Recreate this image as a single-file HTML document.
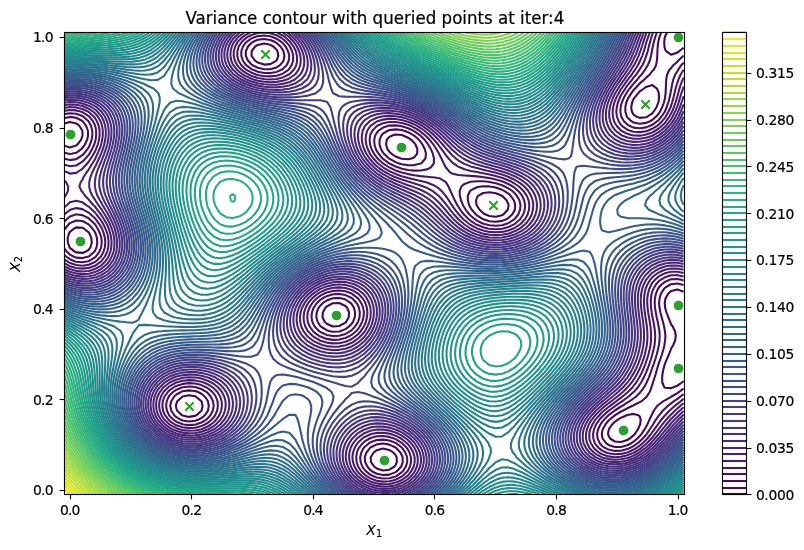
<!DOCTYPE html>
<html><head><meta charset="utf-8"><title>Variance contour</title>
<style>html,body{margin:0;padding:0;background:#fff}body{width:804px;height:550px;overflow:hidden}svg{display:block}</style></head>
<body>
<svg width="804" height="550" viewBox="0 0 804 550">
<rect width="804" height="550" fill="#fff"/>
<defs><clipPath id="ax"><rect x="64.5" y="32.5" width="620.0" height="462.0"/></clipPath></defs>
<g clip-path="url(#ax)" fill="none" stroke-width="2.083" stroke-linejoin="round">
<path stroke="#450559" d="M376.8 468.5l-2.7-2l-3.2-4.7l-0.2-4.6l3-4.7l3.1-2.3l6.2-1.6l6.3 1.3l4 2.6l2.3 2.6l1 2.1l0.3 4.6l-1.3 3.2l-1.1 1.5l-5.2 3.2l-6.3 0.8zM614.8 441.5l-4.7-3l-1.6-3l-0.5-1.7l0.5-2.9l0.4-1.7l3.2-4.7l2.7-2.7l2.7-2l3.5-2.1l5.8-2.5l0.5-0.2l6.2-1.1l5 1.3l1.3 1.3l0.9 3.3l-0.6 4.7l-0.3 0.7l-1.8 4l-3 4.6l-1.5 1.6l-3.7 3.1l-2.5 1.5l-6.3 2zM182.6 415.6l-0.7-0.4l-4.9-4.7l-0.6-2l-0.5-2.7l0.5-2.2l0.9-2.4l5.3-4.7l6.3-1.2l6.3 0.9l0.5 0.3l5.7 4.7l0 0.1l1.2 4.5l-1 4.7l-0.2 0.3l-4.9 4.4l-1.3 0.7l-6.3 1zM683.6 381.2l-1.7 1.3l-4.5 3.2l-4 1.5l-2.3 0.9l-6.2-0.4l-0.6-0.5l-2-4.7l-0.2-4.7l0.5-4.6l1-4.7l1.3-4.7l2-4.6l2-4.7l1.8-4.7l0.4-1.3l2.1-3.3l1.9-4.7l0.7-4.7l-0.8-4.6l-2.3-4.7l-1.6-2.1l-0.9-2.6l-1.9-4.6l-1.8-4.7l-1.4-4.7l-0.2-2.6l-0.2-2l0.2-1.3l0.6-3.4l2.6-4.7l3-2.8l6.3-1.6l6.2 2.4M326.7 323.7l-2-1.9l-2.2-4.6l0.3-4.7l2.6-4.7l1.3-1.3l6.2-3.3l1.5 0l4.8-0.2l0.6 0.2l5.7 2.8l1.7 1.8l1.9 4.7l-0.4 4.7l-2.5 4.6l-0.7 0.8l-6.3 3.4l-6.3 0.5zM76.2 252.4l-1.1-0.6l-5.2-4l-0.4-0.6l-1.7-4.7l-0.1-4.7l1.4-4.6l0.8-1.4l4.3-3.3l2-1.1l6.2 0.3l1.3 0.8l5 3.8l0.6 0.9l2 4.6l0.5 4.7l-1.3 4.7l-1.8 2.6l-3.3 2l-3 1.1zM489.5 216l-3.9-1.5l-2.4-1.4l-3.6-3.3l-2.6-4l-0.4-0.6l-0.6-4.7l1-2.8l1.1-1.9l5.1-2.8l6.3-0.8l6.3 1l6.2 2.5l0.2 0.1l4.5 4.7l1.6 3.7l0.3 1l-0.3 2l-0.6 2.6l-4.4 4.7l-1.3 0.7l-6.2 1.5zM401.8 158.8l-1.1-0.3l-5.1-2l-4-2.7l-2.3-2.1l-1.8-2.5l-1.5-4.7l0.8-4.7l2.5-2.9l3.7-1.7l2.6-0.7l6.2 0.5l0.7 0.2l5.6 2.5l3.1 2.1l3.2 3.2l1.1 1.5l1.9 4.7l-0.3 4.6l-2.7 3.4l-2.9 1.3l-3.4 0.8zM63.6 123.7l6.3-1.8l6.3 1.5l3.1 2.4l3 4.7l0.1 1.7l0.2 3l-0.2 0.8l-1.4 3.8l-3.6 4.7l-1.2 1.1l-6.3 1.8l-6.3-2M639.8 117.9l-3.6-1.4l-2.7-1.9l-1.6-2.8l-0.7-4.6l0.9-4.7l1.4-3.3l0.9-1.4l3.8-4.6l1.6-1.8l4.2-2.9l2.1-1.6l6.2-1.8l4.6 3.4l1.7 3.6l0.2 1.1l0.2 4.6l-0.4 3.2l-0.3 1.5l-1.8 4.7l-2.9 4.6l-1.3 1.5l-4.8 3.2l-1.4 0.8zM257.8 62.6l-2.9-2.1l-3.3-4.7l0-4.6l3.6-4.7l2.6-1.6l6.3-1.4l6.2 1.3l3 1.7l3.3 3.3l0.9 1.4l0.8 4.6l-1.7 4.7l0 0.1l-6.3 3.5l-6.2 0.5zM683.6 47.7l-4.5 3.5l-1.7 1.4l-6.3 2.1l-5-3.5l-1.2-2.4l-0.5-2.3l-0.2-4.7l0.6-4.6l0.1-0.2l2-4.5"/>
<path stroke="#460b5e" d="M376.8 473.7l-5-2.5l-1.3-1l-3.2-3.7l-2.2-4.7l-0.3-4.6l1.6-4.7l3.7-4.7l0.4-0.3l6.3-3.1l6.2-0.9l6.3 1.1l6.3 2.9l0.4 0.3l4.4 4.7l1.4 2.8l0.8 1.9l0.2 4.6l-1 3.2l-0.6 1.5l-4.3 4.7l-1.3 0.9l-6.3 2.5l-6.3 0.5zM182.6 420.5l-1.7-0.7l-4.5-2.6l-2.2-2l-3-4.7l-1-4.7l1-4.6l3-4.7l2.2-2l4.9-2.7l1.3-0.5l6.3-0.9l6.3 0.6l2.2 0.8l4 2l3.3 2.7l3 4.2l0.3 0.5l0.8 4.6l-0.8 4.7l-0.3 0.6l-2.8 4.1l-3.5 2.9l-3.4 1.7l-2.8 1l-6.3 0.7zM683.6 388.6l-4.5 3.2l-1.7 1.3l-5.8 3.4l-0.5 0.3l-6.2 3.5l-1.7 0.9l-4.6 3.6l-1.3 1l-3.4 4.7l-1.6 3.2l-0.7 1.5l-2.2 4.6l-2.1 4.7l-1.2 2.3l-1.4 2.4l-3.1 4.6l-1.8 2.2l-2.4 2.5l-3.9 3.2l-2.2 1.5l-4 2l-6.3 1.8l-6.2 0l-6.3-2.1l-2.4-1.7l-3.5-4.7l-0.4-1.7l-0.4-3l0.4-2.2l0.6-2.4l2.6-4.7l3.1-3.8l0.9-0.9l5.4-4.4l0.3-0.2l5.9-3.7l2.1-1l4.2-2.2l5.3-2.5l0.9-0.5l6.3-3.2l1.8-0.9l4.5-4l0.7-0.7l3-4.7l1.7-4.6l0.8-2.6l0.7-2.1l1.5-4.7l1.4-4.6l1.3-4.7l1.4-4.6l0-0.1l1.7-4.6l1.6-4.7l1.4-4.7l1.1-4.6l0.5-3.5l0.2-1.2l0.3-4.7l-0.5-4.6l0-0.1l-0.8-4.6l-1.2-4.7l-1.2-4.6l-1.3-4.7l-0.9-4.7l-0.4-4.6l0.4-4.7l1.4-4.7l2.8-4.6l1.2-1.3l5.4-3.4l0.8-0.3l6.3-0.7l4.1 1l2.1 0.6M332.9 331.8l-2.8-0.6l-3.4-1l-5.9-3.7l-0.4-0.3l-2.8-4.4l-1.3-4.6l0.4-4.7l1.9-4.7l1.8-2.4l2.3-2.2l4-2.7l5.3-2l0.9-0.3l6.3-0.3l2.8 0.6l3.5 1l5.4 3.7l0.8 0.9l2.3 3.7l1.1 4.7l-0.3 4.7l-1.8 4.6l-1.3 1.9l-2.6 2.8l-3.6 2.6l-5.3 2.1l-1 0.3zM63.6 231.3l1.6-2.8l4-4.7l0.7-0.7l6.3-2.6l6.2 0.5l5.3 2.8l1 0.6l3.7 4.1l2.6 3.6l0.5 1.1l1.4 4.6l0.4 4.7l-0.7 4.7l-1.6 3.7l-0.7 0.9l-5.5 4.7l-0.1 0.1l-6.3 1.5l-6.2-0.5l-2.7-1.1l-3.6-1.9l-3-2.8l-3.3-4.5M483.2 219.3l-0.3-0.1l-5.9-3.9l-1-0.8l-4.2-4.7l-1.1-1.8l-1.5-2.8l-1.3-4.7l-0.1-4.7l2.1-4.6l0.8-0.8l6.3-3.2l4-0.7l2.2-0.3l6.3 0.2l0.4 0.1l5.9 1.1l6.2 2.2l2.6 1.4l3.7 2.4l2.4 2.2l3.3 4.7l0.6 1.9l0.6 2.8l-0.4 4.6l-0.2 0.6l-2.4 4.1l-3.9 3.6l-1.8 1.1l-4.5 1.7l-6.2 0.9l-6.3-0.5zM401.8 164.2l-3.4-1l-2.8-1.1l-6.3-3.4l-0.3-0.2l-5-4.7l-1-1.2l-2-3.4l-1.5-4.7l0.1-4.7l2-4.6l1.4-1.6l5.2-3.1l1.1-0.4l6.3-0.7l6.2 0.6l1.5 0.5l4.8 1.7l5.3 3l1 0.6l4.5 4l1.7 2.1l1.9 2.6l2.3 4.7l1.2 4.6l-0.6 4.7l-4.1 4.7l-0.7 0.3l-6.2 1.6l-6.3 0.1zM63.6 118.2l6.3-1.3l6.3 0.9l6.2 3.2l0.2 0.2l3.5 4.6l1.8 4.7l0.2 4.7l-1 4.6l-2.2 4.7l-2.5 3.6l-1.1 1.1l-5.1 3.6l-4.7 1l-1.6 0.3l-1.2-0.3l-5.1-1.3M257.8 67.8l-5.3-2.6l-1-0.7l-3.6-4l-2.1-4.7l0-4.6l2.2-4.7l3.5-3.7l1.6-1l4.7-2l6.3-0.8l6.2 1l4.5 1.8l1.8 1.1l3.9 3.6l2.3 3.4l0.7 1.3l0.9 4.6l-0.8 4.7l-0.8 1.3l-2.8 3.4l-3.4 2.2l-6.3 1.9l-6.2 0zM683.6 55.6l-0.2 0.2l-5 4.7l-1 1.2l-4.1 3.5l-2.2 3l-1.7 1.6l-2.3 4.7l-0.8 4.7l-0.3 4.6l-0.2 4.7l-0.2 4.7l-0.6 4.6l-0.1 0.8l-1 3.9l-1.7 4.7l-2.3 4.6l-1.3 2.1l-2.4 2.6l-3.9 3.5l-2.2 1.2l-4 1.7l-6.3 0.9l-6.3-1.3l-2.2-1.3l-4-3.9l-0.5-0.8l-1.4-4.7l-0.1-4.6l1-4.7l1-2.5l1-2.2l3.1-4.6l2.1-3l1.6-1.7l4.4-4.7l0.3-0.4l4.9-4.2l1.4-1.6l3.7-3.1l2.5-3.5l1.4-1.2l2.4-4.6l0.8-4.7l0.4-4.7l0.1-4.6l0.3-4.7l0.6-4.7l0.3-1.4l0.8-3.2l1.8-4.7"/>
<path stroke="#471164" d="M376.8 477.5l-4.3-1.7l-2-1l-4.7-3.6l-1.5-1.8l-2-2.9l-1.7-4.7l-0.4-4.6l1.1-4.7l2.5-4.7l0.5-0.6l4.8-4l1.4-0.9l6.3-2.2l6.2-0.5l6.3 0.9l6.3 2.4l0.5 0.3l5.7 4.3l0.3 0.3l3.2 4.7l1.8 4.7l0.2 4.6l-1.4 4.7l-3 4.7l-1.1 1l-5.1 3.6l-1.1 0.6l-6.3 1.8l-6.3 0.3zM188.9 425.1l-5-0.6l-1.3-0.2l-6.2-2.6l-2.8-1.9l-3.5-3.2l-1.1-1.4l-2.1-4.7l-0.8-4.7l0.6-4.6l2.1-4.7l1.3-1.7l3.2-3l3.1-2.1l6.2-2.5l0.6 0l5.7-0.7l6.3 0.5l0.8 0.2l5.4 1.8l4.9 2.8l1.4 1.2l3 3.5l2.3 4.7l0.7 4.6l-0.8 4.7l-2.4 4.7l-2.8 3.2l-1.7 1.4l-4.6 2.7l-5.7 2l-0.5 0.1zM683.6 394.2l-3.1 2.3l-3.1 2.4l-3.4 2.3l-2.9 2.2l-3.2 2.4l-3 2.9l-1.9 1.8l-3.8 4.7l-0.6 0.7l-2.8 3.9l-2.8 4.7l-0.7 1l-2.4 3.7l-3.1 4.6l-0.7 0.9l-3.3 3.8l-3 2.9l-2.1 1.8l-4.2 2.9l-3.2 1.7l-3 1.3l-6.3 1.6l-6.2 0.2l-6.3-1.3l-3.7-1.8l-2.6-1.8l-2.5-2.8l-2.1-4.7l-0.5-4.7l1-4.6l2.3-4.7l1.8-2.7l1.7-2l4.6-4.6l0.1 0l6.2-4.7l6.2-4l1.3-0.7l5-3.1l2.5-1.5l3.7-2.7l2.7-2l3.6-3.7l0.9-1l3.4-4.6l2-3.8l0.5-0.9l2.1-4.7l1.8-4.6l1.6-4.7l0.2-0.8l1.5-3.9l1.5-4.6l1.4-4.7l1.2-4.7l0.7-3.5l0.3-1.1l0.6-4.7l0.2-4.7l-0.3-4.6l-0.8-4.7l-0.9-4.7l-1-4.6l-0.9-4.7l-0.8-4.7l-0.3-4.6l0.2-4.7l1-4.7l1.9-4.6l0.8-1.4l3-3.3l3.3-2.6l4.7-2.1l1.5-0.5l6.3-0.3l4.1 0.8l2.1 0.6M332.9 336.1l-1.6-0.3l-4.6-0.9l-6.3-2.9l-1.2-0.8l-4.6-4.7l-0.4-0.7l-1.9-4l-0.8-4.6l0.4-4.7l1.6-4.7l0.7-1l2.6-3.6l3.6-3.4l1.9-1.3l4.4-2.3l6.2-1.9l6.3-0.4l6.3 1.2l6.2 2.9l0.7 0.5l4.3 4.7l1.3 2.2l1 2.4l0.8 4.7l-0.3 4.7l-1.4 4.6l-0.1 0.3l-2.9 4.4l-3.4 3.6l-1.4 1.1l-4.8 2.7l-6.3 1.9zM489.5 225.3l-5.9-1.5l-0.4-0.1l-6.2-3.1l-2.1-1.4l-4.2-3.5l-1.2-1.2l-3.8-4.7l-1.2-2.1l-1.5-2.5l-1.9-4.7l-1.2-4.7l-0.3-4.6l1.7-4.7l3.2-2.6l6-2.1l0.2 0l6.3-0.6l6.2 0.1l5 0.5l1.3 0.2l6.3 1.3l6.2 2l2.9 1.2l3.4 1.8l4.2 2.9l2.1 1.9l2.3 2.7l2.6 4.7l1 4.7l-0.4 4.6l-1.9 4.7l-3.6 4.7l-6.3 4l-1.7 0.6l-4.6 1.4l-6.2 0.6zM63.6 222.2l3.1-3l3.2-2.7l5.8-2l0.5-0.1l1.2 0.1l5 0.6l6.3 3.2l0.9 0.9l4.9 4.6l0.5 0.5l2.6 4.2l2.3 4.7l1.3 4.1l0.2 0.5l0.3 4.7l-0.5 4.7l-1.9 4.6l-3.4 4.7l-0.9 0.9l-6.3 3.7l-0.4 0.1l-5.9 1l-6.2-0.5l-1.5-0.5l-4.8-2l-3.8-2.7l-2.5-2.3M401.8 168.7l-2.5-0.9l-3.7-1.3l-6.3-3l-0.5-0.3l-5.8-4.3l-0.4-0.4l-4-4.7l-1.8-2.9l-0.9-1.7l-1.4-4.7l-0.3-4.7l1.1-4.6l1.5-2.5l1.9-2.2l4.3-2.9l5.5-1.8l0.8-0.2l6.3-0.2l3.7 0.4l2.5 0.4l6.3 2l4.9 2.3l1.4 0.8l5.5 3.9l0.7 0.6l4 4l2.3 2.9l1.3 1.8l2.7 4.7l2 4.6l0.2 1.2l0.9 3.5l-0.2 4.7l-0.7 1.3l-2.7 3.3l-3.5 1.6l-6.3 1.1l-6.2 0.1l-6.3-0.6zM63.6 114.2l6.3-1l6.3 0.6l6.2 2.3l0.8 0.4l5.3 4.7l0.2 0.3l2.3 4.3l1.2 4.7l0.2 4.7l-0.8 4.6l-1.6 4.7l-1.3 2.8l-1.2 1.9l-3.8 4.6l-1.3 1.4l-5.2 3.3l-1 0.6l-6.3 1l-6.1-1.6l-0.2 0M257.8 71.7l-4.8-1.9l-1.5-0.7l-5.3-3.9l-0.9-1.1l-2.5-3.6l-1.5-4.7l0-4.6l1.7-4.7l2.3-3.3l1.3-1.4l4.9-3.4l3-1.2l3.3-1.1l6.3-0.6l6.2 0.8l2.7 0.9l3.6 1.5l4.7 3.1l1.5 1.4l2.8 3.3l2.5 4.7l1 4.1l0.1 0.5l-0.1 1.6l-0.3 3.1l-2.2 4.7l-3.8 3.8l-1.3 0.8l-4.9 2.1l-6.3 1.2l-6.2-0.1zM683.6 62.6l-2.3 2.6l-3.2 4.6l-0.7 1.4l-2.1 3.3l-1.9 4.7l-1.2 4.6l-0.8 4.7l-0.3 1.5l-0.6 3.2l-1 4.6l-1.2 4.7l-1.6 4.7l-1.8 4.3l-0.2 0.3l-3.2 4.7l-2.9 3.5l-1.3 1.2l-5 3.6l-2.2 1l-4 1.6l-6.3 0.9l-6.3-0.7l-4.1-1.8l-2.1-1.2l-3.4-3.4l-2.7-4.7l-0.2-0.9l-0.6-3.8l0.2-4.6l0.4-1.9l0.8-2.8l2-4.7l2.6-4.6l0.9-1.5l2.4-3.2l3.7-4.7l0.1-0.2l4.1-4.4l2.2-2.8l1.8-1.9l3.4-4.7l1.1-1.9l1.7-2.7l2-4.7l1.2-4.7l0.9-4.6l0.4-2.2l0.5-2.5l1.1-4.7l1.3-4.6l1.6-4.7"/>
<path stroke="#481668" d="M376.8 480.7l-0.7-0.2l-5.6-2.1l-4.2-2.6l-2-1.5l-3.1-3.1l-3.1-4.7l-0.1-0.2l-1.4-4.5l-0.4-4.6l0.7-4.7l1.1-2.9l0.9-1.8l3.8-4.6l1.6-1.5l5.3-3.2l0.9-0.5l6.3-1.7l6.2-0.3l6.3 0.9l4.8 1.6l1.5 0.6l6.2 3.8l0.4 0.3l4.5 4.6l1.4 2l1.4 2.7l1.4 4.7l0.2 4.6l-1.1 4.7l-1.9 3.8l-0.6 0.9l-4.7 4.6l-1 0.7l-6.2 3.2l-2.8 0.8l-3.5 0.8l-6.3 0.3zM176.4 425.3l-1.5-0.8l-4.8-3.2l-1.5-1.5l-3.6-4.6l-1.1-2.4l-0.9-2.3l-0.6-4.7l0.4-4.6l1.1-3.1l0.6-1.6l3.5-4.7l2.1-2l3.9-2.6l2.4-1.3l6.2-2l6.3-0.8l6.3 0.4l6.2 1.6l4.6 2.1l1.7 0.9l4.5 3.7l1.8 2.1l1.7 2.6l1.8 4.7l0.4 4.6l-0.7 4.7l-2 4.7l-1.2 1.8l-2.5 2.8l-3.8 3.1l-2.8 1.6l-3.5 1.6l-6.2 1.6l-6.3 0.4l-6.3-0.8zM683.6 398.9l-2.8 2.3l-3.4 2.7l-2.5 1.9l-3.8 3.4l-1.5 1.3l-4.4 4.7l-0.3 0.3l-3.7 4.3l-2.6 3.7l-0.7 1l-3.4 4.7l-2.2 3l-1.2 1.6l-3.8 4.7l-1.2 1.3l-3.4 3.4l-2.9 2.4l-3.2 2.2l-3.1 1.9l-6.2 2.8l-6.3 1.4l-6.2 0.3l-6.3-0.9l-2.3-0.8l-4-1.9l-3.7-2.8l-2.5-2.9l-1.1-1.7l-1.6-4.7l-0.2-4.7l0.9-4.6l2-4.6l0-0.1l3.3-4.7l2.9-3.3l1.4-1.3l4.9-4.3l0.5-0.4l5.8-4.2l0.6-0.5l5.6-3.8l1.3-0.8l5-3.7l1.4-1l4.8-4.4l0.4-0.3l4.1-4.6l1.8-2.7l1.3-2l2.6-4.7l2-4.6l0.4-0.8l1.6-3.9l1.7-4.7l1.5-4.6l1.4-4.7l0-0.3l1.2-4.4l1-4.6l0.5-4.7l0.2-4.7l-0.3-4.6l-0.6-4.7l-0.8-4.7l-1-4.6l-0.2-0.9l-0.6-3.8l-0.6-4.7l-0.3-4.6l0.1-4.7l0.7-4.7l0.7-2.4l0.9-2.2l2.7-4.7l2.7-3.1l2-1.6l4.3-2.5l6.2-2l3.7-0.1l2.6-0.1l0.4 0.1l5.8 1.3M320.4 336.6l-1.4-0.8l-4.8-3.5l-1.2-1.1l-3.3-4.7l-1.8-4.4l-0.1-0.3l-0.5-4.6l0.4-4.7l0.2-0.5l1.5-4.2l2.8-4.6l2-2.4l2.4-2.3l3.8-2.9l3.4-1.8l2.9-1.3l6.2-1.6l6.3-0.4l6.3 0.8l6.2 2.3l0.4 0.2l5.9 4.5l0.2 0.2l3.1 4.7l1.9 4.6l0.7 4.7l-0.4 4.7l-1.3 4.6l-2.4 4.7l-1.8 2.6l-1.9 2.1l-4.4 3.6l-1.7 1l-4.5 2.2l-6.3 1.6l-6.3 0.3l-6.2-1zM489.5 228.8l-1.6-0.3l-4.7-1.2l-6.2-2.5l-1.7-1l-4.6-3l-2-1.6l-4.2-4.1l-0.6-0.6l-3.6-4.7l-2.1-3.3l-0.9-1.3l-2.4-4.7l-2.3-4.7l-0.7-1.8l-1.3-2.8l-2.1-4.7l-2.8-4.6l-0.1-0.1l-6.2-3.6l-6.3-0.9l-1.4-0.1l-4.8-0.5l-6.3-0.6l-6.2-0.9l-6.3-1.1l-6.3-1.5l-0.2-0.1l-6-2.1l-5.6-2.6l-0.7-0.3l-6.3-4.1l-0.3-0.2l-5-4.7l-0.9-1l-2.7-3.7l-2.5-4.6l-1.1-3.2l-0.4-1.5l-0.5-4.7l0.6-4.6l0.3-0.9l2-3.8l4.3-4.4l0.4-0.3l5.8-2.6l6.3-1.2l6.3 0l6.2 1l6.3 1.8l2.5 1l3.8 1.8l4.7 2.9l1.5 1.1l4.4 3.6l1.9 1.8l2.7 2.8l3.5 4.4l0.3 0.3l3 4.7l2.7 4.6l0.3 0.7l2 4l2.3 4.7l2 4.1l0.4 0.5l4.1 4.7l1.7 1.1l6.3 1.4l6.3 0.5l6.2 0.4l6.3 0.5l6.2 0.7l0.6 0.1l5.7 0.9l6.3 1.4l6.2 1.8l1.3 0.5l5 2.2l4.5 2.5l1.8 1.2l3.9 3.5l2.3 2.7l1.4 1.9l2 4.7l0.9 4.7l-0.4 4.6l-1.5 4.7l-2.4 3.8l-0.6 0.9l-5.3 4.6l-0.3 0.3l-6.3 3l-5.1 1.4l-1.2 0.3l-6.2 0.5zM63.6 215.1l0.7-0.6l5.6-4.5l0.4-0.2l5.9-1.7l6.2 1l1.2 0.7l5.1 2.8l2.1 1.9l4.2 3.8l0.7 0.9l3.4 4.6l2.1 3.4l0.7 1.3l1.8 4.7l1.2 4.6l0.4 4.7l-0.4 4.7l-1.4 4.6l-2.3 4.3l-0.2 0.4l-4.9 4.7l-1.1 0.8l-6.3 2.7l-6.3 1l-6.2-0.7l-6.3-2.1l-3-1.7l-3.3-2.4M63.6 110.9l6.3-0.9l6.3 0.4l5.2 1.4l1 0.4l6.3 3.9l0.5 0.4l3.7 4.7l2.1 4l0.2 0.6l0.9 4.7l0.1 4.7l-0.6 4.6l-0.6 2.3l-0.8 2.4l-2.2 4.7l-2.6 4.6l-0.7 1.1l-3.2 3.6l-3.1 3.2l-2.4 1.5l-3.8 2.3l-6.3 0.8l-6.3-1.9M683.6 69.7l0 0.1l-2.9 4.7l-2.1 4.7l-1.2 3.7l-0.4 0.9l-1.4 4.7l-1.1 4.7l-1.1 4.6l-1.3 4.7l-1 3.1l-0.5 1.6l-2.2 4.6l-2.6 4.7l-0.9 1.4l-2.8 3.3l-3.5 3.5l-1.5 1.1l-4.8 3l-4.2 1.7l-2 0.7l-6.3 0.9l-6.3-0.4l-4.1-1.2l-2.1-0.8l-5.4-3.9l-0.9-0.9l-2.4-3.7l-1.7-4.7l-0.6-4.7l0.5-4.6l1.1-4.7l1.9-4.7l1.2-2.5l1.3-2.1l3-4.7l2-2.8l1.5-1.9l3.7-4.6l1-1.5l2.7-3.2l3.2-4.7l0.4-0.6l2.6-4l2.2-4.7l1.5-4.4l0.1-0.3l1.5-4.6l1.2-4.7l1.2-4.7l1.3-4.6l0.9-2.9l0.8-1.8M264.1 32.5l6.2 0.8l6.3 2l3.5 1.9l2.7 1.8l3.3 2.8l3 3.6l0.8 1.1l2.2 4.7l1.1 4.6l-0.1 4.7l-1.4 4.7l-2.6 3.9l-0.7 0.7l-5.6 3.8l-2.3 0.9l-3.9 1.2l-6.3 0.7l-6.2-0.2l-6.3-1.2l-1.7-0.5l-4.6-1.8l-5.1-2.9l-1.1-0.8l-3.9-3.8l-2.4-3.7l-0.5-1l-1.2-4.7l0.1-4.6l1.3-4.7l0.3-0.5l2.9-4.2l3.4-3.2l2-1.4l4.2-2.2l6.3-2l6.2-0.5"/>
<path stroke="#481b6d" d="M370.5 481.4l-1.9-0.9l-4.3-2.5l-2.8-2.2l-3.5-3.6l-0.8-1l-2.7-4.7l-1.6-4.7l-0.5-4.6l0.6-4.7l1.7-4.7l2.8-4.6l0.5-0.6l4.5-4.1l1.8-1.3l6.2-2.9l1.8-0.5l4.5-0.9l6.2-0.2l6.3 0.9l0.8 0.2l5.5 1.9l5.4 2.8l0.8 0.5l5.1 4.2l1.2 1.2l2.6 3.4l2.5 4.7l1.2 3.9l0.2 0.8l0.1 4.6l-0.3 1.7l-0.7 3l-2.4 4.7l-3.2 4.1l-0.6 0.5l-5.7 4.2l-1 0.5l-5.2 2.1l-6.3 1.4l-6.3 0.2l-6.2-0.8zM182.6 430.1l-3.4-0.9l-2.8-1l-6.3-3.3l-0.6-0.4l-5-4.7l-0.6-0.8l-2.4-3.8l-1.7-4.7l-0.7-4.7l0.4-4.6l1.5-4.7l2.6-4.7l0.3-0.3l4.4-4.3l1.8-1.4l6.2-3.3l0.1 0l6.2-1.7l6.3-0.7l6.3 0.3l6.2 1.3l2.4 0.8l3.9 1.7l4.8 3l1.5 1.2l3.3 3.4l2.9 4.7l0 0.2l1.4 4.5l0.3 4.6l-0.7 4.7l-1 2.7l-0.8 2l-3.3 4.6l-2.1 2.2l-3.1 2.5l-3.2 2l-6.2 2.7l-0.1 0l-6.2 1.3l-6.3 0.3zM683.6 403.3l-3.1 2.5l-3.1 2.7l-2.3 2l-4 3.9l-0.8 0.8l-4.2 4.6l-1.2 1.5l-2.7 3.2l-3.4 4.7l-0.2 0.2l-3.5 4.4l-2.8 3.5l-1 1.2l-4.4 4.7l-0.8 0.8l-4.6 3.8l-1.7 1.3l-5.6 3.4l-0.7 0.4l-6.2 2.4l-6.3 1.5l-6.1 0.4l-0.1 0l-0.1 0l-6.2-0.8l-6.3-2.1l-3.2-1.8l-3-2.3l-2.3-2.4l-2.9-4.6l-1.1-3.5l-0.3-1.2l-0.1-4.7l0.4-2l0.6-2.6l2.1-4.7l2.9-4.7l0.7-0.9l3.3-3.7l2.9-2.9l2.1-1.8l4.2-3.5l1.6-1.2l4.7-3.5l1.6-1.1l4.6-3.5l1.6-1.2l4.7-4l0.8-0.7l4.5-4.6l0.9-1.2l2.7-3.5l2.9-4.7l0.7-1.3l1.7-3.3l2.1-4.7l1.8-4.7l0.7-2.1l0.9-2.5l1.4-4.7l1.2-4.7l0.9-4.6l0.5-4.7l0.1-4.7l-0.2-4.6l-0.4-4.7l-0.7-4.7l-0.8-4.6l-0.8-4.7l-0.6-4.7l-0.4-4.6l0.1-4.7l0.6-4.7l1.3-4.6l2.1-4.7l1-1.6l2.6-3.1l3.7-3.2l2.4-1.4l3.9-1.9l6.2-1.5l6.3-0.1l6.2 1.3M320.4 340.7l-0.3-0.2l-5.9-3.3l-1.8-1.4l-4.5-4.6l-2.6-4.7l-1.4-4.7l-0.3-4.6l0.5-4.7l1.5-4.7l2.3-4.3l0.2-0.3l3.9-4.7l2.2-2.1l3.4-2.6l2.8-1.7l6.3-2.8l0.5-0.1l5.7-1.4l6.3-0.4l6.3 0.6l4.1 1.2l2.1 0.7l6.3 3.6l0.4 0.3l4.4 4.7l1.5 2.3l1.2 2.4l1.4 4.6l0.5 4.7l-0.4 4.7l-1.1 4.6l-1.6 4l-0.4 0.7l-3.2 4.7l-2.7 3l-1.9 1.6l-4.4 3.2l-3.2 1.5l-3 1.3l-6.3 1.4l-6.3 0.2l-6.2-0.8zM483.2 230.6l-6-2.1l-0.2-0.1l-6.3-3.4l-1.7-1.2l-4.5-3.6l-1.2-1l-4.4-4.7l-0.7-0.8l-3-3.9l-3.3-4.6l-3-4.7l-3.2-4.6l0-0.1l-3.9-4.6l-2.4-2.3l-3.4-2.4l-2.9-1.6l-6.2-2.3l-2.8-0.8l-3.5-0.8l-6.2-1.5l-6.3-1.5l-2.7-0.8l-3.6-1l-6.2-2.3l-3.2-1.4l-3.1-1.4l-5.5-3.3l-0.8-0.5l-5.2-4.1l-1-1l-3.4-3.7l-2.9-3.9l-0.5-0.8l-2.2-4.6l-1.5-4.7l-0.7-4.7l0.3-4.6l1.5-4.7l3.1-4.7l6.3-4.3l0.8-0.3l5.4-1.6l6.3-0.8l6.3 0.2l6.2 1l4.3 1.2l2 0.6l6.3 2.6l2.6 1.4l3.6 2.2l3.6 2.5l2.7 2.2l2.8 2.5l3.4 3.5l1.1 1.1l3.9 4.7l1.3 1.8l2.2 2.9l3.4 4.6l0.7 1l2.9 3.7l3.3 3.6l1.3 1.1l5 3.4l2.7 1.2l3.6 1.4l6.2 1.7l6.3 1.2l2.1 0.4l4.1 0.8l6.3 1.2l6.3 1.5l4.1 1.2l2.1 0.6l6.3 2.4l3.3 1.6l3 1.7l4.3 3l1.9 1.7l2.9 3l3.1 4.6l0.3 0.6l1.5 4.1l0.7 4.7l-0.3 4.6l-1.4 4.7l-0.5 1.1l-2.1 3.6l-4.2 4.6l-6.2 4.2l-1.2 0.5l-5.1 2l-6.3 1.4l-6.2 0.4l-6.3-0.4zM63.6 207.8l3.2-2.6l3.1-2.9l6.3-1.6l6.2 1.6l3.9 2.9l2.4 1.4l3.3 3.2l3 2.7l1.5 2l3.7 4.7l1 1.4l1.9 3.2l2.3 4.7l1.8 4.7l0.3 1.1l0.7 3.5l0.4 4.7l-0.3 4.7l-0.8 3.6l-0.3 1l-2.3 4.7l-3.5 4.7l-0.2 0.1l-6.2 4.5l-0.1 0l-6.2 2.1l-6.3 0.7l-6.2-0.6l-6.3-1.8l-0.7-0.4l-5.6-3.2M63.6 107.9l5.4-0.7l0.9-0.1l2.5 0.1l3.8 0.2l6.2 1.6l6 2.8l0.3 0.2l5 4.5l1.3 1.5l1.9 3.2l1.8 4.6l0.9 4.7l0 4.7l-0.6 4.6l-1.2 4.7l-1.8 4.7l-1 2.4l-1.3 2.2l-2.9 4.7l-2.1 3.3l-1.3 1.4l-4.2 4.6l-0.8 1l-5.7 3.7l-0.5 0.4l-6.3 0.7l-2.1-1.1l-4.2-1.6M683.6 77.6l-0.7 1.6l-1.9 4.6l-1.5 4.7l-1.3 4.7l-0.8 3.1l-0.5 1.5l-1.4 4.7l-1.6 4.7l-1.9 4.6l-0.9 1.7l-1.7 3l-3.2 4.7l-1.3 1.7l-3 2.9l-3.3 2.9l-2.9 1.8l-3.4 1.9l-6.2 2.2l-3.2 0.6l-3.1 0.4l-6.3-0.2l-1.2-0.2l-5-1.4l-6.3-3.3l-4.4-4.7l-1.8-3l-0.8-1.6l-1.1-4.7l-0.3-4.7l0.6-4.6l1.1-4.7l0.5-1.1l1.4-3.6l2.5-4.6l2.3-4.1l0.5-0.6l3.3-4.7l2.5-3.5l0.9-1.1l3.6-4.7l1.7-2.7l1.5-2l2.9-4.6l1.9-3.9l0.4-0.8l2.1-4.7l1.5-4.6l1.4-4.7l0.9-3.2l0.4-1.5l1.6-4.6l1.7-4.7M277 32.5l5.8 3.1l2.3 1.6l4 3.5l1.1 1.1l3.3 4.7l1.9 3.7l0.4 1l1.1 4.6l0.2 4.7l-0.8 4.7l-0.9 1.9l-1.6 2.7l-4.7 4.6l-0.2 0.1l-6.1 2.9l-6.2 1.6l-2.4 0.2l-3.9 0.3l-5.7-0.3l-0.5-0.1l-6.3-1.2l-6.3-2l-3-1.4l-3.2-1.8l-3.8-2.9l-2.5-2.4l-1.8-2.2l-2.4-4.7l-1.1-4.7l0.1-4.6l1.4-4.7l2.6-4.7l1.2-1.4l3.4-3.2l2.9-2.1l4.9-2.6"/>
<path stroke="#482071" d="M376.8 485.9l-2.9-0.7l-3.4-1.1l-6.2-2.9l-1.1-0.7l-5.2-4.1l-0.6-0.6l-3.8-4.6l-1.9-3.3l-0.7-1.4l-1.4-4.7l-0.5-4.6l0.3-4.7l1.3-4.7l1-2.1l1.5-2.5l3.8-4.7l1-0.9l5.3-3.8l1-0.5l6.2-2.5l6.3-1.2l6.2 0l6.3 1l6.3 1.9l2.8 1.3l3.4 1.8l4.2 2.9l2.1 1.7l2.9 3l3.4 4.4l0.1 0.2l2.1 4.7l1.1 4.7l0.1 4.6l-0.9 4.7l-2 4.7l-0.5 0.9l-3 3.7l-3.3 3.1l-2.2 1.6l-4.1 2.3l-5.9 2.4l-0.3 0.1l-6.3 1.1l-6.3 0.2zM176.4 430.9l-4-1.7l-2.3-1.2l-4.7-3.5l-1.5-1.4l-2.8-3.3l-2.8-4.6l-0.7-1.8l-0.9-2.9l-0.6-4.7l0.2-4.6l1.2-4.7l0.1-0.1l2.4-4.6l3.6-4.6l0.3-0.2l5.8-4.5l0.4-0.2l6.3-2.8l6.2-1.6l0.3-0.1l6-0.5l6.3 0.2l2.1 0.3l4.1 0.8l6.3 2.1l3.7 1.8l2.6 1.5l3.9 3.2l2.3 2.5l1.6 2.1l2.4 4.7l1.3 4.7l0.2 4.6l-0.7 4.7l-1.7 4.7l-2.9 4.6l-0.2 0.3l-4.4 4.4l-1.8 1.4l-5.4 3.3l-0.9 0.4l-6.3 2.2l-6.2 1.2l-6.3 0.3l-6.3-0.7zM683.6 407.2l-3.7 3.3l-2.5 2.3l-2.5 2.4l-3.8 3.9l-0.7 0.7l-4.1 4.7l-1.4 1.8l-2.4 2.9l-3.6 4.6l-0.3 0.4l-3.7 4.3l-2.6 2.9l-1.6 1.8l-4.6 4.3l-0.4 0.3l-5.9 4.4l-0.5 0.3l-5.8 3.1l-3.9 1.6l-2.3 0.8l-6.3 1.3l-6.2 0.4l-6.3-0.6l-6.3-1.7l-0.6-0.2l-5.6-3.1l-2.2-1.6l-4.1-4.3l-0.3-0.4l-2.3-4.6l-1.1-4.7l0-4.7l1-4.6l1.8-4.7l0.9-1.6l2-3.1l3.6-4.6l0.7-0.7l4-4l2.2-2.1l3.2-2.6l3.1-2.5l2.9-2.1l3.4-2.7l2.6-2l3.6-3l2-1.7l4.3-4.2l0.4-0.4l4-4.7l1.8-2.7l1.4-2l2.6-4.6l2.2-4.7l0.1-0.2l1.9-4.5l1.7-4.6l1.4-4.7l1.1-4.7l0.2-1.1l0.7-3.5l0.5-4.7l0.2-4.7l-0.2-4.6l-0.4-4.7l-0.7-4.7l-0.1-0.8l-0.6-3.8l-0.7-4.7l-0.5-4.7l-0.3-4.6l0-4.7l0.5-4.7l1-4.6l0.6-1.7l1.3-3l2.9-4.7l2-2.4l2.5-2.2l3.8-2.7l4.4-2l1.9-0.7l6.2-1.2l6.3 0l6.2 1.2M326.7 346.1l-3.4-0.9l-2.9-0.9l-6.2-2.9l-1.5-0.9l-4.8-3.8l-0.9-0.9l-3.5-4.6l-1.9-3.9l-0.3-0.8l-1.1-4.7l-0.2-4.6l0.6-4.7l1-3.3l0.5-1.4l2.4-4.6l3.4-4.7l4.9-4.7l1.4-1l5.7-3.6l0.5-0.3l6.3-2.5l6.2-1.5l5.4-0.4l0.9-0.1l1 0.1l5.3 0.4l6.2 1.6l5.7 2.7l0.6 0.3l5.3 4.3l1 1.1l2.6 3.6l2.2 4.7l1.3 4.6l0.1 1.2l0.3 3.5l-0.3 4l0 0.7l-1.2 4.6l-1.8 4.7l-2.7 4.7l-0.5 0.8l-3.4 3.8l-2.9 2.8l-2.6 1.9l-3.7 2.3l-5.9 2.4l-0.3 0.1l-6.3 1.3l-6.3 0.2zM483.2 233.6l-1.5-0.4l-4.7-1.6l-6.3-2.9l-0.3-0.2l-5.9-4l-0.9-0.7l-5.3-4.6l-0.1-0.2l-4.2-4.5l-2.1-2.6l-1.7-2.1l-3.6-4.6l-0.9-1.3l-2.8-3.4l-3.5-3.9l-0.8-0.8l-5.5-4.4l-0.3-0.2l-5.9-3.3l-3.5-1.4l-2.8-1l-6.2-2l-5.5-1.7l-0.8-0.2l-6.3-2l-6.2-2.3l-0.3-0.1l-6-2.8l-3.5-1.9l-2.8-1.6l-4.2-3.1l-2-1.6l-3.2-3l-3.1-3.4l-1-1.3l-3.1-4.7l-2.1-4.3l-0.2-0.3l-1.5-4.7l-0.8-4.7l0-4.6l1-4.7l1.5-3.3l0.8-1.4l4.6-4.6l0.8-0.6l6.3-2.9l5-1.2l1.2-0.2l6.3-0.4l6.3 0.3l1.8 0.3l4.4 0.8l6.3 1.8l5.4 2.1l0.9 0.3l6.2 3.4l1.6 0.9l4.7 3.3l1.8 1.4l4.4 3.9l0.9 0.8l4.5 4.6l0.9 1.1l3.3 3.6l3 3.6l1 1.1l4.2 4.6l1 1.2l4 3.5l2.3 1.8l4.8 2.9l1.5 0.7l6.2 2.5l5.1 1.4l1.2 0.3l6.2 1.6l6.3 1.5l5.4 1.3l0.9 0.2l6.2 1.9l6.3 2.2l0.9 0.4l5.4 2.5l3.6 2.1l2.6 1.8l3.5 2.9l2.8 3l1.3 1.7l2.7 4.6l1.6 4.7l0.6 4.7l-0.4 4.6l-1.2 4.7l-2.4 4.7l-2.2 3l-1.5 1.6l-4.8 4.1l-0.9 0.6l-5.3 2.8l-5 1.9l-1.3 0.4l-6.3 1.1l-6.2 0.4l-6.3-0.4zM63.6 198.1l1.9-2.3l2.4-4.6l0.3-4.7l-2.4-4.7l-2.2-1.7M63.6 105.3l6.3-0.8l6.3 0.3l6.2 1.3l3 1.1l3.3 1.5l4.6 3.1l1.7 1.5l2.8 3.2l2.7 4.7l0.7 1.8l0.9 2.8l0.7 4.7l0 4.7l-0.6 4.6l-1 4.6l0 0.1l-1.7 4.7l-2 4.6l-2.2 4.7l-0.3 0.7l-2.5 4l-2.8 4.6l-1 1.8l-2.2 2.9l-3 4.7l-1.1 2.7l-1.6 1.9l-1.4 4.7l2.2 4.7l0.8 0.6l2.6 4l3.7 3.6l0.7 1.1l4.1 4.7l1.5 1.4l2.4 3.2l3.6 4.7l0.2 0.2l2.8 4.5l2.6 4.6l0.9 1.8l1.2 2.9l1.5 4.7l1 4.6l0.4 4.7l-0.3 4.7l-0.9 4.6l-1.9 4.7l-1 1.8l-2.1 2.9l-4.2 4.2l-0.6 0.4l-5.6 3.2l-4.6 1.5l-1.7 0.5l-6.3 0.5l-6.2-0.6l-1.4-0.4l-4.9-1.5l-6.3-3.1M683.6 86.6l-0.6 1.9l-1.6 4.7l-1.4 4.6l-1.4 4.7l-1.2 3.7l-0.4 1l-2 4.6l-2.3 4.7l-1.6 2.7l-1.3 2l-3.8 4.6l-1.1 1.3l-4 3.4l-2.3 1.7l-5.2 3l-1.1 0.5l-6.2 2.1l-6.3 1l-6.3 0l-6.2-1.3l-5.8-2.3l-0.5-0.3l-5.6-4.4l-0.6-0.7l-2.8-4l-1.9-4.6l-0.9-4.7l0-4.7l0.7-4.6l1.3-4.7l1.8-4.7l1.8-3.7l0.5-0.9l2.8-4.7l2.9-4.5l0.1-0.2l3.5-4.6l2.7-4l0.5-0.7l3.3-4.7l2.4-4l0.5-0.6l2.5-4.7l2.1-4.7l1.2-3.4l0.5-1.2l1.6-4.7l1.5-4.7l1.5-4.6l1.2-3.2l0.6-1.5M282.7 32.5l0.1 0.1l6.3 4.3l0.3 0.3l4.4 4.6l1.6 2.3l1.5 2.4l2.2 4.7l1.3 4.6l0.4 4.7l-0.5 4.7l-1.8 4.6l-3.1 4.4l-0.4 0.3l-5.9 4l-1.5 0.7l-4.8 1.6l-6.2 1.1l-6.3 0.3l-6.2-0.4l-6.3-1.1l-5.2-1.5l-1.1-0.4l-6.2-2.9l-2.4-1.4l-3.9-2.9l-1.9-1.8l-3.7-4.6l-0.7-1.3l-1.4-3.4l-0.9-4.7l0.2-4.6l1.2-4.7l0.9-1.9l1.6-2.8l3.8-4.6l0.9-0.8l5.4-3.9"/>
<path stroke="#482475" d="M370.5 486.6l-3.5-1.4l-2.7-1.3l-5.4-3.4l-0.9-0.7l-4.2-4l-2.1-2.6l-1.5-2l-2.3-4.7l-1.5-4.7l-0.7-4.6l0.3-4.7l1.1-4.7l2.1-4.6l2.5-3.9l0.7-0.8l4.8-4.7l0.8-0.6l6.3-3.7l1-0.3l5.2-1.8l6.3-0.9l6.2 0.1l6.3 1l5.2 1.6l1.1 0.3l6.2 2.9l2.3 1.4l4 2.8l2.2 1.9l4.1 4.2l0.3 0.5l3 4.6l2.1 4.7l0.8 3.5l0.3 1.2l0.1 4.6l-0.4 2l-0.5 2.7l-2 4.7l-3 4.6l-0.7 0.8l-4.2 3.9l-2.1 1.6l-5.5 3.1l-0.8 0.3l-6.2 2.1l-6.3 1.1l-6.3 0.2l-6.2-0.7zM182.6 434.9l-4.6-1.1l-1.6-0.4l-6.3-2.7l-2.5-1.5l-3.7-2.8l-2.1-1.9l-4-4.7l-0.2-0.4l-2.2-4.2l-1.5-4.7l-0.6-4.7l0.2-4.6l1.1-4.7l2-4.7l1-1.6l2.3-3l4-4l0.9-0.7l5.3-3.3l3.1-1.4l3.2-1.2l6.2-1.4l6.3-0.6l6.3 0.2l6.2 0.9l6.3 1.7l1 0.4l5.3 2.5l3.5 2.2l2.7 2.2l2.5 2.5l3.4 4.6l0.4 0.8l1.7 3.9l1 4.7l0.1 4.6l-0.7 4.7l-1.6 4.7l-0.5 0.9l-2.2 3.7l-4 4.7l-0.1 0l-6 4.7l-0.2 0.1l-6.3 3l-4.4 1.5l-1.9 0.6l-6.2 1l-6.3 0.2zM683.6 411l-4.5 4.2l-1.7 1.7l-3 2.9l-3.3 3.6l-0.9 1.1l-4 4.7l-1.3 1.5l-2.6 3.1l-3.7 4.5l-0.2 0.2l-4.2 4.7l-1.9 1.8l-3 2.8l-3.2 2.8l-2.6 1.9l-3.7 2.4l-4.2 2.3l-2.1 1l-6.2 2.2l-6.3 1.3l-1.3 0.1l-4.9 0.3l-4.4-0.3l-1.9-0.1l-6.3-1.6l-6.2-2.7l-0.5-0.2l-5.8-4.4l-0.3-0.3l-3.6-4.7l-2.2-4.6l-0.2-0.9l-0.7-3.8l0.1-4.7l0.6-3.4l0.3-1.2l1.9-4.7l2.7-4.7l1.4-2l2.1-2.6l4.2-4.6l0-0.1l5.2-4.7l1-0.9l4.6-3.7l1.7-1.4l4.2-3.3l2.1-1.7l3.5-3l2.7-2.5l2.2-2.1l4.1-4.6l0.1-0.1l3.5-4.7l2.6-4.4l0.2-0.2l2.4-4.7l2.1-4.7l1.6-4.5l0.1-0.1l1.5-4.7l1.1-4.7l0.9-4.6l0.5-4.7l0.2-4.7l-0.1-4.6l-0.4-4.7l-0.5-4.7l-0.7-4.6l-0.7-4.7l-0.5-4.7l-0.4-4.6l0-4.7l0.4-4.7l0.9-4.6l1.6-4.7l2.4-4.7l3.8-4.6l2.4-2.4l3.4-2.3l2.9-1.7l6.3-2.3l4-0.7l2.2-0.3l6.3 0.1l1.2 0.2l5 1M332.9 350.1l-2.3-0.3l-3.9-0.4l-6.3-1.6l-6.2-2.5l-0.3-0.1l-6-3.8l-1.1-0.9l-4.5-4.7l-0.7-0.9l-2.2-3.7l-1.8-4.7l-0.9-4.7l0-4.6l0.7-4.7l1.5-4.7l2.2-4.6l0.5-0.9l2.7-3.8l3.6-4l0.7-0.7l5.6-4.3l0.5-0.3l5.7-3.1l4-1.6l2.3-0.8l6.2-1.4l6.3-0.6l6.3 0.4l6.2 1.3l3 1.1l3.3 1.5l4.9 3.2l1.4 1.1l3.3 3.5l2.9 4.4l0.2 0.3l1.8 4.7l1.1 4.6l0.3 4.7l-0.4 4.7l-1 4.6l-1.6 4.7l-0.4 0.8l-2.1 3.9l-3.2 4.6l-0.9 1.1l-3.7 3.6l-2.6 2.2l-4.1 2.5l-2.2 1.2l-6.2 2.3l-6.1 1.1l-0.2 0.1zM477 234.6l-3.5-1.4l-2.8-1.3l-6-3.4l-0.2-0.2l-5.9-4.5l-0.4-0.3l-4.6-4.3l-1.7-1.8l-2.6-2.9l-3.6-4.3l-0.4-0.4l-4-4.6l-1.9-2.2l-2.6-2.5l-3.7-3.3l-1.8-1.4l-4.4-2.9l-3.4-1.7l-2.9-1.4l-6.2-2.4l-2.4-0.9l-3.9-1.3l-6.3-2.3l-2.8-1.1l-3.4-1.3l-6.3-2.8l-0.9-0.5l-5.4-3l-2.5-1.7l-3.7-2.7l-2.4-2l-3.9-3.7l-0.9-0.9l-3.7-4.7l-1.6-2.5l-1.3-2.2l-2.2-4.6l-1.6-4.7l-1-4.7l-0.2-4.6l0-0.1l0.6-4.6l1.6-4.7l3.3-4.6l0.8-0.8l5.8-3.9l0.4-0.2l6.3-2l6.2-1l6.3-0.2l6.3 0.6l6.2 1.1l6.3 1.7l0.1 0l6.2 2.4l4.6 2.3l1.6 0.8l6.2 3.8l0.1 0.1l6 4.6l0.2 0.2l5 4.5l1.3 1.3l3.3 3.3l3 3.2l1.5 1.5l4.5 4.7l0.2 0.2l4.9 4.4l1.4 1.2l5.1 3.5l1.2 0.7l6.2 3l2.6 1l3.7 1.3l6.2 1.8l5.9 1.5l0.4 0.1l6.3 1.8l6.2 1.8l3.1 1l3.2 1.1l6.3 2.6l1.8 1l4.4 2.5l3.2 2.1l3.1 2.6l2.2 2.1l3.6 4.7l0.4 0.8l1.9 3.8l1.3 4.7l0.5 4.7l-0.3 4.6l-1.2 4.7l-2.1 4.7l-0.1 0.1l-3.2 4.5l-3 3.1l-1.9 1.6l-4.4 2.9l-3.3 1.8l-2.9 1.2l-6.3 1.9l-6.3 1.2l-6.2 0.3l-6.3-0.3l-6.3-1.1zM63.6 102.8l2.6-0.3l3.7-0.4l6.3 0.1l1.7 0.3l4.5 0.9l6.3 2.3l2.8 1.5l3.5 2.3l2.6 2.3l3.6 4.3l0.3 0.4l2.3 4.7l1.4 4.6l0.6 4.7l0 4.7l-0.6 4.6l-1 4.7l-1.4 4.7l-1.6 4.3l-0.1 0.3l-2.1 4.7l-2.2 4.7l-1.8 3.9l-0.5 0.7l-2.3 4.7l-1.8 4.7l-1.1 4.6l-0.1 4.7l1 4.7l2.2 4.6l2.6 3.8l0.4 0.9l3.1 4.7l2.7 3.7l0.6 0.9l2.9 4.7l2.8 4.6l0 0.1l2.3 4.6l1.9 4.7l1.5 4.7l0.6 2.7l0.3 1.9l0.4 4.7l-0.2 4.7l-0.5 3.2l-0.3 1.4l-1.7 4.7l-2.6 4.7l-1.7 2.2l-2.4 2.4l-3.9 3.1l-2.8 1.6l-3.4 1.6l-6.3 1.6l-6.3 0.4l-6.2-0.7l-6.3-1.7l-2.8-1.2l-3.5-1.7M683.6 96.1l-0.5 1.7l-1.6 4.7l-1.6 4.7l-1.9 4.6l-0.6 1.4l-1.7 3.3l-2.7 4.7l-1.9 2.7l-1.6 1.9l-4.3 4.7l-0.3 0.3l-5.8 4.4l-0.5 0.3l-6.3 3.3l-3.2 1l-3 1l-6.3 1l-6.3 0.1l-6.2-0.9l-3.7-1.2l-2.6-0.9l-6.1-3.7l-0.1-0.2l-4.2-4.5l-2.1-3.4l-0.6-1.3l-1.5-4.6l-0.6-4.7l0.2-4.7l0.7-4.6l1.3-4.7l0.5-1.2l1.4-3.5l2.3-4.6l2.6-4.6l0-0.1l3.1-4.7l3.1-4.6l0.1 0l3.3-4.7l2.9-4.4l0.2-0.3l3-4.6l2.5-4.7l0.5-1.2l1.8-3.5l1.9-4.6l1.6-4.7l1-3l0.6-1.7l1.7-4.6l1.8-4.7M287.1 32.5l2 1.4l3.8 3.3l2.5 2.6l1.7 2l3 4.7l1.5 3.2l0.7 1.5l1.4 4.6l0.6 4.7l-0.2 4.7l-1.2 4.6l-1.3 2.6l-1.3 2.1l-4.9 4.6l-0.1 0.1l-6.2 3l-5.9 1.6l-0.4 0.1l-6.2 0.8l-6.3 0.1l-6.2-0.5l-3-0.5l-3.3-0.6l-6.3-1.8l-5.7-2.2l-0.5-0.3l-6.3-3.7l-0.9-0.7l-5-4.7l-0.4-0.4l-2.8-4.2l-1.9-4.7l-0.8-4.7l0.3-4.6l1.2-4.7l2.3-4.7l1.7-2.4l1.9-2.2l4.4-4.1l0.8-0.6"/>
<path stroke="#482979" d="M376.8 490.4l-2.6-0.6l-3.7-0.9l-6.2-2.5l-2.4-1.2l-3.9-2.5l-2.9-2.2l-3.4-3.2l-1.3-1.5l-3.3-4.6l-1.6-3.2l-0.8-1.5l-1.4-4.7l-0.6-4.6l0.1-4.7l0.9-4.7l1.7-4.6l0.1-0.2l2.7-4.5l3.5-4.3l0.4-0.4l5.8-4.6l0.1-0.1l6.3-3.1l4.8-1.5l1.4-0.4l6.3-0.7l6.2 0.2l5.3 0.9l1 0.2l6.3 1.9l5.7 2.6l0.5 0.2l6.3 3.9l0.7 0.5l5.4 4.7l0.2 0.2l3.7 4.5l2.5 4l0.4 0.6l1.8 4.7l1 4.7l0 4.6l-0.8 4.7l-1.7 4.7l-0.7 1.1l-2.3 3.5l-3.9 4.5l-0.3 0.2l-6 4.4l-0.5 0.3l-5.8 2.7l-6 1.9l-0.2 0.1l-6.3 1l-6.3 0.1zM176.4 435.6l-4.8-1.8l-1.5-0.6l-6.2-3.8l-0.4-0.2l-5-4.7l-0.9-1l-2.6-3.7l-2.4-4.6l-1.3-4.1l-0.1-0.6l-0.6-4.7l0.1-4.6l0.6-3.1l0.4-1.6l1.9-4.7l2.8-4.6l1.2-1.6l3.1-3.1l3.2-2.6l3.2-2.1l3-1.6l6.3-2.3l3.3-0.7l2.9-0.6l6.3-0.6l6.3 0.1l6.2 0.8l1.3 0.3l5 1.2l6.3 2.4l2 1l4.2 2.6l2.7 2.1l3.6 3.6l0.8 1.1l2.9 4.6l1.8 4.7l0.7 4l0.2 0.7l0 4.6l-0.2 1.1l-0.5 3.6l-1.6 4.7l-2.6 4.6l-1.5 2.1l-2.2 2.6l-4.1 3.6l-1.3 1.1l-4.9 2.9l-3.6 1.7l-2.7 1.1l-6.3 1.8l-6.2 0.9l-6.3 0.2l-6.3-0.7zM683.6 414.6l-0.6 0.6l-4.8 4.6l-0.8 0.9l-3.6 3.8l-2.7 3l-1.5 1.7l-3.9 4.6l-0.8 1l-3.3 3.7l-3 3.4l-1.1 1.3l-4.7 4.6l-0.5 0.5l-5 4.2l-1.2 1l-5.7 3.7l-0.6 0.3l-6.3 3l-3.6 1.3l-2.6 0.9l-6.3 1.2l-6.2 0.4l-6.3-0.4l-6.3-1.2l-2.4-0.9l-3.8-1.6l-5.3-3l-1-0.8l-4.1-3.9l-2.2-3l-1-1.7l-1.9-4.6l-0.8-4.7l0.1-4.7l0.9-4.6l1.8-4.7l0.9-1.8l1.7-2.9l3.3-4.6l1.3-1.6l2.9-3.1l3.4-3.4l1.3-1.3l4.9-4.3l0.5-0.3l5.6-4.7l0.2-0.2l5.4-4.5l0.9-0.8l4.2-3.8l2-2.2l2.3-2.5l3.7-4.7l0.3-0.4l2.8-4.2l2.5-4.7l0.9-2.1l1.3-2.6l1.8-4.6l1.5-4.7l1.1-4.7l0.6-3.1l0.3-1.5l0.6-4.7l0.2-4.7l-0.1-4.6l-0.3-4.7l-0.6-4.7l-0.1-0.7l-0.5-3.9l-0.6-4.7l-0.5-4.7l-0.3-4.6l-0.1-4.7l0.3-4.7l0.8-4.6l0.9-3.4l0.4-1.3l2.2-4.7l3-4.6l0.7-0.8l4.1-3.9l2.1-1.7l5.4-3l0.9-0.4l6.3-1.9l6.2-0.8l6.3 0.1l6.2 1.2M320.4 351.3l-4.1-1.5l-2.1-0.8l-6.3-3.4l-0.7-0.4l-5.6-4.7l-3.7-4.7l-2.5-4.6l0-0.2l-1.4-4.5l-0.6-4.7l0.1-4.6l0.7-4.7l1.2-3.7l0.3-1l2.2-4.6l3-4.7l0.7-0.9l3.4-3.8l2.9-2.7l2.5-1.9l3.8-2.6l3.8-2.1l2.4-1.2l6.3-2.2l5.4-1.3l0.8-0.1l6.3-0.6l6.3 0.2l3.1 0.5l3.1 0.6l6.3 2.3l3.4 1.8l2.9 1.8l3.3 2.9l2.9 3.2l1.1 1.4l2.5 4.7l1.7 4.7l0.9 4.6l0.1 1.1l0.1 3.6l-0.1 2.1l-0.2 2.6l-1 4.6l-1.6 4.7l-2.2 4.7l-1.3 2.2l-1.6 2.4l-3.9 4.7l-0.7 0.8l-4.6 3.9l-1.7 1.3l-6.1 3.3l-0.2 0.1l-6.2 2.2l-6.3 1.1l-6.3 0.1l-6.2-0.6zM483.2 239l-4.7-1.2l-1.5-0.4l-6.3-2.4l-3.7-1.8l-2.5-1.5l-5-3.2l-1.3-1l-4.4-3.7l-1.9-1.7l-2.9-2.9l-3.3-3.6l-1.1-1.1l-4.3-4.7l-0.9-1l-3.6-3.6l-2.7-2.6l-2.5-2.1l-3.7-2.7l-3.1-2l-3.2-1.7l-6.2-2.9l-0.1 0l-6.2-2.5l-5.6-2.2l-0.7-0.3l-6.2-2.5l-4.1-1.9l-2.2-1l-6.3-3.4l-0.4-0.2l-5.8-3.9l-1-0.8l-5.3-4.5l-0.2-0.2l-4.2-4.6l-1.8-2.3l-1.8-2.4l-2.8-4.7l-1.7-3.6l-0.5-1l-1.6-4.7l-1-4.7l-0.5-4.6l0.2-4.7l1.1-4.7l2.3-4.6l4.6-4.7l1.7-1.1l6.2-2.8l2.8-0.8l3.5-0.7l6.2-0.6l6.3 0.1l6.3 0.6l3.6 0.6l2.6 0.5l6.3 1.8l6.3 2.3l0.2 0.1l6 2.9l3.2 1.8l3.1 1.9l4 2.7l2.2 1.7l3.7 3l2.6 2.3l2.6 2.4l3.7 3.5l1.2 1.1l4.7 4.7l0.3 0.3l4.9 4.4l1.4 1.2l4.7 3.4l1.6 1.1l6.2 3.4l0.5 0.2l5.8 2.4l6.2 2.1l0.5 0.2l5.8 1.7l6.3 1.8l4 1.1l2.2 0.7l6.3 2.1l5.1 1.9l1.2 0.5l6.2 3l2 1.2l4.3 2.8l2.3 1.8l3.9 4l0.7 0.7l3.1 4.7l2.1 4.6l0.4 1.7l0.7 3l0.4 4.7l-0.3 4.6l-0.8 3.3l-0.3 1.4l-2 4.7l-3 4.6l-1 1.2l-3.4 3.5l-2.8 2.3l-3.6 2.4l-2.7 1.4l-6.2 2.7l-1.9 0.5l-4.4 1.2l-6.3 1l-6.2 0.3l-6.3-0.3zM683.6 104.4l-1 2.8l-1.9 4.6l-2.1 4.7l-1.2 2.2l-1.5 2.5l-3.2 4.6l-1.6 2.1l-2.4 2.6l-3.8 3.7l-1.3 1l-5 3.4l-2.4 1.2l-3.9 1.9l-6.2 2l-4.7 0.8l-1.6 0.3l-6.3 0.2l-4.1-0.5l-2.1-0.3l-6.3-1.7l-5.5-2.7l-0.7-0.4l-5.1-4.2l-1.2-1.3l-2.3-3.4l-2.1-4.7l-1.2-4.6l-0.3-4.7l0.3-4.7l0.9-4.6l1.3-4.7l1.9-4.7l1.5-3.2l0.7-1.4l2.7-4.7l2.9-4.7l3.2-4.6l3-4.6l0.1-0.1l3.2-4.7l2.9-4.6l0.1-0.3l2.6-4.4l2.2-4.7l1.4-3.4l0.6-1.2l1.9-4.7l1.6-4.7l1.7-4.6l0.5-1.4l1.4-3.3M63.6 100.6l6.3-0.8l6.3 0.2l6.2 0.9l5.3 1.6l1 0.4l6.3 3.2l1.5 1.1l4.7 4.2l0.4 0.4l3.2 4.7l2.2 4.7l0.5 1.7l0.7 2.9l0.5 4.7l0 4.7l-0.5 4.6l-0.7 3.4l-0.3 1.3l-1.4 4.7l-1.6 4.6l-1.8 4.7l-1.2 3.2l-0.7 1.5l-2 4.6l-1.7 4.7l-1.3 4.7l-0.5 4l-0.2 0.6l0.1 4.7l0.1 0.1l0.8 4.6l1.7 4.6l2.5 4.7l1.2 1.9l1.5 2.8l2.7 4.6l2.1 3.4l0.7 1.3l2.4 4.7l2.2 4.6l1 2.5l0.8 2.2l1.3 4.7l0.8 4.6l0.4 4.7l-0.1 4.7l-0.7 4.6l-1.5 4.7l-1 2.4l-1.3 2.3l-3.4 4.6l-1.6 1.7l-3.7 3l-2.6 1.7l-6.2 2.7l-1 0.3l-5.3 1.1l-6.3 0.3l-6.2-0.7l-3-0.7l-3.3-0.9l-6.3-2.8M291 32.5l4.4 3.7l0.9 1l3.9 4.6l1.4 2.2l1.5 2.5l2.2 4.7l1.5 4.6l0.9 4.7l0.1 4.7l-0.7 4.6l-1.9 4.7l-3.6 4.6l0 0.1l-6.2 4.1l-1.3 0.5l-5 1.7l-6.3 1.3l-6.2 0.5l-6.3 0l-6.2-0.6l-6.3-1.1l-6.3-1.6l-0.4-0.2l-5.8-2.3l-4.7-2.3l-1.6-1l-5.1-3.7l-1.2-1.1l-3.2-3.6l-2.9-4.6l-0.1-0.3l-1.6-4.4l-0.6-4.7l0.2-4.6l1.2-4.7l0.8-1.7l1.4-3l3.3-4.6l1.5-1.7l3.3-3"/>
<path stroke="#472e7c" d="M370.5 491l-3.5-1.2l-2.7-1.1l-6.3-3.3l-0.4-0.2l-5.9-4.5l-0.1-0.2l-4.3-4.7l-1.8-2.5l-1.4-2.1l-2.3-4.7l-1.5-4.7l-0.7-4.6l0-4.7l0.7-4.7l1.5-4.6l2.3-4.7l1.4-2l2-2.7l4.2-4.2l0.5-0.4l5.8-4l1.4-0.7l4.9-2.1l6.2-1.6l6.3-0.5l6.2 0.3l6.3 1.2l6.3 2l1.7 0.7l4.5 2l4.6 2.7l1.7 1l4.7 3.6l1.6 1.4l3.3 3.3l2.9 3.7l0.7 1l2.7 4.6l1.7 4.7l0.9 4.7l0.1 4.6l-0.8 4.7l-1.7 4.7l-2.7 4.6l-0.9 1.1l-3.1 3.6l-3.1 2.7l-2.7 2l-3.6 2.2l-5.4 2.4l-0.9 0.4l-6.2 1.7l-6.3 1l-6.3 0.1l-6.2-0.6zM182.6 439.2l-3.4-0.7l-2.8-0.7l-6.3-2.3l-3.2-1.7l-3-1.8l-3.8-2.8l-2.5-2.4l-2.1-2.3l-3.2-4.7l-1-1.8l-1.2-2.8l-1.4-4.7l-0.6-4.7l0.1-4.6l0.9-4.7l1.5-4.7l0.7-1.4l1.9-3.2l3.6-4.7l0.8-0.8l4.7-3.9l1.6-1.1l6.2-3.3l0.7-0.2l5.6-1.9l6.2-1.3l6.3-0.5l6.3 0l6.2 0.7l6.3 1.3l5.1 1.7l1.2 0.4l6.2 3l2 1.2l4.3 3.3l1.5 1.4l3.8 4.7l0.9 1.7l1.6 2.9l1.5 4.7l0.7 4.7l0 4.6l-0.8 4.7l-1.6 4.7l-1.4 2.7l-1 1.9l-3.5 4.7l-1.7 1.7l-3.3 3l-3 2.1l-4.2 2.5l-2 1l-6.3 2.5l-4.6 1.2l-1.7 0.4l-6.2 0.8l-6.3 0.1zM683.6 418l-1.8 1.8l-4.4 4.6l-0.1 0.1l-4.4 4.7l-1.8 2l-2.3 2.6l-3.9 4.7l-0.1 0l-4.2 4.7l-2 2l-2.6 2.6l-3.7 3.4l-1.5 1.3l-4.7 3.6l-1.7 1.1l-4.6 2.7l-4 1.9l-2.3 1l-6.2 2l-6.3 1.3l-5.7 0.4l-0.5 0l-0.8 0l-5.5-0.3l-6.3-1.2l-6.2-2.1l-2.2-1.1l-4.1-2.3l-3.1-2.3l-3.2-3.1l-1.3-1.6l-2.9-4.7l-1.8-4.6l-0.2-1.3l-0.5-3.4l0.1-4.7l0.4-1.8l0.6-2.8l1.7-4.7l2.5-4.7l1.4-2.1l1.8-2.5l3.9-4.7l0.6-0.6l4.1-4.1l2.2-2.1l2.9-2.5l3.3-2.9l2.2-1.8l4.1-3.6l1.3-1.1l5-4.5l0.1-0.1l4.5-4.7l1.6-1.9l2.3-2.8l3.2-4.6l0.8-1.4l1.9-3.3l2.3-4.7l1.8-4.6l0.2-0.7l1.4-4l1.2-4.7l0.9-4.6l0.6-4.7l0.2-4.7l0-4.6l-0.3-4.7l-0.5-4.7l-0.6-4.6l-0.6-4.7l-0.5-4.7l-0.3-4.6l-0.1-4.7l0.2-4.7l0.7-4.6l1.2-4.7l1.8-4.7l1-1.9l1.7-2.7l3.9-4.7l0.7-0.7l5.2-4l1-0.6l6.3-3l3.8-1l2.5-0.7l6.2-0.6l6.3 0.2l5.5 1.1l0.7 0.1M320.4 354.7l-0.5-0.2l-5.7-1.9l-5.9-2.8l-0.4-0.2l-6.3-4.2l-0.2-0.2l-4.6-4.7l-1.4-2l-1.7-2.7l-2-4.6l-1.2-4.7l-0.4-4.7l0.2-4.6l0.9-4.7l1.5-4.7l2.1-4.6l0.6-1l2.3-3.7l3.7-4.7l0.2-0.2l4.8-4.4l1.5-1.2l5.1-3.5l1.2-0.7l6.2-3.1l2.5-0.9l3.8-1.2l6.2-1.4l6.3-0.7l6.3 0.2l6.2 0.9l6.3 1.9l0.8 0.3l5.5 2.9l2.6 1.8l3.6 3.2l1.4 1.5l3.3 4.6l1.6 3.1l0.7 1.6l1.4 4.7l0.7 4.6l0.2 4.7l-0.4 4.7l-0.9 4.6l-1.5 4.7l-0.2 0.6l-1.8 4.1l-2.7 4.6l-1.8 2.7l-1.6 2l-4.3 4.7l-0.3 0.3l-5.7 4.3l-0.6 0.5l-6.3 3.2l-3.1 1l-3.1 1l-6.3 1l-6.3 0.1l-6.2-0.6zM495.8 242.7l-5.3-0.2l-1 0l-6.3-0.9l-6.2-1.5l-6.3-2.2l-0.2-0.1l-6-2.8l-3.2-1.8l-3.1-2.1l-3.6-2.6l-2.7-2.2l-2.8-2.5l-3.4-3.3l-1.4-1.3l-4.5-4.7l-0.4-0.5l-4.2-4.2l-2.1-2l-2.9-2.6l-3.3-2.7l-2.9-2l-3.4-2.2l-4.6-2.5l-1.6-0.8l-6.3-2.8l-2.3-1l-4-1.7l-6.2-2.7l-0.7-0.3l-5.6-2.6l-3.9-2.1l-2.4-1.3l-5.2-3.3l-1-0.7l-5.1-4l-1.2-1l-3.8-3.7l-2.4-2.7l-1.6-1.9l-3.4-4.7l-1.3-2.2l-1.4-2.5l-2.1-4.6l-1.7-4.7l-1.1-4.1l-0.1-0.6l-0.7-4.6l-0.1-4.7l0.6-4.7l0.3-1.1l1.3-3.5l3.1-4.7l1.9-1.7l4.5-3l1.8-0.7l6.2-1.9l6.3-1l6.2-0.3l6.3 0.2l6.3 0.7l6.2 1.3l6.3 1.7l0.2 0l6.1 2.3l5.4 2.4l0.8 0.4l6.3 3.5l1.2 0.8l5 3.4l1.8 1.2l4.5 3.7l1.3 1l5 4.5l0.2 0.2l5.1 4.6l0.9 1l4.3 3.7l2 1.8l3.8 2.9l2.5 1.7l4.8 2.9l1.4 0.8l6.3 2.9l2.5 1l3.7 1.4l6.3 2l4.3 1.3l2 0.6l6.2 1.8l6.3 2l0.6 0.2l5.7 2.1l6 2.6l0.2 0.1l6.3 3.5l1.7 1.1l4.5 3.6l1.2 1l4 4.7l1.1 1.7l1.7 3l1.8 4.6l1 4.7l0.3 4.7l-0.4 4.6l-1.1 4.7l-1.9 4.7l-1.4 2.5l-1.3 2.1l-3.9 4.7l-1.1 1l-4.5 3.7l-1.7 1.1l-6.3 3.3l-0.4 0.2l-5.8 2.1l-6.3 1.6l-6.3 0.9l-1.2 0.1zM683.6 111.2l-0.2 0.6l-2.2 4.7l-2.5 4.7l-1.3 2.2l-1.7 2.4l-3.6 4.7l-1 1.1l-3.7 3.6l-2.5 2.2l-3.6 2.4l-2.7 1.8l-6.2 2.9l-0.1 0l-6.2 2l-6.3 1.1l-6.3 0.3l-6.2-0.6l-6.3-1.4l-3.8-1.4l-2.4-1.1l-5.5-3.6l-0.8-0.7l-3.6-3.9l-2.7-4.3l-0.2-0.4l-1.6-4.7l-0.8-4.6l-0.1-4.7l0.4-4.7l1-4.6l1.3-4.6l0.1-0.1l1.9-4.7l2.2-4.6l2.1-3.8l0.5-0.9l2.9-4.7l2.9-4.4l0.1-0.2l3.3-4.7l2.8-4.4l0.2-0.3l3-4.6l2.6-4.7l0.5-1l1.9-3.7l2.1-4.6l1.8-4.7l0.4-1.1l1.4-3.6l1.8-4.6l1.9-4.7M63.6 98.4l4.6-0.6l1.7-0.2l6.3 0.1l1.1 0.1l5.1 0.8l6.3 1.7l5 2.2l1.3 0.7l5.8 4l0.4 0.4l3.9 4.2l2.4 3.6l0.6 1.1l1.9 4.7l1.1 4.6l0.4 4.7l-0.1 4.7l-0.5 4.6l-0.9 4.7l-1.2 4.7l-1.3 4.1l-0.2 0.5l-1.7 4.7l-1.7 4.7l-1.6 4.6l-1.1 3.6l-0.3 1.1l-1.2 4.7l-0.5 4.6l0.1 4.7l1 4.7l0.9 2.5l0.7 2.1l2 4.7l2.5 4.7l1.1 1.9l1.4 2.7l2.4 4.7l2.3 4.7l0.2 0.2l1.8 4.4l1.6 4.7l1.3 4.7l0.9 4.6l0.4 4.7l-0.1 4.7l-0.7 4.6l-1.3 4.7l-2 4.7l-1.9 3.2l-1.1 1.4l-4.4 4.7l-0.8 0.7l-6.1 4l-0.2 0l-6.2 2.4l-6.3 1.2l-6.3 0.2l-6.2-0.7l-6.3-1.6l-3.7-1.5l-2.6-1.2M294.5 32.5l0.9 0.7l4 4l2.2 2.7l1.5 1.9l2.9 4.7l1.9 3.9l0.4 0.8l1.5 4.6l1.1 4.7l0.4 4.7l-0.3 4.6l-1.2 4.7l-1.9 3.7l-0.6 1l-5.1 4.6l-0.6 0.4l-6.2 2.8l-5.4 1.5l-0.9 0.2l-6.3 0.9l-6.2 0.3l-6.3-0.2l-6.2-0.6l-3.4-0.6l-2.9-0.5l-6.3-1.7l-6.2-2.2l-0.7-0.3l-5.6-2.8l-3.1-1.8l-3.2-2.4l-2.6-2.3l-3.6-4.1l-0.5-0.6l-2.6-4.6l-1.5-4.7l-0.5-4.7l0.3-4.6l1.2-4.7l2.1-4.7l1.5-2.3l1.6-2.3l4.3-4.7"/>
<path stroke="#46337f" d="M377.3 494.5l-0.5-0.1l-6.3-1.3l-6.2-2.1l-2.5-1.2l-3.8-2l-4.1-2.6l-2.2-1.7l-3.3-3l-2.9-3.2l-1.3-1.5l-3.1-4.6l-1.9-4l-0.3-0.7l-1.5-4.7l-0.8-4.6l-0.1-4.7l0.5-4.7l1.3-4.6l0.9-2.3l1.1-2.4l2.9-4.7l2.3-2.8l1.7-1.8l4.5-4.1l1-0.6l5.3-3.3l3.5-1.4l2.8-1l6.2-1.4l6.3-0.3l6.2 0.5l6.3 1.3l2.8 0.9l3.5 1.1l6.2 2.8l1.5 0.8l4.8 2.8l2.7 1.9l3.6 2.7l2.2 1.9l4 4.2l0.4 0.5l3.4 4.7l2.5 4.5l0 0.1l1.6 4.7l0.9 4.7l0 4.6l-0.8 4.7l-1.6 4.7l-0.1 0.3l-2.5 4.3l-3.6 4.7l-0.2 0.2l-5.1 4.5l-1.1 0.8l-6.3 3.8l-0.1 0l-6.2 2.5l-6.2 1.7l-3.6 0.5M176.4 439.9l-4.1-1.4l-2.2-0.8l-6.2-3.2l-1.1-0.7l-5.2-4l-0.7-0.6l-4.2-4.7l-1.4-2l-1.6-2.7l-2.1-4.6l-1.3-4.7l-0.6-4.7l0-4.6l0.8-4.7l1.5-4.7l2.2-4.6l1.1-1.8l2.2-2.9l4.1-4.3l0.4-0.4l5.9-4.1l1-0.5l5.2-2.5l6.3-2l1.2-0.2l5-1l6.3-0.5l6.3 0l6.2 0.6l5 0.9l1.3 0.2l6.3 1.8l6.2 2.5l0.3 0.2l6 3.5l1.5 1.1l4.7 4.5l0.2 0.2l3.3 4.7l2.1 4.6l0.7 2.4l0.6 2.3l0.6 4.7l-0.2 4.6l-0.8 4.7l-0.2 0.6l-1.3 4.1l-2.4 4.6l-2.6 3.7l-0.7 1l-4.6 4.7l-0.9 0.7l-5.6 3.9l-0.7 0.5l-6.2 3l-3.1 1.2l-3.2 1l-6.3 1.5l-6.2 0.7l-6.3 0.1l-6.3-0.6zM683.7 421.4l-3.2 3.1l-3.1 3.3l-1.3 1.4l-4.2 4.6l-0.8 0.9l-3.3 3.8l-2.9 3.3l-1.3 1.4l-4.5 4.6l-0.5 0.5l-4.6 4.2l-1.7 1.4l-4.3 3.3l-1.9 1.3l-5.6 3.3l-0.7 0.4l-6.3 2.7l-4.8 1.6l-1.4 0.4l-6.3 1.2l-6.2 0.4l-6.3-0.3l-6.3-1l-2.5-0.7l-3.7-1.2l-6.3-3l-0.8-0.5l-5.5-4l-0.6-0.6l-4.1-4.7l-1.5-2.5l-1.2-2.2l-1.5-4.6l-0.7-4.7l0.2-4.7l1-4.6l1.6-4.7l0.6-1.1l1.9-3.6l3.1-4.6l1.2-1.7l2.6-3l3.7-4.1l0.6-0.6l5-4.6l0.7-0.7l4.6-4l1.6-1.5l3.8-3.2l2.5-2.3l2.6-2.3l3.7-3.8l0.9-0.9l4-4.7l1.3-1.8l2.1-2.8l2.8-4.7l1.4-2.8l0.9-1.9l2-4.6l1.6-4.7l1.3-4.7l0.4-2.4l0.5-2.2l0.6-4.7l0.3-4.7l0-4.6l-0.3-4.7l-0.5-4.7l-0.5-4.6l-0.1-0.1l-0.5-4.6l-0.5-4.7l-0.3-4.6l-0.2-4.7l0.2-4.7l0.5-4.6l0.8-3.9l0.2-0.8l1.7-4.7l2.4-4.6l2-3l1.3-1.7l4.8-4.7l0.2-0.1l6.2-4l1.3-0.5l5-2l6.3-1.5l6.2-0.5l6.3 0.3l6.2 1.2M326.7 359.4l-1-0.2l-5.3-1.1l-6.2-1.9l-4.1-1.7l-2.2-1l-6.3-3.6l0-0.1l-5.6-4.6l-0.6-0.7l-3.2-4l-2.6-4.7l-0.5-1.3l-1.1-3.3l-0.9-4.7l-0.2-4.7l0.4-4.6l0.9-4.7l0.9-2.8l0.6-1.9l2.2-4.6l2.7-4.7l0.8-1l2.8-3.7l3.4-3.5l1.2-1.1l5.1-4.2l0.8-0.5l5.5-3.3l2.7-1.4l3.5-1.6l6.3-2.1l4.1-0.9l2.1-0.5l6.3-0.7l6.3 0l6.2 0.8l1.5 0.4l4.8 1.3l6.3 2.7l1 0.6l5.2 3.7l1.2 1l4.1 4.7l1 1.3l1.9 3.3l2 4.7l1.2 4.7l0.7 4.6l0 4.7l-0.4 4.7l-0.9 4.6l-1.4 4.7l-1.9 4.7l-1.2 2.5l-1.2 2.1l-3.1 4.7l-2 2.7l-1.8 2l-4.4 4.4l-0.4 0.2l-5.9 4.3l-0.9 0.4l-5.4 2.7l-6.2 1.8l-1.2 0.2l-5.1 0.7l-6.3 0.1zM477 242.7l-0.6-0.2l-5.7-1.8l-6.2-2.7l-0.5-0.2l-5.8-3.2l-2.2-1.4l-4.1-3l-2.2-1.7l-4-3.6l-1.3-1.1l-4.8-4.6l-0.2-0.3l-4.5-4.4l-1.8-1.8l-3.2-2.9l-3-2.6l-2.6-2l-3.7-2.6l-3.4-2.1l-2.8-1.6l-6-3.1l-0.3-0.1l-6.3-2.8l-3.6-1.7l-2.6-1.2l-6.3-3l-0.9-0.5l-5.4-2.9l-2.8-1.8l-3.4-2.1l-3.4-2.5l-2.9-2.3l-2.6-2.4l-3.6-3.5l-1.1-1.2l-3.8-4.6l-1.4-2l-1.8-2.7l-2.6-4.7l-1.9-3.9l-0.3-0.7l-1.7-4.7l-1.3-4.7l-0.9-4.6l-0.4-4.7l0.1-4.7l0.9-4.6l2-4.7l1.6-2.1l2.6-2.6l3.7-2.3l6.2-2.3l0.1-0.1l6.2-1.2l6.3-0.5l6.2-0.1l6.3 0.4l6.3 0.9l3 0.6l3.2 0.6l6.3 1.8l6.3 2.2l0.1 0l6.1 2.8l3.8 1.9l2.5 1.4l5.3 3.3l0.9 0.6l5.6 4l0.7 0.6l5 4.1l1.3 1.1l4.1 3.6l2.1 1.9l3.2 2.7l3.1 2.7l2.6 2l3.7 2.7l3 2l3.2 1.9l5.4 2.7l0.9 0.5l6.2 2.5l4.9 1.7l1.4 0.5l6.3 1.9l6.2 1.9l1.2 0.4l5.1 1.6l6.3 2.1l2.4 0.9l3.8 1.6l6.3 3l0.2 0.1l6 3.9l1.1 0.8l5.1 4.6l0.1 0.2l3.4 4.5l2.4 4.7l0.5 1.3l1.1 3.3l0.8 4.7l0.2 4.7l-0.4 4.6l-1.1 4.7l-0.6 1.7l-1.2 3l-2.5 4.6l-2.6 3.4l-1 1.3l-5 4.7l-0.3 0.1l-6.2 4.2l-0.7 0.3l-5.6 2.6l-6.1 2.1l-0.1 0l-6.3 1.4l-6.3 0.9l-6.2 0.2l-6.3-0.2l-6.3-0.8zM683.6 116.9l-2.2 4.3l-2.8 4.6l-1.2 1.8l-2.3 2.9l-4 4.6l-0.1 0.1l-5.4 4.6l-0.7 0.7l-6.3 3.9l-0.1 0.1l-6.2 2.8l-5.9 1.9l-0.3 0.1l-6.3 1.1l-6.3 0.4l-6.2-0.4l-6.3-1.1l-0.3-0.1l-5.9-2l-5.1-2.7l-1.2-0.7l-4.6-4l-1.7-1.9l-1.9-2.7l-2.2-4.7l-1.2-4.7l-0.6-4.6l0.1-4.7l0.6-4.7l1.1-4.6l1.5-4.7l1.8-4.7l0.8-1.7l1.5-2.9l2.6-4.7l2.2-3.7l0.6-1l3.1-4.6l2.6-4l0.4-0.7l3.1-4.7l2.7-4.3l0.2-0.3l2.8-4.7l2.4-4.7l0.9-2l1.2-2.6l2-4.7l1.8-4.7l1.2-3.1l0.7-1.5l1.9-4.7M63.6 96.3l6.3-0.7l6.3 0l6.2 0.8l6.1 1.4l0.2 0.1l6.3 2.6l3.6 2l2.6 1.8l3.4 2.9l2.9 3.2l1.1 1.4l2.6 4.7l1.8 4.7l0.8 3.7l0.1 0.9l0.4 4.7l-0.1 4.7l-0.4 3.6l-0.2 1l-0.9 4.7l-1.2 4.7l-1.4 4.6l-1.5 4.7l-1.1 3.7l-0.4 1l-1.5 4.6l-1.3 4.7l-0.9 4.7l-0.3 4.6l0.2 4.7l0.8 4.7l1.5 4.6l1.9 4.4l0.1 0.3l2.1 4.7l2.3 4.6l1.8 3.5l0.5 1.2l2 4.7l1.9 4.6l1.6 4.7l0.2 0.6l1 4.1l0.9 4.6l0.4 4.7l-0.1 4.7l-0.6 4.6l-1.1 4.7l-0.5 1.3l-1.4 3.4l-2.6 4.6l-2.2 3l-1.7 1.7l-4.6 4l-1 0.7l-5.3 2.8l-5.1 1.8l-1.1 0.4l-6.3 1l-6.3 0.1l-6.2-0.7l-3-0.8l-3.3-0.8l-6.3-2.6M297.7 32.5l3.9 3.9l0.8 0.8l3.6 4.6l1.9 3.1l0.9 1.6l2.3 4.7l1.7 4.6l1.2 4.7l0.2 0.8l0.5 3.9l0.2 4.6l-0.6 4.7l-0.1 0.5l-1.5 4.2l-3.4 4.6l-1.4 1.2l-6 3.5l-0.3 0.1l-6.2 1.9l-6.3 1.2l-6.3 0.5l-6.2 0.1l-6.3-0.3l-6.2-0.7l-6.3-1.1l-6.3-1.5l-0.5-0.2l-5.7-2l-6.1-2.7l-0.2 0l-6.3-3.8l-1.1-0.8l-5.1-4.6l-0.1-0.1l-3.6-4.7l-2.5-4.6l-0.1-0.4l-1.2-4.3l-0.4-4.7l0.4-4.6l1.1-4.7l0.1-0.2l2-4.5l3-4.6l1.3-1.6l2.8-3.1"/>
<path stroke="#453781" d="M368.6 494.5l-4.3-1.5l-6.3-2.8l-0.6-0.4l-5.7-3.6l-1.3-1l-4.9-4.4l-0.3-0.3l-3.9-4.7l-2.1-3.1l-0.9-1.5l-2.3-4.7l-1.5-4.7l-0.9-4.6l-0.2-4.7l0.3-4.7l1.1-4.6l1.7-4.7l2.5-4.7l0.2-0.2l3.2-4.4l3.1-3.4l1.4-1.3l4.8-3.8l1.5-0.9l4.8-2.6l5.9-2l0.4-0.2l6.2-1l6.3-0.1l6.2 0.7l2.5 0.6l3.8 0.8l6.3 2.1l3.8 1.7l2.4 1.1l6.3 3.5l0.2 0.1l6.1 4.2l0.5 0.5l5.2 4.6l0.5 0.6l3.6 4.1l2.7 3.8l0.5 0.9l2.3 4.6l1.6 4.7l0.8 4.7l0 4.6l-0.8 4.7l-1.6 4.7l-2.4 4.6l-0.4 0.6l-3.1 4.1l-3.2 3.2l-1.6 1.5l-4.6 3.3l-2.3 1.3l-4 2.1l-6.3 2.5l-0.5 0.1M188.9 443.7l-6.1-0.5l-0.2 0l-6.2-1.4l-6.3-2l-2.8-1.3l-3.4-1.8l-4.5-2.9l-1.8-1.3l-3.6-3.3l-2.7-3.1l-1.2-1.6l-2.9-4.7l-2-4.6l-0.1-0.4l-1.2-4.3l-0.6-4.7l0.1-4.6l0.6-4.7l1.1-4l0.2-0.7l2.1-4.6l2.9-4.7l1-1.4l3.1-3.3l3.2-2.8l2.5-1.8l3.8-2.3l5.2-2.4l1-0.4l6.3-1.9l6.2-1.1l6.3-0.5l6.3 0l6.2 0.5l6.3 0.9l6.3 1.5l2.9 1l3.3 1.2l6.3 3l0.8 0.5l5.4 3.9l0.9 0.7l4.2 4.7l1.2 1.8l1.7 2.9l1.8 4.6l1 4.7l0.4 4.7l-0.2 4.6l-0.9 4.7l-1.5 4.7l-2.3 4.5l-0.1 0.1l-3.2 4.7l-3 3.3l-1.3 1.4l-4.9 3.9l-1.1 0.7l-5.2 3.1l-3.3 1.6l-2.9 1.2l-6.3 2l-6.3 1.3l-1.2 0.2l-5 0.5zM683.6 424.6l-4.4 4.6l-1.8 1.9l-2.5 2.7l-3.8 4.3l-0.4 0.4l-4.2 4.7l-1.6 1.7l-2.9 2.9l-3.4 3.3l-1.5 1.4l-4.8 4l-0.9 0.7l-5.3 3.7l-1.7 0.9l-4.6 2.5l-5 2.2l-1.3 0.5l-6.2 1.9l-6.3 1.1l-6.2 0.5l-6.3-0.2l-6.3-1l-6.2-1.7l-2.7-1.1l-3.6-1.7l-5-3l-1.3-0.9l-4.1-3.7l-2.1-2.5l-1.7-2.2l-2.4-4.7l-1.5-4.6l-0.6-4.7l0.2-4.7l1-4.6l1.7-4.7l2.3-4.7l1-1.6l2-3l3.6-4.7l0.6-0.7l3.7-4l2.6-2.6l2.2-2l4.1-3.8l1-0.9l5.2-4.7l5.2-4.6l1.1-1.2l3.6-3.5l2.7-3.1l1.4-1.6l3.5-4.6l1.3-2.1l1.6-2.6l2.5-4.7l2-4.6l0.2-0.5l1.5-4.2l1.3-4.7l1-4.6l0.6-4.7l0.3-4.7l0-4.6l-0.2-4.7l-0.4-4.7l-0.6-4.6l-0.5-4.7l-0.5-4.7l-0.4-4.6l-0.2-4.7l0.1-4.7l0.5-4.6l0.8-4.7l1.4-4.7l1.5-3.4l0.6-1.2l3-4.7l2.7-3.2l1.5-1.5l4.8-3.8l1.3-0.8l4.9-2.7l5.4-2l0.9-0.3l6.3-1.2l6.2-0.5l6.3 0.5l6.2 1.2M314.2 359.8l-1.8-0.6l-4.5-1.8l-5.7-2.9l-0.6-0.3l-6.2-4.4l-4.6-4.6l-1.7-2.4l-1.4-2.3l-2.1-4.7l-1.3-4.6l-0.6-4.7l0-4.7l0.5-4.6l1.1-4.7l1.5-4.7l2.1-4.6l0.2-0.4l2.6-4.3l3.4-4.7l0.3-0.3l4-4.3l2.2-2.1l3.3-2.6l3-2.2l4.1-2.5l2.2-1.2l6.2-2.8l1.8-0.6l4.5-1.5l6.2-1.4l6.3-0.8l6.3 0l6.2 0.6l6.3 1.4l4.5 1.7l1.8 0.7l6.2 3.7l0.4 0.2l5.1 4.7l0.8 0.8l2.8 3.9l2.5 4.6l0.9 2.4l0.8 2.3l1.1 4.7l0.5 4.6l0 4.7l-0.5 4.7l-0.9 4.6l-1 3.6l-0.3 1.1l-1.8 4.7l-2.2 4.6l-1.9 3.4l-0.8 1.3l-3.4 4.7l-2.1 2.5l-2.1 2.1l-4.1 3.9l-1.1 0.8l-5.2 3.5l-2.4 1.2l-3.9 1.8l-6.2 1.7l-6.3 0.8l-6.3 0l-6.2-0.6l-6.3-1.2zM495.8 247.3l-4.9-0.1l-1.4-0.1l-6.3-0.7l-6.2-1.3l-6.3-1.7l-2.4-0.9l-3.8-1.5l-6.3-3.1l-0.1-0.1l-6.2-3.9l-1.1-0.7l-5.1-4.1l-0.8-0.6l-5.2-4.7l-0.3-0.2l-4.6-4.4l-1.7-1.6l-3.3-3.1l-2.9-2.6l-2.5-2.1l-3.8-2.9l-2.5-1.7l-3.7-2.4l-4.1-2.3l-2.2-1.2l-6.3-3.1l-0.8-0.4l-5.4-2.6l-4.2-2l-2.1-1.1l-6.3-3.4l-0.3-0.2l-5.9-3.7l-1.4-1l-4.9-3.6l-1.2-1l-5-4.6l-0.1-0.1l-4.2-4.7l-2-2.4l-1.7-2.2l-3.1-4.7l-1.5-2.7l-1.1-2l-2.1-4.6l-1.8-4.7l-1.2-3.9l-0.3-0.8l-1.1-4.6l-0.7-4.7l-0.3-4.7l0.3-4.6l1-4.7l1.1-2.5l1.2-2.2l5-4.3l0.6-0.3l5.7-2.3l6.3-1.3l6.2-0.7l6.3-0.3l6.2 0.2l6.3 0.6l6.3 1l6.2 1.3l5.4 1.5l0.9 0.2l6.3 2.2l5.2 2.2l1 0.5l6.3 3.2l1.7 1l4.5 2.8l2.9 1.9l3.4 2.5l2.9 2.1l3.4 2.7l2.4 2l3.8 3.3l1.8 1.4l4.5 3.7l1.2 0.9l5.1 3.9l1.2 0.8l5 3.3l2.6 1.4l3.7 1.9l6.2 2.7l0.1 0l6.2 2.3l6.3 2l1.2 0.4l5 1.5l6.3 2l3.8 1.2l2.5 0.8l6.2 2.3l3.9 1.5l2.4 1.2l6.2 3.3l0.4 0.2l5.9 4.3l0.4 0.4l4.4 4.6l1.5 2.1l1.6 2.6l2.1 4.7l1.3 4.6l0.6 4.7l0.1 4.7l-0.5 4.6l-1 4.7l-1.7 4.7l-2.4 4.6l-0.1 0.2l-3.3 4.5l-3 3.2l-1.5 1.5l-4.8 3.6l-1.6 1l-4.6 2.6l-4.8 2.1l-1.5 0.6l-6.2 1.9l-6.3 1.3l-6.3 0.8l-2.2 0.1zM683.6 121.8l-2.4 4l-3.2 4.7l-0.6 0.9l-3.3 3.8l-3 3.1l-1.8 1.5l-4.4 3.6l-1.8 1.1l-4.5 2.7l-4.3 2l-2 0.8l-6.2 2l-6.3 1.1l-6.3 0.5l-6.2-0.2l-6.3-0.9l-6.2-1.7l-4-1.6l-2.3-1.2l-5.2-3.5l-1.1-0.9l-3.4-3.8l-2.8-4.6l0-0.1l-1.7-4.6l-0.9-4.7l-0.3-4.6l0.3-4.7l0.7-4.7l1.2-4.6l0.7-2.1l0.8-2.6l2-4.7l2.2-4.6l1.2-2.3l1.4-2.4l2.8-4.7l2.1-3.3l0.9-1.3l3.1-4.7l2.3-3.6l0.7-1.1l3-4.6l2.5-4.5l0.1-0.2l2.6-4.7l2.2-4.6l1.4-3.3l0.6-1.4l2-4.7l1.8-4.6l1.8-4.5l0.1-0.2M63.6 94.3l6.3-0.7l6.3 0l6.2 0.6l6.3 1.5l6.2 2.1l0.1 0l6.2 3.4l1.9 1.3l4.4 3.8l0.8 0.9l3.6 4.6l1.9 3.6l0.5 1.1l1.5 4.7l0.9 4.6l0.2 4.7l-0.1 4.7l-0.6 4.6l-0.8 4.7l-1.1 4.7l-0.5 1.8l-0.9 2.8l-1.4 4.7l-1.4 4.7l-1.3 4.6l-1.1 4.7l-0.2 1.6l-0.5 3.1l-0.4 4.6l0.3 4.7l0.6 3l0.3 1.7l1.3 4.6l1.7 4.7l2 4.7l1 1.8l1.2 2.8l2 4.7l2.1 4.7l0.9 2.4l0.8 2.2l1.5 4.7l1.2 4.7l0.8 4.6l0.4 4.7l0 4.7l-0.5 4.6l-1.1 4.7l-1.6 4.7l-1.5 3l-0.9 1.6l-3.4 4.7l-1.9 2.1l-2.9 2.6l-3.4 2.4l-4.2 2.2l-2.1 1l-6.2 1.9l-6.3 0.8l-6.3 0.1l-6.2-0.8l-6.3-1.6l-3.6-1.4l-2.7-1M300.8 32.5l0.8 0.8l3.6 3.9l2.7 3.5l0.8 1.1l2.9 4.7l2.3 4.7l0.3 0.6l1.5 4l1.4 4.7l1 4.7l0.6 4.6l0 4.7l-0.7 4.7l-1.9 4.6l-1.9 2.5l-2.5 2.2l-3.8 2.1l-6.3 2.1l-2.1 0.5l-4.1 0.7l-6.3 0.7l-6.3 0.2l-6.2-0.1l-6.3-0.4l-6.2-0.7l-2.3-0.4l-4-0.8l-6.3-1.5l-6.2-2l-1-0.4l-5.3-2.3l-4.6-2.4l-1.7-1l-5-3.6l-1.2-1.1l-3.6-3.6l-2.7-3.6l-0.7-1.1l-2.1-4.6l-1.2-4.7l-0.4-4.7l0.5-4.6l1.2-4.7l2-4.7l0.7-1.2l2.2-3.4l3.8-4.7"/>
<path stroke="#443b84" d="M362.9 494.5l-4.9-2.2l-4.4-2.5l-1.9-1.2l-4.6-3.4l-1.6-1.5l-3.3-3.2l-3-3.7l-0.8-1l-2.9-4.6l-2.3-4.7l-0.3-0.8l-1.3-3.9l-1-4.6l-0.3-4.7l0.2-4.7l0.8-4.6l1.5-4.7l0.1-0.3l2.1-4.4l2.9-4.6l1.3-1.8l2.5-2.9l3.8-3.8l1.1-0.9l5.1-3.8l1.7-0.8l4.6-2.4l6.3-1.8l4.4-0.5l1.8-0.2l6.3 0.2l0.2 0l6 0.9l6.3 1.6l6 2.2l0.3 0.1l6.2 2.8l3.2 1.7l3.1 1.8l4.4 2.9l1.9 1.3l4.1 3.4l2.1 1.9l2.8 2.7l3.5 4.2l0.4 0.5l3 4.7l2.3 4.6l0.5 1.9l0.9 2.8l0.8 4.7l-0.1 4.6l-0.7 4.7l-0.9 2.6l-0.6 2.1l-2.4 4.6l-3.2 4.5l-0.1 0.2l-4.6 4.7l-1.6 1.3l-4.6 3.3l-1.6 1.1l-6.3 3.1l-1.2 0.5M176.4 443.8l-2-0.6l-4.3-1.4l-6.2-2.9l-0.8-0.4l-5.5-3.6l-1.4-1.1l-4.9-4.5l-0.1-0.1l-3.6-4.7l-2.5-4.2l-0.3-0.5l-1.9-4.6l-1.2-4.7l-0.6-4.7l0-4.6l0.5-4.7l1.2-4.7l1.8-4.6l0.5-0.9l2.2-3.8l3.6-4.7l0.4-0.5l4.6-4.1l1.7-1.4l5.5-3.3l0.8-0.4l6.2-2.6l6-1.7l0.3 0l6.2-1.1l6.3-0.5l6.3-0.1l6.2 0.4l6.3 0.8l2.5 0.5l3.8 0.8l6.2 1.8l5.4 2.1l0.9 0.4l6.2 3.4l1.3 0.9l5 4.3l0.3 0.3l3.6 4.7l2.3 4.7l0.1 0l1.5 4.6l0.8 4.7l0.2 4.7l-0.4 4.6l-0.9 4.7l-1.2 3.5l-0.4 1.2l-2.3 4.6l-3.1 4.7l-0.5 0.6l-3.7 4.1l-2.6 2.2l-2.9 2.4l-3.3 2.2l-4.4 2.5l-1.9 0.9l-6.2 2.5l-4.1 1.3l-2.2 0.6l-6.3 1.1l-6.2 0.6l-6.3 0.1l-6.3-0.6zM683.6 427.7l-1.4 1.5l-4.3 4.6l-0.5 0.5l-3.8 4.2l-2.5 2.7l-1.8 2l-4.4 4.6l-4.9 4.7l-1.4 1.3l-4.1 3.4l-2.2 1.7l-4.3 2.9l-1.9 1.3l-6.3 3.3l-0.1 0.1l-6.2 2.5l-6.2 1.8l-2 0.4l-4.3 0.7l-6.2 0.5l-6.3-0.2l-6.3-0.8l-0.8-0.2l-5.4-1.5l-6.3-2.4l-1.5-0.8l-4.8-2.8l-2.5-1.9l-3.7-3.3l-1.3-1.3l-3.5-4.7l-1.5-3l-0.8-1.7l-1.3-4.6l-0.5-4.7l0.2-4.7l1-4.6l1.4-4.3l0.2-0.4l2.3-4.7l2.9-4.6l0.9-1.2l2.7-3.5l3.5-4.1l0.5-0.6l4.7-4.6l1.1-1.1l3.9-3.6l2.4-2.2l2.7-2.5l3.5-3.2l1.6-1.4l4.7-4.7l4.2-4.7l2.1-2.6l1.6-2l3-4.7l1.6-2.9l1-1.8l2.1-4.6l1.7-4.7l1.4-4.7l0.1-0.5l0.9-4.1l0.6-4.7l0.4-4.7l0-4.6l-0.2-4.7l-0.4-4.7l-0.5-4.6l-0.5-4.7l-0.3-2.6l-0.2-2.1l-0.4-4.6l-0.2-4.7l0-4.7l0.3-4.6l0.5-3l0.3-1.7l1.2-4.7l1.8-4.6l2.6-4.7l0.3-0.5l3.4-4.2l2.9-2.9l2.2-1.7l4.1-2.8l3.6-1.9l2.6-1.2l6.3-2l6.3-1.1l6.2-0.3l6.3 0.5l6.2 1.3M320.4 365.3l-5.3-1.5l-0.9-0.2l-6.3-2.2l-5-2.2l-1.3-0.7l-6.2-3.7l-0.5-0.3l-5.5-4.7l-0.3-0.3l-3.4-4.3l-2.6-4.7l-0.3-0.8l-1.3-3.9l-0.9-4.6l-0.3-4.7l0.2-4.7l0.7-4.6l1.1-4.7l0.5-1.5l1.1-3.2l2.2-4.6l2.6-4.7l0.4-0.5l3-4.2l3.3-3.8l0.8-0.8l5-4.7l0.4-0.3l6-4.4l0.3-0.1l6.3-3.6l2.1-0.9l4.1-1.8l6.3-2.1l3.6-0.8l2.6-0.6l6.3-0.8l6.3-0.2l6.2 0.5l6 1.1l0.3 0.1l6.3 2.1l5 2.5l1.2 0.7l5.3 3.9l1 0.9l3.4 3.8l2.8 4.3l0.3 0.4l2.1 4.6l1.5 4.7l0.9 4.7l0.4 4.6l-0.1 4.7l-0.5 4.7l-0.9 4.6l-1.3 4.7l-1.6 4.7l-0.8 1.7l-1.3 2.9l-2.6 4.7l-2.3 3.8l-0.6 0.9l-3.7 4.6l-2 2.4l-2.4 2.3l-3.8 3.6l-1.7 1.1l-4.6 3.1l-3.5 1.5l-2.8 1.3l-6.2 1.7l-6.3 0.6l-6.3-0.1l-6.2-0.7zM477 247.6l-1.8-0.4l-4.5-1.2l-6.2-2.2l-3.1-1.3l-3.2-1.5l-5.7-3.2l-0.6-0.3l-6.2-4.3l0-0.1l-5.7-4.6l-0.6-0.5l-4.6-4.2l-1.7-1.5l-3.4-3.1l-2.8-2.6l-2.4-2.1l-3.9-3.1l-2-1.6l-4.2-2.9l-2.8-1.7l-3.5-2.1l-4.8-2.6l-1.5-0.8l-6.2-3.1l-1.4-0.8l-4.9-2.5l-3.9-2.1l-2.4-1.3l-5.3-3.4l-0.9-0.5l-5.7-4.2l-0.6-0.4l-5-4.2l-1.2-1.2l-3.5-3.5l-2.8-3.2l-1.2-1.5l-3.5-4.6l-1.6-2.4l-1.4-2.3l-2.5-4.7l-2.3-4.6l0-0.2l-1.8-4.5l-1.6-4.7l-1.3-4.6l-1-4.7l-0.6-3.8l-0.1-0.9l-0.5-4.6l0-4.7l0.6-3.9l0.1-0.8l2.3-4.6l3.9-3.1l3.6-1.6l2.6-0.7l6.3-1.1l6.3-0.6l6.2-0.2l6.3 0.2l6.2 0.4l6.3 0.7l6.3 1l1.3 0.3l4.9 1.1l6.3 1.8l5.3 1.8l1 0.3l6.2 2.6l3.6 1.7l2.7 1.4l5.7 3.3l0.5 0.3l6.3 4.2l0.3 0.2l6 4.4l0.3 0.2l5.8 4.7l0.1 0.1l5.7 4.6l0.6 0.4l5.5 4.2l0.8 0.6l6.2 4.1l6.3 3.5l2.5 1.2l3.7 1.7l6.3 2.4l1.6 0.5l4.7 1.6l6.2 1.9l4 1.2l2.3 0.7l6.3 1.9l6.1 2.1l0.1 0l6.3 2.4l5.1 2.2l1.1 0.6l6.3 3.7l0.6 0.4l5.5 4.7l0.2 0.2l3.6 4.4l2.6 4.7l0 0.2l1.7 4.5l1.1 4.6l0.4 4.7l0 4.7l-0.5 4.6l-1 4.7l-1.7 4.6l0 0.1l-2.3 4.6l-3.1 4.7l-0.8 0.9l-3.4 3.8l-2.9 2.4l-2.9 2.2l-3.4 2.2l-4.7 2.5l-1.5 0.7l-6.3 2.4l-5.5 1.6l-0.7 0.2l-6.3 1.2l-6.3 0.7l-6.2 0.2l-6.3-0.2l-6.3-0.6zM683.6 126.1l-2.9 4.4l-3.3 4.4l-0.3 0.3l-4.4 4.6l-1.6 1.6l-3.9 3.1l-2.3 1.8l-4.9 2.9l-1.4 0.8l-6.3 2.8l-3.5 1l-2.7 0.9l-6.3 1.2l-6.3 0.6l-6.2-0.1l-6.3-0.7l-6.2-1.3l-1.7-0.6l-4.6-1.7l-5.6-2.9l-0.7-0.5l-4.9-4.2l-1.3-1.6l-2.1-3.1l-2.1-4.6l-1.3-4.7l-0.5-4.7l0-4.6l0.4-4.7l0.9-4.7l1.3-4.6l1.6-4.7l1.8-4.3l0.1-0.4l2.3-4.6l2.6-4.7l1.2-2.1l1.6-2.6l2.9-4.6l1.8-2.8l1.3-1.9l3-4.7l2-3.1l1-1.5l2.7-4.7l2.5-4.7l2.4-4.6l2-4.7l1.9-4.4l0.1-0.3l1.9-4.6l2-4.7M63.6 92.4l6.3-0.7l6.3-0.1l6.2 0.6l5.1 1l1.2 0.2l6.3 2.1l5.1 2.3l1.1 0.6l6 4.1l0.3 0.3l4.3 4.4l2 2.6l1.3 2l2.2 4.7l1.3 4.7l0.8 4.6l0.2 4.7l-0.2 4.7l-0.6 4.6l-0.9 4.7l-1 4.7l-1.3 4.6l-1.3 4.7l-0.5 2.1l-0.8 2.6l-1.2 4.6l-1 4.7l-0.7 4.7l-0.2 4.6l0.3 4.7l0.8 4.7l1.3 4.6l1.5 4.1l0.1 0.6l1.9 4.7l2 4.6l2 4.7l0.2 0.5l1.6 4.2l1.7 4.6l1.4 4.7l1.2 4.7l0.4 2.2l0.4 2.4l0.4 4.7l0 4.7l-0.4 4.6l-0.4 2.1l-0.6 2.6l-1.5 4.7l-2.2 4.6l-2 3.3l-1 1.4l-4.1 4.7l-1.1 1l-5 3.6l-1.3 0.8l-6.3 2.8l-3.8 1.1l-2.4 0.6l-6.3 0.7l-6.3 0l-6.2-0.9l-1.8-0.4l-4.5-1.1l-6.3-2.4M303.7 32.5l4.2 4.6l0 0.1l3.5 4.6l2.8 4.5l0.1 0.2l2.3 4.7l2 4.6l1.6 4.7l0.2 0.8l1.1 3.9l0.9 4.6l0.7 4.7l0.2 4.7l-0.5 4.6l-1.7 4.7l-0.7 0.9l-4.7 3.8l-1.5 0.6l-6.3 1.8l-6.3 0.9l-6.2 0.6l-6.3 0.3l-6.3 0l-6.2-0.3l-6.3-0.5l-6.2-0.9l-6.3-1.1l-5.9-1.4l-0.4-0.1l-6.2-2l-6.3-2.4l-0.4-0.2l-5.9-3l-2.7-1.7l-3.5-2.5l-2.7-2.1l-3.6-3.8l-0.8-0.9l-3-4.7l-2-4.6l-0.4-1.9l-0.7-2.8l-0.2-4.7l0.5-4.6l0.4-1.3l0.9-3.4l2-4.7l2.7-4.6l0.6-0.9l3.1-3.8"/>
<path stroke="#424086" d="M358.1 494.5l-0.1-0.1l-6.3-3.4l-1.7-1.2l-4.5-3.4l-1.5-1.2l-4.7-4.7l-0.1-0.1l-3.6-4.6l-2.7-4.2l-0.2-0.4l-2.3-4.7l-1.6-4.7l-1.1-4.6l-0.5-4.7l0-4.7l0.6-4.6l1.3-4.7l1.8-4.7l2-3.8l0.5-0.8l3.2-4.7l2.6-3.2l1.4-1.5l4.9-4.5l0.1-0.1l6.1-4.3l1-0.4l5.3-2.5l6.3-1.4l6.2-0.4l6.3 0.6l6.2 1.2l6.3 1.9l1.4 0.6l4.9 1.8l6 2.9l0.2 0.1l6.3 3.4l1.7 1.1l4.6 3.1l2.1 1.6l4.1 3.4l1.4 1.3l4.6 4.6l0.3 0.4l3.4 4.3l2.8 4.6l0.1 0.1l2.1 4.6l1.4 4.7l0.7 4.7l0 4.6l-0.8 4.7l-1.5 4.7l-2 4l-0.3 0.6l-3.2 4.7l-2.7 3l-1.6 1.7l-4.7 3.9l-1 0.7l-5.2 3.3l-2.9 1.4M170.1 443.7l-1.3-0.5l-4.9-2.2l-4.4-2.5l-1.9-1.2l-4.4-3.5l-1.9-1.7l-2.7-2.9l-3.5-4.7l0-0.1l-2.5-4.6l-1.9-4.6l-1.2-4.7l-0.7-4.7l0-3l0-1.6l0-0.2l0.5-4.5l1.1-4.7l1.7-4.6l2.3-4.7l0.7-1l2.6-3.7l3.6-4l0.7-0.6l5.6-4.4l0.5-0.3l5.8-3.2l3.8-1.5l2.4-0.9l6.3-1.6l6.2-1l6.3-0.5l6.3-0.1l6.2 0.3l6.3 0.7l6.3 1.1l6.2 1.5l2 0.5l4.3 1.5l6.2 2.6l1.2 0.6l5.1 3.2l2 1.5l4.3 4.5l0.1 0.1l2.9 4.7l1.9 4.7l1 4.6l0.3 2.5l0.3 2.2l0 4.7l-0.3 2.3l-0.2 2.3l-1 4.7l-1.6 4.7l-2.3 4.6l-1.1 1.8l-1.9 2.9l-4.1 4.7l-0.3 0.2l-5 4.4l-1.3 0.9l-5.8 3.8l-0.4 0.2l-6.3 3.1l-3.6 1.4l-2.6 0.9l-6.3 1.6l-6.3 1.2l-6.2 0.5l-6.3 0l-6.3-0.6l-6.2-1.2zM683.6 430.7l-2.9 3.1l-3.3 3.6l-1 1.1l-4.4 4.7l-0.9 0.9l-3.5 3.7l-2.7 2.7l-2.1 2l-4.2 3.8l-1 0.9l-5.3 4l-0.9 0.6l-5.3 3.4l-2.4 1.3l-3.9 1.9l-6.3 2.5l-0.9 0.3l-5.3 1.4l-6.3 1.1l-6.2 0.5l-6.3-0.1l-6.3-0.8l-6.2-1.5l-1.9-0.6l-4.4-1.7l-6-3l-0.3-0.2l-6.2-4.5l-4.5-4.6l-1.8-2.5l-1.5-2.2l-2.1-4.7l-1.3-4.6l-0.5-4.7l0.3-4.7l1-4.6l1.6-4.7l2.2-4.7l0.3-0.5l2.6-4.1l3.4-4.7l0.3-0.3l3.7-4.4l2.5-2.6l2-2l4.3-4.2l0.5-0.5l5.1-4.7l0.7-0.6l4.3-4l1.9-1.9l2.9-2.8l3.4-3.7l0.8-1l3.8-4.6l1.7-2.5l1.5-2.2l2.6-4.7l2.1-4.4l0.1-0.2l1.8-4.7l1.4-4.7l1.1-4.6l0.6-4.7l0.4-4.7l0.1-4.6l-0.2-4.7l-0.4-4.7l-0.5-4.6l-0.5-4.7l-0.5-4.7l-0.4-4.6l-0.3-4.7l0-4.7l0.2-4.6l0.6-4.7l1.1-4.7l1.5-4.6l0.2-0.4l2.1-4.3l3.2-4.7l0.9-1.1l3.5-3.5l2.8-2.4l3.5-2.3l2.8-1.6l6.2-2.7l1.2-0.4l5.1-1.4l6.3-0.9l6.2-0.2l6.3 0.6l6.2 1.3M320.4 369.3l-2.7-0.8l-3.5-0.9l-6.3-2.1l-4.2-1.7l-2.1-0.8l-6.2-3.2l-1.2-0.6l-5.1-3.5l-1.4-1.2l-4.4-4.7l-0.5-0.6l-2.4-4l-1.9-4.7l-1.1-4.7l-0.5-4.6l0-4.7l0.4-4.7l0.9-4.6l1.2-4.7l1.7-4.7l1.7-3.8l0.4-0.8l2.7-4.7l3.2-4.7l4-4.6l2.3-2.4l2.5-2.3l3.7-3.1l2.2-1.6l4.1-2.7l3.5-1.9l2.8-1.5l6.2-2.7l1.6-0.5l4.7-1.5l6.2-1.5l6.3-0.9l6.3-0.3l6.2 0.3l6.3 1l6.3 1.8l2.5 1.1l3.7 1.7l4.7 3l1.6 1.2l3.7 3.4l2.5 3.1l1.2 1.6l2.6 4.7l1.9 4.6l0.6 2.2l0.6 2.5l0.8 4.7l0.2 4.6l-0.1 4.7l-0.5 4.7l-0.9 4.6l-0.1 0.3l-1.2 4.4l-1.6 4.7l-1.9 4.6l-1.6 3.2l-0.7 1.5l-2.8 4.7l-2.7 4.1l-0.4 0.5l-3.8 4.7l-2.1 2.5l-2.3 2.2l-3.9 3.6l-1.6 1l-4.7 3.3l-3.4 1.4l-2.9 1.3l-6.2 1.5l-6.3 0.5l-6.3-0.3l-6.2-0.9zM683.6 130.1l-0.2 0.4l-3.5 4.7l-2.5 3l-1.5 1.6l-4.8 4.6l-0.1 0.1l-6.1 4.6l-0.1 0.1l-6.2 3.6l-2.5 1l-3.8 1.7l-6.2 1.9l-5.4 1.1l-0.9 0.2l-6.3 0.6l-6.2 0.1l-6.3-0.5l-2.7-0.4l-3.5-0.6l-6.3-1.7l-5.7-2.4l-0.6-0.3l-6.2-4.1l-0.3-0.2l-4.1-4.7l-1.9-3.3l-0.7-1.4l-1.5-4.6l-0.7-4.7l-0.2-4.7l0.2-4.6l0.7-4.7l1-4.7l1.2-4.1l0.2-0.5l1.7-4.7l2-4.7l2.3-4.6l0.1-0.2l2.5-4.5l2.7-4.7l1-1.6l2-3l3-4.7l1.3-2.1l1.7-2.6l3-4.6l1.6-2.8l1.1-1.9l2.6-4.7l2.3-4.6l0.2-0.5l2-4.2l2-4.7l2-4.6l0.3-0.7l1.7-4M63.6 90.5l6.3-0.7l6.3-0.1l6.2 0.5l6.3 1.2l6.3 1.7l0.1 0.1l6.1 2.6l3.6 2l2.7 1.8l3.5 2.9l2.8 2.8l1.5 1.9l2.9 4.6l1.8 4.2l0.2 0.5l1.2 4.7l0.7 4.6l0.1 4.7l-0.3 4.7l-0.5 4.6l-0.9 4.7l-0.5 2.3l-0.5 2.4l-1.2 4.6l-1.3 4.7l-1.2 4.7l-1.1 4.6l-0.9 4.7l0 0.5l-0.6 4.2l-0.2 4.6l0.4 4.7l0.4 2.3l0.3 2.4l1.2 4.6l1.5 4.7l1.8 4.7l1.4 3.4l0.5 1.2l1.8 4.7l1.8 4.7l1.7 4.6l0.5 1.7l0.8 3l1.1 4.7l0.8 4.6l0.4 4.7l0.1 4.7l-0.4 4.6l-0.9 4.7l-1.3 4.7l-0.6 1.5l-1.4 3.1l-2.7 4.7l-2.2 2.9l-1.5 1.8l-4.7 4.4l-0.4 0.2l-5.9 3.7l-2.3 1l-4 1.5l-6.2 1.5l-6.3 0.6l-6.3-0.2l-6.2-0.8l-6.3-1.6l-2.7-1l-3.6-1.3M306.4 32.5l1.5 1.6l2.6 3.1l3.5 4.6l0.2 0.3l2.7 4.4l2.4 4.7l1.1 2.4l1 2.2l1.9 4.7l1.5 4.7l1.4 4.6l0.5 1.9l0.8 2.8l1.1 4.7l1.2 4.6l1.3 4.7l1.8 4.4l0.3 0.3l6 3l6.3 0.4l6.2 0.1l6.3 0l6.3 0.1l6.2 0.3l6.3 0.4l3.2 0.3l3 0.3l6.3 0.9l6.3 1.1l6.2 1.4l3.4 1l2.9 0.8l6.3 2.2l4.2 1.7l2 0.8l6.3 3l1.5 0.8l4.7 2.7l3.3 2l3 2l3.9 2.7l2.4 1.7l3.9 2.9l2.3 1.9l3.7 2.8l2.6 2.1l3.5 2.6l2.8 2l3.8 2.6l2.4 1.6l5.4 3.1l0.9 0.5l6.2 3l3 1.2l3.3 1.3l6.3 2.2l3.8 1.1l2.4 0.8l6.3 1.8l6.3 1.9l0.7 0.2l5.5 1.7l6.3 2.1l2.4 0.9l3.8 1.5l6.3 3l0.3 0.1l6 3.9l1 0.8l4.7 4.7l0.5 0.7l2.7 3.9l2 4.7l1.4 4.7l0.2 1.4l0.5 3.2l0.3 4.7l-0.1 4.7l-0.6 4.6l-0.1 0.4l-0.9 4.3l-1.6 4.7l-2.2 4.6l-1.6 2.5l-1.4 2.2l-3.9 4.7l-0.9 0.8l-4.4 3.8l-1.9 1.4l-5.3 3.3l-1 0.5l-6.2 2.9l-3.6 1.3l-2.7 0.9l-6.2 1.6l-6.3 1.1l-6.3 0.7l-6.2 0.2l-6.3-0.1l-6.3-0.6l-6.2-1l-6.3-1.5l-4.4-1.3l-1.8-0.6l-6.3-2.6l-3.2-1.5l-3.1-1.6l-5-3.1l-1.2-0.8l-5.2-3.8l-1.1-0.9l-4.6-3.8l-1.7-1.5l-3.5-3.2l-2.7-2.5l-2.5-2.1l-3.8-3.2l-1.8-1.5l-4.4-3.3l-2-1.4l-4.3-2.7l-3.1-1.9l-3.2-1.8l-5.3-2.9l-0.9-0.5l-6.3-3.4l-1.4-0.8l-4.9-2.7l-3-1.9l-3.2-2l-3.7-2.7l-2.6-1.8l-3.4-2.9l-2.8-2.4l-2.3-2.2l-4-4.2l-0.5-0.5l-3.8-4.7l-2-2.7l-1.3-1.9l-2.9-4.7l-2-3.6l-0.6-1.1l-2.2-4.6l-2-4.7l-1.5-4.1l-0.2-0.6l-1.5-4.6l-1.3-4.7l-1.2-4.7l-1.1-4.6l-1-4.3l-0.1-0.4l-1.1-4.7l-1.3-4.6l-2.9-4.7l-0.8-0.7l-6.3-1.5l-6.2-0.1l-6.3 0l-6.3 0.1l-6.2 0l-6.3-0.2l-6.3-0.2l-6.2-0.5l-6.3-0.6l-6.2-0.9l-0.3-0.1l-6-1.1l-6.3-1.5l-6.2-1.9l-0.5-0.1l-5.8-2.2l-5.4-2.5l-0.9-0.4l-6.2-3.8l-0.7-0.5l-5.6-4.5l-0.1-0.1l-4-4.7l-2.1-3.4l-0.8-1.3l-1.7-4.6l-0.9-4.7l-0.2-4.7l0.6-4.6l1.3-4.7l1.7-4l0.2-0.7l2.8-4.6l3.2-4.3l0.3-0.4"/>
<path stroke="#414487" d="M354.2 494.5l-2.5-1.4l-5-3.3l-1.2-0.9l-4.5-3.7l-1.8-1.8l-2.7-2.9l-3.6-4.5l-0.1-0.2l-2.9-4.6l-2.3-4.7l-0.9-2.6l-0.8-2.1l-1.2-4.6l-0.7-4.7l-0.1-4.7l0.4-4.6l1-4.7l1.4-4.3l0.1-0.4l2.1-4.6l2.7-4.7l1.3-2l2.1-2.7l3.9-4.6l0.3-0.4l4.5-4.3l1.8-1.6l4.5-3.1l1.7-1.2l6.3-2.5l6.3-0.8l6.2 0.2l6.3 1.1l6.2 1.8l3.8 1.4l2.5 0.8l6.3 2.7l2.3 1.2l3.9 1.8l5 2.9l1.3 0.7l6 3.9l0.3 0.2l5.8 4.5l0.4 0.3l4.8 4.4l1.5 1.5l2.8 3.1l3.4 4.6l0.1 0.1l2.8 4.7l2.1 4.6l1.3 4.7l0 0.1l0.6 4.6l0 4.6l-0.6 3.6l-0.2 1.1l-1.5 4.7l-2.2 4.6l-2.4 3.6l-0.7 1.1l-4.1 4.7l-1.4 1.3l-4 3.3l-2.3 1.7l-4.9 3M182.6 448.6l-4-0.8l-2.2-0.4l-6.3-1.8l-5.9-2.4l-0.3-0.2l-6.3-3.5l-1.4-1l-4.9-3.8l-0.9-0.9l-4.3-4.6l-1-1.4l-2.3-3.3l-2.5-4.7l-1.5-3.9l-0.3-0.7l-1.1-4.7l-0.7-4.7l-0.1-4.6l0.5-4.7l0.9-4.7l0.8-2.5l0.7-2.1l2.2-4.7l2.9-4.7l0.5-0.6l3.4-4l2.8-2.8l2.5-1.9l3.8-2.7l3.8-2l2.5-1.2l6.2-2.2l4.9-1.2l1.4-0.4l6.2-0.9l6.3-0.5l6.3-0.2l6.2 0.3l6.3 0.6l6.3 0.8l1.3 0.3l4.9 0.9l6.3 1.6l6.2 2l0.5 0.1l5.8 2.6l4 2.1l2.3 1.7l3.4 3l2.8 3.8l0.6 0.8l2.2 4.7l1.2 4.7l0.7 4.6l0.2 4.7l-0.2 4.7l-0.7 4.6l-1.1 4.7l-1.7 4.7l-1.2 2.3l-1.1 2.3l-3 4.7l-2.1 2.5l-1.9 2.2l-4.4 4l-0.7 0.6l-5.6 3.9l-1.1 0.8l-5.1 2.8l-4.1 1.9l-2.2 0.8l-6.2 2.1l-6.3 1.6l-0.7 0.1l-5.6 0.9l-6.2 0.5l-6.3-0.1zM683.6 433.7l-0.1 0.1l-4.4 4.7l-1.7 1.8l-2.7 2.9l-3.6 3.8l-0.8 0.8l-4.7 4.7l-0.7 0.7l-4.5 4l-1.8 1.5l-4.1 3.1l-2.2 1.6l-4.9 3.1l-1.3 0.8l-6.3 3.1l-2 0.8l-4.3 1.5l-6.2 1.7l-6.3 1.1l-3.7 0.3l-2.5 0.2l-6.3-0.1l-0.7-0.1l-5.6-0.6l-6.2-1.4l-6.3-2.1l-1.2-0.5l-5.1-2.5l-3.6-2.2l-2.6-1.9l-3.4-2.8l-2.9-3l-1.4-1.6l-3-4.7l-1.8-4.1l-0.3-0.6l-1.2-4.6l-0.4-4.7l0.3-4.7l1-4.6l0.6-1.7l1-3l2.2-4.7l2.8-4.6l0.2-0.4l3.2-4.3l3.1-3.8l0.7-0.9l4.4-4.6l1.1-1.2l3.7-3.5l2.6-2.5l2.3-2.2l4-3.7l1-0.9l4.7-4.7l0.5-0.6l3.8-4.1l2.5-3l1.4-1.6l3.2-4.7l1.7-2.7l1.1-2l2.3-4.6l1.8-4.7l1-3.2l0.5-1.5l1-4.6l0.8-4.7l0.4-4.7l0-4.6l-0.1-4.7l-0.3-4.7l-0.5-4.6l-0.5-4.7l-0.6-4.7l-0.4-4.6l-0.3-4.1l0-0.6l-0.1-4.7l0.1-4.6l0-0.2l0.5-4.5l0.8-4.7l1.4-4.6l2-4.7l1.6-2.8l1.1-1.9l3.9-4.6l1.2-1.3l4.1-3.4l2.2-1.6l5.5-3.1l0.8-0.3l6.2-2.4l6.3-1.5l3.2-0.4l3.1-0.4l6.2 0l4 0.4l2.3 0.2l6.2 1.3M320.4 373.6l-1.3-0.4l-4.9-1.3l-6.3-2l-3.9-1.4l-2.4-0.9l-6.2-2.6l-2.6-1.2l-3.7-2l-4.1-2.6l-2.2-1.8l-2.9-2.9l-3.1-4.7l-0.2-0.5l-1.8-4.1l-1.1-4.7l-0.5-4.7l-0.1-4.6l0.3-4.7l0.7-4.7l1-4.6l1.4-4.7l0.1-0.2l1.6-4.5l2.2-4.6l2.4-4.3l0.2-0.4l3.2-4.7l2.9-3.5l0.9-1.1l4.6-4.7l0.8-0.7l4.8-4l1.4-1.1l5.5-3.5l0.8-0.6l6.3-3.3l1.9-0.8l4.3-1.8l6.3-2.1l3.4-0.8l2.8-0.7l6.3-0.9l6.3-0.5l6.2 0.2l6.3 0.8l4.9 1.1l1.4 0.4l6.2 2.4l3.6 1.9l2.7 1.7l3.7 3l2.5 2.4l2 2.2l3.1 4.7l1.2 2.4l1 2.3l1.6 4.6l1 4.7l0.6 4.7l0.2 4.6l-0.3 4.7l-0.5 4.7l-0.9 4.6l-1.2 4.7l-1.5 4.6l0 0.1l-1.9 4.6l-2.2 4.7l-2.2 4.2l-0.2 0.5l-2.9 4.6l-3.1 4.7l-3.8 4.7l-2.5 3.1l-1.6 1.5l-4.6 4.5l-0.3 0.2l-6 4.3l-0.8 0.4l-5.5 2.6l-6.2 1.1l-6.3 0l-6.3-0.6l-6.2-1.2zM683.6 133.8l-1 1.4l-3.8 4.6l-1.4 1.6l-3.1 3.1l-3.2 2.9l-2.4 1.8l-3.8 2.8l-3.3 1.8l-3 1.7l-6.3 2.7l-0.9 0.3l-5.3 1.7l-6.3 1.3l-6.3 0.8l-6.2 0.2l-6.3-0.3l-6.2-0.7l-6.3-1.3l-5.6-1.7l-0.7-0.2l-6.2-2.9l-2.4-1.6l-3.9-3.4l-1.1-1.2l-2.9-4.7l-1.6-4.7l-0.7-3.7l-0.1-0.9l-0.3-4.7l0.1-4.7l0.3-2.5l0.3-2.1l0.8-4.7l1.2-4.7l1.5-4.6l1.8-4.7l0.7-1.7l1.3-3l2.4-4.6l2.5-4.7l0.1-0.1l2.7-4.6l2.9-4.6l0.6-1l2.5-3.7l3-4.7l0.8-1.3l2.1-3.3l2.8-4.7l1.4-2.4l1.2-2.3l2.4-4.6l2.2-4.7l0.4-0.9l1.7-3.8l2-4.6l2-4.7M63.6 88.7l1.6-0.2l4.7-0.5l6.3-0.2l6.2 0.5l1.6 0.2l4.7 0.8l6.3 1.7l5.9 2.2l0.3 0.1l6.3 3.4l1.8 1.1l4.5 3.7l1 1l3.9 4.7l1.3 2.2l1.4 2.4l1.7 4.7l1.1 4.7l0.5 4.6l0.1 4.7l-0.3 4.7l-0.6 4.6l-0.9 4.7l-1 4.7l-1.1 4.6l-0.9 3.4l-0.3 1.3l-1.2 4.7l-1.1 4.6l-0.8 4.7l-0.5 4.7l-0.1 4.6l0.3 4.7l0.7 4.7l1.2 4.6l1.5 4.7l0.3 0.9l1.3 3.8l1.8 4.6l1.8 4.7l1.4 3.7l0.3 1l1.5 4.6l1.4 4.7l1 4.7l0.8 4.6l0.4 4.7l0.1 4.7l-0.3 4.6l-0.8 4.7l-1.2 4.7l-1.8 4.6l-1.4 2.9l-1.1 1.8l-3.3 4.7l-1.9 2.2l-2.6 2.4l-3.6 3l-2.9 1.7l-3.4 1.8l-6.3 2.3l-2.7 0.6l-3.5 0.7l-6.3 0.4l-6.3-0.2l-6.2-0.9l-6.3-1.6l-6.3-2.3M309.1 32.5l4.1 4.7l1 1.3l2.3 3.3l3 4.7l0.9 1.7l1.6 3l2.3 4.6l2 4.7l0.4 1l1.5 3.7l1.8 4.6l1.9 4.7l1 2.5l1.2 2.2l2.9 4.6l2.2 2.5l3.1 2.2l3.2 1.6l6.2 1.8l6.3 1l1.9 0.3l4.4 0.5l6.2 0.6l6.3 0.7l6.2 0.8l6.3 1l5.1 1l1.2 0.2l6.2 1.5l6.3 1.8l3.5 1.2l2.8 1l6.2 2.5l2.7 1.2l3.6 1.7l5.5 2.9l0.7 0.4l6.3 3.9l0.7 0.4l5.6 3.8l1.2 0.9l5 3.7l1.3 0.9l5 3.8l1.2 0.9l5.1 3.7l1.4 1l4.8 3.2l2.4 1.4l3.9 2.3l4.9 2.4l1.3 0.6l6.3 2.6l4 1.5l2.3 0.8l6.2 1.9l6.3 1.8l0.4 0.1l5.9 1.7l6.2 1.7l4.4 1.3l1.9 0.6l6.2 2l5.6 2.1l0.7 0.3l6.3 3l2.5 1.3l3.7 2.8l2.2 1.9l3.7 4.7l0.4 0.7l2 3.9l1.5 4.7l0.9 4.7l0.4 4.6l0.1 4.7l-0.3 4.7l-0.6 4.6l-1.1 4.7l-1.5 4.7l-1.4 3l-0.7 1.6l-2.8 4.7l-2.8 3.5l-0.9 1.2l-4.9 4.6l-0.4 0.3l-6.2 4.4l-0.1 0l-6.3 3.4l-2.9 1.3l-3.3 1.3l-6.3 2l-5.7 1.3l-0.5 0.2l-6.3 1l-6.3 0.6l-6.2 0.3l-6.3-0.1l-6.3-0.6l-6.2-0.8l-2.6-0.6l-3.7-0.8l-6.2-1.7l-5.9-2.1l-0.4-0.2l-6.3-2.8l-3.2-1.7l-3-1.8l-4.5-2.9l-1.8-1.3l-4.4-3.3l-1.9-1.6l-3.7-3.1l-2.5-2.3l-2.8-2.4l-3.5-3l-1.9-1.6l-4.3-3.5l-1.7-1.2l-4.6-3.2l-2.2-1.5l-4.1-2.5l-3.6-2.1l-2.6-1.5l-5.5-3.2l-0.8-0.4l-6.3-3.7l-0.9-0.6l-5.3-3.4l-1.8-1.2l-4.5-3.2l-1.8-1.5l-4.4-3.7l-1-1l-4.8-4.6l-0.5-0.6l-3.6-4.1l-2.7-3.3l-1-1.4l-3.2-4.6l-2-3.3l-0.9-1.4l-2.5-4.7l-2.3-4.6l-0.6-1.4l-1.4-3.3l-1.9-4.7l-1.7-4.6l-1.3-3.6l-0.4-1.1l-1.7-4.7l-1.8-4.6l-2.2-4.7l-0.1-0.3l-3.1-4.4l-3.2-2.9l-3.3-1.7l-2.9-1.2l-6.3-1.3l-6.3-0.8l-6.2-0.6l-6.3-0.4l-4.3-0.4l-2-0.1l-6.2-0.7l-6.3-0.7l-6.2-1l-6.3-1.2l-4.1-1l-2.2-0.5l-6.2-1.8l-6.3-2.2l-0.3-0.1l-6-2.7l-3.8-2l-2.4-1.4l-4.8-3.3l-1.5-1.2l-3.7-3.4l-2.5-3.1l-1.3-1.6l-2.6-4.7l-1.6-4.6l-0.7-4.7l0-4.7l0.6-4.6l1.3-4.7l2-4.7l2.3-3.9l0.4-0.7l3.4-4.7"/>
<path stroke="#3f4889" d="M350.4 494.5l-4.9-3.2l-2-1.5l-4.3-3.6l-1.1-1l-4.4-4.7l-0.8-0.9l-2.8-3.8l-3-4.6l-0.4-1l-1.9-3.7l-1.9-4.7l-1.3-4.6l-0.8-4.7l-0.3-4.7l0.1-4.6l0.7-4.7l1.2-4.7l1.8-4.6l2.3-4.7l0.1-0.1l2.6-4.6l3.2-4.6l0.4-0.7l3.1-4l3.2-4l0.6-0.7l4.2-4.6l1.5-2.1l3.2-2.6l3-3.5l6.3-1l6.3 1.3l6.2 2.1l2.2 1.1l4.1 1.3l6.2 2.5l1.7 0.9l4.6 1.9l5.6 2.7l0.7 0.3l6.2 3.3l1.9 1.1l4.4 2.5l3.2 2.2l3.1 1.9l3.6 2.7l2.6 2l3.1 2.7l3.2 2.9l1.7 1.8l4.2 4.6l0.3 0.5l3.1 4.2l2.6 4.7l0.6 1.3l1.4 3.3l1.3 4.7l0.6 4.7l-0.1 4.6l-0.8 4.7l-1.4 4.7l-1 2l-1.3 2.6l-3 4.7l-2 2.4l-1.9 2.3l-4.3 4l-0.8 0.6l-5.5 3.9l-1.2 0.8M176.4 449.1l-4.8-1.3l-1.5-0.4l-6.2-2.5l-3.5-1.7l-2.8-1.6l-4.5-3.1l-1.8-1.4l-3.5-3.3l-2.7-3l-1.4-1.6l-3.1-4.7l-1.8-3.3l-0.6-1.4l-1.8-4.6l-1.1-4.7l-0.7-4.7l-0.1-4.6l0.4-4.7l0.8-4.7l1.4-4.6l1.7-4.2l0.2-0.5l2.7-4.7l3.4-4.6l4.7-4.7l1.5-1.4l4.8-3.3l1.5-0.9l6.3-3l2.1-0.7l4.1-1.4l6.3-1.5l6.2-0.9l6.3-0.5l6.3-0.1l6.2 0.2l6.3 0.4l6.3 0.7l6.2 0.9l6.3 1.2l4.8 1l1.4 0.3l6.3 1.7l6.3 2.1l1.4 0.5l4.8 2.5l3.3 2.2l3 3.8l0.6 0.9l1.9 4.6l0.9 4.7l0.4 4.7l0.1 4.6l-0.2 4.7l-0.5 4.7l-0.9 4.6l-1.3 4.7l-1 2.4l-0.8 2.3l-2.3 4.6l-3.2 4.7l-3.8 4.7l-2.4 2.2l-2.7 2.4l-3.6 2.7l-2.8 2l-3.5 2l-5 2.7l-1.2 0.5l-6.3 2.5l-5 1.6l-1.2 0.4l-6.3 1.4l-6.3 0.9l-6.2 0.4l-6.3 0l-6.3-0.6zM683.6 436.5l-1.8 2l-4.4 4.7l-4.5 4.6l-1.8 1.8l-2.9 2.9l-3.3 3.2l-1.7 1.5l-4.6 3.8l-1.1 0.8l-5.2 3.7l-1.5 1l-4.7 2.7l-4 2l-2.3 1l-6.3 2.3l-4.7 1.3l-1.5 0.4l-6.3 1.1l-6.2 0.4l-6.3-0.1l-6.3-0.6l-5.7-1.2l-0.5-0.1l-6.3-2l-6-2.5l-0.3-0.2l-6.2-3.7l-1.2-0.8l-5.1-4.3l-0.4-0.4l-4-4.6l-1.8-2.8l-1.2-1.9l-1.9-4.7l-1.1-4.6l-0.4-4.7l0.3-4.7l1-4.6l1.6-4.7l1.7-3.5l0.5-1.2l2.7-4.6l3-4.3l0.3-0.4l3.8-4.7l2.2-2.4l2.1-2.2l4.1-4.3l0.5-0.4l4.9-4.7l0.9-0.9l4-3.7l2.3-2.3l2.4-2.4l3.8-4.1l0.6-0.6l3.9-4.6l1.8-2.6l1.5-2.1l2.9-4.7l1.9-3.7l0.4-0.9l2-4.7l1.4-4.7l1.2-4.6l0.7-4.7l0.4-4.7l0.1-3.8l0-0.8l0-0.8l-0.1-3.9l-0.3-4.7l-0.5-4.6l-0.5-4.7l-0.5-4.7l-0.5-4.6l-0.4-4.7l-0.2-4.7l0.1-4.6l0.3-4.7l0.7-4.7l1.1-4.6l0.8-2.3l0.9-2.4l2.4-4.7l3-4.2l0.3-0.4l4.6-4.7l1.3-1.2l5.1-3.5l1.2-0.7l6.3-3l2.5-0.9l3.7-1.2l6.3-1.3l6.3-0.6l6.2 0l6.3 0.8l6.2 1.4M339.2 384.3l-5.3-1.8l-1-0.2l-6.2-1.8l-6.3-1.9l-2.2-0.8l-4-1.1l-6.3-2l-4.7-1.5l-1.6-0.5l-6.2-2.1l-5.6-2.1l-0.7-0.3l-6.3-2.6l-3.4-1.8l-2.8-2l-3-2.6l-2.7-4.7l-0.6-1.8l-0.8-2.9l-0.6-4.6l-0.2-4.7l0.1-4.7l0.4-4.6l0.7-4.7l0.4-1.9l0.5-2.8l1.2-4.6l1.5-4.7l1.9-4.7l1.2-2.5l1-2.1l2.6-4.7l2.6-3.9l0.6-0.8l3.7-4.6l2-2.2l2.4-2.5l3.9-3.5l1.3-1.2l4.9-3.6l1.5-1l4.8-3l3.3-1.7l3-1.5l6.2-2.6l1.6-0.6l4.7-1.5l6.2-1.6l6.3-1l5.9-0.5l0.4-0.1l6.2 0l0.7 0.1l5.6 0.5l6.3 1.2l6.2 2l2.1 0.9l4.2 2.1l3.8 2.6l2.4 2l2.7 2.7l3.6 4.5l0.1 0.1l2.6 4.7l1.9 4.7l1.2 4.6l0.5 2.4l0.3 2.3l0.5 4.7l0 4.6l-0.3 4.7l-0.5 4.1l-0.1 0.6l-0.9 4.6l-1.2 4.7l-1.5 4.7l-1.7 4.6l-0.9 2.2l-1.1 2.5l-2.3 4.7l-2.6 4.6l-0.3 0.6l-2.5 4.1l-3 4.7l-0.7 1.1l-2.7 3.5l-3.5 4.7l-0.1 0.2l-3.8 4.5l-2.4 3.3l-1.6 1.3l-4.4 4.7l-0.3 0.7l-6.3 3.5l-6.2-0.7zM683.6 137.3l-2 2.5l-4.1 4.7l-0.1 0.1l-5 4.6l-1.3 1.1l-4.9 3.5l-1.3 1l-6.3 3.5l-0.4 0.2l-5.9 2.5l-6.2 2l-0.7 0.2l-5.6 1.2l-6.3 0.9l-6.2 0.3l-6.3 0l-6.2-0.5l-6.3-0.8l-5.6-1.1l-0.7-0.2l-6.2-1.8l-6.3-2.7l-5.8-4.7l-0.5-0.6l-2.4-4l-1.4-4.7l-0.6-4.7l-0.1-4.6l0.2-4.7l0.5-4.7l0.9-4.6l1-4.7l1.4-4.7l0.5-1.5l1.1-3.1l1.9-4.7l2.1-4.7l1.2-2.4l1.2-2.2l2.5-4.7l2.6-4.3l0.2-0.4l3-4.6l2.9-4.7l0.1-0.2l3-4.5l2.9-4.6l0.4-0.7l2.4-4l2.7-4.7l1.2-2.2l1.2-2.4l2.3-4.7l2.1-4.7l0.6-1.3l1.5-3.3l2.1-4.7M63.6 86.9l6.3-0.7l6.3-0.2l6.2 0.4l6.3 0.9l5.2 1.2l1.1 0.3l6.2 2.2l4.9 2.2l1.4 0.7l6 3.9l0.3 0.3l4.7 4.4l1.5 1.9l2.1 2.8l2.4 4.6l1.6 4.7l0.2 0.9l0.7 3.8l0.4 4.6l0 4.7l-0.4 4.7l-0.6 4.6l-0.1 0.7l-0.8 4l-1 4.7l-1.1 4.6l-1.2 4.7l-1.1 4.7l-0.9 4.6l-0.2 1.1l-0.6 3.6l-0.5 4.7l-0.1 4.6l0.4 4.7l0.7 4.7l0.1 0.4l1 4.2l1.3 4.7l1.6 4.7l1.8 4.6l0.6 1.7l1.1 3l1.6 4.7l1.5 4.6l1.3 4.7l0.7 3.4l0.3 1.3l0.8 4.6l0.4 4.7l0.1 4.7l-0.2 4.6l-0.7 4.7l-0.7 2.7l-0.4 2l-1.7 4.6l-2.2 4.7l-1.9 3.2l-1.1 1.5l-3.9 4.6l-1.3 1.3l-4.2 3.4l-2 1.4l-6.3 3.2l-0.2 0.1l-6.1 1.9l-6.2 1.1l-6.3 0.3l-6.3-0.3l-6.2-1l-6.3-1.6l-1.3-0.4l-5-1.9M311.7 32.5l2.5 2.8l1.5 1.9l3.4 4.6l1.3 2.1l1.7 2.6l2.6 4.7l2 3.8l0.4 0.8l2.3 4.7l2.2 4.7l1.3 2.9l1 1.7l2.6 4.7l2.7 4l0.6 0.7l5 4.6l0.7 0.5l6.2 3.1l3.4 1.1l2.9 0.8l6.3 1.3l6.2 1l6.3 1l3.6 0.6l2.6 0.4l6.3 1.1l6.3 1.3l6.2 1.6l1 0.2l5.3 1.6l6.3 2.1l2.6 1l3.6 1.5l6.3 2.8l0.7 0.4l5.5 2.9l3.1 1.7l3.2 2l4.3 2.7l2 1.4l4.8 3.3l1.4 1.1l5 3.5l1.3 1l5.2 3.7l1.1 0.8l5.8 3.9l0.4 0.3l6.3 3.7l1.3 0.6l4.9 2.5l5.1 2.2l1.2 0.5l6.3 2.3l6 1.9l0.2 0l6.3 1.8l6.3 1.7l4.5 1.1l1.7 0.5l6.3 1.6l6.2 1.7l3.5 0.9l2.8 0.9l6.3 2.1l4.5 1.7l1.7 0.8l6.3 3.8l0.1 0l4.4 4.7l1.8 3.6l0.4 1.1l1.4 4.6l0.8 4.7l0.4 4.7l0 4.6l-0.1 4.7l-0.5 4.7l-0.7 4.6l-1.1 4.7l-0.6 1.9l-0.9 2.8l-2 4.6l-2.7 4.7l-0.7 1l-2.7 3.7l-3.6 3.6l-1 1l-5.2 4.1l-0.9 0.6l-5.4 3.2l-2.9 1.5l-3.4 1.4l-6.2 2.4l-2.8 0.8l-3.5 1l-6.2 1.4l-6.3 1l-6.3 0.6l-6.2 0.2l-6.3-0.1l-6.3-0.4l-6.2-0.8l-6.3-1.2l-6.2-1.5l-0.4-0.2l-5.9-1.9l-6.3-2.4l-0.6-0.3l-5.6-2.8l-3.4-1.9l-2.9-1.8l-4.2-2.9l-2.1-1.5l-4-3.1l-2.2-2l-3.3-2.7l-3-2.6l-2.4-2.1l-3.8-3.1l-1.9-1.5l-4.4-3.3l-1.9-1.4l-4.4-2.9l-2.6-1.8l-3.6-2.2l-4-2.4l-2.3-1.4l-5.3-3.3l-1-0.5l-6.2-4.2l-6.3-4.5l-0.2-0.1l-5.6-4.7l-0.4-0.3l-4.6-4.4l-1.7-1.6l-2.8-3l-3.5-4.1l-0.4-0.6l-3.5-4.7l-2.3-3.4l-0.9-1.2l-2.8-4.7l-2.5-4.7l-0.1-0.1l-2.2-4.5l-2.2-4.7l-1.9-4.3l-0.1-0.4l-2-4.6l-2-4.7l-2.1-4.5l-0.1-0.2l-2.6-4.6l-3.5-4.7l-0.1-0.1l-5.8-4.6l-0.4-0.2l-6.3-2.6l-6.3-1.6l-1.4-0.2l-4.8-0.8l-6.3-0.8l-6.3-0.8l-6.2-0.8l-6.3-0.9l-3.8-0.6l-2.4-0.4l-6.3-1.2l-6.3-1.5l-5.5-1.6l-0.7-0.2l-6.3-2.1l-5.7-2.3l-0.6-0.3l-6.2-3.2l-2.2-1.2l-4.1-2.8l-2.5-1.9l-3.7-3.5l-1.1-1.1l-3.5-4.7l-1.7-3.3l-0.7-1.4l-1.4-4.6l-0.6-4.7l0.1-4.7l0.7-4.6l1.4-4.7l0.5-1.1l1.5-3.6l2.6-4.6l2.2-3l1.2-1.7"/>
<path stroke="#3d4d8a" d="M347 494.5l-1.5-1l-5.1-3.7l-1.2-1l-4-3.6l-2.3-2.5l-2-2.2l-3.6-4.7l-0.6-1l-2.4-3.6l-2.4-4.7l-1.5-3.7l-0.4-1l-1.5-4.6l-1.1-4.7l-0.5-4.7l-0.1-4.6l0.4-4.7l0.8-4.7l1.5-4.6l0.9-2.5l0.9-2.2l2.2-4.7l2.5-4.6l0.7-1.4l1.8-3.3l2.5-4.7l1.9-4.6l0-0.8l0.6-3.9l-0.6-1.3l-1.4-3.4l-4.8-3.7l-1.4-0.9l-4.9-2.2l-5.8-2.5l-0.4-0.2l-6.3-2l-6.3-1.9l-2-0.6l-4.2-1.1l-6.3-1.3l-6.3-0.9l-6.2 0.5l-3.9 2.8l-2.4 4l-0.2 0.7l-1.1 4.7l-0.8 4.6l-0.9 4.7l-0.9 4.7l-1.2 4.6l-1.1 3.2l-0.5 1.5l-1.8 4.7l-2.5 4.6l-1.5 2.2l-1.6 2.5l-4 4.7l-0.7 0.5l-4.3 4.1l-1.9 1.5l-4.4 3.2l-1.9 1.2l-6.2 3.5l-0.1 0l-6.2 2.8l-4.8 1.8l-1.5 0.5l-6.2 1.8l-6.3 1.3l-6.3 0.9l-3.4 0.2l-2.8 0.2l-6.3-0.1l-0.8-0.1l-5.5-0.5l-6.2-1.2l-6.3-1.6l-3.6-1.4l-2.6-1l-6.3-3.2l-0.7-0.4l-5.6-3.8l-1-0.9l-5.1-4.7l-0.1-0.1l-3.7-4.5l-2.6-3.9l-0.5-0.8l-2.2-4.7l-1.7-4.6l-1.2-4.7l-0.7-4.5l0-0.2l-0.1-4.6l0.1-3l0.2-1.7l0.7-4.7l1.3-4.6l1.8-4.7l2.3-4.6l0.1-0.1l3.1-4.6l3.1-3.7l0.9-1l5.3-4.6l0.1-0.1l6.2-3.8l1.7-0.8l4.6-2l6.2-2l3.2-0.7l3.1-0.7l6.2-0.8l6.3-0.5l6.3-0.2l6.2 0.1l6.3 0.3l6.3 0.5l6.2 0.7l5.2 0.6l1.1 0.1l6.2 0.8l6.3 0.8l6.3 0.6l6.2-0.1l6-2.2l0.3-0.2l2.8-4.5l1.5-4.6l1.2-4.7l0.8-3.6l0.1-1.1l1-4.6l1-4.7l1.2-4.7l1.5-4.6l1.4-4l0.2-0.7l2-4.7l2.2-4.6l1.9-3.2l0.8-1.5l3.1-4.7l2.3-3l1.4-1.6l4.2-4.7l0.7-0.7l4.3-4l2-1.6l4-3l2.2-1.6l5.1-3.1l1.2-0.7l6.3-3.2l1.9-0.8l4.3-1.8l6.3-2.1l2.9-0.7l3.3-0.9l6.3-1.2l6.3-0.7l6.2-0.2l6.3 0.3l6.3 0.9l6.2 1.7l0.2 0.1l6.1 2.4l3.9 2.2l2.3 1.6l3.7 3.1l2.6 2.7l1.5 2l3 4.6l1.8 4l0.3 0.7l1.5 4.7l1 4.6l0.6 4.7l0.2 4.7l-0.1 4.6l-0.3 4.7l-0.7 4.7l-0.9 4.6l-1.2 4.7l-0.4 1.4l-1 3.3l-1.7 4.6l-1.9 4.7l-1.7 3.9l-0.4 0.8l-2.3 4.6l-2.5 4.7l-1.1 2.1l-1.5 2.6l-2.7 4.6l-2 3.8l-0.6 0.9l-2.6 4.7l-1.8 4.6l-0.6 4.7l1.3 4.7l4.3 4.1l0.5 0.5l5.7 3.7l1.4 1l4.9 2.6l3.4 2.1l2.9 1.4l5.4 3.2l0.8 0.5l6.3 3.8l0.6 0.4l5.7 3.7l1.2 1l5 3.7l1.2 0.9l5.1 4.4l0.3 0.3l4.6 4.7l1.3 1.4l2.7 3.2l3.3 4.7l0.3 0.6l2.3 4.1l1.9 4.6l1.2 4.7l0.5 4.7l-0.1 4.6l-0.8 4.7l-1.4 4.7l-2.2 4.6l-1.4 2.2l-1.6 2.5l-3.8 4.7l-0.9 0.8l-4 3.8l-2.2 1.8l-4.1 2.9M683.6 439.3l-3.6 3.9l-2.6 2.7l-1.9 1.9l-4.4 4.5l-0.2 0.2l-5 4.7l-1 0.9l-4.5 3.7l-1.8 1.4l-4.6 3.3l-1.7 1.1l-6.2 3.6l-6.3 2.9l-4.8 1.7l-1.5 0.5l-6.2 1.6l-6.3 1.1l-6.2 0.5l-6.3-0.1l-6.3-0.7l-6.2-1.2l-6-1.7l-0.3-0.1l-6.3-2.5l-3.9-2l-2.3-1.4l-4.8-3.3l-1.5-1.3l-3.6-3.4l-2.6-3l-1.3-1.6l-2.8-4.7l-1.9-4.7l-0.3-1.5l-0.7-3.1l-0.3-4.7l0.3-4.7l0.7-3.1l0.3-1.5l1.6-4.7l2.2-4.7l2.2-3.7l0.5-0.9l3.2-4.7l2.5-3.1l1.3-1.6l4.1-4.6l0.9-1l3.7-3.7l2.5-2.6l2.2-2.1l4.1-4l0.7-0.6l4.7-4.7l0.9-0.9l3.5-3.8l2.7-3.1l1.3-1.5l3.4-4.7l1.6-2.5l1.4-2.2l2.4-4.6l2-4.7l0.5-1.4l1-3.3l1.2-4.6l0.8-4.7l0.4-4.7l0.2-4.6l-0.1-4.7l-0.3-4.7l-0.5-4.6l-0.5-4.7l-0.6-4.7l-0.5-4.6l-0.4-4.7l-0.3-4.7l-0.1-4.6l0.2-4.7l0.5-4.7l0.9-4.6l1.4-4.7l2-4.7l0.9-1.5l2-3.1l3.9-4.7l0.4-0.4l5-4.3l1.2-0.9l6.3-3.6l0.3-0.1l6-2.6l6.2-1.8l1.8-0.3l4.5-0.8l6.3-0.4l6.2 0.2l6.3 0.8l0.7 0.2l5.5 1.3M683.6 140.7l-3.2 3.8l-3 3.2l-1.6 1.5l-4.7 4l-0.8 0.6l-5.4 3.9l-1.5 0.8l-4.8 2.7l-4.6 2l-1.7 0.7l-6.2 2.1l-6.3 1.4l-2.8 0.4l-3.5 0.6l-6.2 0.5l-6.3 0.2l-6.2-0.2l-6.3-0.4l-6.3-0.6l-0.9-0.1l-5.3-0.6l-6.3-0.7l-6.3-0.7l-6.2 0.7l-1.2 1.3l-1.6 4.7l-0.5 4.7l-0.4 4.6l-0.2 4.7l-0.3 4.7l-0.4 4.6l-0.5 4.7l-0.7 4.7l-0.5 2.7l-0.3 1.9l-1.1 4.7l-1.4 4.7l-1.9 4.6l-1.5 2.8l-1.1 1.9l-3.2 4.7l-2 2.1l-2.3 2.5l-4 3.3l-1.7 1.4l-4.5 2.9l-3.2 1.8l-3.1 1.5l-6.3 2.6l-1.3 0.5l-4.9 1.7l-6.3 1.6l-6.2 1.3l-0.6 0.1l-5.7 0.8l-6.3 0.6l-6.2 0.2l-6.3 0l-6.3-0.4l-6.2-0.7l-3.2-0.5l-3.1-0.5l-6.2-1.4l-6.3-1.8l-3.1-1l-3.2-1.1l-6.2-2.7l-1.9-0.8l-4.4-2.4l-4-2.3l-2.3-1.5l-4.5-3.2l-1.7-1.3l-4.2-3.3l-2.1-1.8l-3.4-2.9l-2.8-2.4l-2.7-2.3l-3.6-2.8l-2.3-1.8l-4-2.9l-2.4-1.8l-3.8-2.5l-3.2-2.2l-3.1-1.9l-4.1-2.7l-2.2-1.4l-4.7-3.3l-1.5-1l-4.9-3.7l-1.4-0.9l-4.5-3.7l-1.7-1.5l-3.4-3.2l-2.9-2.7l-1.8-2l-4.2-4.6l-0.3-0.3l-3.4-4.4l-2.8-3.8l-0.6-0.9l-3.1-4.6l-2.6-4.4l-0.1-0.3l-2.6-4.7l-2.4-4.6l-1.2-2.5l-1.1-2.2l-2.2-4.7l-2.2-4.6l-0.7-1.6l-1.7-3.1l-2.8-4.7l-1.8-2.6l-1.7-2l-4.5-4.4l-0.5-0.3l-5.8-3.3l-3.5-1.4l-2.8-0.9l-6.2-1.5l-6.3-1.1l-6.3-1l-0.6-0.1l-5.6-0.9l-6.3-1l-6.2-1.1l-6.3-1.3l-1.9-0.4l-4.4-1l-6.2-1.8l-5.8-1.9l-0.5-0.1l-6.3-2.5l-4.5-2l-1.7-0.9l-6.3-3.6l-0.3-0.2l-5.9-4.5l-0.2-0.2l-4.6-4.6l-1.5-2.2l-1.7-2.5l-2.1-4.7l-1.3-4.6l-0.4-4.7l0.2-4.7l0.9-4.6l1.4-4.7l2-4.7l1-1.8l1.6-2.8l3.3-4.7M63.6 85.2l6.3-0.8l6.3-0.2l6.2 0.4l6.3 0.8l6.3 1.3l5.8 1.8l0.4 0.1l6.3 2.7l3.4 1.9l2.9 1.8l3.8 2.8l2.4 2.4l2.2 2.3l3.2 4.7l0.9 1.7l1.3 2.9l1.5 4.7l0.7 4.7l0.3 4.6l-0.1 4.7l-0.4 4.7l-0.7 4.6l-0.9 4.7l-1 4.7l-0.7 3.1l-0.4 1.5l-1.1 4.7l-1.1 4.7l-0.9 4.6l-0.7 4.7l-0.4 4.7l-0.1 4.6l0.3 4.7l0.7 4.7l1 4.6l1.4 4.7l1.3 3.8l0.2 0.9l1.6 4.6l1.7 4.7l1.5 4.7l1.2 3.8l0.3 0.8l1.2 4.7l1.1 4.7l0.7 4.6l0.5 4.7l0.1 4.7l-0.2 4.6l-0.6 4.7l-1 4.7l-1.5 4.6l-0.6 1.4l-1.4 3.3l-2.7 4.7l-2.1 2.9l-1.4 1.7l-4.7 4.7l-0.2 0.2l-6.2 4.3l-0.4 0.2l-5.9 2.6l-6.3 1.8l-1.4 0.2l-4.8 0.7l-6.3 0.2l-6.3-0.4l-2.8-0.5l-3.4-0.5l-6.3-1.7l-6.3-2.2M314.3 32.5l3.9 4.7l2.2 3l1.2 1.6l3 4.7l2.1 3.5l0.7 1.2l2.6 4.6l2.5 4.7l0.4 0.9l2.1 3.8l2.8 4.6l1.4 2.2l2 2.5l4.3 4.4l0.3 0.3l5.9 3.9l1.5 0.7l4.8 1.9l6.3 1.8l4.2 1l2 0.4l6.3 1.3l6.2 1.2l6.3 1.2l2.5 0.6l3.8 0.8l6.2 1.6l6.3 1.8l1.2 0.4l5.1 1.8l6.2 2.4l1.2 0.5l5.1 2.3l4.8 2.4l1.4 0.8l6.3 3.5l0.6 0.3l5.7 3.7l1.6 1l4.6 3.2l2.2 1.5l4.1 2.9l2.5 1.7l3.8 2.7l3 2l3.2 2.2l4.3 2.5l2 1.2l6.2 3.2l0.7 0.2l5.6 2.5l6 2.2l0.3 0.1l6.2 2l6.3 1.7l3.4 0.9l2.9 0.7l6.2 1.4l6.3 1.4l5.3 1.1l0.9 0.2l6.3 1.3l6.3 1.3l6.2 1.2l4.9 0.7l1.4 0.3l6.3 0.6l3.8-0.9l2.4-2l0.7-2.7l0.8-4.6l0.6-4.7l0.6-4.7l0.7-4.6l0.8-4.7l1-4.7l1.1-4.4l0-0.2l1.3-4.7l1.6-4.7l1.7-4.6l1.6-3.9l0.4-0.8l2.2-4.7l2.4-4.6l1.3-2.4l1.3-2.3l2.8-4.7l2.2-3.5l0.7-1.1l3-4.7l2.5-3.9l0.5-0.8l3-4.6l2.8-4.7l2.7-4.7l2.5-4.6l1.1-2.2l1.2-2.5l2.2-4.7l2.1-4.6l0.7-1.7l1.4-3"/>
<path stroke="#3b518b" d="M343.7 494.5l-4.5-3.3l-1.7-1.4l-4.6-4.1l-0.5-0.5l-4.3-4.7l-1.4-1.9l-2.1-2.8l-3.1-4.6l-1.1-2.2l-1.4-2.5l-2.1-4.7l-1.7-4.6l-1-4.2l-0.2-0.5l-0.9-4.7l-0.4-4.6l0-4.7l0.5-4.7l1-4.3l0-0.3l1.3-4.7l1.6-4.7l1.8-4.6l1.5-3.9l0.3-0.8l1.3-4.7l0.4-4.6l-1.4-4.7l-0.6-0.8l-3.8-3.9l-2.4-1.5l-6.3-3.1l-0.2 0l-6.1-1.8l-6.2-1.3l-6.3-0.2l-6.3 1.6l-2.1 1.7l-4 4.6l-0.1 0.3l-1.9 4.4l-1.6 4.7l-1.8 4.6l-1 2.2l-0.8 2.5l-2.1 4.7l-2.8 4.6l-0.5 0.7l-2.7 4l-3.6 3.9l-0.6 0.8l-5.1 4.6l-0.6 0.4l-5.7 4.3l-0.5 0.3l-6.3 3.8l-1 0.6l-5.3 2.5l-5 2.1l-1.2 0.5l-6.3 2.1l-6.2 1.6l-2.3 0.5l-4 0.7l-6.3 0.8l-6.2 0.3l-6.3-0.1l-6.3-0.6l-6.2-1l-0.3-0.1l-6-1.6l-6.2-2.3l-1.7-0.8l-4.6-2.3l-3.9-2.3l-2.4-1.7l-3.7-3l-2.5-2.3l-2.3-2.4l-3.7-4.6l-0.3-0.5l-2.6-4.2l-2.2-4.7l-1.5-3.9l-0.2-0.7l-1.1-4.7l-0.7-4.7l-0.2-4.6l0.2-4.7l0.7-4.7l1.1-4.6l0.2-0.6l1.5-4.1l2.2-4.7l2.6-4.4l0.1-0.2l3.7-4.7l2.5-2.7l2.2-2l4-3.2l2.4-1.4l3.9-2.2l6-2.5l0.3-0.1l6.2-1.9l6.3-1.2l6.2-0.8l6.3-0.5l6.2-0.2l0.1 0l0.5 0l5.7 0.1l6.3 0.2l6.3 0.3l6.2 0.4l6.3 0.3l6.2 0.2l6.3-0.1l6.3-0.8l1.5-0.6l4.7-2.2l2.5-2.4l3.2-4.7l0.6-1.1l1.4-3.6l1.6-4.6l1.6-4.7l1.6-4.7l0.1-0.1l1.5-4.5l1.8-4.7l2.1-4.7l0.8-1.5l1.6-3.1l2.7-4.7l2-3l1.1-1.7l3.6-4.6l1.5-1.9l2.6-2.8l3.7-3.6l1.1-1.1l5.2-4.2l0.5-0.4l5.7-4l1.1-0.7l5.2-3.1l3.2-1.6l3.1-1.5l6.2-2.6l1.5-0.5l4.8-1.7l6.2-1.7l6.3-1.3l0.2 0l6.1-0.9l6.2-0.4l6.3 0.1l6.3 0.6l3.3 0.6l2.9 0.6l6.3 1.9l4.5 2.2l1.7 0.9l5.3 3.7l1 0.9l3.5 3.8l2.8 4l0.4 0.7l2.2 4.6l1.6 4.7l1.1 4.7l0.7 4.6l0.2 2.5l0.2 2.2l0.1 4.7l-0.2 4.6l-0.1 0.3l-0.4 4.4l-0.7 4.7l-0.9 4.6l-1.2 4.7l-1.4 4.7l-1.6 4.6l0 0.2l-1.8 4.5l-1.9 4.7l-2.1 4.6l-0.5 1.1l-1.8 3.6l-2.2 4.7l-2.2 4.6l-0.1 0.3l-1.9 4.4l-1.7 4.7l-0.8 4.6l0.4 4.7l2.3 4.7l1.7 1.8l2.6 2.8l3.7 2.7l2.5 2l3.8 2.4l3.3 2.3l2.9 1.7l4.3 2.9l2 1.2l5 3.5l1.3 0.8l5.2 3.9l1 0.8l4.8 3.8l1.5 1.3l3.6 3.4l2.6 2.7l1.9 2l3.8 4.6l0.6 0.9l2.6 3.8l2.5 4.7l1.2 3l0.6 1.6l1.2 4.7l0.6 4.7l-0.2 4.6l-0.8 4.7l-1.4 4.4l-0.1 0.3l-2.2 4.6l-2.9 4.7l-1.1 1.4l-2.6 3.3l-3.7 3.6l-1 1l-5.2 4.2l-0.7 0.5M683.6 442l-1 1.2l-4.5 4.6l-0.7 0.7l-4 4l-2.3 2.2l-2.6 2.5l-3.6 3.2l-1.8 1.4l-4.5 3.5l-1.6 1.2l-4.7 3.1l-2.7 1.6l-3.5 1.8l-6.2 2.8l-0.1 0.1l-6.3 2.1l-6.2 1.6l-5.3 0.9l-1 0.2l-6.2 0.4l-6.3 0l-6.3-0.6l-0.1 0l-6.1-1.1l-6.3-1.8l-4.9-1.8l-1.4-0.5l-6.2-3.2l-1.7-0.9l-4.6-3.2l-1.9-1.5l-4.3-4l-0.7-0.7l-3.6-4.6l-2-3.4l-0.7-1.3l-1.8-4.7l-1-4.6l-0.3-4.7l0.4-4.7l1-4.6l1.6-4.7l0.8-1.7l1.4-3l2.7-4.6l2.2-3.3l1-1.4l3.6-4.7l1.6-1.8l2.5-2.8l3.8-4.1l0.6-0.6l4.7-4.7l0.9-0.9l3.9-3.7l2.4-2.5l2.2-2.2l4.1-4.3l0.3-0.4l4.1-4.6l1.8-2.5l1.7-2.2l3-4.7l1.6-3l0.9-1.6l2-4.7l1.6-4.7l1.2-4.6l0.6-3.1l0.2-1.6l0.5-4.7l0.2-4.6l-0.1-4.7l-0.3-4.7l-0.4-4.6l-0.1-1l-0.5-3.7l-0.6-4.7l-0.5-4.6l-0.5-4.7l-0.4-4.7l-0.2-4.6l0-4.7l0.3-4.7l0.7-4.6l1.1-4.7l0.6-1.7l1-3l2.4-4.6l2.8-4l0.5-0.7l4.6-4.7l1.2-0.9l5.3-3.7l0.9-0.6l6.3-3.2l2.4-0.9l3.9-1.4l6.2-1.5l6.3-0.9l6.3-0.3l6.2 0.4l6.3 0.9l6.2 1.6M683.6 144l-0.4 0.5l-4.2 4.7l-1.6 1.6l-3.5 3l-2.8 2.4l-3.2 2.3l-3 2.1l-4.6 2.6l-1.7 0.9l-6.3 2.8l-2.8 0.9l-3.4 1.2l-6.3 1.6l-6.3 1.1l-6.2 0.6l-2.8 0.2l-3.5 0.2l-6.2 0.2l-6.3 0.1l-6.3 0.2l-6.2 0.4l-6.3 1.5l-3.7 2.1l-2.6 2.3l-1.3 2.3l-1.9 4.7l-1.3 4.7l-1 4.6l-0.7 3.6l-0.2 1.1l-0.8 4.7l-1 4.6l-1.1 4.7l-1.4 4.7l-1.8 4.2l-0.1 0.4l-2.3 4.7l-3.1 4.7l-0.7 0.8l-3.4 3.8l-2.9 2.6l-2.4 2.1l-3.9 2.6l-3.3 2.1l-2.9 1.5l-6.3 2.9l-0.5 0.2l-5.8 2.2l-6.2 1.9l-2.4 0.6l-3.9 0.9l-6.2 1.2l-6.3 0.9l-6.3 0.5l-6.2 0.3l-6.3-0.1l-6.3-0.3l-6.2-0.6l-6.3-0.9l-6.2-1.2l-3.2-0.7l-3.1-0.8l-6.3-1.8l-5.8-2.1l-0.4-0.1l-6.3-2.7l-3.8-1.8l-2.5-1.4l-5.4-3.3l-0.8-0.6l-5.7-4.1l-0.6-0.4l-5.2-4.2l-1-0.9l-4.5-3.8l-1.8-1.6l-3.7-3.1l-2.6-2l-3.3-2.6l-2.9-2.2l-3.4-2.5l-2.9-2l-3.6-2.7l-2.7-1.7l-3.8-2.9l-2.4-1.7l-3.8-3l-2.5-1.8l-3.3-2.9l-2.9-2.4l-2.4-2.2l-3.9-3.8l-0.9-0.9l-4.3-4.7l-1.1-1.2l-2.8-3.4l-3.4-4.5l-0.2-0.2l-3.2-4.7l-2.9-4.4l-0.1-0.2l-2.8-4.7l-2.6-4.7l-0.8-1.4l-1.7-3.2l-2.4-4.7l-2.1-4.3l-0.2-0.4l-2.6-4.6l-2.8-4.7l-0.7-1.1l-2.7-3.6l-3.5-3.8l-1-0.8l-5.3-3.8l-1.7-0.9l-4.6-2l-6.2-2l-2.4-0.7l-3.9-0.8l-6.3-1.3l-6.2-1.1l-6.3-1.1l-1.6-0.3l-4.6-0.9l-6.3-1.3l-6.3-1.5l-3.7-1l-2.5-0.7l-6.3-2l-5.5-2l-0.8-0.3l-6.2-2.7l-3.3-1.6l-3-1.7l-4.7-3l-1.5-1.2l-4.2-3.5l-2.1-2.2l-2.2-2.4l-2.9-4.7l-1.2-2.8l-0.7-1.9l-1.1-4.6l-0.3-4.7l0.4-4.7l1-4.6l0.7-2.4l0.8-2.3l2-4.7l2.6-4.6l0.9-1.3l2.4-3.4M63.6 83.4l6.3-0.7l6.3-0.2l6.2 0.3l6.3 0.7l2 0.3l4.3 0.9l6.2 1.8l5.5 2l0.8 0.3l6.3 3.2l1.9 1.2l4.3 3.2l1.7 1.4l4.2 4.7l0.4 0.5l2.6 4.2l1.9 4.6l1.2 4.7l0.5 3.7l0.2 1l0.1 4.6l-0.2 4.7l-0.1 1l-0.3 3.7l-0.8 4.6l-0.9 4.7l-1 4.7l-1.1 4.6l-1.1 4.7l-1 4.7l0 0.1l-0.9 4.5l-0.7 4.7l-0.4 4.7l0 4.6l0.3 4.7l0.7 4.7l1 4.4l0 0.2l1.3 4.7l1.4 4.7l1.6 4.6l1.6 4.7l0.3 1.1l1.2 3.6l1.4 4.6l1.2 4.7l1 4.7l0.8 4.6l0.4 4.7l0.2 4.7l-0.2 4.6l-0.5 4.7l-0.9 4.7l-1.4 4.6l-1.8 4.7l-1.4 2.8l-1 1.9l-3.2 4.6l-2 2.6l-2.1 2.1l-4.2 3.7l-1.5 1l-4.7 2.8l-4.3 1.8l-2 0.8l-6.3 1.5l-6.2 0.8l-6.3 0.1l-6.3-0.6l-6.2-1.1l-5.7-1.5l-0.6-0.1l-6.3-2.3M316.8 32.5l3.6 4.3l0.3 0.4l3.4 4.6l2.6 3.9l0.5 0.8l2.9 4.7l2.7 4.6l0.1 0.3l2.7 4.4l2.9 4.7l0.7 1.1l2.7 3.5l3.6 4.1l0.6 0.6l5.6 4.5l0.4 0.2l5.9 3.1l4.1 1.5l2.2 0.7l6.2 1.8l6.3 1.5l3.2 0.7l3 0.6l6.3 1.4l6.3 1.5l4.3 1.2l1.9 0.5l6.3 1.8l6.3 2.1l0.5 0.2l5.7 2.3l5.6 2.4l0.7 0.3l6.2 3.1l2.4 1.3l3.9 2.2l4.2 2.4l2.1 1.4l5.2 3.3l1 0.7l5.8 4l0.5 0.3l6.3 4.3l6.2 4.1l1.1 0.6l5.2 3.1l3 1.6l3.2 1.6l6.3 2.8l0.7 0.2l5.6 2.1l6.2 2l2.2 0.6l4.1 1.1l6.3 1.5l6.2 1.3l4.2 0.8l2.1 0.4l6.2 1l6.3 0.7l6.3 0.5l6.2-0.1l6.3-1.3l2.1-1.2l4.2-3.6l0.6-1.1l2.4-4.7l1.7-4.6l1.5-4.4l0.1-0.3l1.4-4.7l1.5-4.6l1.6-4.7l1.7-4.6l0-0.1l1.9-4.6l2-4.7l2.3-4.7l2.5-4.6l2.6-4.7l1.2-2l1.6-2.7l3-4.6l1.7-2.7l1.3-2l3-4.7l1.9-3l1.1-1.6l2.8-4.7l2.4-4.1l0.3-0.6l2.6-4.6l2.3-4.7l1.1-2.2l1.1-2.5l2.2-4.6l2.1-4.7"/>
<path stroke="#3a548c" d="M340.5 494.5l-1.3-1l-4.6-3.7l-1.7-1.4l-3.3-3.2l-2.9-3.3l-1.3-1.4l-3.6-4.7l-1.4-2.1l-1.7-2.5l-2.7-4.7l-1.8-3.9l-0.4-0.8l-2-4.6l-1.5-4.7l-1.2-4.7l-0.8-4.6l-0.4-4.7l0-1.1l-0.1-3.6l0.1-0.8l0.2-3.8l0.6-4.7l0.9-4.7l0.9-4.6l0.7-4.7l0-4.7l-1.6-4.6l-1.7-2.1l-3.7-2.6l-2.6-1.2l-6.2-1l-6.3 1.2l-1.4 1l-4.9 4.3l-0.2 0.4l-2.7 4.6l-2.9 4.7l-0.4 0.6l-2.1 4.1l-3.3 4.6l-0.9 1l-2.7 3.7l-3.5 3.5l-1.1 1.2l-5.2 4.4l-0.2 0.2l-6.1 4.4l-0.4 0.3l-5.8 3.5l-2 1.2l-4.3 2.1l-5.5 2.5l-0.8 0.3l-6.2 2.3l-6.3 2l-0.4 0.1l-5.8 1.4l-6.3 1.1l-6.3 0.7l-6.2 0.3l-6.3-0.1l-6.3-0.6l-6.2-1.1l-6.3-1.6l-0.3-0.1l-5.9-2.1l-5.6-2.6l-0.7-0.3l-6.3-3.9l-0.6-0.4l-5.6-4.6l-0.2-0.1l-4.4-4.7l-1.7-2l-1.9-2.6l-2.8-4.7l-1.6-3.3l-0.6-1.4l-1.6-4.6l-1.1-4.7l-0.7-4.7l-0.2-4.6l0.2-4.7l0.6-4.7l1-4.6l1.4-4.7l1-2.5l1-2.2l2.5-4.6l2.8-4.2l0.4-0.5l4.1-4.7l1.8-1.7l3.7-2.9l2.5-1.9l5.2-2.8l1.1-0.6l6.3-2.4l6.2-1.7l6.3-1.1l6.2-0.8l6.3-0.4l6.3-0.2l6.2-0.1l6.3 0.1l6.3 0.2l6.2 0.1l6.3 0l6.2-0.4l6.3-0.9l3.4-1.1l2.9-1.2l4.6-3.5l1.6-1.6l2.1-3.1l2.6-4.6l1.6-3.2l0.6-1.5l1.9-4.7l2-4.6l1.8-4l0.2-0.7l2.2-4.7l2.5-4.6l1.3-2.3l1.4-2.4l3.1-4.7l1.8-2.3l1.8-2.3l4-4.7l0.4-0.4l4.3-4.3l2-1.8l3.4-2.8l2.9-2.2l3.5-2.5l2.7-1.8l4.9-2.9l1.4-0.8l6.3-3.1l1.8-0.7l4.4-1.9l6.3-2.2l2-0.6l4.2-1.3l6.3-1.4l6.3-1.1l6.2-0.6l6.1-0.3l0.2 0l0.3 0l6 0.2l6.2 0.7l6.3 1.3l6.2 2.2l0.7 0.3l5.6 3l2.1 1.7l4.2 4l0.4 0.6l3.2 4.7l2.1 4.7l0.5 1.5l1 3.1l1.1 4.7l0.7 4.7l0.4 4.6l0.1 4.7l-0.1 4.7l-0.3 4.6l-0.6 4.7l-0.8 4.7l-1 4.6l-0.5 2.1l-0.6 2.6l-1.4 4.7l-1.5 4.6l-1.7 4.7l-1 2.7l-0.8 2l-2 4.6l-1.9 4.7l-1.6 3.9l-0.3 0.8l-1.9 4.6l-1.5 4.7l-1 4.7l-0.2 4.6l1 4.7l2.6 4.7l1.3 1.4l2.9 3.2l3.4 2.8l2.2 1.9l4 2.8l2.4 1.9l3.9 2.6l2.7 2l3.6 2.5l2.9 2.2l3.3 2.5l2.7 2.2l3.6 2.9l1.9 1.7l4.3 4.1l0.7 0.6l4.3 4.7l1.3 1.5l2.4 3.1l3.1 4.7l0.8 1.4l1.7 3.3l1.8 4.6l1.1 4.7l0.5 4.7l-0.2 4.6l-0.8 4.7l-1.5 4.7l-2.2 4.6l-0.4 0.7l-2.5 4l-3.6 4.7l-0.2 0.1l-4.4 4.5l-1.9 1.6l-3.8 3.1M683.6 444.7l-3 3.1l-3.2 3.3l-1.4 1.4l-4.9 4.7l-5.3 4.6l-0.9 0.8l-5 3.9l-1.3 0.9l-5.7 3.8l-0.6 0.3l-6.2 3.4l-2.1 0.9l-4.2 1.8l-6.3 2.1l-2.9 0.8l-3.3 0.8l-6.3 1l-6.2 0.5l-6.3-0.1l-6.3-0.5l-6.2-1l-2.7-0.7l-3.6-1l-6.3-2.2l-3.3-1.5l-2.9-1.4l-5.5-3.2l-0.8-0.6l-5.3-4.1l-0.9-0.8l-3.8-3.9l-2.5-3.2l-1.1-1.4l-2.6-4.7l-1.7-4.7l-0.9-4.3l0-0.3l-0.3-4.7l0.3-3.3l0.2-1.4l1-4.6l1.6-4.7l2.2-4.7l1.3-2.3l1.3-2.3l3.2-4.7l1.8-2.3l1.8-2.4l4-4.6l0.4-0.5l3.9-4.2l2.4-2.4l2.2-2.3l4-4l0.7-0.6l4.7-4.7l0.9-1l3.5-3.7l2.8-3.2l1.2-1.4l3.6-4.7l1.4-2.1l1.7-2.6l2.6-4.6l2-4.6l0.1-0.1l1.6-4.7l1.3-4.6l0.8-4.7l0.5-4.7l0.2-4.6l-0.1-4.7l-0.2-4.7l-0.5-4.6l-0.6-4.7l-0.6-4.7l-0.6-4.6l-0.5-4.7l-0.5-4.7l-0.3-4.6l-0.2-4.7l0.1-4.7l0.3-4.6l0.8-4.7l1.2-4.7l1.9-4.6l1.6-2.8l1.1-1.9l3.8-4.7l1.3-1.2l4.1-3.4l2.2-1.5l5.5-3.2l0.7-0.4l6.3-2.7l5.1-1.6l1.2-0.3l6.2-1.3l6.3-0.7l6.3-0.1l6.2 0.5l6.3 1.1l2.8 0.8l3.4 0.9M683.6 147.3l-1.6 1.9l-4.6 4.6l0 0.1l-5.4 4.6l-0.9 0.8l-5.6 3.9l-0.6 0.4l-6.3 3.6l-1.4 0.6l-4.9 2.3l-6.2 2.1l-1 0.3l-5.3 1.5l-6.3 1.2l-6.2 0.9l-6.3 0.6l-5.5 0.5l-0.7 0l-6.3 0.7l-6.3 1l-6.2 1.9l-2 1l-4.3 3.3l-1.1 1.4l-2.8 4.7l-1.9 4.6l-0.5 1.4l-0.8 3.3l-1.2 4.7l-1.1 4.6l-1.2 4.7l-1.4 4.7l-0.5 1.2l-1.2 3.4l-2.2 4.7l-2.9 4.6l0 0.1l-3.7 4.6l-2.5 2.3l-2.6 2.4l-3.7 2.6l-3.1 2.1l-3.2 1.7l-5.9 2.9l-0.3 0.2l-6.3 2.5l-6 2l-0.3 0.1l-6.2 1.7l-6.3 1.4l-6.2 1.1l-3 0.4l-3.3 0.4l-6.3 0.5l-6.2 0.3l-6.3 0l-6.3-0.3l-6.2-0.5l-3.8-0.4l-2.5-0.3l-6.2-1l-6.3-1.3l-6.3-1.5l-2.2-0.6l-4-1.2l-6.3-2.1l-3.7-1.4l-2.6-1.1l-6.2-2.9l-1.2-0.6l-5.1-3l-2.6-1.7l-3.6-2.8l-2.4-1.9l-3.9-3.3l-1.4-1.3l-4.9-4.5l-0.2-0.2l-5.3-4.7l-0.7-0.6l-4.8-4l-1.5-1.1l-4.3-3.6l-2-1.5l-3.8-3.2l-2.4-1.7l-3.4-2.9l-2.9-2.3l-2.6-2.4l-3.6-3.2l-1.5-1.5l-4.8-4.6l-4.4-4.7l-1.9-2l-2.2-2.7l-3.7-4.6l-0.3-0.5l-3.1-4.2l-3.2-4.7l-2.9-4.6l-2.8-4.7l-0.6-1l-2-3.7l-2.5-4.6l-1.7-3.2l-0.9-1.5l-2.6-4.7l-2.8-4.6l-3.3-4.7l-2.9-3.5l-1.2-1.2l-5.1-4.3l-0.5-0.3l-5.8-3.2l-3.4-1.5l-2.8-1l-6.3-1.8l-6.3-1.5l-1.6-0.4l-4.6-0.9l-6.3-1.2l-6.2-1.3l-5.7-1.2l-0.6-0.2l-6.3-1.4l-6.2-1.7l-4.6-1.4l-1.7-0.5l-6.3-2.2l-4.8-2l-1.4-0.6l-6.3-3l-1.9-1l-4.3-2.8l-2.9-1.9l-3.4-2.8l-2-1.9l-3.9-4.6l-0.4-0.6l-2.3-4.1l-1.7-4.7l-0.8-4.6l-0.1-4.7l0.5-4.7l1-4.6l1.6-4.7l1.8-4l0.3-0.7l2.6-4.6l3.3-4.7M63.6 81.8l6.3-0.8l6.3-0.2l6.2 0.2l6.3 0.6l6.3 1.1l4.5 1.1l1.7 0.5l6.3 2.1l4.8 2.1l1.5 0.7l6.2 3.8l0.3 0.2l5.5 4.6l0.5 0.5l3.4 4.2l2.6 4.7l0.2 0.5l1.6 4.1l1 4.7l0.5 4.7l0 4.6l-0.3 4.7l-0.5 4.7l-0.8 4.6l-1 4.7l-0.5 2.2l-0.5 2.5l-1.1 4.6l-1.1 4.7l-1 4.7l-0.8 4.6l-0.6 4.7l-0.4 4.7l0 4.6l0.3 4.7l0.6 4.7l1 4.6l1.2 4.7l1.4 4.7l1 3.1l0.5 1.5l1.5 4.7l1.5 4.7l1.3 4.6l1.2 4.7l0.3 1.2l0.7 3.5l0.8 4.6l0.5 4.7l0.2 4.7l-0.1 4.6l-0.5 4.7l-0.8 4.7l-0.8 3l-0.4 1.6l-1.7 4.7l-2.2 4.7l-2 3.4l-0.8 1.2l-3.6 4.7l-1.8 2l-3.1 2.7l-3.2 2.4l-3.8 2.2l-2.4 1.3l-6.3 2.3l-5.4 1.1l-0.9 0.2l-6.2 0.6l-6.3-0.1l-6.3-0.7l-0.2 0l-6-1.1l-6.3-1.7l-5.1-1.9l-1.2-0.4M319.3 32.5l1.1 1.3l2.7 3.4l3.5 4.6l0.1 0.2l3.1 4.5l3 4.7l0.1 0.3l2.8 4.3l3 4.7l0.5 0.7l2.9 4l3.4 4.1l0.5 0.5l5.1 4.7l0.6 0.5l6.3 3.8l0.6 0.4l5.7 2.4l6.2 2.1l0.6 0.1l5.7 1.6l6.2 1.5l6.3 1.6l0.2 0l6.1 1.5l6.2 1.8l4.7 1.4l1.6 0.4l6.3 2.2l5.4 2l0.8 0.3l6.3 2.7l3.5 1.7l2.7 1.4l6.2 3.3l0.1 0l6.3 3.7l1.5 0.9l4.7 3.1l2.6 1.6l3.7 2.5l3.3 2.2l3 2l4.2 2.6l2 1.4l5.7 3.3l0.6 0.4l6.2 3.2l2.4 1.1l3.9 1.7l6.3 2.4l1.8 0.5l4.4 1.4l6.3 1.7l6.3 1.4l1 0.2l5.2 1l6.3 0.9l6.2 0.7l6.3 0.2l6.3-0.2l6.2-1.3l2.8-1.3l3.5-2.1l2.4-2.6l3.4-4.6l0.5-0.8l1.8-3.9l2-4.7l2-4.6l0.4-1.1l1.4-3.6l1.9-4.7l2.1-4.6l0.9-1.8l1.3-2.9l2.4-4.7l2.5-4.6l0-0.1l2.7-4.6l2.8-4.7l0.8-1.2l2.2-3.4l3-4.7l1.1-1.7l1.9-3l3-4.6l1.3-2.2l1.6-2.5l2.7-4.7l2-3.6l0.6-1l2.4-4.7l2.2-4.7l1.1-2.1l1.1-2.5l2.2-4.7"/>
<path stroke="#38598c" d="M337.5 494.5l-4.6-3.6l-1.2-1.1l-4.9-4.6l-0.1-0.2l-4.1-4.5l-2.2-2.8l-1.5-1.9l-3.2-4.6l-1.5-2.8l-1.3-1.9l-2.5-4.7l-2.1-4.6l-0.4-1.2l-1.6-3.5l-1.6-4.7l-1.4-4.6l-1.2-4.7l-0.5-2.7l-0.5-2l-1-4.6l-1-4.7l-1.3-4.7l-2.2-4.6l-0.2-0.3l-6.3-0.2l-0.5 0.5l-5.8 3.6l-0.8 1l-5.4 4.4l-0.3 0.3l-5.7 4.7l-0.3 0.1l-6 4.5l-0.2 0.2l-6.3 4.1l-0.6 0.4l-5.7 3.3l-2.4 1.4l-3.8 1.8l-6 2.8l-0.3 0.2l-6.3 2.4l-5.9 2.1l-0.3 0.1l-6.3 1.7l-6.2 1.4l-6.3 1.1l-3.8 0.4l-2.5 0.2l-6.2 0.3l-6.3-0.2l-3.6-0.3l-2.7-0.3l-6.2-1.1l-6.3-1.5l-5.2-1.8l-1-0.4l-6.3-2.8l-2.6-1.5l-3.7-2.2l-3.4-2.4l-2.8-2.3l-2.6-2.4l-3.7-3.9l-0.6-0.8l-3.4-4.6l-2.3-3.8l-0.5-0.9l-2.1-4.7l-1.6-4.6l-1.1-4.7l-0.7-4.7l-0.2-3.6l-0.1-1l0.1-2.1l0.1-2.6l0.5-4.7l0.9-4.6l1.4-4.7l1.7-4.7l1.6-3.4l0.7-1.2l2.8-4.7l2.8-3.8l0.8-0.9l4.6-4.6l0.9-0.8l5.4-3.9l0.8-0.6l6.3-3.1l2.6-1l3.7-1.2l6.2-1.6l6.3-1l6.2-0.7l2.1-0.1l4.2-0.3l6.3-0.2l6.2-0.1l6.3-0.1l6.3 0l6.2-0.1l6.3-0.5l6.2-0.8l6.3-1.8l1.6-0.8l4.7-2.8l2-1.9l3.9-4.6l0.3-0.4l2.5-4.3l2.5-4.7l1.3-2.4l1-2.2l2.3-4.7l2.4-4.7l0.6-1l1.9-3.6l2.8-4.7l1.5-2.2l1.6-2.5l3.6-4.6l1.1-1.3l2.9-3.4l3.3-3.5l1.2-1.2l5.1-4.5l0.1-0.1l6-4.7l0.2-0.1l6.2-4.1l0.7-0.5l5.6-3.1l3-1.5l3.3-1.7l6.2-2.6l1-0.4l5.3-2l6.2-1.9l3.1-0.8l3.2-0.8l6.3-1.4l6.2-1l6.3-0.6l6.3-0.3l6.2 0l6.3 0.3l6.2 0.8l6.3 1.5l4 1.5l2.3 1.2l4.1 3.5l2.1 3l0.9 1.7l2 4.6l1.3 4.7l0.9 4.7l0.7 4.6l0.4 4.7l0.1 1l0.2 3.7l0.1 4.6l-0.2 4.7l-0.1 2l-0.2 2.7l-0.4 4.6l-0.7 4.7l-0.8 4.7l-1 4.6l-1.2 4.7l-1.4 4.7l-0.6 1.9l-0.8 2.7l-1.6 4.7l-1.7 4.7l-1.8 4.6l-0.3 1l-1.5 3.7l-1.7 4.7l-1.5 4.6l-1.1 4.7l-0.5 4.4l0 0.3l0 0.6l0.2 4l1.4 4.7l2.7 4.7l2 2.1l2.1 2.5l4.1 3.6l1.2 1.1l5.1 3.9l0.9 0.8l5.4 4l0.8 0.6l5.4 4.2l0.7 0.5l5.6 4.6l0.1 0.1l5.3 4.6l0.8 0.8l3.9 3.9l2.4 2.6l1.9 2.1l3.6 4.6l0.8 1.2l2.2 3.5l2.4 4.7l1.6 4.4l0.1 0.2l1.1 4.7l0.5 4.7l-0.2 4.6l-0.9 4.7l-0.6 1.6l-1 3.1l-2.1 4.6l-2.9 4.7l-0.2 0.3l-3.4 4.4l-2.9 3.1l-1.5 1.5l-4.8 4.1l-0.7 0.6M683.6 447.2l-0.5 0.6l-4.6 4.7l-1.1 1.1l-3.8 3.6l-2.5 2.3l-2.7 2.3l-3.5 3l-2.2 1.7l-4.1 2.9l-2.6 1.8l-3.7 2.2l-4.5 2.4l-1.7 0.9l-6.3 2.6l-3.4 1.2l-2.9 0.9l-6.2 1.5l-6.3 1l-6.2 0.5l-6.3 0l-6.3-0.5l-6.2-1l-6.3-1.5l-2.7-0.9l-3.6-1.2l-6.2-2.8l-1.4-0.7l-4.9-2.8l-2.8-1.8l-3.4-2.7l-2.5-2l-3.8-3.9l-0.7-0.8l-3.5-4.6l-2.1-3.9l-0.4-0.8l-1.7-4.7l-0.9-4.6l-0.2-4.7l0.5-4.7l1.1-4.6l1.6-4.6l0.1-0.1l2.1-4.7l2.7-4.6l1.4-2.2l1.7-2.5l3.5-4.7l1.1-1.2l2.9-3.4l3.3-3.7l1-1l4.5-4.7l0.8-0.8l3.8-3.8l2.4-2.5l2.2-2.2l4.1-4.3l0.3-0.4l4.1-4.6l1.9-2.4l1.7-2.3l3.2-4.7l1.3-2.3l1.3-2.3l2.2-4.7l1.7-4.7l1.1-3.9l0.2-0.7l0.9-4.7l0.5-4.7l0.2-4.6l0-4.7l-0.3-4.7l-0.5-4.6l-0.5-4.7l-0.5-3.5l-0.2-1.2l-0.7-4.6l-0.6-4.7l-0.6-4.7l-0.5-4.6l-0.4-4.7l-0.2-4.7l0.1-4.6l0.3-4.7l0.7-4.7l1.4-4.6l0.7-1.8l1.2-2.9l3-4.7l2.1-2.2l2.4-2.4l3.8-3l2.5-1.7l3.8-2.2l5.2-2.5l1-0.4l6.3-2.2l6.3-1.6l2.7-0.4l3.5-0.6l6.3-0.4l6.3 0.1l6.2 0.8l0.5 0.1l5.8 1.1l6.2 1.8M683.6 150.6l-3 3.2l-3.2 3.3l-1.7 1.4l-4.6 3.9l-1.1 0.8l-5.1 3.6l-1.8 1l-4.5 2.7l-4.4 2l-1.9 0.9l-6.2 2.4l-5 1.4l-1.3 0.4l-6.3 1.5l-6.2 1.1l-6.3 0.9l-4.8 0.7l-1.4 0.3l-6.3 1.4l-6.3 2.1l-1.8 0.9l-4.4 3.1l-1.6 1.6l-3.2 4.6l-1.5 2.9l-0.7 1.8l-1.6 4.7l-1.3 4.6l-1.3 4.7l-1.4 4.4l0 0.3l-1.5 4.6l-1.8 4.7l-2.8 4.7l-0.1 0.2l-3.2 4.4l-3.1 3l-1.8 1.7l-4.4 3.2l-2.2 1.5l-4.1 2.3l-4.6 2.3l-1.7 0.7l-6.2 2.6l-3.9 1.4l-2.4 0.8l-6.3 1.8l-6.2 1.6l-2.3 0.5l-4 0.8l-6.2 1l-6.3 0.7l-6.3 0.5l-6.2 0.3l-6.3 0l-6.3-0.2l-6.2-0.4l-6.3-0.6l-6.2-0.8l-6.3-1l-1.8-0.3l-4.5-0.9l-6.2-1.3l-6.3-1.5l-3.9-1l-2.4-0.7l-6.2-1.8l-6.3-2l-0.6-0.2l-5.6-2.1l-5.1-2.5l-1.2-0.8l-4.7-3.9l-1.6-1.6l-2.4-3.1l-3.7-4.6l-0.1-0.2l-3.9-4.5l-2.4-2.5l-1.9-2.2l-4.4-4.4l-0.2-0.2l-4.9-4.7l-1.1-1l-3.9-3.7l-2.4-2.1l-2.5-2.5l-3.7-3.5l-1.2-1.2l-4.6-4.7l-0.5-0.5l-3.8-4.1l-2.5-2.7l-1.6-2l-3.8-4.7l-0.8-1l-2.7-3.6l-3.3-4.7l-0.3-0.4l-2.8-4.3l-2.9-4.6l-0.6-1l-2.2-3.7l-2.6-4.7l-1.4-2.5l-1.3-2.1l-2.7-4.7l-2.3-3.9l-0.5-0.8l-3.2-4.6l-2.5-3.4l-1.2-1.3l-4.9-4.7l-0.2-0.1l-6.3-4.2l-0.5-0.3l-5.7-2.7l-5.9-2l-0.4-0.1l-6.3-1.7l-6.2-1.5l-6.3-1.4l-6.2-1.3l-6.3-1.4l-6.3-1.5l-1.7-0.4l-4.5-1.2l-6.3-1.9l-4.8-1.6l-1.5-0.5l-6.2-2.4l-4.1-1.8l-2.2-1l-6.2-3.3l-0.6-0.3l-5.7-3.9l-1.2-0.8l-5-4.7l-0.1 0l-3.6-4.6l-2.3-4.7l-0.3-1l-1.2-3.7l-0.6-4.6l0.1-4.7l0.7-4.7l1-3.7l0.2-0.9l1.7-4.7l2.1-4.7l2.2-3.8l0.5-0.8l3.2-4.7M63.6 80.1l6.3-0.8l3.9-0.1l2.4-0.1l4.7 0.1l1.5 0l6.3 0.6l6.3 1l6.2 1.4l5.5 1.6l0.8 0.3l6.3 2.5l3.9 1.9l2.3 1.4l5 3.3l1.3 1l3.8 3.6l2.4 3.2l1.1 1.5l2.4 4.7l1.5 4.6l0.7 4.7l0.3 4.7l-0.1 4.6l-0.4 4.7l-0.6 4.7l-0.9 4.6l-0.9 4.7l-1.1 4.7l-1.1 4.6l-0.9 3.8l-0.2 0.9l-0.9 4.7l-0.9 4.6l-0.6 4.7l-0.3 4.7l-0.1 4.6l0.3 4.7l0.7 4.7l0.9 4.6l1.1 4.4l0.1 0.3l1.4 4.7l1.4 4.6l1.5 4.7l1.4 4.7l0.5 1.7l0.8 2.9l1.2 4.7l1 4.7l0.7 4.6l0.5 4.7l0.3 4.7l-0.1 4.6l-0.4 4.7l-0.7 4.7l-1.1 4.6l-1.5 4.7l-0.7 1.7l-1.3 3l-2.5 4.6l-2.5 3.8l-0.7 0.9l-4.1 4.7l-1.4 1.3l-4.3 3.3l-2 1.4l-6.2 3l-0.8 0.3l-5.5 1.7l-6.3 1.1l-6.2 0.3l-6.3-0.2l-6.3-0.7l-6.2-1.3l-3.3-0.9l-3-0.8l-6.3-2.3M321.8 32.5l3.8 4.7l1.1 1.4l2.4 3.2l3.2 4.7l0.6 1l2.6 3.7l3.1 4.6l0.6 0.9l2.8 3.8l3.5 4.4l0.2 0.3l4.6 4.6l1.4 1.3l4.7 3.4l1.6 1l6.3 3.2l1.2 0.5l5 1.9l6.3 1.9l2.8 0.8l3.4 1l6.3 1.6l6.3 1.7l1.4 0.4l4.8 1.3l6.3 2l4.1 1.4l2.2 0.7l6.2 2.4l3.8 1.5l2.5 1.1l6.2 3l1.3 0.6l5 2.6l3.6 2.1l2.7 1.5l5.1 3.1l1.1 0.7l6.2 4l0.1 0l6.3 4.1l0.9 0.6l5.3 3.4l2.3 1.2l4 2.4l4.4 2.3l1.8 0.9l6.3 2.8l2.4 1l3.9 1.4l6.2 2l4.9 1.2l1.4 0.4l6.3 1.3l6.2 1l6.3 0.7l6.2 0.4l6.3-0.2l6.3-1l6.2-2.4l0.3-0.2l5.8-4.6l0.2-0.2l3.3-4.5l2.8-4.7l0.2-0.2l2.1-4.4l2.2-4.7l1.9-3.8l0.4-0.9l2.2-4.6l2.3-4.7l1.4-2.5l1.1-2.2l2.6-4.6l2.5-4.4l0.2-0.3l2.9-4.7l3-4.6l0.2-0.4l2.8-4.3l3-4.7l0.5-0.7l2.5-3.9l2.9-4.7l0.8-1.4l2-3.3l2.6-4.6l1.7-3.3l0.7-1.4l2.4-4.7l2.2-4.6l1-2.1l1.2-2.6"/>
<path stroke="#365d8d" d="M334.5 494.5l-1.6-1.2l-4.1-3.5l-2.1-2l-2.7-2.6l-3.6-4l-0.6-0.7l-3.7-4.7l-1.9-2.7l-1.5-1.9l-3-4.7l-1.8-3.3l-0.9-1.4l-2.6-4.6l-2.3-4.7l-0.5-1.1l-2-3.6l-2.4-4.6l-1.8-3.7l-0.9-1l-4.3-4.7l-1.1-1l-6.3-1.3l-6.2 1.6l-1.3 0.7l-5 2l-5.1 2.7l-1.1 0.5l-6.3 3.1l-2 1.1l-4.3 1.9l-6 2.7l-0.2 0.1l-6.3 2.5l-5.6 2.1l-0.7 0.2l-6.2 1.9l-6.3 1.7l-4.3 0.9l-1.9 0.4l-6.3 0.9l-6.3 0.6l-6.2 0.2l-6.3-0.2l-6.3-0.6l-6.2-1l-1.3-0.3l-5-1.3l-6.2-2.1l-3.2-1.3l-3.1-1.4l-5.9-3.3l-0.4-0.2l-6.2-4.4l0-0.1l-5.1-4.6l-1.2-1.3l-2.9-3.4l-3.3-4.6l-0.1-0.1l-2.5-4.6l-2.1-4.7l-1.6-4.6l0-0.3l-1.1-4.4l-0.7-4.7l-0.3-4.6l0.1-4.7l0.5-4.7l0.8-4.6l0.7-2.8l0.5-1.9l1.6-4.7l2-4.6l2.1-4.1l0.4-0.6l3.2-4.7l2.7-3.4l1.2-1.2l5.1-4.7l6.2-4.1l1.2-0.6l5.1-2.3l6.3-2l1.5-0.3l4.7-1.1l6.3-0.9l6.2-0.6l6.3-0.4l6.3-0.2l6.2-0.2l6.3-0.1l6.3-0.2l6.2-0.4l4.7-0.6l1.6-0.2l6.2-1.5l6.3-2.6l0.6-0.4l5.7-4.3l0.3-0.3l3.8-4.7l2.1-3l1-1.7l2.6-4.6l2.7-4.7l0-0.1l2.5-4.6l2.7-4.6l1.1-1.7l1.8-3l3.1-4.7l1.3-1.7l2.2-2.9l4-4.7l0.1-0.1l4.3-4.6l1.9-1.8l3.2-2.8l3.1-2.6l2.7-2.1l3.6-2.6l3.1-2.1l3.1-2l4.7-2.6l1.6-1l6.3-3.1l1.4-0.6l4.8-2.2l6.3-2.3l0.4-0.2l5.8-2l6.3-1.8l3.4-0.8l2.9-0.9l6.2-1.4l6.3-1.2l6.3-1.1l0.4-0.1l5.8-1.3l6.3-2l2.7-1.4l2.3-4.6l-1.1-4.7l-2.5-4.7l-1.4-1.8l-1.8-2.8l-3.9-4.7l-0.6-0.6l-3.4-4.1l-2.8-2.9l-1.5-1.7l-4.2-4.7l-0.6-0.6l-3.5-4.1l-2.8-3.1l-1.2-1.5l-3.8-4.7l-1.2-1.6l-2.3-3.1l-3.4-4.6l-0.6-0.9l-2.6-3.8l-3-4.7l-0.7-1l-2.2-3.6l-2.7-4.7l-1.3-2.2l-1.5-2.5l-2.7-4.6l-2.1-3.5l-0.8-1.2l-3.1-4.7l-2.3-3.2l-1.2-1.4l-4.4-4.7l-0.7-0.7l-5-4l-1.3-0.8l-6.2-3.4l-1.1-0.4l-5.2-2.1l-6.3-1.9l-2.4-0.7l-3.8-1l-6.3-1.4l-6.2-1.5l-3.4-0.8l-2.9-0.6l-6.3-1.5l-6.2-1.7l-3.1-0.8l-3.2-1l-6.3-2l-4.8-1.7l-1.4-0.6l-6.3-2.5l-3.3-1.6l-2.9-1.5l-5.7-3.1l-0.6-0.5l-5.9-4.2l-0.4-0.3l-4.4-4.4l-1.8-2.5l-1.5-2.1l-2.1-4.7l-1.1-4.7l-0.3-4.6l0.3-4.7l0.8-4.7l1.4-4.6l1.8-4.7l0.7-1.4l1.5-3.3l2.7-4.6l2-3l1.2-1.7M683.6 449.7l-2.7 2.8l-3.5 3.5l-1.3 1.2l-5 4.6l-0.1 0l-5.6 4.7l-0.5 0.4l-5.9 4.3l-0.4 0.2l-6.3 3.9l-1 0.5l-5.2 2.7l-4.9 2l-1.4 0.6l-6.3 2l-6.2 1.4l-3.9 0.7l-2.4 0.3l-6.2 0.5l-6.3 0l-6.3-0.4l-2.6-0.4l-3.6-0.6l-6.3-1.5l-6.3-1.9l-1.7-0.7l-4.5-1.9l-5.5-2.8l-0.8-0.4l-6.2-4.1l-0.3-0.1l-5.6-4.7l-0.4-0.5l-4-4.2l-2.3-3.2l-1-1.4l-2.5-4.7l-1.6-4.7l-0.8-4.6l-0.1-4.7l0.4-4.7l1.1-4.6l1.7-4.7l2.2-4.7l0.6-1l2.1-3.6l3.1-4.7l1.1-1.5l2.4-3.2l3.9-4.6l4.2-4.7l2-2.1l2.5-2.6l3.8-3.9l0.7-0.7l4.6-4.7l0.9-1l3.5-3.7l2.8-3.1l1.3-1.5l3.7-4.7l1.3-1.9l1.9-2.8l2.7-4.6l1.6-3.5l0.6-1.2l1.8-4.7l1.3-4.6l0.9-4.7l0.6-4.7l0.2-4.6l0-4.7l-0.3-4.7l-0.5-4.6l-0.6-4.7l-0.7-4.7l-0.7-4.6l-0.8-4.7l-0.7-4.7l-0.6-4.6l-0.5-3.7l-0.1-1l-0.5-4.7l-0.4-4.6l-0.1-4.7l0.1-4.7l0.4-4.6l0.6-2.9l0.4-1.8l1.7-4.7l3.1-4.6l1.1-1.1l3.9-3.6l2.4-1.6l5.3-3.1l0.9-0.4l6.3-2.9l3.7-1.3l2.5-0.9l6.3-1.8l6.3-1.1l6.2-0.7l6.3-0.1l6.3 0.4l6.2 0.9l6.3 1.5l5.6 1.8l0.6 0.2M683.6 153.9l-4.4 4.6l-1.8 1.8l-3.4 2.9l-2.9 2.5l-3 2.1l-3.2 2.4l-3.9 2.3l-2.4 1.5l-6.3 3.1l-0.2 0.1l-6 2.5l-6.3 2l-0.7 0.1l-5.6 1.6l-6.2 1.4l-6.3 1.4l-1.5 0.3l-4.7 1.3l-6.3 2.3l-2 1.1l-4.3 2.9l-1.8 1.7l-3.5 4.7l-0.9 1.6l-1.4 3.1l-1.6 4.6l-1.3 4.7l-1.3 4.7l-0.7 2.5l-0.5 2.1l-1.3 4.7l-1.9 4.7l-2.6 3.7l-0.5 0.9l-4.4 4.7l-1.3 0.9l-5.5 3.8l-0.8 0.4l-6.2 3.2l-2 1l-4.3 1.8l-6.3 2.5l-1.1 0.4l-5.1 1.7l-6.3 1.9l-4.1 1.1l-2.2 0.5l-6.2 1.4l-6.3 1.1l-6.2 0.9l-6.2 0.7l-0.1 0l-6.3 0.5l-6.2 0.3l-6.3 0.1l-6.3-0.1l-6.2-0.4l-5.4-0.4l-0.9 0l-6.2-0.7l-6.3-0.7l-6.3-0.8l-6.2-0.9l-6.3-0.9l-6-0.6l-0.3-0.1l-6.2-0.2l-3.1 0.3l-3.2 0.5l-5.2 4.1l-1 2.2l-0.7 2.5l-0.6 4.7l-0.4 4.6l-0.2 4.7l-0.3 4.7l-0.3 4.6l-0.4 4.7l-0.5 4.7l-0.7 4.6l-0.8 4.7l-0.9 4.7l-0.5 2.3l-0.5 2.3l-1.2 4.7l-1.3 4.7l-1.5 4.6l-1.5 4.7l-0.3 0.8l-1.3 3.9l-1.6 4.6l-1.6 4.7l-1.4 4.7l-0.3 1.2l-1 3.4l-0.8 4.7l-0.3 4.7l0.7 4.6l1.4 3.9l0.3 0.8l2.8 4.7l3.1 3.5l1 1.1l5 4.7l0.3 0.2l5.3 4.5l1 0.7l4.9 3.9l1.3 1.1l4.4 3.6l1.9 1.5l3.7 3.2l2.5 2.3l2.6 2.3l3.7 3.8l0.9 0.9l4.1 4.7l1.3 1.6l2.3 3l3 4.7l0.9 2l1.4 2.7l1.7 4.6l1.1 4.7l0.4 4.7l-0.3 4.6l-0.9 4.7l-1.6 4.7l-1.8 3.7l-0.4 0.9l-2.9 4.7l-2.9 3.9l-0.6 0.8l-4.4 4.6l-1.3 1.2l-4 3.5M63.6 78.4l6.3-0.7l6.3-0.3l6.2 0.1l6.3 0.5l6.3 0.8l1.6 0.4l4.6 0.9l6.3 1.8l5.7 1.9l0.6 0.2l6.2 2.9l3.1 1.6l3.2 2l3.6 2.7l2.6 2.5l2.1 2.1l3.2 4.7l1 2.4l1 2.3l1.2 4.6l0.5 4.7l0.1 4.7l-0.2 4.6l-0.6 4.7l-0.8 4.7l-0.9 4.6l-0.3 1.4l-0.7 3.3l-1.1 4.7l-1.1 4.6l-1 4.7l-1 4.7l-0.8 4.6l-0.6 4.3l0 0.4l-0.4 4.7l0 4.6l0.3 4.7l0.1 0.8l0.5 3.9l0.9 4.6l1.2 4.7l1.3 4.7l1.4 4.6l1 3.4l0.4 1.3l1.4 4.7l1.3 4.6l1.1 4.7l1 4.7l0.7 4.6l0.4 2.9l0.2 1.8l0.2 4.7l0 4.6l-0.3 4.7l-0.1 1.1l-0.5 3.6l-1 4.6l-1.3 4.7l-1.8 4.7l-1.7 3.6l-0.5 1l-2.9 4.7l-2.9 3.9l-0.6 0.8l-4.7 4.6l-0.9 0.8l-5.9 3.9l-0.4 0.2l-6.2 2.8l-6.3 1.6l-0.7 0.1l-5.6 0.7l-6.2 0.2l-6.3-0.4l-3.5-0.5l-2.8-0.4l-6.2-1.3l-6.3-1.8l-3.2-1.2l-3.1-1.1M324.2 32.5l2.5 3l1.3 1.7l3.6 4.6l1.3 2l2 2.7l3.3 4.7l1 1.4l2.4 3.2l3.6 4.7l0.3 0.3l4 4.4l2.2 2.2l3 2.4l3.3 2.4l3.8 2.3l2.5 1.3l6.2 2.7l1.9 0.7l4.4 1.5l6.2 1.9l4.4 1.2l1.9 0.6l6.3 1.7l6.2 1.8l1.8 0.6l4.5 1.4l6.3 2.1l3 1.2l3.2 1.2l6.3 2.6l1.8 0.8l4.4 2.1l5.2 2.6l1.1 0.6l6.3 3.5l1 0.6l5.2 3.1l2.6 1.5l3.7 2.4l3.7 2.3l2.6 1.6l4.9 3.1l1.3 0.8l6.3 3.6l0.5 0.2l5.7 3l3.8 1.7l2.5 1.1l6.3 2.4l3.8 1.2l2.4 0.7l6.3 1.6l6.3 1.2l6.2 0.9l3.4 0.2l2.9 0.3l6.2 0l2.4-0.3l3.9-0.4l6.3-1.7l4.9-2.5l1.3-0.8l4.2-3.9l2.1-2.2l1.7-2.5l2.9-4.6l1.7-2.7l1-2l2.4-4.7l2.5-4.6l0.3-0.5l2.2-4.2l2.6-4.7l1.5-2.5l1.2-2.1l2.8-4.7l2.2-3.7l0.7-1l3-4.6l2.6-4.1l0.4-0.6l3.1-4.7l2.8-4.3l0.2-0.3l2.9-4.7l2.8-4.7l0.3-0.6l2.3-4l2.5-4.7l1.5-2.9l0.9-1.8l2.3-4.6l2.2-4.7"/>
<path stroke="#34608d" d="M331.5 494.5l-4.8-4.1l-0.7-0.6l-4.8-4.6l-0.8-0.9l-3.5-3.8l-2.7-3.5l-1.1-1.2l-3.5-4.6l-1.7-2.7l-1.5-2l-3.1-4.7l-1.7-2.7l-1.4-1.9l-3.1-4.7l-1.7-2.7l-1.9-2l-4.4-4.5l-0.3-0.1l-6-3l-6.2-0.2l-6.3 1.3l-5.4 1.9l-0.8 0.2l-6.3 2.4l-5 2l-1.3 0.5l-6.2 2.3l-5.1 1.9l-1.2 0.4l-6.3 2l-6.2 1.8l-2 0.5l-4.3 0.9l-6.2 1.2l-6.3 0.9l-6.3 0.5l-6.2 0.2l-6.3-0.2l-6.3-0.6l-6.2-1l-6.3-1.5l-1.2-0.4l-5-1.7l-6.3-2.6l-0.8-0.4l-5.5-3l-2.5-1.7l-3.7-2.6l-2.5-2l-3.8-3.5l-1.1-1.2l-4-4.7l-1.2-1.6l-2-3l-2.5-4.7l-1.7-3.9l-0.4-0.8l-1.5-4.6l-1.1-4.7l-0.7-4.7l-0.3-4.6l0-4.7l0.4-4.7l0.7-4.6l1.1-4.7l1.4-4.7l0.4-1.1l1.4-3.5l2.3-4.7l2.5-4.5l0.1-0.2l3.5-4.6l2.7-3.3l1.5-1.4l4.8-4.1l0.9-0.6l5.3-3.2l3.5-1.4l2.8-1.2l6.3-1.7l6.2-1.2l4.8-0.6l1.5-0.2l6.2-0.5l6.3-0.4l6.3-0.2l6.2-0.2l6.3-0.3l6.3-0.4l6.2-0.6l6.3-1.2l2.3-0.7l3.9-1.3l6.2-3.3l0.1-0.1l5.2-4.6l1.1-1.1l2.8-3.6l3.2-4.6l0.2-0.3l2.7-4.4l2.8-4.7l0.8-1.2l2-3.4l3-4.7l1.3-1.7l2-3l3.5-4.6l0.7-0.9l3.2-3.8l3.1-3.3l1.3-1.4l4.9-4.6l0-0.1l5.6-4.6l0.7-0.6l5.6-4.1l0.7-0.4l6.2-4l0.4-0.2l5.9-3.4l2.6-1.3l3.7-1.9l6.2-2.8l6.3-2.6l5.7-2l0.5-0.3l6.3-2.2l6.3-2l0.9-0.2l5.3-1.9l6.3-2.1l1.8-0.7l4.5-2.5l3.1-2.1l2.3-4.7l-0.4-4.7l-1.8-4.6l-2.8-4.7l-0.4-0.5l-2.8-4.2l-3.5-4.5l-0.1-0.1l-3.7-4.7l-2.5-3.1l-1.2-1.6l-3.6-4.6l-1.4-1.9l-2.1-2.8l-3.3-4.7l-0.9-1.2l-2.4-3.4l-3-4.7l-0.9-1.3l-2.1-3.4l-2.9-4.6l-1.2-2.2l-1.6-2.5l-2.8-4.7l-1.9-3.1l-0.9-1.5l-3.1-4.7l-2.2-3.2l-1.2-1.5l-3.9-4.6l-1.2-1.3l-3.8-3.4l-2.5-1.9l-4.3-2.8l-1.9-1l-6.3-2.9l-2-0.7l-4.3-1.5l-6.2-1.8l-5.3-1.4l-1-0.2l-6.2-1.5l-6.3-1.5l-5.8-1.5l-0.5-0.1l-6.2-1.6l-6.3-1.8l-3.9-1.1l-2.4-0.8l-6.2-2.1l-4.8-1.8l-1.5-0.6l-6.2-2.8l-2.9-1.3l-3.4-1.8l-4.8-2.8l-1.5-1.1l-4.8-3.6l-1.4-1.5l-3.1-3.2l-2.8-4.6l-0.4-1.1l-1.4-3.6l-0.7-4.7l0-4.6l0.6-4.7l1.1-4.7l0.4-1.2l1-3.4l1.9-4.7l2.4-4.7l1-1.6l1.7-3l3.2-4.7M683.6 452.2l-0.2 0.3l-4.8 4.7l-1.2 1.1l-3.9 3.5l-2.4 2.1l-3.1 2.6l-3.1 2.5l-3.1 2.2l-3.2 2.2l-4.1 2.4l-2.2 1.3l-6.2 3.1l-0.7 0.3l-5.6 2.2l-6.3 2l-1.9 0.5l-4.3 0.9l-6.3 1l-6.2 0.5l-6.3 0l-6.3-0.4l-6.2-0.9l-5.2-1.1l-1.1-0.3l-6.3-1.9l-6.2-2.4l-0.3-0.1l-6-2.9l-3.1-1.8l-3.1-2l-3.8-2.6l-2.5-2.1l-3-2.6l-3.3-3.6l-0.9-1.1l-3.3-4.6l-2-4l-0.4-0.7l-1.6-4.7l-0.8-4.6l-0.1-4.7l0.5-4.7l1.2-4.6l1.2-3.1l0.5-1.6l2.2-4.7l2.7-4.6l0.8-1.2l2.3-3.5l3.5-4.7l0.5-0.5l3.4-4.1l2.9-3.3l1.3-1.4l4.4-4.7l0.5-0.6l4-4l2.3-2.4l2.2-2.3l4-4.3l0.4-0.4l4.1-4.6l1.8-2.3l1.9-2.4l3.3-4.7l1.1-1.8l1.6-2.8l2.3-4.7l1.8-4.7l0.5-1.7l0.9-2.9l0.9-4.7l0.6-4.7l0.3-4.6l-0.1-4.7l-0.2-4.7l-0.5-4.6l-0.6-4.7l-0.8-4.7l-0.5-2.8l-0.3-1.8l-0.9-4.7l-0.9-4.7l-0.8-4.6l-0.9-4.7l-0.8-4.7l-0.8-4.6l-0.8-4.7l0-0.1l-0.9-4.6l-1.1-4.6l-1.5-4.7l-2.7-4.7l-0.1-0.1l-6.3-1.1l-5.6 1.2l-0.6 0.1l-6.3 1.8l-6.2 2l-2.4 0.8l-3.9 1.1l-6.3 1.9l-6 1.7l-0.2 0l-6.3 1.6l-6.3 1.4l-6.2 1.2l-2.3 0.4l-4 0.7l-6.2 0.8l-6.3 0.7l-6.3 0.5l-6.2 0.2l-6.3 0.2l-6.3-0.1l-6.2-0.2l-6.3-0.3l-6.2-0.5l-6.3-0.5l-6.3-0.5l-6.2-0.4l-6.3-0.1l-6.3 0.4l-6.2 1.7l-3.1 2.1l-3.2 3.6l-0.6 1.1l-1.7 4.6l-1.1 4.7l-0.9 4.7l-0.8 4.6l-0.7 4.7l-0.4 2.5l-0.4 2.2l-0.8 4.6l-0.9 4.7l-1 4.7l-1.1 4.6l-1.2 4.7l-0.9 3.3l-0.4 1.4l-1.4 4.6l-1.5 4.7l-1.5 4.7l-1.4 4.6l-0.1 0.1l-1.4 4.6l-1.2 4.7l-1 4.6l-0.6 4.7l0.1 4.7l0.8 4.6l1.9 4.7l1.4 2.2l1.5 2.5l4.1 4.6l0.7 0.7l4.1 4l2.2 1.8l3.2 2.9l3 2.4l2.6 2.2l3.7 3.1l1.9 1.6l4.3 3.8l1 0.9l5 4.6l0.3 0.4l4.2 4.3l2.1 2.4l2 2.3l3.5 4.6l0.7 1.3l2.2 3.4l2.3 4.7l1.7 4.6l0.1 0.7l0.9 4l0.3 4.7l-0.3 4.6l-0.9 4.2l-0.1 0.5l-1.6 4.7l-2.2 4.6l-2.4 3.8l-0.5 0.9l-3.6 4.7l-2.1 2.3l-2.2 2.3l-4.1 3.8l-1 0.9M683.6 157.3l-1.2 1.2l-4.5 4.7l-0.5 0.5l-4.8 4.1l-1.5 1.4l-4.5 3.3l-1.7 1.4l-5.3 3.3l-1 0.7l-6.3 3.4l-1.3 0.5l-4.9 2.4l-6.3 2.3l-6.3 2.2l-6.2 1.8l-2.2 0.7l-4.1 1.5l-6.2 2.6l-1.1 0.5l-5.2 3.9l-0.9 0.8l-3.4 4.7l-2 3.9l-0.3 0.7l-1.1 4.7l-0.6 4.7l0 4.6l0.9 4.7l1.1 2.1l6.3 1.7l6.3-1.2l6.2-1.7l3.5-0.9l2.8-0.7l6.2-1.5l6.3-1.1l6.3-0.7l6.2-0.2l6.3 0.3l6.3 0.8l6.2 1.2l6.3 1.8l0.3 0.1l5.9 2M63.6 76.8l6.3-0.7l6.3-0.4l6.2 0.1l6.3 0.4l6.3 0.8l6.2 1.1l4.5 1.1l1.8 0.4l6.3 2l5.8 2.2l0.4 0.2l6.3 3.1l2.5 1.4l3.7 2.6l2.7 2.1l3.6 4l0.6 0.6l2.8 4.7l1.6 4.7l0.8 4.6l0.3 4.7l-0.2 4.7l-0.4 4.6l-0.7 4.7l-0.8 4.7l-1 4.6l-1.1 4.7l-1.2 4.7l-0.7 3l-0.4 1.6l-1 4.7l-1 4.7l-0.8 4.6l-0.6 4.7l-0.3 4.7l0 4.6l0.3 4.7l0.5 4.7l0.9 4.6l1.1 4.7l1.3 4.7l1.3 4.6l1.4 4.7l1.4 4.7l1.2 4.6l1 3.9l0.2 0.8l0.9 4.7l0.8 4.6l0.5 4.7l0.3 4.7l0.1 4.6l-0.3 4.7l-0.5 4.7l-0.9 4.6l-1.1 4.6l-0.1 0.1l-1.5 4.7l-2 4.6l-2.5 4.7l-0.2 0.4l-2.9 4.3l-3.4 4.1l-0.5 0.5l-5.3 4.7l-0.4 0.3l-6.3 3.7l-1.7 0.7l-4.5 1.6l-6.3 1.3l-6.3 0.5l-6.2-0.1l-6.3-0.5l-6.3-1l-6.2-1.5l-1.3-0.3l-5-1.5l-6.3-2.3M326.6 32.5l0.1 0.1l3.8 4.6l2.4 3.2l1.2 1.4l3.4 4.7l1.7 2.3l1.8 2.4l3.6 4.6l0.9 1.1l3.1 3.6l3.1 3.3l1.6 1.4l4.7 3.8l1.2 0.8l5.1 3.1l3.1 1.6l3.1 1.4l6.3 2.4l2.4 0.9l3.8 1.2l6.3 1.9l5.1 1.5l1.2 0.4l6.2 1.9l6.3 1.9l1.3 0.5l5 1.7l6.2 2.3l1.5 0.7l4.8 1.9l6 2.7l0.2 0.2l6.3 3.1l2.7 1.4l3.6 2l4.7 2.7l1.5 0.9l6.3 3.7l6.3 3.9l1.4 0.8l4.8 3l3.1 1.7l3.2 1.8l5.6 2.8l0.6 0.4l6.3 2.8l4.1 1.5l2.2 0.8l6.2 1.9l6.3 1.6l2.3 0.4l4 0.7l6.2 0.7l6.3 0.3l6.2-0.3l6.3-1.1l0.9-0.3l5.4-2l4.2-2.7l2-1.5l3.1-3.2l3.2-3.7l0.6-0.9l3.1-4.7l2.6-4.1l0.3-0.6l2.6-4.6l2.7-4.7l0.6-1l2.1-3.7l2.8-4.6l1.4-2.2l1.5-2.5l2.9-4.7l1.8-2.8l1.3-1.8l3-4.7l2-3l1.1-1.7l3-4.6l2.2-3.4l0.8-1.3l2.8-4.7l2.6-4.5l0.1-0.1l2.5-4.7l2.4-4.7l1.3-2.5l1-2.1l2.3-4.7"/>
<path stroke="#32648e" d="M328.6 494.5l-1.9-1.6l-3.5-3.1l-2.8-2.6l-2-2l-4.2-4.6l-0.1-0.1l-4-4.7l-2.2-2.8l-1.5-1.8l-3.6-4.7l-1.2-1.7l-2.4-3l-3.6-4.6l-0.2-0.3l-4.4-4.4l-1.9-1.9l-4.7-2.8l-1.6-0.8l-6.2-1.3l-6.3 0.4l-6.2 1.3l-1.3 0.4l-5 1.4l-6.3 2l-3.6 1.3l-2.6 0.8l-6.3 1.9l-6.3 1.9l-0.3 0.1l-5.9 1.4l-6.3 1.4l-6.2 1.1l-5.8 0.7l-0.5 0.1l-6.3 0.5l-6.2 0.1l-6.3-0.2l-4.5-0.5l-1.8-0.1l-6.2-1.1l-6.3-1.4l-6.2-2l-0.1 0l-6.2-2.6l-4.2-2.1l-2.1-1.1l-5.4-3.6l-0.8-0.5l-5-4.1l-1.3-1.2l-3.4-3.5l-2.9-3.4l-0.9-1.3l-3.1-4.6l-2.2-4.1l-0.3-0.6l-2-4.7l-1.5-4.6l-1.1-4.7l-0.8-4.7l-0.3-4.6l-0.1-4.7l0.4-4.7l0.6-4.6l1-4.7l1.2-4.7l1.6-4.6l1.3-3.1l0.7-1.6l2.4-4.7l2.8-4.6l0.3-0.5l3.3-4.2l3-3.4l1.5-1.3l4.8-3.8l1.4-0.8l4.8-2.7l5.8-2l0.5-0.2l6.3-1.5l6.2-1l6.3-0.6l6.2-0.4l6.3-0.2l6.3-0.3l6.2-0.2l4.6-0.3l1.7-0.1l6.3-0.6l6.2-0.9l6.3-1.6l3.8-1.4l2.4-1.1l5.6-3.6l0.7-0.5l4.2-4.2l2.1-2.2l1.8-2.4l3.3-4.7l1.1-1.5l2-3.2l3.1-4.6l1.2-1.8l1.9-2.9l3.3-4.7l1.1-1.3l2.5-3.3l3.7-4.5l0.2-0.2l4.3-4.7l1.8-1.7l3-2.9l3.2-2.9l2.2-1.8l4.1-3.2l2-1.5l4.3-3l2.6-1.6l3.6-2.3l4.2-2.4l2.1-1.2l6.3-3.2l0.6-0.3l5.6-2.7l4.6-1.9l1.7-0.8l6.2-2.6l3.4-1.3l2.9-1.3l6.3-2.6l1.8-0.8l4.4-2.4l3.8-2.2l2.5-2.6l1.8-2.1l1.3-4.7l-0.6-4.6l-1.9-4.7l-0.6-1.1l-1.8-3.6l-3-4.6l-1.5-2.1l-1.7-2.6l-3.3-4.7l-1.2-1.7l-2.1-2.9l-3.2-4.7l-1-1.3l-2.2-3.4l-3.1-4.6l-1-1.5l-2-3.2l-2.9-4.7l-1.3-2.1l-1.6-2.5l-2.8-4.7l-1.9-3.1l-1-1.6l-3-4.6l-2.2-3.3l-1.1-1.4l-3.7-4.7l-1.5-1.7l-2.9-2.9l-3.4-3l-2.3-1.7l-3.9-2.6l-4-2.1l-2.3-1l-6.3-2.5l-3.3-1.1l-2.9-0.9l-6.3-1.8l-6.2-1.6l-1.7-0.4l-4.6-1.1l-6.3-1.6l-6.2-1.6l-1.3-0.4l-5-1.3l-6.3-1.9l-4.5-1.4l-1.7-0.6l-6.3-2.2l-4.8-1.9l-1.4-0.6l-6.3-2.8l-2.7-1.3l-3.6-1.9l-4.6-2.7l-1.6-1.3l-4.4-3.4l-1.9-2.1l-2.2-2.6l-2.4-4.6l-1.1-4.7l-0.3-4.7l0.4-4.6l0.8-4.7l1.3-4.7l1.7-4.6l1.8-4l0.3-0.7l2.4-4.7l2.8-4.6l0.8-1.1l2.4-3.6M683.6 454.6l-2.6 2.6l-3.6 3.4l-1.4 1.2l-4.9 4.3l-0.4 0.4l-5.8 4.5l-0.2 0.2l-6.1 4.1l-0.9 0.5l-5.4 3.1l-3.2 1.6l-3 1.4l-6.3 2.5l-2.5 0.8l-3.8 1.1l-6.2 1.4l-6.3 1l-6.2 0.5l-6.3 0l-6.3-0.4l-6.2-0.9l-6.3-1.3l-5.3-1.4l-1-0.3l-6.2-2.3l-4.7-2.1l-1.6-0.8l-6.2-3.4l-0.8-0.5l-5.5-3.8l-1.1-0.8l-5.2-4.6l-0.1-0.1l-4.2-4.7l-1.9-2.7l-1.4-1.9l-2.4-4.7l-1.5-4.7l-0.7-4.6l0-4.7l0.6-4.7l1.2-4.6l1.7-4.7l2.3-4.7l0.2-0.2l2.5-4.4l3.1-4.7l0.6-0.8l2.9-3.9l3.4-4.1l0.5-0.5l4.1-4.7l1.7-1.8l2.6-2.9l3.6-3.7l0.9-0.9l4.5-4.7l0.9-0.9l3.5-3.8l2.7-3.1l1.4-1.5l3.7-4.7l1.2-1.6l2.1-3.1l2.8-4.6l1.4-2.6l1-2.1l1.8-4.7l1.4-4.6l1-4.7l0.7-4.7l0.2-4.6l0-4.7l-0.3-4.7l-0.5-4.6l-0.7-4.7l-0.8-4.7l-0.9-4.6l-1-4.7l-1-4.7l-0.9-3.9l-0.2-0.7l-1.3-4.7l-1.3-4.7l-1.5-4.6l-1.7-4.7l-0.3-0.7l-2.5-4l-3.8-4l-1.4-0.6l-4.8-1.6l-6.3-0.1l-6.2 0.9l-4 0.8l-2.3 0.4l-6.3 1.3l-6.2 1.3l-6.3 1.4l-1.4 0.2l-4.9 1l-6.2 1l-6.3 1l-6.2 0.7l-6.3 0.6l-4.9 0.4l-1.4 0.1l-6.2 0.3l-6.3 0.1l-6.3 0.1l-6.2-0.2l-6.3-0.1l-6.2-0.3l-0.5 0l-5.8-0.2l-6.3-0.1l-6.2 0.1l-2.3 0.2l-4 0.4l-6.3 1.7l-4.3 2.6l-1.9 1.6l-2.3 3l-2.4 4.7l-1.6 4.3l-0.1 0.4l-1.2 4.6l-1 4.7l-1.1 4.7l-1 4.6l-1 4.7l-0.8 3.4l-0.3 1.3l-1.2 4.6l-1.2 4.7l-1.3 4.7l-1.4 4.6l-0.9 3l-0.5 1.7l-1.4 4.7l-1.4 4.6l-1.3 4.7l-1 4.7l-0.7 3.8l-0.1 0.8l-0.4 4.7l0.3 4.7l0.2 0.8l0.9 3.8l2 4.7l3.1 4.7l0.3 0.4l3.6 4.2l2.7 2.6l2 2.1l4.2 3.7l1 1l5.3 4.5l0.1 0.1l5.4 4.7l0.7 0.6l4.5 4.1l1.8 1.7l3.1 2.9l3.2 3.4l1.2 1.3l4 4.7l1 1.3l2.6 3.3l2.8 4.7l0.9 1.8l1.5 2.9l1.6 4.6l1 4.7l0.3 4.7l-0.4 4.6l-1.1 4.7l-1.7 4.7l-1.2 2.4l-1.1 2.2l-2.9 4.7l-2.3 2.9l-1.3 1.8l-4.2 4.6l-0.7 0.7l-4.4 4M683.6 160.7l-2.3 2.5l-3.9 4l-0.7 0.6l-5.1 4.7l-0.5 0.4l-5.3 4.3l-0.9 0.8l-5.5 3.8l-0.8 0.6l-6.3 3.9l-0.3 0.2l-5.9 3.5l-2.8 1.2l-3.5 2l-6.1 2.6l-0.2 0.2l-6.2 3.4l-2.2 1.1l-4.1 3.4l-1.4 1.3l-2.4 4.6l0.7 4.7l3.1 2.3l6.3 1.3l6.2 0.1l6.3 0l6.3 0.3l6.2 0.6l0.3 0.1l6 0.8l6.3 1.3l6.2 1.7l2.3 0.8l4 1.2l6.2 2.5M63.6 75.2l5.6-0.7l0.7-0.1l6.3-0.3l6.2 0l6.3 0.3l0.8 0.1l5.5 0.6l6.2 1l6.3 1.4l6.2 1.7l0.1 0l6.2 2.1l6.3 2.5l6.2 3.3l2.6 1.4l3.7 2.9l2.2 1.8l3.7 4.6l0.4 0.7l2 4l1.1 4.7l0.4 4.6l0 4.7l-0.5 4.7l-0.7 4.6l-0.8 4.7l-1.1 4.7l-0.4 1.9l-0.7 2.7l-1.1 4.7l-1.2 4.7l-1.1 4.6l-1.1 4.7l-1 4.7l-0.1 0.7l-0.7 3.9l-0.5 4.7l-0.4 4.7l0 4.6l0.3 4.7l0.6 4.7l0.7 4.1l0.1 0.5l1.1 4.7l1.2 4.7l1.3 4.6l1.3 4.7l1.3 4.4l0 0.3l1.3 4.6l1.1 4.7l1 4.7l0.8 4.6l0.5 4.7l0.4 4.7l0 4.6l-0.1 4.7l-0.5 4.7l-0.7 4.6l-1 4.7l-1.4 4.7l-1.4 3.8l-0.4 0.8l-2.1 4.7l-2.7 4.7l-1.1 1.8l-2.1 2.8l-4.2 4.6l0 0.1l-6 4.7l-0.2 0.2l-6.3 3.1l-4.7 1.3l-1.5 0.5l-6.3 0.9l-6.3 0.2l-6.2-0.3l-6.3-0.8l-2.5-0.5l-3.8-0.6l-6.2-1.5l-6.3-2l-1.4-0.5l-4.9-1.8M329 32.5l3.9 4.7l3.7 4.6l2.6 3.5l1 1.2l3.6 4.7l1.7 2.1l2.2 2.5l4 4.4l0.3 0.3l5.2 4.7l0.8 0.6l5.9 4l0.4 0.2l6.2 3.3l2.7 1.2l3.6 1.5l6.2 2.2l2.9 1l3.4 1.1l6.3 1.9l5.1 1.6l1.1 0.4l6.3 2l6.3 2.2l0.3 0.1l5.9 2.2l6.1 2.5l0.2 0.1l6.2 2.8l3.8 1.7l2.5 1.3l6.3 3.3l0.2 0.1l6 3.4l2.3 1.3l4 2.4l3.9 2.2l2.4 1.5l5.4 3.2l0.8 0.5l6.3 3.4l1.4 0.8l4.8 2.4l5.1 2.2l1.2 0.6l6.3 2.3l6 1.8l0.2 0.1l6.3 1.4l6.3 1.1l6.2 0.5l6.3 0.1l6.2-0.7l6.3-1.5l2.4-1l3.9-1.8l3.8-2.9l2.4-1.9l2.5-2.7l3.8-4.7l3.2-4.7l3-4.6l0.1-0.1l2.7-4.6l2.9-4.7l0.6-0.9l2.3-3.7l3-4.7l1-1.5l2-3.2l3-4.6l1.2-1.8l1.9-2.9l3.1-4.7l1.3-1.9l1.8-2.7l3-4.7l1.5-2.4l1.3-2.3l2.8-4.6l2.1-4l0.4-0.7l2.5-4.7l2.3-4.6l1.1-2.2l1.2-2.5"/>
<path stroke="#31688e" d="M325.7 494.5l-5.3-4.6l-0.1-0.1l-4.8-4.6l-1.3-1.5l-3.1-3.2l-3.2-3.7l-1-1l-3.9-4.6l-1.4-1.7l-2.7-3l-3.5-4.1l-0.6-0.6l-4.9-4.6l-0.8-0.8l-6.3-3.8l-0.2-0.1l-6-1.8l-6.3-0.3l-6.2 0.7l-6.3 1.4l-0.1 0l-6.2 1.6l-6.2 1.7l-4.8 1.4l-1.5 0.3l-6.3 1.7l-6.2 1.4l-6.2 1.2l-0.1 0.1l-6.2 0.9l-6.3 0.8l-6.3 0.4l-6.2 0.1l-6.3-0.3l-6.3-0.6l-6.2-1l-1.7-0.4l-4.6-1l-6.2-2l-4.3-1.6l-2-0.9l-6.3-3.1l-1.2-0.7l-5-3.3l-1.9-1.4l-4.4-3.5l-1.2-1.1l-4.5-4.7l-0.6-0.7l-3-4l-3.1-4.6l-0.1-0.3l-2.3-4.4l-1.9-4.7l-1.5-4.6l-0.6-2.3l-0.6-2.4l-0.7-4.7l-0.4-4.6l-0.1-4.7l0.3-4.7l0.5-4.6l0.9-4.7l0.1-0.7l1-4l1.4-4.6l1.7-4.7l2.1-4.7l0.1-0.2l2.3-4.4l2.9-4.7l1-1.7l2.5-3l3.8-4.1l0.6-0.5l5.7-4.2l0.9-0.5l5.3-2.5l6.3-1.8l2.2-0.4l4.1-0.7l6.2-0.7l6.3-0.4l6.2-0.3l6.3-0.2l6.3-0.2l6.2-0.3l6.3-0.4l6.3-0.8l3.5-0.6l2.7-0.6l6.3-2l4.5-2.1l1.7-0.9l5.1-3.8l1.2-0.9l3.5-3.7l2.8-3.1l1.1-1.6l3.5-4.7l1.6-2.2l1.7-2.4l3.2-4.7l1.4-1.8l2.1-2.9l3.6-4.6l0.6-0.7l3.3-4l2.9-3.1l1.4-1.6l4.8-4.6l0.1-0.1l5.1-4.6l1.1-0.9l4.8-3.8l1.5-1.1l5-3.5l1.3-0.9l6-3.8l0.2-0.1l6.3-3.6l1.8-1l4.5-2.4l4.7-2.2l1.5-0.9l6.3-3l2-0.8l4.2-2.2l5.3-2.5l1-0.6l6.3-3.7l0.6-0.3l5-4.7l0.6-1.1l1.8-3.6l0.4-4.6l-0.9-4.7l-1.3-2.9l-0.6-1.8l-2.4-4.6l-2.7-4.7l-0.5-0.7l-2.5-4l-3-4.6l-0.8-1.2l-2.3-3.5l-3-4.7l-1-1.5l-2-3.1l-2.9-4.7l-1.3-2.2l-1.6-2.5l-2.8-4.6l-1.9-3.1l-1-1.6l-3-4.7l-2.2-3.4l-0.9-1.2l-3.6-4.7l-1.8-2.3l-2.2-2.4l-4.1-3.9l-0.8-0.7l-5.4-4l-1.1-0.7l-5.2-2.9l-4-1.8l-2.3-0.9l-6.2-2.2l-5-1.5l-1.3-0.4l-6.2-1.7l-6.3-1.6l-3.9-1l-2.4-0.6l-6.2-1.6l-6.3-1.7l-2.7-0.8l-3.6-1l-6.2-1.9l-5.4-1.7l-0.9-0.4l-6.2-2.2l-5.5-2.1l-0.8-0.3l-6.3-2.8l-3.5-1.6l-2.7-1.5l-5.5-3.1l-0.8-0.6l-5.1-4.1l-1.2-1.5l-2.4-3.2l-1.6-4.6l-0.4-4.7l0.3-4.7l0.9-4.6l1.3-4.7l1.6-4.7l0.3-0.6l1.6-4l2.2-4.7l2.5-4.5l0.1-0.2l2.9-4.6l3.3-4.7M683.6 457l-0.1 0.2l-5 4.6l-1.1 1l-4.2 3.7l-2.1 1.7l-3.8 3l-2.4 1.8l-4.3 2.8l-2 1.3l-5.9 3.4l-0.4 0.2l-6.2 2.9l-4 1.6l-2.3 0.8l-6.3 1.9l-6.2 1.4l-3.5 0.5l-2.8 0.4l-6.2 0.5l-6.3 0.1l-6.3-0.4l-4.5-0.6l-1.7-0.2l-6.3-1.3l-6.3-1.6l-4.4-1.5l-1.8-0.7l-6.3-2.7l-2.7-1.3l-3.5-1.9l-4.6-2.8l-1.7-1.2l-4.7-3.4l-1.6-1.4l-3.7-3.3l-2.5-2.9l-1.6-1.8l-3.3-4.6l-1.4-2.9l-0.9-1.8l-1.6-4.7l-0.7-4.6l0.1-4.7l0.7-4.7l1.3-4.6l1.1-2.7l0.8-2l2.2-4.7l2.8-4.6l0.5-0.6l2.7-4.1l3.5-4.7l3.8-4.6l2.5-2.9l1.6-1.8l4.3-4.7l0.4-0.3l4-4.3l2.2-2.3l2.3-2.4l4-4.3l0.4-0.4l4.1-4.6l1.7-2.2l2-2.5l3.4-4.7l0.9-1.5l1.9-3.1l2.4-4.7l1.9-4.7l0.1-0.1l1.4-4.5l1-4.7l0.6-4.7l0.3-4.6l0-4.7l-0.3-4.7l-0.6-4.6l-0.7-4.7l-0.9-4.7l-0.8-4.1l-0.2-0.5l-1.1-4.7l-1.3-4.7l-1.4-4.6l-1.6-4.7l-0.7-1.9l-1.2-2.8l-2.5-4.6l-2.6-3.7l-1-1l-5.2-3.7l-3.3-1l-3-0.7l-6.2-0.2l-6.3 0.5l-2.8 0.4l-3.5 0.5l-6.2 1l-6.3 1l-6.3 1l-6.2 0.9l-2 0.3l-4.3 0.6l-6.2 0.7l-6.3 0.5l-6.3 0.5l-6.2 0.3l-6.3 0.2l-6.3 0l-6.2 0l-6.3 0l-6.2 0l-6.3 0l-6.3 0.3l-6.2 0.7l-4.1 0.9l-2.2 0.5l-6.3 3.2l-1.2 0.9l-4.1 4.7l-0.9 1.3l-1.7 3.4l-1.9 4.6l-1.5 4.7l-1.2 4.1l-0.1 0.6l-1.2 4.6l-1.2 4.7l-1.2 4.7l-1.2 4.6l-1.3 4.7l-1.3 4.7l-1.4 4.6l-1.3 4.7l-1.4 4.7l-0.9 3.4l-0.4 1.2l-1.1 4.7l-0.9 4.7l-0.6 4.6l-0.2 4.7l0.5 4.7l1.3 4.6l1.4 3.1l0.8 1.6l3 4.7l2.5 2.8l1.5 1.8l4.6 4.7l0.1 0.1l4.9 4.6l1.4 1.1l3.9 3.5l2.3 2.1l3 2.6l3.3 3.1l1.7 1.6l4.6 4.4l0.2 0.2l4.5 4.7l1.5 1.8l2.5 2.9l3.4 4.6l0.4 0.6l2.6 4.1l2.3 4.7l1.4 4.1l0.2 0.5l0.9 4.7l0.3 4.7l-0.5 4.6l-0.9 3.5l-0.3 1.2l-1.7 4.7l-2.4 4.6l-1.9 2.9l-1.1 1.8l-3.6 4.7l-1.6 1.7l-2.7 2.9l-3.5 3.4l-1.5 1.3M683.6 164.4l-3.2 3.4l-3 3.4l-1.5 1.3l-4.7 4.7l-0.1 0l-5.2 4.6l-1 1.2l-4.4 3.5l-1.9 2l-3.5 2.7l-2.8 2.9l-2.3 1.7l-3.7 4.7l-0.2 1l-1.1 3.7l1.1 1.3l2.8 3.3l3.4 1.5l6.3 2.8l0.8 0.4l5.5 1.9l6.2 2.5l0.6 0.3l5.7 2.2l5.1 2.4l1.1 0.5M63.6 73.6l6.3-0.8l6.3-0.4l6.2 0l6.3 0.3l6.3 0.6l6.2 0.9l1.9 0.3l4.4 0.9l6.3 1.5l6.2 1.8l1.7 0.5l4.6 1.6l6.2 2.5l1.4 0.5l4.9 2.6l3.7 2.1l2.6 2.1l3 2.6l2.9 4.6l0.3 1l1.3 3.7l0.5 4.7l-0.2 4.6l-0.5 4.7l-0.9 4.7l-0.2 0.9l-0.7 3.7l-1 4.7l-1.2 4.7l-1.2 4.6l-1.2 4.7l-0.9 3.3l-0.4 1.4l-1.1 4.6l-1.1 4.7l-1 4.7l-0.8 4.6l-0.6 4.7l-0.3 4.7l-0.1 4.6l0.3 4.7l0.6 4.7l0.8 4.6l1 4.7l1.2 4.7l1.2 4.6l0.3 0.8l1.1 3.9l1.2 4.7l1.3 4.6l1.1 4.7l0.9 4.7l0.6 3.5l0.2 1.1l0.6 4.7l0.4 4.7l0.2 4.6l-0.1 4.7l-0.4 4.7l-0.6 4.6l-0.3 1.3l-0.6 3.4l-1.2 4.7l-1.5 4.6l-1.9 4.7l-1 2.4l-1.2 2.3l-2.7 4.6l-2.4 3.6l-0.9 1.1l-4.3 4.7l-1.1 1l-5.3 3.6l-0.9 0.6l-6.3 2.4l-6.2 1.2l-6.3 0.4l-6.3-0.1l-6.2-0.6l-6.3-1l-6.3-1.3l-5.9-1.6l-0.3 0l-6.3-2l-6.3-2.4M331.5 32.5l1.4 1.8l2.5 2.9l3.7 4.6l0.1 0.2l3.6 4.5l2.7 3.3l1.2 1.4l4.1 4.6l0.9 1.1l3.8 3.6l2.5 2.2l3.3 2.5l3 2l4.5 2.6l1.7 0.9l6.3 2.9l2.2 0.9l4 1.5l6.3 2.2l2.9 1l3.4 1.1l6.2 2l4.7 1.5l1.6 0.6l6.3 2.1l5.2 2l1 0.4l6.3 2.5l4 1.8l2.2 1l6.3 2.9l1.4 0.7l4.9 2.6l4 2.1l2.2 1.3l6 3.4l0.3 0.1l6.3 3.7l1.5 0.8l4.7 2.7l3.7 2l2.6 1.4l6.2 3.1l0.3 0.2l6 2.6l5.7 2l0.6 0.3l6.2 1.8l6.3 1.4l6.3 0.9l4.3 0.3l1.9 0.1l4.8-0.1l1.5 0l6.2-1l6.3-1.9l3.5-1.8l2.8-1.5l3.8-3.1l2.4-2.2l2.2-2.5l3.8-4.7l0.3-0.3l3-4.3l3.1-4.7l0.2-0.2l2.8-4.5l3.1-4.6l0.3-0.5l2.7-4.2l3.1-4.7l0.5-0.7l2.6-3.9l3.2-4.7l0.4-0.7l2.7-4l3.1-4.6l0.5-0.8l2.5-3.9l2.9-4.7l0.9-1.5l1.8-3.1l2.6-4.7l1.8-3.4l0.7-1.3l2.4-4.6l2.3-4.7"/>
<path stroke="#2f6c8e" d="M322.8 494.5l-2.4-2.1l-3-2.6l-3.2-3.1l-1.7-1.5l-4.5-4.7l-0.1-0.2l-4.3-4.5l-2-2.3l-2.3-2.3l-3.9-4.2l-0.6-0.5l-5.2-4.7l-0.5-0.4l-6.3-4l-0.6-0.2l-5.6-2.1l-6.3-0.8l-6.2 0.3l-6.3 0.9l-6.3 1.3l-1.3 0.4l-4.9 1.1l-6.3 1.5l-6.3 1.4l-2.7 0.6l-3.5 0.7l-6.3 1.2l-6.2 0.9l-6.3 0.6l-6.3 0.4l-6.2 0.1l-6.3-0.3l-6.3-0.6l-6.2-1l-6.3-1.4l-1.8-0.6l-4.4-1.3l-6.3-2.5l-1.9-0.8l-4.4-2.2l-4.2-2.5l-2-1.3l-4.6-3.4l-1.7-1.4l-3.5-3.2l-2.8-2.9l-1.6-1.8l-3.5-4.7l-1.1-1.7l-1.8-2.9l-2.4-4.7l-2-4.7l-0.1-0.4l-1.3-4.2l-1.2-4.7l-0.7-4.7l-0.4-4.6l-0.2-4.7l0.2-4.7l0.5-4.6l0.7-4.7l1-4.7l1.2-4.6l0.2-0.7l1.3-4l1.8-4.7l2-4.6l1.2-2.7l1.1-2l2.6-4.7l2.5-3.9l0.6-0.7l4.1-4.7l1.6-1.7l4.4-3l1.9-1.1l6.2-2.1l6.3-1.1l4.1-0.3l2.2-0.2l6.2-0.3l6.3-0.2l6.2-0.1l6.3-0.1l6.3-0.1l6.2-0.4l6.3-0.5l6.3-1l6.2-1.4l1.1-0.4l5.2-2l4.9-2.7l1.3-0.8l4.7-3.8l1.6-1.4l3-3.3l3.3-3.7l0.7-1l3.5-4.6l2-2.6l1.5-2.1l3.6-4.7l1.2-1.4l2.5-3.2l3.8-4.4l0.2-0.3l4.3-4.7l1.7-1.7l2.9-2.9l3.4-3.1l1.8-1.6l4.4-3.7l1.3-1l5-3.8l1.3-0.8l5-3.5l1.9-1.2l4.3-2.7l3.4-2l2.9-1.7l5.5-2.9l0.8-0.5l6.2-3.3l1.8-0.9l4.5-2.5l4.2-2.2l2-1.3l5.4-3.3l0.9-0.8l4.5-3.9l1.8-2.7l1.2-2l1.2-4.6l-0.3-4.7l-1.3-4.7l-0.8-1.8l-1.1-2.8l-2.4-4.7l-2.6-4.7l-0.2-0.2l-2.6-4.4l-2.9-4.7l-0.8-1.2l-2-3.5l-2.9-4.6l-1.3-2.2l-1.6-2.5l-2.8-4.7l-1.9-3l-1-1.6l-3-4.7l-2.2-3.5l-0.8-1.2l-3.4-4.6l-2.1-2.8l-1.6-1.9l-4.4-4.7l-0.3-0.2l-5.3-4.4l-0.9-0.7l-6.3-3.9l-0.1-0.1l-6.2-2.9l-4.4-1.8l-1.8-0.6l-6.3-2.1l-6.2-1.8l-0.6-0.1l-5.7-1.5l-6.3-1.7l-5.9-1.5l-0.3-0.1l-6.3-1.6l-6.3-1.8l-4.2-1.2l-2-0.6l-6.3-1.9l-6.2-2l-0.4-0.1l-5.9-2.1l-6.3-2.2l-1-0.4l-5.2-2.1l-6.3-2.5l-0.1-0.1l-6.2-2.9l-3.8-1.7l-2.4-2l-3.5-2.7l-1.6-4.7l0.2-4.6l0.9-4.7l1.3-4.7l1.6-4.6l1.1-2.6l0.7-2.1l1.9-4.7l2.2-4.6l1.4-2.6l1-2.1l2.7-4.7l2.6-4l0.4-0.6l3.3-4.7M683.6 459.3l-2.7 2.5l-3.5 3.2l-1.7 1.5l-4.6 3.8l-1.1 0.9l-5.1 3.7l-1.4 0.9l-4.9 3.2l-2.7 1.5l-3.6 1.9l-5.9 2.8l-0.3 0.1l-6.3 2.3l-6.3 1.9l-1.5 0.3l-4.7 1.1l-6.3 0.9l-6.2 0.5l-6.3 0l-6.3-0.3l-6.2-0.8l-6.3-1.2l-0.9-0.2l-5.4-1.4l-6.2-2l-3.2-1.2l-3.1-1.4l-6.2-3l-0.7-0.3l-5.6-3.3l-2.1-1.4l-4.2-3l-2.2-1.6l-4-3.7l-1.1-1l-4.2-4.7l-1-1.4l-2.3-3.2l-2.4-4.7l-1.4-4.7l-0.2-1.3l-0.5-3.3l0.2-4.7l0.3-2l0.5-2.7l1.3-4.6l2-4.7l2.5-4.7l2.7-4.6l3.3-4.7l0.3-0.4l3.1-4.3l3.1-3.7l0.8-0.9l4.1-4.7l1.4-1.6l2.8-3.1l3.5-3.6l1-1l4.4-4.7l0.8-0.9l3.5-3.8l2.8-3.1l1.3-1.5l3.8-4.7l1.1-1.5l2.3-3.2l2.9-4.6l1.1-2.1l1.3-2.6l2-4.7l1.5-4.6l1-4.7l0.5-3l0.2-1.7l0.3-4.6l0-4.7l-0.4-4.7l-0.1-1.4l-0.4-3.2l-0.8-4.7l-1-4.7l-1.2-4.6l-1.3-4.7l-1.5-4.7l-0.1-0.2l-1.8-4.4l-2.1-4.7l-2.4-4.2l-0.3-0.5l-4.2-4.6l-1.7-1.6l-6.3-3l-0.5-0.1l-5.7-1.1l-6.3-0.1l-6.3 0.3l-6.2 0.7l-1.7 0.2l-4.6 0.6l-6.3 0.8l-6.2 0.8l-6.3 0.7l-6.2 0.6l-6.3 0.5l-6.3 0.5l-4.2 0.2l-2 0.1l-6.3 0.2l-6.3 0.2l-6.2 0.1l-6.3 0.1l-6.2 0.2l-6.3 0.3l-6.3 0.7l-6.2 1.3l-4.2 1.4l-2.1 1l-5.3 3.7l-1 0.9l-2.8 3.8l-2.7 4.6l-0.7 1.4l-1.3 3.3l-1.7 4.7l-1.4 4.6l-1.4 4.7l-0.5 1.5l-0.8 3.2l-1.3 4.6l-1.4 4.7l-1.3 4.7l-1.4 4.6l0 0.3l-1.3 4.4l-1.2 4.7l-1.2 4.6l-1 4.7l-0.8 4.7l-0.4 4.6l0 4.7l0.7 4.7l1.4 4.6l2.2 4.7l1.6 2.3l1.6 2.4l3.9 4.6l0.7 0.8l3.8 3.9l2.5 2.3l2.5 2.4l3.7 3.4l1.4 1.2l4.9 4.4l0.3 0.3l5 4.7l1 0.9l3.8 3.7l2.4 2.6l2 2.1l4 4.7l0.3 0.4l3.3 4.2l2.9 4.7l0.1 0.2l2.3 4.5l1.6 4.6l0.9 4.7l0.1 4.7l-0.6 4.6l-1.3 4.7l-1.9 4.7l-1.1 2l-1.4 2.6l-3 4.7l-1.9 2.3l-1.8 2.4l-4.3 4.6l-0.2 0.2l-4.7 4.5M683.6 168.3l-3.6 4.2l-2.6 3.1l-1.6 1.6l-4.2 4.6l-0.5 0.7l-3.7 4l-2.5 3.4l-1.3 1.3l-2.9 4.6l-1.3 4.7l1.1 4.7l4.4 4.5l0.1 0.1l6.1 4l1 0.7l5.3 2.8l3.1 1.9l3.1 1.5M63.6 72l6.3-0.8l6.3-0.4l6.2-0.1l6.3 0.2l6.3 0.5l6.2 0.8l6.3 1.1l6 1.2l0.3 0.1l6.2 1.5l6.3 1.7l4.5 1.4l1.7 0.6l6.3 2.2l4.9 1.8l1.4 0.7l6.2 3l2.3 1l4 3.9l0.8 0.8l1.4 4.6l-0.2 4.7l-0.9 4.7l-1.1 4.6l0 0.1l-1.1 4.6l-1.1 4.7l-1.3 4.6l-1.4 4.7l-1.3 4.7l-0.1 0l-1.3 4.6l-1.3 4.7l-1.3 4.7l-1.2 4.6l-1.1 4.5l-0.1 0.2l-1 4.7l-0.8 4.6l-0.6 4.7l-0.3 4.7l0 4.6l0.2 4.7l0.6 4.7l0.7 4.6l1 4.7l0.3 1l0.9 3.7l1.2 4.6l1.3 4.7l1.3 4.7l1.1 4.6l0.4 1.7l0.8 3l0.9 4.7l0.8 4.6l0.7 4.7l0.4 4.7l0.2 4.6l0 4.7l-0.3 4.7l-0.5 4.6l-0.7 4.7l-1.1 4.7l-1.2 4.4l0 0.2l-1.6 4.7l-1.8 4.7l-2.1 4.6l-0.7 1.5l-1.9 3.2l-3 4.7l-1.4 1.9l-2.6 2.7l-3.7 3.3l-2.5 1.4l-3.7 1.8l-6.3 1.4l-6.2 0.4l-6.3-0.2l-6.3-0.5l-6.2-1l-6.3-1.2l-2.8-0.7l-3.5-0.8l-6.2-1.8l-6.2-2.1l-0.1 0l-6.3-2.4M333.9 32.5l3.9 4.7l1.4 1.7l2.5 2.9l3.8 4.6l0 0.1l4.1 4.7l2.1 2.4l2.3 2.2l4 3.8l1.1 0.9l5.2 3.9l1.2 0.8l5 3l3.2 1.6l3.1 1.5l6.2 2.6l1.7 0.6l4.6 1.7l6.3 2.1l2.5 0.9l3.7 1.2l6.3 2.1l3.8 1.3l2.5 0.9l6.2 2.4l3.6 1.4l2.7 1.1l6.2 2.7l2 0.9l4.3 2l5.3 2.6l1 0.5l6.2 3.4l1.6 0.8l4.7 2.6l3.7 2.1l2.6 1.5l5.7 3.1l0.5 0.3l6.3 3.4l2.2 1l4 2l6.3 2.7l6.3 2.2l6.2 1.8l3 0.6l3.3 0.7l6.3 0.9l6.2 0.2l6.3-0.4l6.2-1.2l0.6-0.2l5.7-2.1l4.4-2.5l1.9-1.2l3.9-3.5l2.3-2.2l2.2-2.5l3.8-4.6l0.3-0.4l3-4.3l3.3-4.6l0-0.1l3.1-4.6l3.1-4.5l0.1-0.2l3.2-4.7l3-4.3l0.2-0.3l3.1-4.7l2.9-4.2l0.3-0.5l3.1-4.6l2.9-4.4l0.2-0.3l2.9-4.7l2.8-4.6l0.4-0.7l2.3-4l2.5-4.7l1.4-2.8l1-1.8l2.4-4.7"/>
<path stroke="#2e6f8e" d="M319.9 494.5l-5.4-4.7l-0.3-0.3l-4.7-4.3l-1.6-1.7l-3.1-3l-3.2-3.3l-1.5-1.4l-4.7-4.6l0-0.1l-5.4-4.6l-0.9-0.8l-6.1-3.9l-0.2-0.1l-6.2-2.6l-6.3-1.1l-6.2-0.1l-6.3 0.6l-6.3 0.9l-6.2 1.3l-5.4 1.1l-0.9 0.2l-6.3 1.3l-6.2 1.1l-6.3 1.1l-6.2 0.8l-2.2 0.2l-4.1 0.4l-6.3 0.3l-6.2 0l-6.3-0.3l-4.5-0.4l-1.8-0.2l-6.2-1l-6.3-1.4l-6.2-1.8l-0.7-0.3l-5.6-2.1l-5.5-2.5l-0.8-0.4l-6.2-3.7l-0.9-0.6l-5.4-4l-0.8-0.7l-5.1-4.6l-0.4-0.4l-3.7-4.3l-2.5-3.3l-1-1.4l-2.8-4.6l-2.4-4.7l-0.1-0.2l-1.8-4.5l-1.4-4.6l-1.2-4.7l-0.7-4.7l-0.5-4.6l-0.1-4.7l0.1-4.7l0.3-4.6l0.7-4.7l0.8-4.7l1.1-4.6l1.2-4.7l1.5-4.7l0-0.1l1.6-4.5l1.8-4.7l1.9-4.7l1-2.4l1.1-2.2l2.2-4.7l2.2-4.7l0.7-1.9l1.9-2.7l3.5-4.7l0.9-1.4l6.3-0.2l6.2 0.4l6.3 0.5l6.3 0.4l5.7 0.3l0.5 0l6.3 0.3l6.2 0.1l6.3 0.1l6.3-0.1l6.2-0.4l0.3 0l6-0.7l6.3-1.1l6.2-1.7l2.8-1.2l3.5-1.5l5-3.1l1.2-0.9l4.5-3.8l1.8-1.7l2.7-3l3.6-4l0.4-0.6l3.7-4.7l2.1-2.5l1.7-2.2l3.8-4.6l0.8-0.9l3.2-3.8l3.1-3.2l1.3-1.5l4.6-4.6l0.3-0.3l4.8-4.4l1.5-1.3l4-3.4l2.2-1.7l3.9-2.9l2.4-1.8l4.2-2.9l2.1-1.4l5.2-3.3l1-0.6l6.3-3.8l0.5-0.2l5.8-3.4l2.4-1.3l3.8-2.3l4.2-2.4l2.1-1.4l4.9-3.2l1.3-1.2l4.2-3.5l2.1-2.9l1.3-1.8l1.7-4.6l0.2-4.7l-0.7-4.7l-1.6-4.6l-0.9-2l-1.1-2.7l-2.3-4.7l-2.6-4.6l-0.3-0.5l-2.4-4.2l-2.7-4.7l-1.1-1.8l-1.7-2.8l-2.8-4.7l-1.8-3l-1-1.7l-2.9-4.6l-2.3-3.7l-0.7-1l-3.3-4.7l-2.3-3.1l-1.2-1.5l-4.1-4.7l-1-1.1l-3.8-3.6l-2.4-1.9l-3.8-2.7l-2.5-1.6l-5.9-3.1l-0.4-0.2l-6.2-2.6l-5.3-1.9l-1-0.3l-6.2-1.9l-6.3-1.8l-2.5-0.6l-3.8-1l-6.2-1.6l-6.3-1.7l-1.6-0.4l-4.7-1.2l-6.2-1.7l-6.1-1.8l-0.2 0l-6.2-1.9l-6.3-1.8l-3.2-0.9l-3.1-1l-6.2-1.9l-6.3-1.7l-0.9-0.1l-5.4-1.2l-6.2-0.6l-5.8 1.8l-0.5 0.2l-4 4.5l-2.2 3.3l-0.6 1.3l-2 4.7l-1.9 4.7l-1.8 4.6l0 0.1l-1.5 4.6l-1.6 4.7l-1.5 4.6l-1.5 4.7l-0.2 0.5l-1.2 4.2l-1.3 4.6l-1.1 4.7l-1.1 4.7l-0.8 4.6l-0.6 4.7l-0.1 1.9l-0.2 2.8l-0.1 4.6l0.2 4.7l0.1 0.2l0.5 4.5l0.7 4.6l1 4.7l1.1 4.7l1.2 4.6l1.2 4.7l0.5 1.9l0.8 2.8l1.2 4.6l1.1 4.7l1 4.7l0.8 4.6l0.6 4.7l0.5 4.7l0.2 4.6l0.1 4.3l0 0.4l0 0.2l-0.2 4.5l-0.3 4.6l-0.6 4.7l-0.8 4.7l-1 4.6l-1.3 4.7l-1.4 4.7l-0.7 1.9l-1 2.7l-1.8 4.7l-1.9 4.7l-1.5 3.6l-0.6 1l-2.3 4.7l-2.5 4.7l-0.9 2.5l-3.6 2.1l-2.7 1l-6.2-0.5l-3.2-0.5l-3.1-0.2l-6.2-0.8l-6.3-1l-6.3-1.2l-6.2-1.4l-0.3 0l-6-1.4l-6.3-1.7l-4.9-1.6l-1.3-0.4l-6.3-2.2l-5.1-2.1l-1.2-0.4M683.6 461.6l-0.2 0.2l-5.2 4.7l-0.8 0.7l-4.8 4l-1.5 1.1l-4.8 3.5l-1.4 1l-5.8 3.7l-0.5 0.3l-6.3 3.3l-2.2 1.1l-4 1.7l-6.3 2.3l-2 0.6l-4.3 1.3l-6.2 1.3l-6.3 0.9l-6.2 0.5l-6.3 0.1l-6.3-0.3l-6.2-0.8l-6.3-1.1l-6.3-1.5l-1.1-0.4l-5.1-1.6l-6.3-2.4l-1.6-0.6l-4.6-2.2l-4.8-2.5l-1.5-0.9l-6-3.8l-0.3-0.1l-6-4.5l-0.2-0.3l-5-4.4l-1.3-1.4l-3-3.3l-3.3-4.6l-2.5-4.7l-1.5-4.7l-0.5-4.6l0.2-4.7l1-4.7l1.5-4.6l1.8-3.8l0.4-0.9l2.5-4.7l2.9-4.6l0.5-0.7l2.8-4l3.5-4.5l0.1-0.2l3.8-4.6l2.3-2.7l1.8-2l4.3-4.7l0.2-0.2l4.1-4.4l2.2-2.3l2.2-2.4l4-4.3l0.4-0.4l4.1-4.6l1.8-2.3l2-2.4l3.4-4.7l0.8-1.3l2.1-3.3l2.5-4.7l1.7-4l0.3-0.7l1.5-4.6l1.1-4.7l0.7-4.7l0.3-4.6l-0.1-4.7l-0.3-4.7l-0.7-4.6l-0.8-4.7l-1.1-4.7l-0.9-3.3l-0.4-1.3l-1.6-4.7l-1.9-4.7l-2.2-4.6l-0.2-0.4l-2.8-4.3l-3.4-4.2l-0.6-0.5l-5.7-3.8l-2.3-0.8l-3.9-1.3l-6.3-0.8l-6.3-0.1l-6.2 0.3l-6.3 0.6l-6.3 0.6l-6.2 0.6l-0.7 0.1l-5.6 0.5l-6.2 0.6l-6.3 0.5l-6.3 0.4l-6.2 0.3l-6.3 0.3l-6.3 0.2l-6.2 0.3l-6.3 0.2l-6.2 0.4l-6.3 0.7l-1.6 0.2l-4.7 0.9l-6.2 1.9l-3.9 1.9l-2.4 1.5l-3.5 3.2l-2.8 3.2l-0.9 1.4l-2.6 4.7l-2.1 4.7l-0.6 1.4l-1.2 3.2l-1.5 4.7l-1.5 4.7l-1.4 4.6l-0.7 2.2l-0.7 2.5l-1.3 4.7l-1.4 4.6l-1.2 4.7l-1.3 4.7l-0.3 1.6l-0.8 3l-0.9 4.7l-0.6 4.7l-0.3 4.6l0.2 4.7l0.8 4.7l1.6 4.5l0 0.1l2.3 4.7l3.2 4.7l0.7 0.8l3.2 3.8l3.1 3.2l1.4 1.5l4.8 4.6l0.1 0.1l5.1 4.6l1.1 1.1l4 3.6l2.3 2.1l2.7 2.6l3.5 3.4l1.3 1.2l4.4 4.7l0.6 0.7l3.6 4l2.7 3.5l0.8 1.1l3.1 4.7l2.3 4.7l1.7 4.6l0.9 4.7l0 4.7l-0.8 4.6l-1.5 4.7l-0.3 0.5l-1.7 4.2l-2.7 4.6l-1.8 2.6l-1.4 2.1l-3.7 4.7l-1.2 1.2l-3.1 3.4l-3.2 3l-1.7 1.7M683.6 172.7l-3.5 4.5l-2.7 3.7l-0.9 0.9l-3.3 4.7l-2.1 3.8l-0.6 0.9l-1.8 4.6l-0.3 4.7l1.9 4.7l0.8 0.9l3.1 3.7l3.2 2.4l2.8 2.3l3.4 2.1M63.6 70.4l4.4-0.6l1.9-0.2l6.3-0.4l6.2-0.2l6.3 0.2l6.3 0.4l2 0.2l4.2 0.5l6.3 0.9l6.3 1.1l6.2 1.3l4.3 0.9l2 0.5l6.2 1.5l6.3 1.5l5.7 1.2l0.6 0.1l6.2 1l6.3-0.4l1.4-0.7l4.9-3l1.1-1.7l3.1-4.7l2-3.2l0.7-1.4l2.3-4.7l2.5-4.7l0.8-1.2l1.7-3.4l2.6-4.7l1.9-3l1-1.7l3.1-4.6l2.2-3l1.2-1.7M336.3 32.5l2.9 3.4l1.1 1.3l4 4.6l1.2 1.5l2.8 3.2l3.4 3.9l0.8 0.8l4.8 4.6l0.7 0.7l4.8 4l1.5 1.1l5.5 3.6l0.7 0.4l6.3 3.3l2 0.9l4.2 1.9l6.3 2.4l1.1 0.4l5.2 1.8l6.2 2.2l1.9 0.7l4.4 1.5l6.3 2.2l2.5 0.9l3.7 1.4l6.3 2.5l1.8 0.8l4.4 1.9l6.1 2.8l0.2 0.1l6.3 3l2.9 1.5l3.3 1.8l5.5 2.9l0.8 0.5l6.3 3.4l1.5 0.8l4.7 2.6l4.1 2l2.2 1.2l6.2 3l1.3 0.5l5 2.1l6.3 2.2l1.3 0.4l4.9 1.3l6.3 1.3l6.3 0.7l6.2 0.1l6.3-0.6l6.2-1.5l3.4-1.3l2.9-1.3l5.2-3.4l1.1-0.7l4.3-4l1.9-1.9l2.4-2.7l3.8-4.7l0.1-0.1l3.3-4.6l3-4l0.4-0.6l3.3-4.7l2.5-3.6l0.7-1.1l3.3-4.6l2.3-3.3l0.9-1.4l3.2-4.7l2.1-3.1l1.1-1.5l3.1-4.7l2.1-3.3l0.8-1.4l2.9-4.6l2.6-4.5l0.1-0.2l2.5-4.7l2.5-4.6l1.1-2.2l1.3-2.5"/>
<path stroke="#2c728e" d="M316.9 494.5l-2.7-2.4l-2.7-2.3l-3.6-3.3l-1.5-1.3l-4.8-4.6l-0.1-0.1l-5.1-4.7l-1-1l-4.5-3.6l-1.8-1.6l-4.9-3.1l-1.4-0.9l-6.2-2.7l-4.7-1.1l-1.6-0.3l-6.2-0.5l-6.3 0.3l-4.4 0.5l-1.9 0.2l-6.2 1l-6.3 1.1l-6.3 1.2l-6.2 1l-1.1 0.2l-5.2 0.8l-6.2 0.7l-6.3 0.5l-6.3 0.3l-6.2 0l-6.3-0.3l-6.3-0.6l-6.2-1l-1.8-0.4l-4.5-1l-6.2-1.8l-5.1-1.9l-1.2-0.4l-6.3-2.9l-2.4-1.3l-3.8-2.3l-3.7-2.4l-2.6-1.9l-3.3-2.8l-3-2.7l-1.9-1.9l-4-4.7l-0.3-0.4l-3-4.3l-2.8-4.6l-0.5-1l-1.8-3.7l-1.9-4.7l-1.4-4.6l-1.1-4.7l-0.1 0l-0.7-4.7l-0.5-4.6l-0.2-4.7l0-4.7l0.3-4.6l0.5-4.7l0.7-4.2l0-0.5l0.9-4.6l1.1-4.7l1.2-4.7l1.2-4.6l1.3-4.7l0.5-1.9l0.8-2.8l1.2-4.6l0.8-4.7l0-4.7l-2-4.6l-0.8-0.7l-5.7-4l-0.5-0.2l-6.3-2.3l-6.3-2l-0.6-0.2l-5.6-1.5l-6.3-1.9l-3.8-1.2l-2.5-0.7l-6.2-2.1l-5-1.9l-1.3-0.5l-6.3-2.5M596.4 494.5l-0.4-0.1l-6.3-1l-6.3-1.5l-6.2-1.8l-0.7-0.3l-5.6-2l-6.1-2.6l-0.1-0.1l-6.3-3.2l-2.6-1.4l-3.7-2.2l-3.8-2.5l-2.4-1.8l-3.9-2.8l-2.4-2.2l-3-2.5l-3.3-3.6l-1-1.1l-3.6-4.6l-1.6-3.3l-0.8-1.4l-1.6-4.7l-0.5-4.6l0.4-4.7l1.3-4.7l1.2-2.9l0.6-1.7l2.2-4.7l2.8-4.7l0.6-0.9l2.4-3.7l3.4-4.7l0.5-0.6l3.1-4.1l3.2-3.7l0.7-0.9l4.1-4.7l1.4-1.5l2.9-3.2l3.4-3.6l1-1l4.3-4.7l1-1l3.3-3.7l2.9-3.2l1.3-1.4l3.8-4.7l1.2-1.6l2.2-3.1l3-4.6l1-1.9l1.5-2.8l2-4.7l1.6-4.6l1.1-4.7l0.1-0.5l0.6-4.2l0.3-4.6l-0.1-4.7l-0.3-4.7l-0.5-3.2l-0.2-1.4l-1-4.7l-1.3-4.7l-1.5-4.6l-1.8-4.7l-0.5-1.2l-1.8-3.5l-2.9-4.6l-1.5-2.1l-2.5-2.6l-3.8-3.1l-3.1-1.6l-3.1-1.3l-6.3-1.5l-6.3-0.5l-6.2-0.1l-6.3 0.3l-6.3 0.4l-6.2 0.5l-6.3 0.5l-6.2 0.5l-6.3 0.5l-6.3 0.3l-6.2 0.4l-0.9 0l-5.4 0.3l-6.3 0.3l-6.2 0.4l-6.3 0.4l-6.2 0.7l-6.3 1l-6.3 1.5l-0.2 0.1l-6 2.5l-3.4 2.2l-2.9 2.3l-2.1 2.3l-3.5 4.7l-0.7 1.1l-1.8 3.6l-2.1 4.6l-1.8 4.7l-0.5 1.3l-1.2 3.4l-1.5 4.6l-1.4 4.7l-1.4 4.7l-0.8 2.6l-0.5 2l-1.3 4.7l-1.2 4.7l-1 4.6l-0.8 4.7l-0.5 4.7l-0.2 4.6l0.4 4.7l1 4.7l1.6 4.6l2.5 4.7l3.2 4.7l3.1 3.6l0.8 1l4.5 4.7l0.9 0.9l3.9 3.8l2.4 2.2l2.7 2.4l3.6 3.3l1.5 1.4l4.7 4.4l0.3 0.3l4.8 4.6l1.2 1.2l3.5 3.5l2.8 3.2l1.4 1.5l3.7 4.6l1.1 1.7l2.2 3l2.5 4.7l1.5 4.6l0.1 0.7l0.7 4l-0.2 4.7l-0.5 2.3l-0.5 2.3l-1.6 4.7l-2.3 4.7l-1.9 2.8l-1 1.8l-3.3 4.7l-1.9 2.2l-2 2.5l-4.3 4.5l-0.1 0.1l-4.9 4.7M683.6 463.8l-2.9 2.7l-3.3 2.8l-2.3 1.9l-4 3.1l-2.1 1.5l-4.1 2.9l-2.9 1.8l-3.4 2.1l-4.9 2.6l-1.4 0.6l-6.2 2.8l-3.4 1.2l-2.9 1l-6.3 1.8l-6.2 1.4l-3.8 0.5M171 321.8l5.4 0.7l6.2 0.5l6.3 0.3l6.3 0l6.2-0.4l6.3-0.7l2.1-0.4l4.2-0.8l6.2-2.1l3.8-1.7l2.5-1.3l5-3.4l1.2-0.9l4.2-3.8l2.1-1.9l2.5-2.7l3.8-4.2l0.4-0.5l3.9-4.7l1.9-2.2l2.1-2.4l4.1-4.7l0.1-0.1l4.2-4.6l2.1-2l2.6-2.6l3.6-3.4l1.4-1.3l4.9-4.2l0.5-0.5l5.7-4.5l0.2-0.1l6.1-4.5l0.3-0.2l6-4l1-0.7l5.2-3.4l2.2-1.2l4.1-2.7l3.5-2l2.8-1.8l4.6-2.9l1.6-1.1l5.2-3.5l1.1-1l4.3-3.7l1.9-2.4l1.8-2.3l2.1-4.6l0.7-4.7l-0.3-4.7l-1.2-4.6l-1.7-4.7l-1.4-2.9l-0.7-1.8l-2.3-4.6l-2.6-4.7l-0.6-1.2l-2-3.5l-2.7-4.6l-1.6-2.8l-1.1-1.9l-2.9-4.7l-2.2-3.6l-0.7-1l-3.1-4.7l-2.5-3.5l-0.9-1.2l-3.8-4.6l-1.6-1.9l-2.8-2.8l-3.4-3.2l-1.9-1.5l-4.4-3.1l-2.5-1.5l-3.8-2.1l-5.7-2.6l-0.5-0.2l-6.3-2.4l-6.2-2l-0.2-0.1l-6.1-1.7l-6.3-1.7l-4.6-1.2l-1.6-0.5l-6.3-1.6l-6.3-1.6l-3.9-1l-2.3-0.6l-6.3-1.6l-6.2-1.7l-3.2-0.8l-3.1-0.8l-6.3-1.5l-6.2-1.4l-6.2-0.9l-0.1 0l-6.3-0.3l-1.6 0.3l-4.6 0.9l-5.9 3.7l-0.4 0.3l-3.3 4.4l-2.9 4.6l-0.1 0.1l-2.2 4.6l-2 4.7l-1.9 4.7l-0.1 0.2l-1.6 4.4l-1.6 4.7l-1.5 4.7l-1.4 4.6l-0.2 0.8l-1 3.9l-1 4.7l-0.9 4.6l-0.6 4.7l-0.3 4.7l-0.1 4.6l0.2 4.7l0.5 4.7l0.7 4.6l0.9 4.7l1.1 4.7l0.5 2.1l0.7 2.5l1.2 4.7l1.2 4.7l1.2 4.6l1.1 4.7l0.9 4.3l0.1 0.4l0.8 4.6l0.7 4.7l0.6 4.7l0.3 4.6l0.2 4.7l-0.1 4.7l-0.2 4.6l-0.5 4.7l-0.6 4.7l-0.8 4.6l-0.5 2.5l-0.5 2.2l-1 4.7l-1.1 4.6l-1.1 4.7l-0.9 4.7l-0.5 4.6l0.6 4.7l3.5 4.7l1 0.5l6.3 2.5l6.2 1.5zM683.6 178l-2.6 3.8l-2.6 4.7l-1 2.4l-1.1 2.3l-1.1 4.6l0.3 4.7l1.9 4l0.3 0.7l3.6 4.6l2.3 1.9M63.6 68.8l6.3-0.8l6.3-0.5l6.2-0.1l6.3 0.1l6.3 0.3l6.2 0.6l6.3 0.8l4.6 0.6l1.7 0.3l6.2 1.1l6.3 1.1l6.2 1l6.3 0.9l3.9 0.3l2.4 0.2l3.9-0.2l2.3-0.1l6.3-2l3.3-2.6l3-2.5l1.6-2.1l3.4-4.7l1.2-1.6l1.8-3.1l2.9-4.6l1.6-2.3l1.4-2.4l3-4.7l1.8-2.5l1.4-2.1l3.5-4.7M338.8 32.5l0.4 0.5l3.6 4.2l2.7 3.1l1.4 1.5l4.2 4.7l0.6 0.8l3.9 3.9l2.4 2.3l2.6 2.3l3.7 3l2.4 1.7l3.8 2.5l3.7 2.2l2.6 1.3l6.2 3l0.9 0.3l5.4 2.2l6.3 2.4l0.3 0.1l5.9 2.1l6.3 2.2l1 0.4l5.3 1.9l6.2 2.3l1.1 0.4l5.2 2.1l6.2 2.6l6.3 2.9l3.8 1.8l2.5 1.2l6.2 3.1l0.7 0.3l5.6 3l3.2 1.7l3.1 1.6l5.7 3.1l0.5 0.2l6.3 3.2l2.7 1.2l3.5 1.7l6.3 2.6l1.3 0.4l5 1.7l6.2 1.7l6.3 1.1l1.6 0.2l4.7 0.4l6.2 0l3.3-0.4l3-0.4l6.2-1.8l5.5-2.5l0.8-0.4l6.1-4.3l0.2-0.1l4.7-4.5l1.5-1.5l2.7-3.2l3.6-4.3l0.3-0.4l3.5-4.6l2.5-3.3l1-1.4l3.3-4.7l1.9-2.6l1.5-2l3.3-4.7l1.5-2.1l1.7-2.6l3.2-4.6l1.3-2l1.9-2.7l3-4.7l1.4-2.3l1.4-2.3l2.8-4.7l2.1-3.7l0.5-1l2.5-4.6l2.4-4.7"/>
<path stroke="#2a768e" d="M314 494.5l-5.5-4.7l-0.6-0.5l-4.7-4.1l-1.6-1.5l-3.7-3.2l-2.5-2.3l-3.1-2.4l-3.2-2.6l-3.2-2l-3.1-2l-6-2.7l-0.2-0.1l-6.3-1.7l-6.2-0.7l-6.3 0l-6.3 0.5l-6.2 0.8l-6.3 1l-1.2 0.2l-5.1 0.8l-6.2 0.9l-6.3 0.8l-6.2 0.7l-6.3 0.5l-6.3 0.2l-6.2 0l-6.3-0.4l-6.3-0.6l-6.2-1l-6.3-1.3l-2-0.6l-4.2-1.2l-6.3-2.3l-2.8-1.2l-3.5-1.6l-5.6-3l-0.6-0.4l-6.3-4.2l-0.1-0.1l-5.7-4.7l-0.5-0.4l-4.1-4.2l-2.1-2.5l-1.8-2.2l-3.3-4.7l-1.2-2l-1.5-2.6l-2.2-4.7l-1.9-4.7l-0.6-2.2l-0.8-2.4l-1.1-4.7l-0.8-4.7l-0.6-4.6l-0.2-4.7l0-4.7l0.2-4.6l0.4-4.7l0.6-4.7l0.7-4.6l0.9-4.7l0.7-3.6l0.2-1.1l0.9-4.6l0.9-4.7l0.8-4.7l0.3-4.6l-0.3-4.7l-1.7-4.7l-1.1-1.5l-2.9-3.1l-3.4-2.2l-4.7-2.5l-1.6-0.6l-6.2-2.4l-4.3-1.7l-2-0.6l-6.3-2.2l-4.8-1.8l-1.4-0.5l-6.3-2.5l-3.9-1.7l-2.4-1M587.4 494.5l-4-0.9l-6.2-1.8l-5.9-2l-0.4-0.1l-6.2-2.6l-4.4-1.9l-1.9-1l-6.3-3.4l-0.6-0.3l-5.6-3.5l-1.8-1.2l-4.5-3.2l-2-1.4l-4.3-3.7l-1.3-1l-4.6-4.7l-0.3-0.3l-3.7-4.3l-2.5-4.7l-0.1-0.1l-1.7-4.6l-0.3-4.6l0.7-4.7l1.3-3.4l0.4-1.3l2-4.6l2.7-4.7l1.2-1.7l1.7-3l3.3-4.6l1.2-1.6l2.3-3.1l3.8-4.7l0.2-0.2l3.7-4.4l2.6-2.8l1.6-1.9l4.3-4.7l0.3-0.3l4-4.3l2.3-2.4l2.1-2.3l4.2-4.5l0.1-0.2l4.1-4.6l2-2.5l1.9-2.2l3.4-4.7l1-1.4l2-3.2l2.6-4.7l1.6-3.7l0.5-1l1.5-4.6l1.2-4.7l0.7-4.7l0.2-4.6l0-4.7l-0.5-4.7l-0.8-4.6l-1-4.7l-1.4-4.7l-0.4-1.1l-1.4-3.5l-2.2-4.7l-2.6-4.6l-0.1-0.1l-3.9-4.6l-2.3-2.2l-3.7-2.5l-2.5-1.4l-6.3-2.1l-6.3-1.1l-1.6-0.1l-4.6-0.2l-6.3 0l-6.3 0.2l-1 0l-5.2 0.3l-6.3 0.4l-6.2 0.5l-6.3 0.4l-6.3 0.4l-6.2 0.3l-6.3 0.4l-6.3 0.4l-6.2 0.5l-6.3 0.6l-3.8 0.5l-2.4 0.4l-6.3 1.3l-6.3 2.1l-1.8 0.9l-4.4 2.4l-2.8 2.2l-3.5 3.5l-1 1.2l-3.1 4.7l-2.2 3.8l-0.3 0.8l-2.1 4.7l-1.8 4.7l-1.7 4.6l-0.3 1.1l-1.2 3.6l-1.4 4.7l-1.3 4.6l-1.3 4.7l-1.1 4.4l0 0.3l-1 4.6l-0.7 4.7l-0.4 4.7l0 4.6l0.5 4.7l1.1 4.7l0.5 1.4l1.3 3.2l2.5 4.7l2.5 3.5l0.8 1.2l3.9 4.6l1.5 1.6l3 3.1l3.3 3.2l1.5 1.5l4.8 4.4l0.2 0.2l5.2 4.7l0.8 0.8l4.3 3.9l2 1.9l3 2.7l3.3 3.3l1.5 1.4l4.4 4.7l0.3 0.4l3.9 4.2l2.4 3.5l1 1.2l2.9 4.7l1.6 4.6l0.6 4.7l-0.4 4.7l-1.3 4.6l-2.1 4.7l-2.3 3.7l-0.5 1l-3.1 4.6l-2.7 3.3l-1 1.4l-4 4.7l-1.2 1.2l-3.2 3.4l-3.1 2.8l-2 1.9M683.6 466l-0.5 0.5l-5.4 4.7l-0.3 0.2l-5.7 4.4l-0.6 0.5l-6.1 4.2l-0.1 0.1l-6.3 3.7l-1.6 0.9l-4.7 2.3l-5.3 2.3l-0.9 0.4l-6.3 2.2l-6.3 1.8l-1.5 0.3M174.3 317.2l2.1 0.5l6.2 1l6.3 0.6l6.3 0.1l6.2-0.3l6.3-0.7l5.5-1.2l0.8-0.2l6.2-2.3l4.4-2.2l1.9-1l5-3.7l1.2-0.9l4.1-3.7l2.2-2.1l2.4-2.6l3.9-4.1l0.4-0.6l4.2-4.6l1.6-1.7l2.6-3l3.7-3.8l0.8-0.9l4.7-4.6l0.8-0.7l4.2-4l2-1.8l3.3-2.9l3-2.4l2.8-2.2l3.4-2.7l2.8-2l3.5-2.5l3.2-2.2l3.1-2.1l3.9-2.5l2.3-1.6l4.9-3.1l1.4-1l5.7-3.7l0.6-0.4l5.8-4.2l0.4-0.4l5-4.3l1.3-1.5l2.6-3.2l2.4-4.6l1.1-4.7l0-4.7l-0.9-4.6l-1.4-4.7l-1.8-4.7l-2-4.2l-0.2-0.4l-2.4-4.7l-2.5-4.7l-1.2-2.1l-1.4-2.5l-2.7-4.7l-2.1-3.5l-0.8-1.2l-3-4.6l-2.5-3.8l-0.7-0.9l-3.5-4.7l-2.1-2.5l-1.9-2.1l-4.3-4.3l-0.5-0.4l-5.8-4.6l0-0.1l-6.3-3.8l-1.5-0.8l-4.7-2.3l-6-2.4l-0.3-0.1l-6.2-2.1l-6.3-2l-1.8-0.5l-4.5-1.2l-6.2-1.6l-6.3-1.6l-0.8-0.2l-5.5-1.4l-6.2-1.5l-6.3-1.6l-1.1-0.2l-5.1-1.2l-6.3-1.4l-6.3-1.2l-6.2-0.9l-6.3-0.3l-3.8 0.3l-2.5 0.3l-6.2 2.3l-2.7 2.1l-3.6 3.3l-1 1.4l-3.1 4.6l-2.1 3.6l-0.6 1.1l-2.1 4.7l-2 4.6l-1.6 4.2l-0.2 0.5l-1.6 4.7l-1.4 4.6l-1.3 4.7l-1.2 4.7l-0.6 3.2l-0.2 1.4l-0.7 4.7l-0.3 4.7l-0.1 4.6l0.2 4.7l0.4 4.7l0.7 4.6l0 0.2l0.9 4.5l1.1 4.7l1.1 4.6l1.2 4.7l1.2 4.7l0.8 3.1l0.4 1.5l1.1 4.7l1 4.7l0.9 4.6l0.7 4.7l0.6 4.7l0.4 4.6l0.2 4.7l0.1 4.7l-0.1 4.6l-0.3 4.7l-0.4 4.7l-0.5 4.6l-0.6 4.7l-0.7 4.7l-0.5 4.6l-0.4 4.7l0.2 4.7l1.2 4.6l3 4.2l0.4 0.5l5.8 3.2zM683.6 185.3l-0.6 1.2l-1.6 4.7l-0.6 4.6l0.7 4.7l2.1 4.4M63.6 67.2l6.3-0.8l6.3-0.5l6.2-0.2l6.3 0.1l6.3 0.2l6.2 0.5l6.3 0.7l6.3 0.7l6.2 0.8l6.3 0.9l2.6 0.2l3.6 0.5l6.3 0.4l6.3-0.2l3.7-0.7l2.5-0.5l6.3-2.9l1.5-1.2l4.8-4.3l0.2-0.4l3.8-4.7l2.2-2.7l1.3-1.9l3.2-4.7l1.8-2.4l1.5-2.3l3.4-4.6l1.3-1.7l2.3-3M341.2 32.5l4.2 4.7l0.1 0.1l4.1 4.5l2.1 2.4l2.2 2.3l4.1 4.1l0.6 0.6l5.5 4.6l0.2 0.2l6.2 4.5l0.1 0l6.2 3.7l1.9 1l4.3 2l6 2.6l0.3 0.1l6.3 2.5l5.7 2.1l0.5 0.2l6.3 2.2l6.1 2.3l0.2 0l6.2 2.4l5.7 2.2l0.6 0.3l6.2 2.6l4.2 1.8l2.1 1l6.3 2.9l1.6 0.8l4.6 2.3l4.7 2.3l1.6 0.9l6.3 3.2l1.1 0.6l5.1 2.6l4.2 2.1l2.1 1l6.2 2.8l2.1 0.8l4.2 1.7l6.3 2.1l3.6 0.9l2.6 0.7l6.3 1.1l6.3 0.4l6.2-0.2l6.3-1l3.4-1l2.8-0.9l6.3-3.2l0.8-0.6l5.5-4l0.6-0.6l4.8-4.7l0.8-0.8l3.3-3.9l3-3.5l0.9-1.1l3.5-4.7l1.9-2.3l1.7-2.4l3.4-4.6l1.1-1.5l2.3-3.2l3.3-4.7l0.7-0.9l2.6-3.7l3.1-4.7l0.5-0.8l2.6-3.9l2.9-4.6l0.8-1.4l2-3.3l2.6-4.7l1.7-3l0.9-1.6l2.4-4.7"/>
<path stroke="#29798e" d="M310.9 494.5l-3-2.6l-2.6-2.1l-3.7-3.2l-1.8-1.4l-4.4-3.8l-1.2-0.9l-5.1-3.9l-1.2-0.8l-5.1-3.2l-3-1.4l-3.2-1.5l-6.3-1.9l-6.2-0.9l-6.3-0.2l-6.3 0.3l-6.2 0.6l-6.3 0.8l-6.3 0.8l-6.2 0.9l-6.3 0.7l-3.8 0.4l-2.4 0.2l-6.3 0.4l-6.3 0.2l-6.2-0.1l-6.3-0.3l-4-0.4l-2.3-0.3l-6.2-0.9l-6.3-1.4l-6.2-1.7l-1.1-0.4l-5.2-1.8l-6.3-2.8l-0.2-0.1l-6-3.2l-2.4-1.4l-3.9-2.7l-2.7-2l-3.6-3l-1.8-1.7l-4.4-4.5l-0.1-0.1l-3.8-4.7l-2.4-3.5l-0.8-1.2l-2.6-4.6l-2.2-4.7l-0.6-1.5l-1.3-3.2l-1.4-4.6l-1.1-4.7l-0.9-4.7l-0.5-4.6l-0.3-4.7l-0.1-4.7l0.1-4.6l0.4-4.7l0.4-4.7l0.6-4.6l0.7-4.7l0.6-4.7l0.7-4.6l0.5-4.7l0.2-4.7l-0.3-4.6l-1.3-4.7l-2.8-4.7l-0.5-0.5l-4.7-4.1l-1.6-0.9l-6.2-3.4l-0.8-0.4l-5.5-2.3l-5.5-2.4l-0.8-0.2l-6.2-2.5l-4.4-1.9l-1.9-0.8l-6.3-2.7M580.4 494.5l-3.2-0.9l-6.3-2l-4.6-1.8l-1.6-0.6l-6.3-2.8l-2.6-1.2l-3.7-2l-5-2.7l-1.2-0.8l-6.3-3.8l0-0.1l-6.3-4.3l-0.5-0.3l-5.7-4.4l-0.4-0.3l-5.5-4.7l-0.4-0.5l-4.4-4.1l-1.8-2.9l-1.8-1.8l-1.9-4.7l0.2-4.6l1.6-4.7l1.9-3l0.7-1.7l2.7-4.6l2.8-3.9l0.5-0.8l3.3-4.7l2.5-3l1.1-1.6l3.7-4.7l1.4-1.6l2.5-3.1l3.8-4.2l0.4-0.4l4.1-4.7l1.8-1.8l2.5-2.9l3.7-3.9l0.7-0.7l4.4-4.7l1.2-1.3l3.1-3.4l3.2-3.5l0.9-1.1l3.9-4.7l1.4-1.9l2.1-2.8l3-4.6l1.2-2.1l1.4-2.6l2.1-4.7l1.6-4.6l1.1-4.6l0.1-0.1l0.7-4.7l0.2-4.6l-0.1-4.7l-0.5-4.7l-0.4-2.1l-0.4-2.5l-1.3-4.7l-1.6-4.7l-2-4.6l-0.9-1.8l-1.8-2.9l-3.5-4.7l-1-1l-4.3-3.6l-1.9-1.3l-6.3-2.8l-2.1-0.6l-4.2-1l-6.2-0.7l-6.3-0.3l-6.3 0l-6.2 0.2l-6.3 0.3l-6.2 0.4l-6.3 0.4l-6.3 0.3l-6.1 0.4l-0.1 0l-6.3 0.4l-6.3 0.5l-6.2 0.7l-6.3 0.8l-6.2 1.1l-4.5 1.2l-1.8 0.5l-6.3 2.6l-2.5 1.5l-3.7 2.7l-2.1 2l-4.1 4.7l-0.1 0.1l-2.8 4.5l-2.4 4.7l-1.1 2.3l-0.9 2.4l-1.8 4.6l-1.6 4.7l-1.6 4.7l-0.3 1.2l-1 3.4l-1.2 4.7l-1.1 4.7l-0.9 4.6l-0.6 4.7l-0.4 4.7l0.2 4.6l0.6 4.7l1.2 4.7l1.9 4.6l1.3 2.4l1.3 2.3l3.4 4.7l1.5 1.9l2.4 2.7l3.9 4.1l0.6 0.6l4.9 4.7l0.8 0.7l4.3 3.9l1.9 1.8l3.3 2.9l3 2.7l2.3 2l4 3.6l1.2 1l5 4.7l5.1 4.7l1.2 1.3l3.6 3.3l2.6 3.2l1.7 1.5l3.5 4.7l1.1 2.9l1.1 1.7l0.4 4.7l-1.5 4.1l-0.1 0.6l-2 4.6l-3.1 4.7l-1.1 1.3l-2.1 3.4l-3.8 4.6l-0.3 0.4l-3.5 4.3l-2.8 2.8l-1.5 1.9l-4.7 4.6l-0.1 0l-5 4.7M683.6 468.2l-3.4 3l-2.8 2.2l-3.1 2.4l-3.2 2.4l-3.3 2.3l-2.9 1.9l-4.7 2.8l-1.6 0.9l-6.3 3.1l-1.4 0.6l-4.8 2.1l-6.3 2.1l-1.7 0.5M178 312.5l4.6 1.3l6.3 1.1l6.3 0.4l6.2-0.2l6.3-0.8l6.3-1.5l0.7-0.3l5.5-2.2l4.6-2.5l1.7-0.9l4.9-3.7l1.3-1l4-3.7l2.3-2.1l2.5-2.6l3.8-3.8l0.7-0.8l4.5-4.7l1-1l3.5-3.7l2.8-2.7l1.9-1.9l4.4-4l0.7-0.7l5.3-4.7l0.2-0.2l5.4-4.4l0.9-0.7l5.2-4l1-0.8l5.4-3.9l0.9-0.6l5.9-4l0.4-0.3l6.2-4.3l0.3-0.1l6-4.2l0.7-0.5l5.6-4.1l0.7-0.5l5.3-4.7l0.2-0.3l3.8-4.4l2.5-4.4l0.1-0.2l1.4-4.7l0.3-4.7l-0.5-4.6l-1.2-4.7l-0.1-0.3l-1.6-4.4l-1.9-4.6l-2.3-4.7l-0.5-1l-1.9-3.7l-2.6-4.6l-1.7-3.1l-1-1.6l-2.8-4.7l-2.5-3.8l-0.6-0.8l-3.3-4.7l-2.4-3l-1.4-1.7l-4.2-4.6l-0.6-0.6l-4.6-4.1l-1.7-1.3l-4.9-3.4l-1.4-0.8l-6.2-3.3l-1.1-0.5l-5.2-2.2l-6.2-2.3l-0.5-0.2l-5.8-1.8l-6.3-1.8l-3.9-1.1l-2.3-0.6l-6.3-1.5l-6.3-1.6l-4.1-0.9l-2.1-0.5l-6.3-1.4l-6.2-1.3l-6.3-1.2l-2.4-0.3l-3.9-0.6l-6.2-0.4l-6.3 0.2l-3.9 0.8l-2.4 0.6l-6.2 3.2l-1 0.9l-4.6 4.6l-0.7 0.8l-2.5 3.9l-2.7 4.7l-1 1.8l-1.3 2.8l-2 4.7l-1.8 4.7l-1.2 3.4l-0.4 1.2l-1.3 4.7l-1.2 4.7l-0.9 4.6l-0.7 4.7l-0.4 4.7l-0.1 4.6l0.2 4.7l0.4 4.7l0.7 4.6l0.8 4.7l1 4.7l1.1 4.6l0.8 3l0.4 1.7l1.2 4.7l1.2 4.6l1.1 4.7l1 4.7l0.9 4.6l0.5 2.6l0.3 2.1l0.7 4.7l0.5 4.6l0.3 4.7l0.2 4.7l0 4.6l0 4.7l-0.2 4.7l-0.3 4.6l-0.3 4.7l-0.1 4.7l0 4.6l0.5 4.7l1.4 4.7l3.2 4.6l0 0.1l6.3 4zM63.6 65.6l3.6-0.4l2.7-0.4l6.3-0.5l6.2-0.3l6.3 0l6.3 0.2l6.2 0.4l6.3 0.5l0.3 0.1l6 0.5l6.2 0.7l6.3 0.6l6.2 0.3l6.3 0l6.3-0.7l5-1.4l1.2-0.4l6.3-3.5l0.9-0.8l5.1-4.7l0.3-0.2l3.7-4.4l2.5-3l1.3-1.7l3.5-4.7l1.5-1.8l2.1-2.8l3.7-4.7M343.7 32.5l1.8 2l2.5 2.7l3.7 4.1l0.6 0.5l4.5 4.7l1.2 1.2l3.8 3.5l2.5 2l3.3 2.6l2.9 2.1l4.1 2.6l2.2 1.3l6.2 3.2l0.3 0.2l6 2.6l4.9 2l1.4 0.6l6.2 2.4l4.7 1.7l1.6 0.6l6.3 2.3l4.7 1.8l1.5 0.6l6.3 2.4l3.9 1.6l2.3 1l6.3 2.8l2.1 0.9l4.2 1.9l5.7 2.8l0.5 0.3l6.3 3.1l2.6 1.2l3.7 1.9l5.6 2.8l0.6 0.3l6.3 3l3.1 1.4l3.1 1.4l6.3 2.4l2.7 0.8l3.6 1.2l6.2 1.5l6.3 1l6.3 0.3l6.2-0.3l6.3-1.2l6.2-2.2l0.6-0.3l5.7-3.1l2.1-1.5l4.2-3.3l1.5-1.4l4.7-4.7l4-4.6l2.3-2.7l1.6-2l3.6-4.7l1.1-1.3l2.5-3.3l3.5-4.7l0.2-0.3l3.1-4.4l3.2-4.4l0.2-0.2l3.2-4.7l2.8-4.3l0.3-0.4l2.9-4.6l2.9-4.7l0.2-0.4l2.4-4.3l2.6-4.6l1.3-2.3l1.2-2.4"/>
<path stroke="#287d8e" d="M307.8 494.5l-5.7-4.7l-0.5-0.3l-5.3-4.3l-0.9-0.8l-5.3-3.9l-1-0.7l-6.3-4l-6.2-3l-5.2-1.6l-1.1-0.4l-6.2-1.1l-6.3-0.4l-6.3 0.1l-6.2 0.4l-6.3 0.7l-6 0.7l-0.3 0l-6.2 0.7l-6.3 0.7l-6.2 0.5l-6.3 0.3l-6.3 0.2l-6.2-0.1l-6.3-0.4l-6.3-0.6l-6.2-1l-1.6-0.3l-4.7-1l-6.2-1.8l-5.7-1.9l-0.6-0.2l-6.3-2.7l-3.5-1.8l-2.7-1.4l-5.2-3.2l-1.1-0.7l-5.3-4l-1-0.8l-4.1-3.9l-2.1-2.1l-2.3-2.5l-3.7-4.7l-0.3-0.5l-2.8-4.2l-2.6-4.6l-0.8-1.9l-1.4-2.8l-1.7-4.7l-1.5-4.6l-1.1-4.7l-0.6-3.3l-0.3-1.4l-0.5-4.6l-0.4-4.7l-0.1-4.7l0-4.6l0.2-4.7l0.4-4.7l0.4-4.6l0.3-3l0.2-1.7l0.4-4.7l0.4-4.6l0.1-4.7l-0.3-4.7l-0.8-4.2l-0.1-0.4l-2-4.7l-3.6-4.7l-0.6-0.4l-5.4-4.2l-0.8-0.5l-6.3-3.4l-1.4-0.8l-4.9-2.2l-5.4-2.5l-0.8-0.3l-6.3-2.8l-3.2-1.5l-3.1-1.4M574.3 494.5l-3.4-1.1l-6.2-2.3l-3.3-1.3l-3-1.3l-6.3-2.9l-0.9-0.4l-5.3-2.9l-3.5-1.8l-2.8-1.7l-5.1-3l-1.2-0.7l-6.2-3.9l-6.3-4.1l-1.3-0.6l-4.9-3.3l-3.6-1.4l-2.7-1.6l-6.3-0.9l-5.1 2.5l-1.1 0.5l-4.6 4.2l-1.7 1.2l-3 3.5l-3.3 3l-1.3 1.6l-4.5 4.7l-0.4 0.4l-4.2 4.3l-2.1 1.8l-2.8 2.8l-3.4 3l-1.8 1.7M683.6 470.3l-0.9 0.9l-5.3 4.3l-0.5 0.3l-5.8 4.3l-0.5 0.4l-5.7 3.8l-1.6 0.9l-4.7 2.6l-4 2l-2.3 1.1l-6.2 2.6l-3 1M489.6 433.8l6.2 2.9l6.2-0.2l3.7-2.7l2.6-1.5l2.8-3.1l3.5-3.3l1-1.4l4.2-4.7l1-1l3-3.6l3.3-3.6l0.9-1.1l4.1-4.7l1.2-1.3l3-3.3l3.3-3.5l1.1-1.2l4.3-4.7l0.9-0.8l3.5-3.8l2.7-2.9l1.7-1.8l4.4-4.7l0.2-0.2l3.9-4.4l2.4-2.9l1.4-1.8l3.5-4.7l1.3-1.9l1.8-2.7l2.6-4.7l1.9-4l0.3-0.7l1.6-4.6l1.1-4.7l0.7-4.7l0.3-4.6l-0.2-4.7l-0.6-4.7l-1-4.6l-1.3-4.7l-0.9-2.4l-1-2.3l-2.5-4.6l-2.8-4.3l-0.3-0.4l-4.7-4.7l-1.2-0.9l-6.3-3.6l-0.3-0.1l-6-1.9l-6.2-1.2l-6.3-0.6l-6.3-0.1l-6.2 0l-6.3 0.2l-6.2 0.3l-6.3 0.3l-6.3 0.4l-6.2 0.4l-6.3 0.5l-6.3 0.5l-6.2 0.8l-2.5 0.4l-3.8 0.6l-6.2 1.5l-6.3 2.1l-1.1 0.4l-5.2 2.8l-2.6 1.9l-3.6 3.1l-1.4 1.6l-3.6 4.6l-1.3 2l-1.5 2.7l-2.3 4.7l-2 4.6l-0.5 1.2l-1.2 3.5l-1.5 4.7l-1.5 4.6l-1.2 4.7l-0.8 3.5l-0.3 1.2l-0.8 4.6l-0.5 4.7l-0.3 4.7l0.3 4.6l0.7 4.7l0.9 3.2l0.4 1.5l2 4.6l2.8 4.7l1 1.5l2.4 3.2l3.9 4.6l0.1 0l4.5 4.7l1.7 1.6l3.3 3.1l2.9 2.6l2.3 2l4 3.5l1.4 1.2l4.9 4.2l0.6 0.5l5.6 4.6l5.9 4.7l0.4 0.4l5.7 4.3l0.5 0.5l6.3 4.1zM182 307.8l0.6 0.3l6.3 1.8l6.3 0.8l6.2 0l6.3-0.8l6.3-1.6l1.2-0.5l5-2l4.6-2.6l1.7-1l4.8-3.7l1.4-1.1l4-3.6l2.3-2l2.7-2.6l3.6-3.5l1.1-1.2l4.8-4.7l0.3-0.2l4.5-4.4l1.8-1.6l3.3-3.1l3-2.6l2.3-2.1l3.9-3.2l1.7-1.4l4.6-3.6l1.4-1.1l4.8-3.6l1.5-1.1l4.8-3.5l1.7-1.1l4.6-3.3l2-1.4l4.2-3.1l2.3-1.6l4-3.1l2.1-1.5l4.2-3.8l1-0.9l4.1-4.7l1.1-1.8l1.7-2.8l1.6-4.7l0.6-4.7l-0.3-4.6l-0.9-4.7l-1.5-4.7l-1.2-3l-0.6-1.6l-2.1-4.7l-2.3-4.7l-1.2-2.2l-1.4-2.4l-2.7-4.7l-2.2-3.7l-0.7-1l-3.1-4.6l-2.5-3.4l-1-1.3l-3.9-4.7l-1.3-1.4l-3.4-3.2l-2.9-2.6l-2.8-2.1l-3.5-2.4l-3.7-2.3l-2.5-1.3l-6.3-2.9l-1-0.4l-5.2-2l-6.3-2.1l-1.8-0.6l-4.5-1.3l-6.2-1.7l-6.3-1.6l-0.5-0.1l-5.8-1.3l-6.2-1.4l-6.3-1.3l-3.7-0.6l-2.5-0.5l-6.3-0.9l-6.3-0.6l-6.2-0.1l-6.3 0.8l-4.2 1.3l-2.1 0.7l-6 3.9l-0.2 0.2l-4.2 4.5l-2.1 2.7l-1.2 2l-2.7 4.6l-2.3 4.7l-0.1 0l-1.9 4.7l-1.7 4.6l-1.5 4.7l-1.1 4.3l-0.1 0.4l-1 4.6l-0.7 4.7l-0.4 4.7l-0.1 4.6l0.1 4.7l0.4 4.7l0.6 4.6l0.8 4.7l0.4 1.7l0.6 3l1.2 4.6l1.1 4.7l1.2 4.7l1.2 4.6l1 4.2l0.1 0.5l1 4.7l1 4.6l0.9 4.7l0.7 4.7l0.5 4.6l0.5 4.7l0.3 4.7l0.2 4.6l0.1 4.7l0.1 4.7l0 4.6l0.2 4.7l0.3 4.7l0.3 2.3l0.5 2.3l1.6 4.7l3 4.7l1.2 1.1zM63.6 64l6.3-0.8l6.3-0.5l6.2-0.3l6.3-0.1l6.3 0.2l6.2 0.2l6.3 0.4l6.3 0.5l6.2 0.4l6.3 0.4l6.2 0l6.3-0.3l6.3-1.2l6.2-2.3l0.2-0.1l6.1-3.7l1-1l5.1-4.6l0.2-0.2l4-4.5l2.2-2.5l1.7-2.2l3.8-4.6l0.8-0.9l3.1-3.8M346.2 32.5l4.4 4.7l1.1 1.2l3.3 3.4l3 3l1.8 1.7l4.5 4l0.8 0.7l5.4 4.1l0.8 0.5l5.5 3.6l2 1.1l4.2 2.3l5 2.4l1.3 0.5l6.3 2.7l3.6 1.4l2.6 1l6.3 2.4l3.5 1.3l2.8 1l6.2 2.4l3.2 1.3l3.1 1.2l6.2 2.6l2.1 0.8l4.2 1.9l6.3 2.8l6.2 2.9l3.6 1.8l2.7 1.3l6.3 3l0.6 0.3l5.6 2.8l4.2 1.9l2.1 1l6.2 2.6l2.9 1.1l3.4 1.3l6.3 1.9l6.2 1.4l6.3 0.9l6.3 0.3l6.2-0.5l3-0.7l3.3-0.7l6.2-2.4l2.8-1.5l3.5-2.1l3.4-2.6l2.9-2.3l2.4-2.4l3.8-3.8l0.8-0.8l4-4.7l1.5-1.7l2.4-3l3.7-4.6l0.2-0.2l3.3-4.5l2.9-3.8l0.6-0.9l3.4-4.6l2.3-3.2l1-1.5l3.1-4.7l2.1-3.2l0.9-1.4l2.9-4.7l2.5-4.2l0.3-0.5l2.6-4.6l2.5-4.7"/>
<path stroke="#26818e" d="M304.6 494.5l-3-2.4l-3-2.3l-3.2-2.5l-3-2.1l-3.3-2.5l-3.7-2.2l-2.6-1.6l-6.2-3.1l-0.1 0l-6.2-2.1l-6.2-1.3l-6.3-0.6l-6.3-0.1l-6.2 0.3l-6.3 0.5l-6.3 0.6l-6.2 0.7l-6.3 0.5l-6.2 0.5l-6.3 0.3l-6.3 0.1l-6.2-0.2l-6.3-0.3l-6.3-0.7l-6.2-1l-6.3-1.3l-2.1-0.5l-4.1-1.2l-6.3-2.1l-3.5-1.4l-2.8-1.2l-6.2-3.1l-0.6-0.4l-5.7-3.4l-1.7-1.2l-4.6-3.5l-1.4-1.2l-4.8-4.4l-0.3-0.3l-4.2-4.6l-1.8-2.4l-1.7-2.3l-3.1-4.7l-1.4-2.7l-1.1-1.9l-2.2-4.7l-1.7-4.7l-1.3-4.1l-0.2-0.5l-1.1-4.7l-0.9-4.7l-0.6-4.6l-0.4-4.7l-0.2-4.7l0-4.6l0.1-4.7l0.2-4.7l0.3-4.6l0.3-4.7l0.2-4.7l0.1-4.6l-0.2-4.7l-0.7-4.7l-1.5-4.6l-1.7-3.2l-0.9-1.5l-4.2-4.7l-1.1-0.8l-5.3-3.8l-1-0.6l-6.3-3.4l-1.2-0.7l-5-2.4l-4.5-2.3l-1.8-0.8l-6.3-3M568.7 494.5l-4-1.4l-6.3-2.5l-1.9-0.8l-4.4-1.9l-5.7-2.7l-0.5-0.3l-6.3-3.2l-2.4-1.2l-3.9-2.2l-4.8-2.5l-1.4-0.8l-6.3-3.2l-1.7-0.6l-4.5-2.1l-6.3-1.7l-6.3 0.1l-6.2 2.3l-1.9 1.4l-4.4 2.7l-2 1.9l-4.3 3.4l-1.2 1.3l-5 4.4l-0.3 0.3l-5.2 4.6l-0.8 0.6l-4.7 4.1M683.6 472.4l-4.1 3.4l-2.1 1.7l-4.1 3l-2.2 1.5l-4.8 3.2l-1.4 0.9l-6.3 3.5l-0.5 0.2l-5.8 2.8l-4.7 1.9M484.9 424.5l4.6 2.3l6.3 1.4l6.2-0.7l5.7-3l0.6-0.3l5.5-4.4l0.8-0.5l4.1-4.1l2.1-1.9l2.6-2.8l3.7-3.6l0.9-1.1l4.5-4.6l0.8-0.9l3.6-3.8l2.7-2.7l1.8-2l4.5-4.5l0.1-0.1l4.3-4.7l1.8-1.9l2.6-2.8l3.7-4.1l0.4-0.5l3.9-4.7l2-2.6l1.5-2.1l3.1-4.6l1.6-2.8l1.1-1.9l2.1-4.7l1.7-4.6l1.1-4.7l0.3-1.6l0.4-3.1l0.2-4.6l-0.2-4.7l-0.4-3.2l-0.2-1.5l-1.2-4.6l-1.6-4.7l-2.2-4.7l-1.1-1.9l-1.9-2.7l-4-4.7l-0.3-0.3l-6.1-4.4l-0.2-0.1l-6.3-2.6l-6.2-1.6l-2.5-0.3l-3.8-0.5l-6.3-0.4l-6.2-0.2l-6.3 0.1l-6.2 0.2l-6.3 0.3l-6.3 0.4l-1.6 0.1l-4.6 0.3l-6.3 0.6l-6.3 0.7l-6.2 0.9l-6.3 1.2l-3.6 0.9l-2.6 0.8l-6.3 2.6l-2.4 1.3l-3.9 2.6l-2.4 2.1l-3.8 3.9l-0.6 0.7l-3.2 4.7l-2.5 4.2l-0.2 0.5l-2.1 4.6l-1.9 4.7l-1.7 4.7l-0.4 1l-1 3.6l-1.3 4.7l-1 4.7l-0.8 4.6l-0.5 4.7l-0.1 4.7l0.3 4.6l0.9 4.7l1.4 4.7l2.1 4.6l0 0.1l2.9 4.6l3.4 4.6l0 0.1l4.2 4.6l2.1 2.2l2.5 2.5l3.7 3.5l1.4 1.2l4.9 4.3l0.5 0.3l5.7 4.7l0.1 0.1l5.9 4.6l0.3 0.2l6.2 4.4l0.1 0.1l6.2 3.9zM186.6 303.2l2.3 0.9l6.3 1.4l6.2 0.3l6.3-0.6l6.3-1.6l1.1-0.4l5.1-2.2l4.3-2.5l2-1.1l4.7-3.6l1.5-1.1l4.1-3.5l2.2-1.8l3-2.9l3.3-2.9l1.7-1.8l4.5-4l0.6-0.6l5.2-4.7l0.5-0.4l4.8-4.3l1.5-1.1l4.1-3.5l2.1-1.7l3.8-3l2.5-1.9l3.7-2.8l2.5-1.9l3.8-2.7l2.5-1.9l3.9-2.8l2.4-1.8l3.9-2.9l2.3-1.8l3.6-2.8l2.7-2.5l2.5-2.2l3.8-4.3l0.3-0.4l3-4.6l1.8-4.7l0.8-4.7l0-4.6l-0.7-4.7l-1.3-4.7l-1.7-4.6l-2-4.7l-0.2-0.5l-2.1-4.2l-2.4-4.6l-1.8-3.1l-0.9-1.6l-3-4.7l-2.4-3.5l-0.8-1.1l-3.7-4.7l-1.7-2.1l-2.5-2.6l-3.8-3.6l-1.2-1l-5.1-3.9l-1.1-0.8l-5.1-3.1l-3-1.6l-3.3-1.5l-6.2-2.6l-1.5-0.5l-4.8-1.7l-6.3-1.9l-3.9-1.1l-2.3-0.6l-6.3-1.6l-6.3-1.4l-5-1.1l-1.2-0.2l-6.3-1.2l-6.2-0.9l-6.3-0.7l-6.3-0.3l-6.2 0.3l-6.3 1.2l-4.5 1.8l-1.8 0.9l-5 3.8l-1.2 1.1l-3.1 3.6l-3.2 4.4l-0.1 0.2l-2.5 4.7l-2.3 4.7l-1.3 3.2l-0.6 1.4l-1.6 4.7l-1.3 4.7l-1 4.6l-0.8 4.7l-0.5 4.7l-0.2 4.6l0.1 4.7l0.4 4.7l0.6 4.6l0.8 4.7l1 4.7l1.1 4.6l1.1 4.7l0.9 3.3l0.3 1.4l1.2 4.6l1.2 4.7l1 4.7l1 4.6l0.9 4.7l0.6 3.8l0.2 0.9l0.7 4.6l0.6 4.7l0.5 4.7l0.4 4.6l0.3 4.7l0.4 4.7l0.4 4.6l0.6 4.7l1 4.7l1.2 3.5l0.5 1.1l3.2 4.7l2.5 2.4zM63.6 62.5l6.3-0.9l6.3-0.5l6.2-0.4l6.3-0.1l6.3 0.1l6.2 0.2l6.3 0.3l6.3 0.3l6.2 0.2l6.3 0.1l6.2-0.2l6.3-0.7l1.9-0.4l4.4-1.1l6.2-2.6l1.5-1l4.8-3.2l1.6-1.4l4.7-4.3l0.3-0.4l4.3-4.7l1.6-1.6l2.5-3l3.8-4.3l0.3-0.4M348.8 32.5l2.9 3.2l1.5 1.5l4.6 4.6l0.2 0.2l4.8 4.5l1.5 1.3l4.1 3.4l2.1 1.6l4.5 3l1.8 1.2l6.2 3.5l6.3 3.1l3.5 1.6l2.8 1.1l6.2 2.6l2.4 0.9l3.9 1.5l6.3 2.4l2.1 0.8l4.1 1.6l6.3 2.4l1.5 0.7l4.7 1.9l6.3 2.7l0.2 0l6.1 2.7l4.2 2l2 0.9l6.3 3l1.7 0.8l4.6 2.2l5.2 2.4l1 0.5l6.3 2.8l3.4 1.4l2.8 1.2l6.3 2.3l4.1 1.2l2.2 0.6l6.2 1.4l6.3 0.7l6.3 0.2l6.2-0.7l6.3-1.5l1.9-0.7l4.3-1.8l4.8-2.9l1.5-0.9l4.7-3.8l1.6-1.2l3.4-3.4l2.8-2.8l1.7-1.9l4.1-4.7l0.5-0.5l3.3-4.1l3-3.7l0.7-1l3.6-4.7l1.9-2.5l1.5-2.1l3.4-4.7l1.4-2l1.8-2.7l3-4.6l1.4-2.2l1.6-2.5l2.7-4.7l2-3.4l0.7-1.2l2.6-4.7"/>
<path stroke="#25848e" d="M301.3 494.5l-5.9-4.5l-0.3-0.2l-6-4.2l-0.8-0.4l-5.5-3.4l-2.6-1.3l-3.6-1.8l-6.3-2.2l-2.8-0.7l-3.4-0.7l-6.3-0.8l-6.3-0.2l-6.2 0.1l-6.3 0.4l-6.3 0.5l-6.2 0.5l-3.1 0.2l-3.2 0.3l-6.2 0.4l-6.3 0.2l-6.3 0.1l-6.2-0.2l-6.3-0.4l-3.5-0.4l-2.8-0.3l-6.2-0.9l-6.3-1.3l-6.2-1.7l-1.4-0.4l-4.9-1.7l-6.3-2.5l-1-0.5l-5.2-2.6l-3.7-2.1l-2.6-1.6l-4.4-3l-1.9-1.4l-3.9-3.3l-2.3-2.2l-2.5-2.5l-3.8-4.2l-0.3-0.4l-3.5-4.7l-2.4-3.9l-0.5-0.8l-2.6-4.6l-2.1-4.7l-1.1-3l-0.6-1.7l-1.5-4.6l-1.1-4.7l-0.9-4.7l-0.6-4.6l-0.5-4.7l-0.2-4.7l-0.1-4.6l0-4.7l0.1-4.7l0.1-4.6l0.1-4.7l0-4.7l-0.2-4.6l-0.5-4.7l-0.4-1.7l-0.7-3l-1.9-4.6l-3.1-4.7l-0.5-0.5l-4.3-4.2l-2-1.5l-4.6-3.1l-1.7-1l-6.2-3.5l-0.4-0.2l-5.9-3l-3.1-1.7l-3.2-1.5M563.2 494.5l-4.8-1.8l-6.3-2.6l-0.6-0.3l-5.6-2.5l-4.8-2.1l-1.5-0.8l-6.3-3l-2.1-0.9l-4.1-2l-6.3-2.6l-0.2-0.1l-6-2l-6.3-1.1l-6.3 0.5l-6.2 2.1l-0.8 0.5l-5.5 3l-2.1 1.7l-4.2 2.9l-2 1.8l-4.2 3.2l-1.6 1.4l-4.7 3.7l-1.1 1M683.6 474.5l-1.6 1.3l-4.6 3.7l-1.4 1l-4.9 3.4l-1.9 1.3l-4.3 2.7l-3.6 1.9l-2.7 1.5l-6.3 2.9l-0.6 0.3M486.8 419.8l2.7 1.1l6.3 1l6.2-1l2.3-1.1l4-1.7l4.1-2.9l2.2-1.5l3.6-3.2l2.6-2.1l2.6-2.6l3.7-3.4l1.2-1.2l4.8-4.7l0.2-0.3l4.3-4.4l2-1.9l2.6-2.7l3.7-3.8l0.9-0.9l4.3-4.7l1-1.1l3.2-3.5l3.1-3.8l0.8-0.9l3.5-4.7l2-2.8l1.1-1.8l2.7-4.7l2.2-4.7l0.2-0.6l1.4-4l1.2-4.7l0.6-4.7l0.2-4.6l-0.3-4.7l-0.8-4.7l-1.3-4.6l-1-2.7l-0.8-2l-2.7-4.7l-2.7-3.7l-0.9-0.9l-5.4-4.7l-6.3-3.3l-3.9-1.4l-2.3-0.7l-6.3-1.1l-6.3-0.7l-6.2-0.3l-6.3 0l-6.2 0.1l-6.3 0.2l-6.3 0.4l-6.2 0.4l-6.3 0.6l-6.3 0.8l-1.9 0.3l-4.3 0.8l-6.3 1.5l-6.2 2.1l-0.8 0.3l-5.5 2.8l-2.9 1.9l-3.4 2.7l-1.9 1.9l-4 4.7l-0.3 0.5l-2.6 4.2l-2.5 4.6l-1.2 2.6l-0.8 2.1l-1.8 4.7l-1.5 4.6l-1.3 4.7l-0.9 3.9l-0.1 0.8l-0.7 4.6l-0.5 4.7l0 4.7l0.4 4.6l0.9 4.5l0.1 0.2l1.6 4.7l2.2 4.6l2.4 3.9l0.5 0.8l3.7 4.7l2.1 2.3l2.1 2.3l4.1 4.1l0.7 0.6l5.2 4.7l0.4 0.3l5.4 4.3l0.9 0.7l5.4 4l0.8 0.6l6.3 4.1l6.2 3.4zM191.7 298.5l3.5 1.2l6.2 0.8l6.3-0.4l6.3-1.4l0.4-0.2l5.8-2.4l4-2.3l2.3-1.3l4.6-3.3l1.6-1.1l4.3-3.6l2-1.5l3.5-3.2l2.8-2.3l2.5-2.3l3.7-3.2l1.7-1.5l4.6-3.9l0.9-0.8l5.4-4.4l0.2-0.2l5.9-4.7l0.1-0.1l5.9-4.6l0.4-0.2l5.9-4.4l0.3-0.3l5.9-4.4l0.4-0.3l5.8-4.4l0.5-0.4l5.2-4.2l1-1l4.1-3.7l2.2-2.4l2-2.3l3.1-4.6l1.2-2.7l0.8-2l1-4.7l0.2-4.6l-0.6-4.7l-1.1-4.7l-0.3-1.1l-1.2-3.5l-1.9-4.7l-2.2-4.7l-1-1.9l-1.5-2.7l-2.7-4.7l-2.1-3.3l-0.9-1.4l-3.4-4.6l-1.9-2.5l-1.9-2.2l-4.4-4.6l-0.1-0.1l-5.4-4.6l-0.8-0.6l-6.1-4.1l-0.1-0.1l-6.3-3.3l-2.8-1.3l-3.4-1.4l-6.3-2.3l-2.7-0.9l-3.6-1.1l-6.2-1.8l-6.3-1.5l-1.1-0.3l-5.2-1.1l-6.2-1.3l-6.3-1l-6.2-0.8l-5.5-0.5l-0.8 0l-6.3 0l-0.8 0l-5.4 0.7l-6.3 1.7l-4.5 2.3l-1.8 1l-4.2 3.7l-2 2l-2.1 2.6l-3.1 4.7l-1.1 1.8l-1.4 2.9l-2.1 4.6l-1.8 4.7l-0.9 3.1l-0.5 1.6l-1.1 4.6l-0.8 4.7l-0.5 4.7l-0.3 4.6l0.1 4.7l0.3 4.7l0.6 4.6l0.8 4.7l0.9 4.7l0.5 2l0.6 2.6l1.1 4.7l1.2 4.7l1.2 4.6l1.2 4.7l0.9 4.1l0.1 0.6l1.1 4.6l1 4.7l0.9 4.7l0.8 4.6l0.7 4.7l0.7 4.7l0.6 4.6l0.4 3.3l0.2 1.4l0.7 4.7l1 4.6l1.3 4.7l1.8 4.7l1.2 2.1l2.2 2.5l4.1 3.4zM63.6 60.9l2.9-0.4l3.4-0.5l6.3-0.6l6.2-0.3l6.3-0.2l6.3 0l6.2 0.1l6.3 0.2l6.3 0.1l6.2 0.1l6.3-0.1l6.2-0.4l6.3-1l6.3-1.8l0.5-0.3l5.7-2.7l2.9-1.9l3.4-2.4l2.6-2.3l3.7-3.3l1.2-1.4l4.4-4.6l0.6-0.6l3.7-4.1M351.3 32.5l0.4 0.4l4.2 4.3l2.1 2.1l2.7 2.5l3.6 3.3l1.6 1.4l4.6 3.7l1.4 1l4.9 3.3l2.1 1.3l4.1 2.4l4.4 2.3l1.9 1l6.3 2.8l2 0.9l4.2 1.7l6.3 2.5l1.1 0.4l5.2 2l6.2 2.4l0.7 0.3l5.6 2.2l6.1 2.5l0.1 0l6.3 2.7l4.5 1.9l1.8 0.8l6.2 2.8l2.4 1.1l3.9 1.8l6.1 2.9l0.2 0l6.2 2.9l4.1 1.7l2.2 1l6.2 2.5l3.6 1.2l2.7 1l6.3 1.7l6.2 1.3l6.2 0.7l0.1 0l6.3 0l0.1 0l6.1-0.8l6.3-1.7l5.2-2.2l1-0.5l6.3-3.9l0.4-0.3l5.7-4.6l0.2-0.2l4.6-4.5l1.6-1.7l2.7-3l3.6-4l0.5-0.6l3.8-4.7l2-2.4l1.7-2.3l3.5-4.6l1-1.4l2.4-3.3l3.3-4.7l0.6-0.8l2.5-3.8l3-4.7l0.7-1.2l2.1-3.5l2.7-4.6l1.5-2.6l1.2-2.1"/>
<path stroke="#24878e" d="M297.8 494.5l-2.4-1.8l-4.2-2.9l-2.1-1.4l-5.4-3.2l-0.9-0.6l-6.2-3.1l-2.7-1l-3.6-1.3l-6.2-1.6l-6.3-0.9l-6.3-0.3l-6.2 0l-6.3 0.2l-6.3 0.4l-6.2 0.4l-6.3 0.4l-6.2 0.3l-6.3 0.2l-6.3 0.1l-6.2-0.2l-6.3-0.4l-6.3-0.7l-6.2-1l-1.4-0.3l-4.9-1l-6.2-1.6l-6.3-2l0-0.1l-6.3-2.4l-4.6-2.2l-1.6-0.8l-6.3-3.6l-0.4-0.3l-5.9-4l-0.8-0.6l-5.4-4.6l-0.1-0.1l-4.6-4.7l-1.6-1.7l-2.4-2.9l-3.4-4.7l-0.4-0.7l-2.5-4l-2.5-4.6l-1.3-3l-0.8-1.7l-1.7-4.7l-1.5-4.6l-1.1-4.7l-0.9-4.7l-0.3-1.8l-0.4-2.8l-0.5-4.7l-0.3-4.7l-0.2-4.6l-0.1-4.7l0-4.7l0-4.6l0-4.7l-0.2-4.7l-0.5-4.6l-0.8-4.7l-1.5-4.7l-1.7-3.5l-0.6-1.1l-3.6-4.7l-2.1-2l-2.9-2.7l-3.4-2.3l-3.4-2.3l-2.8-1.7l-5.2-3l-1.1-0.5l-6.3-3.4M557.8 494.5l-5.7-2.2l-5.9-2.5l-0.3-0.1l-6.3-2.7l-4.4-1.8l-1.9-0.9l-6.2-2.6l-3.7-1.2l-2.6-1l-6.2-1.6l-6.3-0.7l-6.3 0.6l-6.2 2l-1.2 0.7l-5.1 2.5l-3.1 2.2l-3.2 1.9l-3.5 2.7l-2.7 1.9l-3.5 2.8M683.6 476.6l-5 3.9l-1.2 0.9l-5.3 3.8l-1 0.6l-6.2 3.8l-0.4 0.2l-5.9 3.2l-3.2 1.5M488 415.2l1.5 0.5l6.3 0.6l6.2-1l0.3-0.1l6-2.5l3.3-2.2l3-1.8l3.5-2.9l2.7-2.1l2.8-2.5l3.5-3.1l1.6-1.6l4.6-4.3l0.4-0.4l4.7-4.6l1.2-1.2l3.3-3.5l3-3l1.5-1.7l4.2-4.6l0.5-0.6l3.4-4.1l2.9-3.7l0.7-1l3.1-4.6l2.5-4.2l0.3-0.5l2.1-4.7l1.7-4.6l1.1-4.7l0.7-4.7l0.1-4.6l-0.4-4.7l-1-4.7l-1.6-4.6l-2.2-4.7l-0.8-1.5l-2.4-3.2l-3.9-4.1l-0.7-0.5l-5.6-3.7l-2.2-1l-4-1.5l-6.3-1.6l-6.3-1l-6.2-0.5l-3.5-0.1l-2.8 0l-6.2 0l-1.6 0l-4.7 0.2l-6.3 0.4l-6.2 0.5l-6.3 0.7l-6.3 0.9l-6.2 1.2l-3 0.8l-3.3 1l-6.2 2.5l-2.4 1.2l-3.9 2.4l-2.9 2.2l-3.4 3.2l-1.2 1.5l-3.5 4.7l-1.5 2.4l-1.3 2.2l-2.2 4.7l-1.9 4.7l-0.9 2.4l-0.7 2.2l-1.3 4.7l-1 4.7l-0.7 4.6l-0.4 4.7l0 4.7l0.6 4.6l1 4.7l1.7 4.7l0.8 1.6l1.6 3l3.1 4.7l1.6 2.1l2.1 2.6l4.1 4.4l0.3 0.2l5.1 4.7l0.9 0.8l4.7 3.9l1.6 1.2l4.8 3.4l1.4 1.1l6 3.6l0.3 0.2l6.2 3zM197.8 293.8l3.6 0.9l6.3 0l4.2-0.9l2.1-0.4l6.2-2.4l3.4-1.8l2.9-1.6l4.6-3.1l1.6-1.1l4.6-3.6l1.7-1.2l4.1-3.4l2.2-1.7l3.5-3l2.7-2.2l2.9-2.5l3.4-2.7l2.4-1.9l3.9-3.1l2-1.6l4.2-3.3l1.8-1.4l4.5-3.4l1.7-1.2l4.5-3.5l1.6-1.2l4.7-3.7l1.3-1l5-4l0.7-0.6l5-4.7l0.5-0.5l3.7-4.2l2.6-3.7l0.6-0.9l2.2-4.7l1.2-4.7l0.4-4.6l-0.4-4.7l-1-4.7l-1.4-4.6l-1.6-4.2l-0.2-0.5l-2.2-4.7l-2.4-4.6l-1.5-2.6l-1.3-2.1l-3.1-4.7l-1.8-2.5l-1.7-2.1l-4-4.7l-0.6-0.6l-4.3-4.1l-2-1.6l-4-3l-2.2-1.6l-5.4-3.1l-0.9-0.5l-6.2-2.9l-3.2-1.3l-3.1-1.1l-6.3-2.1l-5-1.4l-1.2-0.4l-6.3-1.5l-6.3-1.4l-6.2-1.2l-1.5-0.2l-4.8-0.7l-6.2-0.7l-6.3-0.2l-6.3 0.3l-6.2 1l-0.9 0.3l-5.4 2l-4.5 2.7l-1.8 1.2l-3.5 3.4l-2.7 3.2l-1.1 1.5l-2.9 4.7l-2.3 4.3l-0.1 0.3l-1.9 4.7l-1.5 4.7l-1.3 4.6l-0.9 4.7l-0.5 4.2l-0.1 0.5l-0.3 4.6l0.1 4.7l0.2 4.7l0.1 0l0.5 4.6l0.8 4.7l0.9 4.7l1.1 4.6l1.1 4.7l1.2 4.7l0.6 2.6l0.6 2l1.2 4.7l1.2 4.7l1.1 4.6l1 4.7l1 4.7l0.2 1.1l0.7 3.5l1 4.7l0.9 4.7l0.9 4.6l1 4.7l1.1 4.7l0.6 2.3l0.9 2.3l2.4 4.7l3 4.3l0.4 0.4l5.9 3.9zM63.6 59.3l6.3-0.9l6.3-0.6l6.2-0.4l6.3-0.2l6.3-0.1l6.2 0l6.3 0.1l6.3 0l6.2 0l6.3-0.3l6.2-0.7l1.9-0.4l4.4-0.9l6.3-2.1l3.3-1.6l2.9-1.5l4.5-3.2l1.8-1.3l3.8-3.4l2.5-2.2l2.3-2.4l3.9-3.9l0.7-0.8M354 32.5l4 4l0.7 0.7l4.9 4.6l0.7 0.6l4.8 4.1l1.4 1.1l4.9 3.6l1.4 0.9l6 3.7l0.2 0.2l6.3 3.3l2.5 1.2l3.8 1.7l6.2 2.7l0.6 0.3l5.7 2.3l6 2.3l0.3 0.1l6.2 2.5l5.4 2.1l0.9 0.3l6.2 2.6l4.4 1.8l1.9 0.8l6.3 2.7l2.7 1.1l3.5 1.6l6.3 2.9l0.6 0.2l5.7 2.6l4.7 2.1l1.5 0.6l6.3 2.7l3.5 1.3l2.7 1.1l6.3 2.1l5.7 1.5l0.6 0.2l6.2 1.1l6.3 0.6l6.3-0.1l6.2-0.9l3.1-0.9l3.2-0.9l6.2-2.9l1.4-0.9l4.9-3.1l1.9-1.5l4.4-3.7l1-1l4.7-4.7l0.5-0.5l3.8-4.1l2.5-2.9l1.5-1.8l3.8-4.7l1-1.1l2.6-3.5l3.6-4.7l0-0.1l3.3-4.6l3-4.4l0.2-0.2l3-4.7l2.9-4.7l0.1-0.2l2.6-4.4l2.7-4.7"/>
<path stroke="#228b8d" d="M294.2 494.5l-5.1-3.4l-2.1-1.3l-4.2-2.5l-4.3-2.1l-1.9-1l-6.3-2.4l-5-1.3l-1.2-0.3l-6.3-1.1l-6.3-0.5l-6.2-0.1l-6.3 0.1l-6.3 0.3l-6.2 0.3l-6.3 0.4l-6.2 0.2l-6.3 0.2l-6.3 0l-6.2-0.3l-6.3-0.4l-6.3-0.7l-6.2-0.9l-6.3-1.3l-2.1-0.6l-4.1-1l-6.3-2l-4.2-1.6l-2.1-0.9l-6.2-2.9l-1.7-0.9l-4.6-2.6l-3.2-2.1l-3.1-2.1l-3.3-2.5l-2.9-2.5l-2.4-2.2l-3.9-3.9l-0.7-0.8l-3.8-4.6l-1.7-2.4l-1.7-2.3l-2.8-4.7l-1.8-3.4l-0.6-1.2l-2.1-4.7l-1.7-4.7l-1.5-4.6l-0.4-1.7l-0.7-3l-1-4.7l-0.7-4.6l-0.5-4.7l-0.4-4.7l-0.2-4.6l-0.2-4.7l-0.1-4.7l-0.2-4.6l-0.2-4.7l-0.4-4.7l-0.7-4.6l-0.9-4l-0.2-0.7l-1.8-4.7l-2.7-4.6l-1.6-2l-2.3-2.7l-4-3.5l-1.4-1.2l-4.8-3.3l-1.9-1.3l-4.4-2.6l-3.4-2.1l-2.9-1.5M552.3 494.5l-0.2-0.1l-6.2-2.4l-5.6-2.2l-0.7-0.3l-6.3-2.5l-5.3-1.8l-0.9-0.4l-6.3-1.9l-6.2-1.3l-6.3-0.4l-6.3 0.7l-6.2 1.9l-2.7 1.4l-3.6 1.6l-4.9 3l-1.4 0.8l-5.7 3.9M683.6 478.6l-2.3 1.9l-3.9 2.9l-2.6 1.8l-3.7 2.4l-3.5 2.2l-2.7 1.6l-5.9 3.1M488.6 410.5l0.9 0.2l6.3 0.5l4-0.7l2.2-0.4l6.3-2.4l3-1.9l3.3-1.9l3.5-2.7l2.7-2l3.1-2.7l3.2-2.7l2.1-2l4.1-3.7l0.9-0.9l4.8-4.7l0.6-0.6l3.9-4.1l2.4-2.5l1.8-2.1l4.1-4.7l0.3-0.5l3.2-4.2l3.1-4.4l0.1-0.2l2.7-4.7l2.2-4.7l1.3-3.4l0.4-1.2l1.1-4.7l0.6-4.7l0-4.6l-0.5-4.7l-1.1-4.7l-0.5-1.3l-1.4-3.3l-2.8-4.7l-2.1-2.7l-1.9-2l-4.4-3.5l-1.9-1.1l-4.3-2.1l-6.3-2.1l-2.4-0.5l-3.9-0.7l-6.2-0.7l-6.3-0.3l-6.2-0.1l-6.3 0.1l-6.3 0.4l-6.2 0.5l-6.3 0.8l-0.3 0l-6 1l-6.2 1.5l-6.3 2l-0.3 0.2l-5.9 2.8l-3 1.8l-3.3 2.5l-2.4 2.2l-3.9 4.2l-0.3 0.5l-3.1 4.6l-2.6 4.7l-0.2 0.5l-1.8 4.2l-1.6 4.6l-1.4 4.7l-1.1 4.7l-0.4 2.7l-0.3 1.9l-0.3 4.7l0.2 4.7l0.4 3.4l0.2 1.2l1.2 4.7l1.9 4.7l2.4 4.6l0.6 0.9l2.7 3.8l3.5 4.3l0.4 0.4l4.7 4.6l1.2 1.1l4.3 3.6l2 1.6l4.3 3.1l1.9 1.4l5.6 3.2l0.7 0.4l6.2 2.8zM194.2 284.5l1 0.8l6.2 2.8l6.3 0.7l6.3-0.9l6.2-2.1l2.6-1.3l3.7-1.8l4.5-2.9l1.7-1l5-3.6l1.3-0.9l4.9-3.8l1.4-1l4.6-3.7l1.6-1.2l4.3-3.4l2-1.5l4-3.2l2.3-1.7l3.8-3l2.4-1.8l3.7-2.8l2.6-2l3.5-2.7l2.7-2.2l3.2-2.5l3.1-2.6l2.5-2l3.8-3.6l1.2-1.1l4.2-4.7l0.8-1.1l2.5-3.5l2.3-4.7l1.4-4.7l0.1-0.7l0.4-3.9l-0.2-4.7l-0.2-1.2l-0.6-3.5l-1.3-4.6l-1.8-4.7l-2.1-4.7l-0.5-0.9l-1.9-3.7l-2.8-4.7l-1.5-2.3l-1.7-2.4l-3.7-4.6l-0.9-1l-3.5-3.7l-2.8-2.6l-2.4-2.1l-3.8-2.8l-2.8-1.8l-3.5-2.1l-5.1-2.6l-1.1-0.5l-6.3-2.6l-4.5-1.6l-1.8-0.6l-6.2-1.8l-6.3-1.6l-3.1-0.6l-3.2-0.7l-6.2-1.1l-6.3-0.8l-6.2-0.5l-6.3 0l-6.3 0.5l-6.2 1.5l-2.7 1.1l-3.6 1.7l-4.2 2.9l-2.1 1.7l-2.7 3l-3.5 4.6l-0.1 0.1l-2.6 4.6l-2.2 4.7l-1.4 3.6l-0.3 1.1l-1.3 4.6l-1 4.7l-0.7 4.7l-0.3 4.6l0 4.7l0.2 4.7l0.5 4.6l0.8 4.7l0.8 4.7l1.1 4.6l0.2 1.1l0.9 3.6l1.2 4.7l1.3 4.6l1.2 4.7l1.2 4.7l0.5 2l0.7 2.6l1.2 4.7l1.1 4.7l1.1 4.6l1.1 4.7l1 4.4l0.1 0.3l1.4 4.6l1.5 4.7l1.8 4.7l1.5 3l1.1 1.6zM63.6 57.7l6.3-0.9l6.3-0.6l5.1-0.4l1.1-0.1l6.3-0.2l6.3-0.2l6.2 0l6.3-0.1l6.3-0.1l6.2-0.2l6.3-0.5l6.2-0.9l6.3-1.5l2.4-0.8l3.9-1.5l5.9-3.2l0.3-0.2l6.2-4.5l0.1 0l5.2-4.6l1.1-0.9l3.8-3.8M356.6 32.5l1.4 1.4l3.5 3.3l2.8 2.5l2.4 2.1l3.8 3.2l1.9 1.5l4.4 3.2l2.3 1.5l3.9 2.4l3.9 2.2l2.4 1.3l6.3 3.1l0.7 0.3l5.5 2.4l5.4 2.3l0.9 0.3l6.3 2.5l4.5 1.8l1.7 0.7l6.3 2.5l3.8 1.5l2.4 1l6.3 2.6l2.6 1.1l3.7 1.5l6.2 2.7l1 0.4l5.3 2.4l5.3 2.3l1 0.4l6.2 2.7l3.9 1.6l2.4 1l6.2 2.3l4.3 1.3l2 0.7l6.3 1.6l6.2 1.1l6.3 0.4l6.3-0.2l6.2-1l6.3-2l1.2-0.6l5-2.4l3.5-2.2l2.8-1.9l3.4-2.8l2.9-2.4l2.3-2.3l3.9-3.9l0.7-0.7l4.2-4.7l1.4-1.6l2.5-3.1l3.8-4.5l0-0.1l3.6-4.7l2.6-3.5l0.8-1.2l3.2-4.6l2.3-3.3l0.9-1.4l2.9-4.7l2.4-4l0.4-0.6l2.7-4.7"/>
<path stroke="#218f8d" d="M290.3 494.5l-1.2-0.8l-6.3-3.7l-0.3-0.2l-5.9-2.9l-4.4-1.7l-1.9-0.8l-6.2-1.8l-6.3-1.1l-6.3-0.6l-6.2-0.3l-6.3 0l-6.3 0.2l-6.2 0.3l-6.3 0.2l-6.2 0.2l-6.3 0.1l-6.3 0l-6.2-0.3l-6.3-0.4l-3.3-0.4l-3-0.3l-6.2-1l-6.3-1.3l-6.2-1.6l-1.7-0.5l-4.6-1.4l-6.3-2.4l-1.8-0.8l-4.4-2.1l-5-2.6l-1.3-0.8l-6.1-3.9l-0.2-0.1l-5.9-4.5l-0.3-0.3l-4.8-4.4l-1.5-1.5l-2.9-3.2l-3.3-4.1l-0.5-0.5l-3.2-4.7l-2.6-4.4l-0.2-0.3l-2.4-4.6l-2-4.7l-1.7-4.5l0-0.2l-1.5-4.6l-1.2-4.7l-0.9-4.7l-0.7-4.6l-0.6-4.7l-0.5-4.7l-0.3-4.6l-0.2-4.7l-0.3-4.7l0-0.9l-0.3-3.7l-0.4-4.7l-0.6-4.7l-0.9-4.6l-1.4-4.7l-2.1-4.7l-0.6-1l-2.4-3.6l-3.9-4.3l-0.3-0.4l-5.6-4.7l-0.3-0.2l-6.3-4.3l-0.2-0.1l-6.1-3.8M546.5 494.5l-0.6-0.2l-6.3-2.4l-6-2.1l-0.3-0.1l-6.2-2l-6.3-1.7l-5.4-0.8l-0.8-0.2l-6.3-0.2l-2.8 0.4l-3.5 0.4l-6.2 1.8l-5.3 2.4l-1 0.5l-6.3 3.5l-1 0.7M683.6 480.7l-6 4.5l-0.2 0.1l-6.3 4.2l-0.5 0.3l-5.7 3.4l-2.5 1.3M488.9 405.8l0.6 0.2l6.3 0.3l2.7-0.5l3.5-0.6l6.3-2.4l2.9-1.6l3.4-1.9l3.7-2.8l2.5-1.8l3.5-2.9l2.8-2.3l2.6-2.3l3.6-3.4l1.4-1.3l4.7-4.7l0.2-0.2l4.1-4.4l2.2-2.5l1.8-2.2l3.7-4.7l0.7-1l2.5-3.6l2.7-4.7l1.1-2.2l1.1-2.5l1.7-4.6l1.1-4.7l0.5-4.7l-0.1-4.6l-0.7-4.7l-1.4-4.7l-2.2-4.6l-3.5-4.7l-2.8-2.7l-2.5-2l-3.7-2.2l-5.6-2.4l-0.7-0.3l-6.3-1.5l-6.2-1l-6.3-0.5l-6.2-0.2l-6.3 0.1l-6.3 0.4l-6.2 0.5l-6.3 0.9l-6.3 1.2l-1.6 0.4l-4.6 1.3l-6.3 2.4l-1.9 0.9l-4.3 2.5l-3 2.2l-3.3 2.9l-1.7 1.8l-3.6 4.6l-1 1.4l-1.8 3.3l-2.3 4.7l-1.9 4.6l-0.2 0.8l-1.2 3.9l-1 4.7l-0.7 4.6l-0.2 4.7l0.2 4.7l0.7 4.6l1.3 4.7l0.9 2.1l1.1 2.6l2.7 4.6l2.4 3.4l1 1.3l4.3 4.7l1 1l4.1 3.6l2.2 1.8l3.9 2.9l2.3 1.6l5.3 3.1l1 0.6l6.2 2.6zM199.6 279.8l1.8 1.2l6.3 1.5l6.3-0.3l6.2-1.7l1.5-0.7l4.8-2.1l4.4-2.5l1.8-1l5.5-3.7l0.8-0.5l5.8-4.2l0.5-0.3l5.8-4.3l0.4-0.3l5.8-4.4l0.5-0.4l5.6-4.3l0.7-0.4l5.5-4.2l0.7-0.6l5.3-4.1l1-0.7l4.9-4l1.3-1.1l4.3-3.5l2-1.9l3-2.8l3.3-3.6l0.9-1.1l3.4-4.6l1.9-3.7l0.5-1l1.6-4.7l0.6-4.6l0-4.7l-0.7-4.7l-1.2-4.6l-0.8-2.1l-0.9-2.6l-2.1-4.7l-2.5-4.6l-0.7-1.3l-2.2-3.4l-3.3-4.7l-0.8-1l-3.1-3.6l-3.2-3.3l-1.5-1.4l-4.7-4l-1-0.7l-5.3-3.4l-2.1-1.2l-4.1-2.2l-5.7-2.5l-0.6-0.3l-6.3-2.2l-6.2-1.9l-1.1-0.3l-5.2-1.3l-6.3-1.3l-6.2-1l-6.3-0.7l-5.8-0.3l-0.4-0.1l-0.9 0.1l-5.4 0.1l-6.3 0.9l-6.2 1.9l-3.5 1.7l-2.8 1.6l-3.7 3.1l-2.6 2.5l-1.7 2.2l-3.3 4.6l-1.2 2.2l-1.2 2.5l-1.9 4.7l-1.6 4.6l-1.1 4.7l-0.5 3l-0.2 1.7l-0.4 4.6l-0.1 4.7l0.2 4.7l0.5 4.6l0 0.3l0.7 4.4l0.9 4.7l1 4.6l1.2 4.7l1.2 4.7l1.2 4.6l0.1 0.3l1.2 4.4l1.4 4.7l1.2 4.6l1.3 4.7l1.1 4.3l0.1 0.4l1.5 4.6l1.4 4.7l1.5 4.7l1.7 4.6l0.1 0.4l2.2 4.3l3.1 4.7l1 1.3zM63.6 56.1l2.1-0.3l4.2-0.6l6.3-0.7l6.2-0.4l6.3-0.4l6.3-0.2l6.2-0.1l6.3-0.2l6.3-0.2l6.2-0.3l6.3-0.7l4.8-0.8l1.4-0.3l6.3-1.7l6.3-2.6l0.2-0.1l6-3.4l1.8-1.3l4.5-3.2l1.6-1.4l4.7-4.1l0.6-0.6M359.4 32.5l4.9 4.6l0.1 0.1l5.4 4.6l0.7 0.7l5.3 4l1 0.7l6 4l0.2 0.1l6.3 3.6l1.8 0.9l4.5 2.3l5.3 2.4l0.9 0.4l6.3 2.7l3.9 1.6l2.4 0.9l6.2 2.5l3.1 1.2l3.2 1.3l6.2 2.5l2.3 0.9l4 1.7l6.3 2.6l0.9 0.4l5.3 2.2l5.6 2.4l0.7 0.3l6.3 2.7l4.1 1.7l2.1 0.9l6.3 2.5l3.7 1.3l2.5 0.9l6.3 1.9l6.3 1.5l2.1 0.3l4.1 0.7l6.3 0.4l6.3-0.4l3.7-0.7l2.5-0.4l6.3-2.1l4.3-2.1l1.9-1l5.5-3.7l0.8-0.5l5-4.2l1.3-1.1l3.6-3.5l2.6-2.7l1.9-2l4.1-4.7l0.3-0.3l3.6-4.3l2.7-3.3l1-1.4l3.5-4.7l1.7-2.3l1.6-2.3l3.2-4.7l1.5-2.3l1.5-2.4l2.9-4.6l1.8-3.2l0.9-1.5"/>
<path stroke="#20928c" d="M286.2 494.5l-3.4-1.9l-5.5-2.8l-0.7-0.3l-6.3-2.6l-6.1-1.7l-0.1-0.1l-6.3-1.3l-6.3-0.7l-6.2-0.4l-6.3-0.1l-6.3 0.1l-6.2 0.2l-6.3 0.2l-6.2 0.1l-6.3 0.1l-6.3-0.1l-6.2-0.3l-6.3-0.5l-6.3-0.7l-6.2-0.9l-1.3-0.3l-5-1l-6.2-1.6l-6.3-1.9l-0.4-0.2l-5.9-2.1l-5.6-2.5l-0.6-0.3l-6.3-3.3l-1.8-1.1l-4.5-2.9l-2.5-1.8l-3.7-2.9l-2.1-1.7l-4.2-3.9l-0.8-0.8l-4.3-4.7l-1.1-1.4l-2.5-3.2l-3.2-4.7l-0.6-1l-2.2-3.7l-2.3-4.6l-1.8-4.1l-0.2-0.6l-1.8-4.7l-1.4-4.6l-1.2-4.7l-0.9-4.7l-0.7-4.1l-0.1-0.5l-0.7-4.7l-0.5-4.7l-0.4-4.6l-0.3-4.7l-0.4-4.7l-0.4-4.6l-0.5-4.7l-0.8-4.7l-1.2-4.6l-1-3l-0.6-1.7l-2.4-4.7l-3.3-4.5l0-0.1l-4.5-4.7l-1.7-1.5l-3.9-3.2l-2.4-1.6l-4.4-3l-1.9-1.2M540 494.5l-0.4-0.1l-6.3-2.1l-6.2-1.8l-3-0.7l-3.3-0.8l-6.2-0.8l-6.3-0.1l-6.3 0.9l-2.8 0.8l-3.4 1l-6.3 2.7l-1.8 1M683.6 482.7l-3.3 2.5l-2.9 2l-3.9 2.6l-2.4 1.5l-5.4 3.2M489.1 401.2l0.4 0.1l6.3 0.2l2-0.3l4.2-0.8l6.3-2.3l2.9-1.6l3.4-1.9l3.9-2.8l2.3-1.5l3.8-3.1l2.5-2.1l2.8-2.6l3.4-3.1l1.6-1.6l4.6-4.6l0.1-0.2l3.9-4.5l2.4-2.9l1.4-1.8l3.2-4.6l1.6-2.7l1.2-2l2.1-4.7l1.7-4.6l1.1-4.7l0.2-2.3l0.2-2.4l-0.2-4.6l-1-4.7l-1.8-4.7l-2.8-4.6l-0.7-0.9l-3.8-3.8l-2.4-1.9l-5-2.8l-1.3-0.5l-6.3-2.1l-6.2-1.3l-6.3-0.7l-0.5 0l-5.7-0.3l-6.3 0l-4.8 0.3l-1.5 0l-6.2 0.7l-6.3 1l-6.3 1.4l-5.2 1.5l-1 0.4l-6.3 2.8l-2.5 1.5l-3.7 2.6l-2.4 2.1l-3.9 4l-0.5 0.6l-3.2 4.7l-2.6 4.5l0 0.2l-1.9 4.6l-1.5 4.7l-1.1 4.7l-0.7 4.6l-0.2 4.7l0.3 4.7l0.8 4.6l1.5 4.7l2.1 4.7l0.7 1.2l2.3 3.4l3.7 4.7l0.3 0.4l4.4 4.3l1.9 1.6l3.9 3l2.3 1.7l5.1 3l1.2 0.7l6.2 2.6zM205.8 275.2l1.9 0.7l6.3 0.4l5.7-1.1l0.5-0.1l6.3-2.4l4.2-2.2l2-1l6.1-3.7l0.2-0.1l6.3-4.2l0.4-0.3l5.8-4.1l0.8-0.6l5.5-4l0.9-0.7l5.4-4l0.8-0.6l5.4-4.1l0.8-0.6l5.5-4.4l0.4-0.3l5.5-4.6l0.3-0.3l4.7-4.4l1.6-1.7l2.7-3l3.5-4.6l0.1-0.2l2.4-4.5l1.7-4.7l0.8-4.6l0-4.7l-0.5-4.7l-1.2-4.6l-1.6-4.7l-1.6-3.7l-0.5-1l-2.5-4.6l-2.9-4.7l-0.4-0.5l-3.2-4.2l-3.1-3.5l-1-1.1l-5-4.7l-0.2-0.2l-6.2-4.5l-0.1 0l-6.2-3.6l-2.1-1l-4.2-1.9l-6.3-2.4l-1.1-0.4l-5.1-1.6l-6.3-1.6l-6.3-1.3l-1.2-0.2l-5-0.7l-6.3-0.6l-6.2-0.1l-6.3 0.4l-5.6 1l-0.7 0.2l-6.2 2.3l-3.7 2.2l-2.6 1.8l-3 2.9l-3.3 3.7l-0.6 0.9l-2.9 4.7l-2.2 4.7l-0.5 1.2l-1.2 3.4l-1.2 4.7l-0.9 4.7l-0.4 4.6l-0.2 4.7l0.2 4.7l0.4 4.6l0.7 4.7l0.9 4.7l0.9 4.6l0.8 3.1l0.4 1.6l1.3 4.7l1.3 4.6l1.3 4.7l1.4 4.7l0.5 2l0.9 2.6l1.5 4.7l1.5 4.7l1.6 4.6l0.8 2.4l1 2.3l2.2 4.7l2.5 4.6l0.6 1.1l3.2 3.6l3 2.7zM63.6 54.5l6.3-0.9l6.3-0.7l6.2-0.5l6.3-0.4l6.3-0.3l6.2-0.2l6.3-0.2l1.9-0.1l4.4-0.3l6.2-0.5l6.3-0.8l6.2-1.3l6-1.8l0.3-0.1l6.3-2.7l3.2-1.9l3-1.8l4-2.8l2.3-1.8l3.4-2.9M362.2 32.5l2.1 2l3 2.7l3.2 2.7l2.5 1.9l3.8 2.9l2.5 1.8l3.7 2.5l3.7 2.2l2.6 1.5l6.1 3.1l0.2 0.1l6.2 3l3.7 1.6l2.6 1.1l6.3 2.6l2.4 1l3.8 1.5l6.3 2.5l1.6 0.6l4.6 1.9l6.3 2.5l0.7 0.3l5.6 2.3l5.6 2.4l0.6 0.2l6.3 2.7l4.3 1.7l2 0.9l6.2 2.5l3.5 1.3l2.8 1.1l6.2 2.1l5.1 1.5l1.2 0.3l6.3 1.4l6.2 0.9l6.3 0.3l6.3-0.5l6.2-1.2l3.5-1.2l2.8-1l6.2-3.3l0.7-0.4l5.6-3.8l1-0.9l5.3-4.4l0.2-0.2l4.7-4.7l1.3-1.3l3-3.4l3.3-3.6l0.8-1l3.8-4.7l1.7-2.1l1.9-2.6l3.4-4.6l0.9-1.3l2.4-3.4l3.1-4.7l0.8-1.2l2.1-3.4l2.8-4.7"/>
<path stroke="#1f958b" d="M281.6 494.5l-5-2.5l-5.3-2.2l-1-0.4l-6.2-1.9l-6.3-1.3l-6.3-0.9l-1.8-0.1l-4.4-0.4l-6.3-0.2l-6.3 0l-6.2 0.1l-6.3 0.1l-6.2 0.1l-6.3 0l-6.3-0.1l-6.2-0.3l-6.3-0.5l-6.3-0.7l-6.2-1l-6.3-1.2l-2.3-0.6l-3.9-1l-6.3-1.9l-4.9-1.8l-1.4-0.5l-6.2-2.7l-2.9-1.4l-3.4-1.8l-4.8-2.9l-1.5-1l-5.2-3.7l-1-0.8l-4.6-3.8l-1.7-1.6l-3.1-3.1l-3.1-3.5l-1.1-1.2l-3.5-4.6l-1.7-2.5l-1.5-2.2l-2.7-4.7l-2.1-4.2l-0.2-0.4l-2-4.7l-1.7-4.7l-1.4-4.6l-0.9-3.7l-0.3-1l-1-4.7l-0.8-4.6l-0.7-4.7l-0.6-4.7l-0.4-4.6l-0.5-4.7l-0.5-4.7l-0.5-4.6l-0.7-4.7l-0.3-1.5l-0.7-3.2l-1.3-4.6l-1.9-4.7l-2.4-4.1l-0.3-0.6l-3.5-4.6l-2.4-2.5l-2.3-2.2l-4-3.2l-1.7-1.5l-4.6-3.1M532.1 494.5l-5-1.4l-6.3-1.2l-6.2-0.7l-6.3 0.1l-6.3 0.9l-6.2 1.8l-1.3 0.5M683.6 484.7l-0.6 0.5l-5.6 4l-1 0.6l-5.3 3.4l-2.3 1.3M489.5 396.5l6.3 0.2l1.2-0.2l5-0.8l6.3-2.3l2.8-1.6l3.5-1.8l4-2.8l2.2-1.6l3.9-3.1l2.4-2l2.9-2.7l3.3-3.2l1.4-1.4l4.4-4.7l0.5-0.6l3.2-4.1l3.1-4.2l0.3-0.4l2.7-4.7l2.2-4.7l1-2.8l0.7-1.8l0.9-4.7l0.3-4.7l-0.4-4.6l-1.2-4.7l-0.3-0.6l-2.1-4.1l-3.6-4.6l-0.5-0.5l-5.6-4.2l-0.7-0.4l-6.3-2.6l-5.9-1.7l-0.3 0l-6.3-1l-6.2-0.4l-6.3-0.1l-6.3 0.3l-6.2 0.7l-3.4 0.5l-2.9 0.6l-6.3 1.6l-6.2 2.2l-0.6 0.3l-5.7 3.1l-2.2 1.6l-4 3.3l-1.4 1.3l-3.8 4.7l-1.1 1.6l-1.8 3.1l-2.1 4.6l-1.7 4.7l-0.7 2.5l-0.5 2.2l-0.6 4.6l-0.2 4.7l0.4 4.7l0.9 4.6l0 0.1l1.7 4.6l2.4 4.7l2.2 3.3l1 1.3l4.2 4.7l1.1 1l4.3 3.7l1.9 1.4l5.3 3.2l1 0.6l6.2 2.6zM202.5 265.8l5.2 3.2l6.3 1.2l6.2-0.7l6.3-1.8l3.9-1.9l2.3-1l6.3-3.4l0.3-0.2l6-3.7l1.3-1l4.9-3.3l1.9-1.4l4.4-3l2.2-1.6l4.1-3l2.1-1.7l4.1-3.2l1.9-1.5l4.4-3.6l1.2-1l5-4.7l0.1 0l4.3-4.7l1.9-2.4l1.6-2.2l2.7-4.7l1.8-4.7l0.2-0.7l0.7-3.9l0.2-4.7l-0.4-4.7l-0.5-2.2l-0.6-2.4l-1.6-4.7l-2.1-4.7l-2-3.7l-0.5-0.9l-3.2-4.7l-2.6-3.4l-1-1.3l-4.5-4.6l-0.7-0.7l-4.9-4l-1.4-1l-5.7-3.7l-0.5-0.3l-6.3-3.1l-3-1.2l-3.3-1.3l-6.2-2l-5.2-1.4l-1.1-0.3l-6.3-1.2l-6.2-0.9l-6.3-0.4l-6.2 0l-6.3 0.7l-6.3 1.5l-1.3 0.6l-4.9 2.3l-3.4 2.4l-2.9 2.4l-2 2.2l-3.5 4.7l-0.8 1.2l-1.8 3.5l-1.9 4.6l-1.4 4.7l-1 4.7l-0.1 0.6l-0.5 4l-0.2 4.7l0.1 4.7l0.4 4.6l0.2 1.5l0.4 3.2l0.9 4.7l1.1 4.6l1.1 4.7l1.3 4.7l1.3 4.6l0.1 0.5l1.4 4.2l1.5 4.7l1.6 4.6l1.6 4.7l0.2 0.6l1.7 4.1l2.1 4.6l2.2 4.7l0.3 0.5l2.9 4.2l3.3 3.9zM63.6 52.9l6.3-0.9l6.3-0.7l1-0.1l5.2-0.5l6.3-0.4l6.3-0.4l6.2-0.3l6.3-0.3l6.3-0.5l6.2-0.6l6.3-1l3.1-0.7l3.1-0.7l6.3-2.1l4.1-1.9l2.2-1l6-3.6l0.2-0.2l6.2-4.5M365 32.5l5.3 4.7l0.2 0.1l5.7 4.5l0.6 0.5l6.1 4.2l0.1 0.1l6.3 3.8l1.3 0.8l5 2.6l4.1 2l2.1 1l6.3 2.8l2.1 0.9l4.2 1.7l6.2 2.6l1 0.4l5.3 2.1l6.2 2.5l0.2 0l6.1 2.5l5.4 2.2l0.9 0.3l6.2 2.6l4.3 1.8l2 0.8l6.3 2.5l3.4 1.3l2.8 1.2l6.3 2.3l3.8 1.2l2.4 0.8l6.3 1.8l6.3 1.3l6.2 0.8l0.4 0l5.9 0.1l1.8-0.1l4.5-0.4l6.2-1.4l6.3-2.4l1-0.5l5.2-2.8l2.8-1.9l3.5-2.4l2.6-2.2l3.7-3.2l1.5-1.5l4.7-4.7l4.2-4.6l2.1-2.4l1.9-2.3l3.7-4.7l0.7-0.8l2.8-3.8l3.3-4.7l0.1-0.1l3.1-4.6l3-4.6l0.2-0.3l2.6-4.4"/>
<path stroke="#1f998a" d="M276.6 494.5l-6.3-2.6l-6.2-2l-0.4-0.1l-5.9-1.3l-6.3-1l-6.2-0.6l-6.3-0.3l-6.3 0l-6.2 0l-6.3 0l-6.2 0l-6.3 0l-6.3-0.2l-6.2-0.3l-6.3-0.5l-3.6-0.4l-2.7-0.3l-6.2-1l-6.3-1.2l-6.2-1.6l-2.1-0.6l-4.2-1.3l-6.3-2.2l-2.7-1.2l-3.5-1.5l-6.3-3.1l-6.3-3.8l-1.4-0.9l-4.8-3.4l-1.6-1.3l-4.7-4l-0.7-0.6l-4.7-4.7l-0.8-0.9l-3.2-3.8l-3.1-4l-0.4-0.6l-3.1-4.7l-2.6-4.7l-0.2-0.2l-2.1-4.4l-2-4.7l-1.7-4.7l-0.4-1.4l-1.1-3.2l-1.2-4.7l-1-4.7l-0.9-4.6l-0.7-4.7l-0.6-4.7l-0.5-4.6l-0.3-2.4l-0.3-2.3l-0.5-4.7l-0.7-4.6l-0.9-4.7l-1.1-4.7l-1.6-4.6l-1.2-2.7l-0.9-2l-2.9-4.7l-2.4-3l-1.4-1.6l-4.8-4.7l-0.1 0l-5.7-4.7l-0.6-0.3M518.6 494.5l-4-0.4l-6.3 0.2l-1.4 0.2M683.6 486.7l-4.4 3.1l-1.8 1.3l-5.4 3.4M476.7 387.2l0.3 0.1l6.2 2.7l6.3 1.6l6.3 0.2l6.2-1.1l6.3-2.2l2.5-1.3l3.8-2.1l3.8-2.6l2.4-1.7l3.6-3l2.7-2.3l2.4-2.3l3.8-3.8l0.8-0.9l3.9-4.7l1.6-2l1.8-2.6l2.9-4.7l1.6-3.3l0.6-1.4l1.5-4.6l0.9-4.7l0.1-4.7l-0.7-4.6l-1.7-4.7l-0.7-1.4l-2.3-3.3l-4-3.8l-1.1-0.8l-5.2-2.9l-4.8-1.8l-1.4-0.4l-6.3-1.3l-6.2-0.6l-6.3-0.2l-6.3 0.3l-6.2 0.7l-6.3 1.2l-1.1 0.3l-5.2 1.6l-6.2 2.7l-0.8 0.4l-5.5 3.6l-1.3 1l-4.7 4.7l-0.2 0.3l-3 4.4l-2.6 4.6l-0.7 1.7l-1.1 3l-1.2 4.7l-0.6 4.6l-0.2 4.7l0.5 4.7l1.1 4.6l1.5 3.9l0.3 0.8l2.8 4.7l3.2 4.1l0.4 0.5l5 4.7l0.8 0.7zM206.8 261.2l0.9 0.6l6.3 2.1l6.2 0l6.3-1.4l3.4-1.3l2.8-1.1l6.3-3.1l0.8-0.5l5.5-3.2l2.2-1.5l4-2.6l3-2l3.3-2.3l3.3-2.4l3-2.2l3.1-2.5l3.1-2.5l2.6-2.1l3.7-3.4l1.4-1.3l4.5-4.7l0.3-0.4l3.3-4.2l2.8-4.7l0.2-0.4l1.7-4.3l1.1-4.6l0.3-4.7l-0.4-4.7l-1-4.6l-1.5-4.7l-0.2-0.3l-2-4.4l-2.6-4.6l-1.7-2.5l-1.6-2.2l-3.9-4.7l-0.7-0.7l-4.3-3.9l-2-1.7l-4.2-3l-2-1.3l-6.2-3.4l-0.1 0l-6.3-2.7l-5.6-1.9l-0.6-0.2l-6.3-1.7l-6.3-1.2l-6.2-0.8l-6.3-0.4l-6.2 0.3l-6.3 1l-6.3 2l-1.9 1l-4.3 2.5l-2.6 2.1l-3.7 3.8l-0.7 0.9l-3 4.7l-2.4 4.6l-0.2 0.5l-1.4 4.2l-1.1 4.7l-0.7 4.6l-0.3 4.7l0.1 4.7l0.3 4.6l0.6 4.7l0.9 4.7l1 4.6l0.6 2.9l0.5 1.8l1.4 4.7l1.5 4.6l1.5 4.7l1.4 4.2l0.2 0.5l1.9 4.6l2 4.7l2.1 4.7l0.1 0.1l2.7 4.5l3.3 4.7l0.2 0.3zM63.6 51.3l0.9-0.1l5.4-0.9l6.3-0.7l6.2-0.6l6.3-0.5l6.3-0.4l6.2-0.4l6.3-0.4l6.3-0.6l1.8-0.2l4.4-0.6l6.3-1.1l6.2-1.6l4-1.4l2.3-0.8l6.3-3l1.3-0.8l4.9-3.1l2.2-1.6M367.9 32.5l2.6 2.3l3 2.4l3.3 2.6l2.8 2l3.4 2.4l3.6 2.3l2.7 1.6l5.4 3.1l0.9 0.4l6.2 3.1l2.4 1.1l3.9 1.8l6.3 2.7l0.5 0.2l5.7 2.3l5.8 2.4l0.5 0.2l6.2 2.4l5 2l1.3 0.5l6.3 2.6l4.1 1.6l2.1 0.9l6.3 2.5l3.2 1.3l3.1 1.2l6.2 2.4l3.1 1l3.2 1.2l6.2 1.9l6 1.6l0.3 0.1l6.3 1.2l6.2 0.7l6.3 0l6.3-0.6l5.7-1.4l0.5-0.1l6.3-2.5l3.9-2.1l2.3-1.3l4.8-3.3l1.5-1.1l4.2-3.6l2.1-1.8l2.9-2.9l3.3-3.3l1.2-1.3l4.1-4.7l1-1.1l2.9-3.6l3.4-4.3l0.2-0.3l3.4-4.7l2.6-3.7l0.7-1l3-4.6l2.6-4.1l0.4-0.6"/>
<path stroke="#1e9c89" d="M270.8 494.5l-0.5-0.2l-6.2-2l-6.3-1.6l-5.4-0.9l-0.9-0.1l-6.2-0.7l-6.3-0.4l-6.3-0.1l-6.2-0.1l-6.3 0l-6.2 0l-6.3-0.1l-6.3-0.2l-6.2-0.4l-6.3-0.5l-6.3-0.8l-6.2-0.9l-1.6-0.3l-4.7-1l-6.2-1.5l-6.3-1.8l-1-0.4l-5.3-1.9l-6.2-2.6l-0.4-0.2l-5.9-2.9l-3.2-1.7l-3.1-1.9l-4.2-2.8l-2-1.4l-4.2-3.3l-2.1-1.8l-3.1-2.8l-3.1-3.2l-1.5-1.5l-3.9-4.7l-0.9-1.2l-2.5-3.4l-3-4.7l-0.8-1.3l-1.8-3.4l-2.3-4.6l-2-4.7l-0.1-0.5l-1.6-4.2l-1.4-4.6l-1.3-4.7l-1-4.7l-0.9-4.6l-0.1-0.8l-0.7-3.9l-0.6-4.7l-0.7-4.6l-0.6-4.7l-0.7-4.7l-0.8-4.6l-1-4.7l-1.2-4.2l-0.1-0.5l-1.8-4.6l-2.3-4.7l-2-3.1l-1.1-1.6l-4-4.6l-1.2-1.2l-3.7-3.5l-2.6-2M683.6 488.7l-1.6 1.1l-4.6 3.2l-2.4 1.5M478.6 382.5l4.6 2.2l6.3 1.6l6.3 0.3l6.2-1l6.3-2.2l1.6-0.9l4.7-2.5l3-2.2l3.2-2.3l2.7-2.3l3.6-3.2l1.4-1.5l4.3-4.7l0.5-0.7l2.9-3.9l3-4.7l0.4-0.8l1.7-3.9l1.5-4.6l0.8-4.7l-0.2-4.7l-1.1-4.6l-2.3-4.7l-0.4-0.6l-4-4.1l-2.3-1.6l-5.8-3l-0.4-0.2l-6.3-1.7l-6.2-0.9l-6.3-0.3l-6.3 0.2l-6.2 0.8l-6.3 1.4l-2.1 0.7l-4.2 1.5l-6.1 3.1l-0.1 0.1l-5.9 4.6l-0.4 0.4l-3.6 4.3l-2.6 4l-0.4 0.6l-1.9 4.7l-1.4 4.7l-0.7 4.6l-0.1 4.7l0.6 4.7l1.4 4.6l2.1 4.7l0.4 0.6l2.9 4.1l3.3 3.6l1.2 1l5.1 3.8zM211.7 256.5l2.3 1l6.2 0.7l6.3-0.9l2.3-0.8l3.9-1.2l6.3-2.8l1.1-0.7l5.2-2.8l2.9-1.8l3.3-2.1l3.8-2.6l2.5-1.7l4-3l2.3-1.7l3.6-2.9l2.6-2.3l2.7-2.4l3.6-3.6l1-1.1l3.7-4.6l1.5-2.4l1.4-2.3l2.1-4.7l1.2-4.6l0.4-4.7l-0.3-4.7l-1-4.6l-1.6-4.7l-2.1-4.7l-0.1-0.1l-2.7-4.5l-3.4-4.7l-0.1-0.2l-4.3-4.5l-2-1.8l-3.4-2.8l-2.8-2l-4.4-2.7l-1.9-1.1l-6.3-2.8l-1.9-0.8l-4.3-1.5l-6.3-1.7l-6.3-1.2l-1.5-0.2l-4.7-0.6l-6.3-0.1l-6.2 0.4l-1.4 0.3l-4.9 1.1l-6.3 2.5l-1.7 1l-4.5 3.3l-1.4 1.4l-3.9 4.7l-1 1.5l-1.7 3.1l-1.9 4.7l-1.4 4.7l-0.8 4.6l-0.5 4.5l0 0.2l0 4.7l0 0.7l0.3 3.9l0.6 4.7l0.9 4.7l1 4.6l1.3 4.7l1.3 4.7l0.9 2.8l0.7 1.8l1.7 4.7l1.9 4.7l2 4.5l0 0.1l2.6 4.7l2.9 4.7l0.7 1.1l3.4 3.5l2.9 2.7zM63.6 49.6l6.3-0.9l6.3-0.8l6.2-0.6l6.3-0.5l3.4-0.3l2.9-0.2l6.2-0.5l6.3-0.5l6.3-0.7l6.2-0.9l6.3-1.3l2.2-0.6l4-1.1l6.3-2.4l2.3-1.1l4-2l4.3-2.7M370.9 32.5l5.7 4.7l0.2 0.1l6.2 4.5l0.1 0l6.2 4l1.1 0.7l5.2 2.9l3.4 1.8l2.8 1.4l6.3 2.9l0.7 0.3l5.6 2.4l5.3 2.3l0.9 0.4l6.3 2.5l4.4 1.8l1.8 0.7l6.3 2.5l3.7 1.4l2.6 1.1l6.2 2.5l3 1.1l3.3 1.3l6.3 2.4l2.6 1l3.6 1.3l6.3 2.2l3.9 1.1l2.3 0.8l6.3 1.5l6.3 1.1l6.2 0.6l6.3 0l6.3-0.8l6.2-1.6l3.9-1.6l2.4-0.9l6.2-3.6l0.3-0.1l6-4.3l0.4-0.4l5.4-4.7l0.5-0.4l4.2-4.2l2-2.1l2.4-2.6l3.9-4.5l0.1-0.2l3.7-4.6l2.5-3.2l1.1-1.5l3.3-4.7l1.8-2.7l1.3-1.9l3-4.7"/>
<path stroke="#1fa088" d="M263.7 494.5l-5.9-1.5l-6.3-1.1l-6.2-0.8l-6.3-0.4l-6.3-0.3l-6.2-0.1l-6.3-0.1l-6.2-0.1l-6.3-0.2l-2.8-0.1l-3.5-0.1l-6.2-0.4l-6.3-0.5l-6.3-0.8l-6.2-0.9l-6.3-1.3l-2.7-0.6l-3.5-0.9l-6.3-1.8l-5.8-2l-0.5-0.2l-6.2-2.5l-4.1-2l-2.2-1.1l-6.3-3.5l-6.2-4.1l-0.8-0.6l-5.5-4.3l-0.5-0.4l-5-4.6l-0.7-0.8l-3.7-3.9l-2.6-3.1l-1.3-1.6l-3.3-4.6l-1.7-2.6l-1.3-2.1l-2.6-4.7l-2.2-4.6l-0.1-0.4l-1.8-4.3l-1.7-4.7l-1.5-4.6l-1.2-4.7l-0.1-0.3l-1-4.4l-0.9-4.6l-0.9-4.7l-0.7-4.7l-0.7-4.6l-0.7-4.7l-0.8-4.7l-0.6-2.9l-0.3-1.7l-1.2-4.7l-1.5-4.7l-1.9-4.6l-1.3-2.5l-1.3-2.2l-3.3-4.7l-1.7-1.9l-2.4-2.7l-3.9-3.6M683.6 490.7l-5.6 3.8M481.7 377.8l1.5 0.9l6.3 1.9l6.3 0.4l6.2-1l6.3-2.2l6.3-3.5l1.5-1.1l4.7-3.6l1.2-1.1l4.7-4.7l0.4-0.4l3.3-4.2l2.9-4.5l0.2-0.2l2.1-4.7l1.4-4.6l0.5-4.7l-0.5-4.7l-1.7-4.6l-2-2.8l-1.7-1.9l-4.5-3.3l-2.8-1.4l-3.5-1.3l-6.2-1.3l-6.3-0.5l-6.3 0.2l-6.2 0.9l-6.3 1.6l-1.2 0.4l-5.1 2.3l-3.9 2.4l-2.3 1.7l-3.1 3l-3.2 3.9l-0.5 0.7l-2.3 4.7l-1.5 4.7l-0.8 4.6l-0.1 4.7l0.9 4.7l1.6 4.6l2.6 4.7l0.1 0.1l4.2 4.6l2.1 1.7zM218.2 251.8l2 0.4l6.3-0.3l0.2-0.1l6-1.5l6.3-2.5l1.1-0.6l5.2-2.7l3.3-2l2.9-1.8l4.3-2.9l2-1.4l4.3-3.2l2-1.6l3.5-3.1l2.7-2.6l2.1-2.1l3.9-4.6l0.3-0.4l2.7-4.3l2.2-4.7l1.3-4.5l0.1-0.1l0.5-4.7l-0.2-4.7l-0.4-1.6l-0.6-3l-1.6-4.7l-2.2-4.7l-1.8-2.9l-1.2-1.7l-3.7-4.7l-1.4-1.4l-3.4-3.3l-2.8-2.2l-3.5-2.4l-2.8-1.8l-5.7-2.9l-0.6-0.2l-6.2-2.4l-6.3-1.8l-1.3-0.3l-5-0.9l-6.2-0.6l-6.3-0.1l-6.2 0.8l-3.4 0.8l-2.9 0.9l-6.3 3.2l-0.8 0.6l-5.2 4.7l-0.2 0.2l-3.1 4.4l-2.4 4.7l-0.8 2.1l-0.8 2.6l-1 4.6l-0.5 4.7l-0.2 4.7l0.3 4.6l0.5 4.7l0.8 4.7l0.9 4.1l0.1 0.5l1.4 4.7l1.5 4.7l1.7 4.6l1.6 4.1l0.3 0.6l2.3 4.7l2.5 4.6l1.1 1.9l2.3 2.8l4 4.5l0.2 0.2l6.1 3.6zM63.6 48l6.3-1l4.2-0.5l2.1-0.3l6.2-0.7l6.3-0.5l6.3-0.6l6.2-0.5l6.3-0.6l6.3-0.8l4.1-0.7l2.1-0.3l6.3-1.4l6.2-1.9l2.6-1l3.7-1.5l6.1-3.2M374 32.5l2.8 2.3l3.2 2.4l3 2.2l3.7 2.4l2.6 1.7l5.1 3l1.2 0.7l6.2 3.3l1.5 0.7l4.8 2.2l5.3 2.4l1 0.4l6.2 2.7l4 1.6l2.3 0.9l6.2 2.5l3.2 1.3l3.1 1.2l6.3 2.5l2.5 0.9l3.7 1.5l6.3 2.4l2.1 0.8l4.2 1.6l6.2 2.2l2.7 0.9l3.6 1.2l6.2 1.8l6.3 1.4l1.4 0.2l4.9 0.8l6.2 0.5l6.3-0.1l6.3-0.9l1-0.3l5.2-1.4l6.3-2.6l1-0.6l5.2-3l2.4-1.7l3.9-2.9l2.1-1.8l4.2-3.7l0.9-0.9l4.6-4.7l0.7-0.7l3.5-4l2.8-3.3l1.1-1.3l3.6-4.7l1.6-2l1.8-2.7l3.2-4.6l1.2-1.8l1.9-2.9"/>
<path stroke="#20a386" d="M253.9 494.5l-2.4-0.5l-6.2-0.8l-6.3-0.5l-6.3-0.4l-6.2-0.2l-6.3-0.1l-6.2-0.2l-6.3-0.1l-6.3-0.3l-6.2-0.4l-6.3-0.6l-4.6-0.6l-1.7-0.2l-6.2-0.9l-6.3-1.3l-6.2-1.5l-2.8-0.7l-3.5-1.1l-6.3-2.1l-3.7-1.5l-2.5-1l-6.3-3l-1.3-0.7l-5-2.7l-3.1-1.9l-3.1-2.1l-3.6-2.6l-2.7-2.1l-3-2.6l-3.2-3l-1.7-1.6l-4.3-4.7l-0.3-0.4l-3.5-4.3l-2.8-4l-0.4-0.6l-2.9-4.7l-2.6-4.7l-0.3-0.7l-1.9-3.9l-1.9-4.7l-1.7-4.7l-0.8-2.5l-0.7-2.1l-1.2-4.7l-1.2-4.7l-0.9-4.6l-0.9-4.7l-0.8-4.7l-0.6-3.6l-0.1-1l-0.9-4.7l-0.9-4.7l-1-4.6l-1.3-4.7l-1.7-4.7l-0.3-0.8l-1.8-3.8l-2.7-4.7l-1.8-2.4l-1.7-2.3l-4.3-4.6l-0.3-0.3M683.6 492.7l-2.7 1.8M487.5 373.2l2 0.7l6.3 0.7l6.2-0.8l1.7-0.6l4.6-1.8l4.9-2.9l1.4-0.9l4.4-3.8l1.8-1.7l2.5-2.9l3.4-4.7l0.4-0.8l1.8-3.9l1.2-4.6l0.2-4.7l-1.2-4.7l-2-3.5l-1-1.1l-5.3-3.9l-1.9-0.8l-4.3-1.4l-6.3-0.9l-6.3 0.1l-6.2 1l-4.1 1.2l-2.2 0.8l-6.3 3.5l-0.5 0.4l-4.9 4.6l-0.8 1.1l-2.2 3.6l-1.9 4.7l-0.9 4.6l0.1 4.7l1.2 4.7l2.2 4.6l1.5 2.1l2.6 2.6l3.6 2.8zM211.9 242.5l2.1 1.4l6.2 2.2l6.3 0.2l6.2-1.2l6.3-2.3l0.7-0.3l5.6-2.7l3.2-2l3-1.8l4.2-2.8l2.1-1.6l3.9-3.1l2.4-2.1l2.6-2.6l3.6-3.9l0.6-0.7l3.2-4.7l2.4-4.7l0.1-0.1l1.3-4.5l0.6-4.7l-0.1-4.7l-0.9-4.6l-0.9-2.7l-0.7-2l-2.5-4.7l-3.1-4.6l0-0.1l-4.2-4.6l-2-1.9l-3.5-2.8l-2.8-1.9l-4.7-2.7l-1.6-0.8l-6.2-2.6l-4.3-1.3l-2-0.6l-6.3-1.1l-6.2-0.6l-6.3 0.2l-6.2 1l-3.3 1.1l-3 1.2l-5.4 3.5l-0.9 0.6l-3.6 4l-2.6 3.8l-0.5 0.9l-1.9 4.7l-1.3 4.6l-0.8 4.7l-0.2 4.7l0.1 4.6l0.6 4.7l0.8 4.7l1.1 4.6l1.4 4.7l0.7 2.2l0.9 2.5l2 4.6l2.2 4.7l1.1 2.1l1.8 2.6l3.4 4.6l1.1 1.3zM63.6 46.4l6.3-1l6.3-0.9l6.2-0.7l6.3-0.6l6.3-0.6l6.2-0.6l1.2-0.2l5.1-0.5l6.3-0.9l6.2-1.2l6.3-1.5l1.7-0.5l4.5-1.5l6.3-2.7l1-0.5M377.1 32.5l5.9 4.5l0.3 0.2l6 4l1.1 0.6l5.2 3.1l2.9 1.6l3.3 1.8l5.9 2.9l0.4 0.1l6.3 2.9l3.8 1.6l2.4 1.1l6.3 2.5l2.7 1.1l3.5 1.4l6.3 2.5l2 0.8l4.3 1.6l6.2 2.4l1.6 0.6l4.7 1.8l6.3 2.3l1.8 0.6l4.4 1.6l6.3 1.9l4.2 1.2l2 0.6l6.3 1.3l6.3 0.9l6.2 0.4l6.3-0.2l6.3-1l6.2-1.8l0.5-0.2l5.8-2.5l3.7-2.2l2.5-1.5l4.3-3.2l2-1.4l3.6-3.2l2.7-2.4l2.3-2.3l3.9-4.1l0.5-0.6l4-4.6l1.8-2.1l2-2.6l3.5-4.7l0.8-0.9l2.5-3.7l3.2-4.7"/>
<path stroke="#22a785" d="M236.5 494.5l-3.8-0.2l-6.2-0.3l-6.3-0.2l-6.2-0.2l-6.3-0.2l-6.3-0.3l-6.2-0.5l-6.3-0.6l-6.3-0.7l-6.2-1l-2.3-0.5l-4-0.7l-6.2-1.5l-6.3-1.8l-1.9-0.6l-4.4-1.5l-6.2-2.5l-1.6-0.7l-4.7-2.2l-4.7-2.5l-1.6-0.8l-6.1-3.8l-0.1-0.1l-6.3-4.6l-5.5-4.7l-0.7-0.7l-4.1-3.9l-2.2-2.5l-2-2.2l-3.6-4.7l-0.7-0.9l-2.6-3.7l-2.8-4.7l-0.8-1.5l-1.7-3.2l-2.2-4.6l-1.9-4.7l-0.5-1.3l-1.2-3.4l-1.5-4.6l-1.3-4.7l-1.1-4.7l-1-4.6l-0.2-0.9l-0.7-3.8l-0.9-4.7l-0.9-4.6l-0.8-4.7l-1-4.7l-1.2-4.6l-0.7-2.4l-0.8-2.3l-1.8-4.7l-2.3-4.6l-1.4-2.4l-1.5-2.3l-3.6-4.7l-1.2-1.2M487.6 363.8l1.9 1.2l6.3 1.5l6.2-0.7l5-2l1.3-0.6l5.4-4l0.9-0.9l3-3.8l2.6-4.7l0.6-2.3l0.5-2.3l-0.5-4.6l0-0.1l-3.3-4.7l-2.9-2.1l-6.3-2.2l-6.3-0.2l-6.2 1.3l-6.3 2.9l-0.5 0.3l-4.9 4.7l-0.9 1.2l-1.6 3.5l-1 4.6l0.3 4.7l1.8 4.7l0.5 0.8zM216.4 237.8l3.8 1.7l6.3 0.8l6.2-0.8l5.5-1.7l0.8-0.2l6.3-3l2.4-1.4l3.8-2.4l3.3-2.3l3-2.3l2.6-2.4l3.7-3.6l0.9-1l3.5-4.7l1.8-3.2l0.8-1.5l1.5-4.6l0.7-4.7l-0.1-4.7l-0.9-4.6l-1.7-4.7l-0.3-0.6l-2.3-4.1l-3.5-4.6l-0.4-0.5l-4.5-4.2l-1.8-1.5l-4.9-3.2l-1.4-0.8l-6.2-2.8l-3-1l-3.3-1l-6.3-1.2l-6.2-0.5l-6.3 0.5l-6.2 1.4l-1.8 0.8l-4.5 2.4l-2.9 2.2l-3.4 3.5l-0.8 1.2l-2.6 4.7l-1.7 4.6l-1 4.7l-0.1 1.1l-0.3 3.6l0 4.6l0.3 2.3l0.2 2.4l0.9 4.7l1.3 4.6l1.5 4.7l1.8 4.7l0.5 1.1l1.9 3.5l2.9 4.7l1.5 2.2l2.4 2.5l3.9 3.4zM63.6 44.7l6.3-1l6.3-0.9l6.2-0.7l2.1-0.3l4.2-0.4l6.3-0.7l6.2-0.7l6.3-0.8l6.3-1l5.3-1l0.9-0.2l6.3-1.7l6.2-2.1l1.6-0.7M380.4 32.5l2.6 2l3.9 2.7l2.4 1.6l4.9 3l1.4 0.8l6.2 3.5l0.9 0.4l5.4 2.7l4.2 2l2.1 0.9l6.2 2.7l2.5 1l3.8 1.6l6.2 2.5l1.5 0.6l4.8 1.9l6.3 2.4l1 0.4l5.2 2l6.3 2.3l1 0.3l5.3 1.9l6.2 2.1l2.4 0.7l3.9 1.2l6.2 1.6l6.3 1.3l4.2 0.6l2.1 0.3l6.2 0.2l6.3-0.3l1.3-0.2l5-0.9l6.2-1.9l4.2-1.9l2.1-0.9l6.2-3.8l6.2-4.6l0.1-0.1l5.2-4.6l1.1-1l3.5-3.7l2.7-2.8l1.6-1.8l3.9-4.7l0.8-1l2.8-3.7l3.5-4.6l3.2-4.7"/>
<path stroke="#24aa83" d="M198.3 494.5l-3.1-0.2l-6.3-0.6l-6.3-0.8l-6.2-1l-6.3-1.2l-3.6-0.9l-2.6-0.6l-6.3-1.7l-6.3-2.1l-0.6-0.2l-5.6-2.2l-5.5-2.5l-0.8-0.4l-6.3-3.3l-1.7-1l-4.5-2.8l-2.8-1.8l-3.5-2.6l-2.7-2.1l-3.5-3.1l-1.8-1.6l-4.5-4.5l-0.2-0.1l-4-4.7l-2.1-2.6l-1.5-2.1l-3.2-4.6l-1.5-2.6l-1.3-2.1l-2.5-4.7l-2.1-4.6l-0.4-1l-1.6-3.7l-1.6-4.7l-1.5-4.6l-1.3-4.7l-0.3-1.1l-0.9-3.6l-1-4.6l-1-4.7l-0.9-4.7l-1-4.6l-0.9-4.7l-0.5-2.2l-0.6-2.5l-1.3-4.6l-1.6-4.7l-2-4.7l-0.8-1.5l-1.7-3.1l-3-4.7l-1.6-1.9M223.3 233.2l3.2 0.6l6.2-0.3l1.3-0.3l5-1.5l6.3-2.8l0.7-0.4l5.5-3.6l1.4-1.1l4.9-4.2l0.4-0.4l3.9-4.7l2-3l0.9-1.7l1.7-4.6l0.9-4.7l-0.1-4.7l-1-4.6l-1.8-4.7l-0.6-1.1l-2.4-3.6l-3.9-4.5l-0.2-0.1l-6-4.7l-0.1-0.1l-6.2-3.2l-3.7-1.4l-2.6-0.8l-6.3-1.2l-6.2-0.3l-6.3 0.8l-4.9 1.5l-1.3 0.6l-6 4.1l-0.3 0.3l-3.3 4.4l-2.4 4.6l-0.6 1.6l-0.8 3.1l-0.6 4.7l0 4.6l0.4 4.7l0.8 4.7l0.2 0.7l1.3 3.9l1.8 4.7l2.2 4.7l1 1.7l2.2 2.9l4 4.7l0.1 0l6.2 3.9zM63.6 43l6.3-1l0.9-0.2l5.4-0.7l6.2-0.8l6.3-0.8l6.3-0.7l6.2-0.8l6.3-0.8l6.3-1.1l6.2-1.4l6.3-1.8l1.3-0.4M383.7 32.5l5.6 3.9l1.2 0.8l5.1 3.1l2.6 1.5l3.6 2l5.2 2.7l1.1 0.5l6.3 3l2.6 1.2l3.6 1.5l6.3 2.7l1.2 0.4l5 2.1l6.3 2.4l0.5 0.2l5.8 2.2l6.2 2.4l0.3 0.1l6 2.1l6.3 2.2l1 0.3l5.2 1.7l6.3 1.8l4.7 1.2l1.5 0.4l6.3 1.2l6.3 0.7l6.2 0.2l6.3-0.4l6.3-1.2l2.8-0.9l3.4-1.1l6.3-2.9l1-0.7l5.2-3.2l2-1.4l4.3-3.4l1.5-1.3l4.8-4.4l0.3-0.3l4.4-4.6l1.5-1.7l2.6-3l3.7-4.5l0.1-0.2l3.5-4.6l2.7-3.7l0.6-1"/>
<path stroke="#27ad81" d="M182.4 494.5l-6-0.9l-6.3-1.2l-6.2-1.5l-3.8-1.1l-2.5-0.7l-6.3-2l-5.1-1.9l-1.1-0.5l-6.3-2.8l-2.9-1.4l-3.4-1.8l-4.9-2.9l-1.3-0.8l-5.7-3.8l-0.6-0.5l-5.3-4.2l-0.9-0.8l-4.3-3.9l-2-2l-2.5-2.6l-3.8-4.4l-0.2-0.3l-3.5-4.7l-2.5-3.7l-0.6-0.9l-2.8-4.7l-2.4-4.7l-0.5-1l-1.7-3.6l-1.9-4.7l-1.7-4.7l-1-3.1l-0.5-1.5l-1.3-4.7l-1.2-4.7l-1.1-4.6l-1-4.7l-1-4.7l-0.1-0.7l-0.9-3.9l-1.1-4.7l-1.2-4.7l-1.4-4.6l-1.7-4.6l0-0.1l-2.1-4.7l-2.7-4.6l-1.5-2.3M219.7 223.8l0.5 0.4l6.3 2.2l6.2 0.2l6.3-1.5l2.7-1.3l3.6-1.7l4.1-2.9l2.1-1.8l2.9-2.9l3.4-4.5l0.1-0.2l2-4.6l1-4.7l0-4.7l-1.1-4.6l-2-4.5l-0.1-0.2l-3.8-4.7l-2.4-2.3l-3.2-2.3l-3-1.9l-6.3-2.6l-0.8-0.2l-5.5-1l-6.2-0.1l-5.7 1.1l-0.6 0.1l-6.2 3.6l-1.1 1l-3.7 4.6l-1.5 3l-0.6 1.7l-1 4.7l-0.2 4.6l0.4 4.7l0.9 4.7l0.5 1.6l1.2 3l2.3 4.7l2.8 4.2l0.4 0.5zM63.6 41.3l6.3-1.1l6.3-0.9l6.2-0.8l6.3-0.8l4.3-0.5l2-0.3l6.2-0.8l6.3-1l6.3-1.2l6-1.4M387.2 32.5l2.1 1.4l5 3.3l1.3 0.8l6.2 3.6l0.5 0.2l5.8 3l3.4 1.7l2.9 1.3l6.2 2.8l1.3 0.6l5 2.1l6.2 2.5l0.1 0l6.2 2.4l5.9 2.3l0.4 0.1l6.2 2.3l6.3 2.3l6.3 2.1l6.2 1.9l2.2 0.6l4.1 1.2l6.2 1.4l6.3 1.2l6.3 0.6l6.2 0.1l6.3-0.6l6.3-1.2l6.2-2.2l1.1-0.5l5.2-2.5l3.5-2.1l2.7-1.8l3.8-2.9l2.5-2l3-2.7l3.3-3.1l1.5-1.5l4.3-4.7l0.4-0.5l3.5-4.2l2.8-3.4l0.9-1.2l3.4-4.7"/>
<path stroke="#2cb17e" d="M172.7 494.5l-2.6-0.5l-6.2-1.4l-6.3-1.8l-3.2-1l-3.1-1l-6.2-2.3l-3.1-1.3l-3.2-1.4l-6.3-3.2l-0.2-0.1l-6-3.5l-1.8-1.2l-4.5-3l-2.2-1.6l-4-3.2l-1.8-1.5l-4.5-4.2l-0.5-0.5l-4.4-4.6l-1.4-1.7l-2.5-3l-3.4-4.7l-0.3-0.4l-2.8-4.2l-2.7-4.7l-0.8-1.6l-1.6-3.1l-2.2-4.6l-1.8-4.7l-0.7-1.7l-1-3l-1.6-4.6l-1.3-4.7l-1.2-4.7l-1.1-4.6l-1.1-4.7l-1.1-4.7l-1.1-4.6l-1.1-4.7l-1.3-4.7l-0.6-1.7l-1-2.9l-1.8-4.7l-2.3-4.7l-1.2-2M221.8 214.5l4.7 2.7l6.2 0.9l6.3-1.5l3.8-2.1l2.5-1.7l2.8-3l3.2-4.6l0.2-0.6l1.1-4.1l0-4.7l-1.1-3.8l-0.3-0.8l-3.3-4.7l-2.6-2.5l-3.4-2.2l-2.9-1.4l-6.3-1.5l-6.2 0.4l-6.3 2.5l-4 4.7l-2.2 4.7l0 0.1l-0.6 4.5l0.3 4.7l0.3 0.9l1.2 3.8l2.5 4.6l2.5 3.5zM63.6 39.5l6.3-1l6.3-1l2.7-0.3l3.5-0.5l6.3-0.9l6.3-0.8l6.2-0.9l6.3-1.1l2.6-0.5M390.8 32.5l4.8 3.1l2.6 1.6l3.6 2l4.8 2.6l1.5 0.8l6.3 3l1.8 0.9l4.4 2l6.3 2.7l6.2 2.5l5.5 2.1l0.8 0.3l6.3 2.4l5.5 2l0.7 0.3l6.3 2.2l6.3 2l0.4 0.2l5.8 1.7l6.3 1.7l5.6 1.2l0.6 0.2l6.3 1l6.3 0.6l6.2 0l6.3-0.7l4.8-1.1l1.5-0.3l6.2-2.2l4.3-2.1l2-1l5.7-3.7l0.5-0.3l5.5-4.4l0.8-0.6l4.3-4l2-1.9l2.6-2.8l3.6-4l0.6-0.7l3.7-4.6l2-2.5l1.6-2.2"/>
<path stroke="#2fb47c" d="M164.9 494.5l-1-0.2l-6.3-1.7l-6.3-2l-2-0.8l-4.2-1.5l-6.3-2.7l-0.9-0.4l-5.4-2.7l-3.6-2l-2.6-1.5l-4.9-3.2l-1.4-0.9l-5-3.7l-1.2-1l-4.4-3.7l-1.9-1.8l-3-2.9l-3.3-3.5l-1-1.1l-3.8-4.7l-1.4-2l-2-2.7l-3-4.6l-1.3-2.4l-1.3-2.3l-2.4-4.7l-2.1-4.6l-0.5-1.1l-1.4-3.6l-1.7-4.7l-1.6-4.6l-1.3-4.7l-0.2-0.8l-1.1-3.9l-1.2-4.6l-1.1-4.7l-1.1-4.7l-1.1-4.6l-0.7-2.5l-0.6-2.2l-1.4-4.7l-1.7-4.6l-2-4.7l-0.6-1.2M230.7 200.5l2 1.3l2.2-1.3l0.3-4.7l-2.5-1.7l-2.5 1.7zM63.6 37.8l3.8-0.6l2.5-0.5l6.3-1l6.2-0.9l6.3-0.9l6.3-0.9l3.4-0.5M394.6 32.5l1 0.6l6.2 3.8l0.5 0.3l5.8 3.1l3 1.5l3.3 1.6l6.2 2.9l0.5 0.2l5.8 2.5l5.3 2.2l0.9 0.4l6.3 2.4l4.9 1.8l1.4 0.6l6.2 2.2l5.6 1.9l0.7 0.2l6.3 2l6.2 1.9l2.3 0.6l4 1l6.2 1.3l6.3 0.9l6.3 0.5l6.2-0.1l6.3-0.8l6.3-1.5l3.7-1.3l2.5-1l6.3-3.2l0.8-0.5l5.4-3.6l1.4-1.1l4.9-4l0.7-0.6l4.9-4.7l0.7-0.7l3.6-4l2.6-2.9l1.4-1.7l3.7-4.7"/>
<path stroke="#35b779" d="M158.4 494.5l-0.8-0.2l-6.3-2l-6.2-2.3l-0.6-0.2l-5.7-2.4l-4.7-2.2l-1.6-0.8l-6.2-3.4l-0.8-0.5l-5.5-3.5l-1.7-1.2l-4.5-3.4l-1.6-1.2l-4.7-4.1l-0.7-0.6l-4.7-4.7l-0.9-0.9l-3.3-3.7l-2.9-3.6l-0.9-1.1l-3.3-4.7l-2.1-3.3l-0.8-1.3l-2.7-4.7l-2.3-4.7l-0.5-0.9l-1.7-3.7l-1.9-4.7l-1.6-4.7l-1-3l-0.6-1.6l-1.4-4.7l-1.3-4.7l-1.2-4.6l-1.1-4.7l-0.7-2.6l-0.5-2.1l-1.3-4.6l-1.3-4.7l-1.6-4.7l-1.6-4.2M63.6 36l6.3-1.1l6.3-1l6.2-0.9l3.2-0.5M398.5 32.5l3.3 2l4.8 2.7l1.5 0.8l6.3 3.2l1.4 0.6l4.8 2.3l5.5 2.4l0.8 0.3l6.2 2.6l4.6 1.8l1.7 0.6l6.3 2.4l4.7 1.6l1.5 0.6l6.3 2.1l6.3 2l0.1 0l6.1 1.7l6.3 1.6l6.2 1.2l1.4 0.2l4.9 0.6l6.3 0.4l6.2-0.2l6.1-0.8l0.2-0.1l6.3-1.6l6.2-2.4l1.2-0.6l5.1-2.7l2.9-2l3.3-2.2l3-2.4l3.3-2.8l2-1.9l4.3-4.2l0.4-0.5l4.1-4.6l1.7-2l2.2-2.7"/>
<path stroke="#3bbb75" d="M152.6 494.5l-1.3-0.4l-6.2-2.2l-5-2.1l-1.3-0.5l-6.3-3l-2.2-1.1l-4-2.2l-4.1-2.5l-2.2-1.4l-4.7-3.3l-1.5-1.1l-4.4-3.5l-1.9-1.7l-3.3-3l-3-2.9l-1.6-1.8l-4.1-4.6l-0.5-0.7l-3.2-4l-3.1-4.5l-0.1-0.2l-3-4.6l-2.6-4.7l-0.6-1.2l-1.7-3.5l-2.1-4.6l-1.9-4.7l-0.5-1.5l-1.2-3.2l-1.6-4.6l-1.4-4.7l-1.3-4.7l-0.8-3l-0.4-1.6l-1.3-4.7l-1.2-4.7l-1.3-4.6l-1.5-4.7l-0.6-1.7M63.6 34.2l6.3-1.1l3.7-0.6M402.5 32.5l5.6 3.1l2.9 1.6l3.4 1.6l6.2 3l6.3 2.8l4.6 1.9l1.6 0.7l6.3 2.4l4.2 1.6l2.1 0.7l6.2 2.2l5.1 1.7l1.2 0.4l6.3 1.9l6.2 1.7l2.9 0.7l3.4 0.8l6.2 1.1l6.3 0.8l6.3 0.3l6.2-0.3l6.3-1l6.3-1.7l6.2-2.5l4-2.2l2.3-1.2l4.9-3.4l1.3-1l4.5-3.7l1.8-1.6l3.2-3.1l3.1-3.1l1.3-1.5l4.1-4.7"/>
<path stroke="#42be71" d="M147.4 494.5l-2.3-0.8l-6.3-2.5l-2.9-1.4l-3.4-1.5l-5.8-3.1l-0.4-0.2l-6.3-3.8l-1-0.7l-5.2-3.6l-1.4-1.1l-4.9-3.9l-0.9-0.7l-5.1-4.7l-0.3-0.3l-4.1-4.4l-2.1-2.4l-1.9-2.2l-3.6-4.7l-0.8-1.1l-2.4-3.6l-2.9-4.6l-1-1.8l-1.6-2.9l-2.3-4.7l-2.1-4.6l-0.2-0.7l-1.7-4l-1.7-4.7l-1.5-4.6l-1.4-4.4l-0.1-0.3l-1.3-4.7l-1.4-4.6l-1.2-4.7l-1.3-4.7l-1-3.1M406.8 32.5l1.3 0.7l6.3 3.3l1.3 0.7l4.9 2.3l5.2 2.3l1.1 0.5l6.2 2.6l4 1.6l2.3 0.9l6.3 2.3l4.2 1.5l2 0.7l6.3 2l6.3 1.9l0.2 0l6 1.6l6.3 1.4l6.2 1.1l6 0.6l0.3 0l6.3 0.2l3.4-0.2l2.8-0.2l6.3-1.1l6.3-1.8l3.8-1.6l2.4-1l6.3-3.5l0.1-0.1l6.1-4.4l0.4-0.3l5.5-4.7l0.4-0.4l4.3-4.2l2-2.1l2.2-2.6"/>
<path stroke="#48c16e" d="M142.4 494.5l-3.6-1.4l-6.3-2.9l-0.7-0.4l-5.5-2.8l-3.2-1.8l-3.1-1.9l-4.2-2.8l-2-1.4l-4.4-3.3l-1.9-1.5l-3.7-3.1l-2.6-2.5l-2.3-2.2l-3.9-4.2l-0.5-0.5l-3.9-4.6l-1.9-2.6l-1.6-2.1l-3.1-4.7l-1.6-2.5l-1.3-2.1l-2.5-4.7l-2.3-4.7l-0.1-0.3l-2-4.3l-1.9-4.7l-1.7-4.7l-0.7-2.1l-0.9-2.5l-1.5-4.7l-1.4-4.7l-1.3-4.6l-1.2-4.1M411.3 32.5l3.1 1.6l6.2 3.1l6.3 2.8l4.3 1.8l1.9 0.8l6.3 2.5l3.8 1.4l2.5 0.9l6.2 2.1l5.1 1.7l1.2 0.3l6.3 1.8l6.2 1.6l4.2 0.9l2.1 0.5l6.2 0.9l6.3 0.6l6.3 0.1l6.2-0.5l6.3-1.2l1.4-0.4l4.9-1.5l6.2-2.7l0.8-0.4l5.5-3.3l2-1.4l4.2-3.1l1.8-1.6l4.5-3.9l0.7-0.7l4.5-4.7"/>
<path stroke="#50c46a" d="M137.8 494.5l-5.3-2.3l-4.6-2.4l-1.6-0.8l-6.3-3.6l-0.4-0.2l-5.8-3.9l-1.2-0.8l-5.1-3.8l-1-0.9l-5.3-4.5l-0.1-0.1l-4.8-4.7l-1.3-1.4l-3-3.3l-3.3-4l-0.5-0.6l-3.5-4.7l-2.3-3.5l-0.8-1.2l-2.8-4.6l-2.5-4.7l-0.1-0.3l-2.2-4.4l-2-4.6l-1.9-4.7l-0.2-0.5l-1.6-4.2l-1.6-4.6l-1.5-4.7l-1.4-4.7l-0.2-0.6M416 32.5l4.6 2.3l5.2 2.4l1.1 0.4l6.2 2.7l3.9 1.5l2.4 1l6.3 2.2l4.2 1.5l2 0.7l6.3 1.9l6.3 1.8l1 0.3l5.2 1.2l6.3 1.3l6.2 0.9l6.3 0.5l6.3 0l6.2-0.6l6.3-1.3l6.3-2l6.2-2.9l3.1-1.8l3.2-1.9l3.7-2.8l2.5-1.9l3.1-2.7l3.2-3l1.7-1.7"/>
<path stroke="#58c765" d="M133.3 494.5l-0.8-0.3l-6.2-3.1l-2.3-1.3l-4-2.3l-3.8-2.3l-2.4-1.6l-4.4-3.1l-1.9-1.5l-4-3.2l-2.3-2l-2.9-2.6l-3.3-3.3l-1.4-1.4l-4.1-4.7l-0.8-0.9l-3-3.7l-3.3-4.6l-0.1-0.1l-3-4.7l-2.8-4.6l-0.3-0.7l-2.2-4l-2.3-4.7l-1.8-4.2l-0.2-0.4l-1.9-4.7l-1.8-4.7l-1.6-4.6l-0.8-2.5M420.9 32.5l6 2.7l4.5 2l1.7 0.7l6.3 2.5l4 1.4l2.3 0.9l6.2 2.1l5.6 1.7l0.7 0.2l6.3 1.7l6.2 1.5l6.3 1.2l0.5 0.1l5.7 0.7l6.3 0.4l6.3-0.1l6.2-0.7l1.6-0.3l4.7-1.1l6.3-2.1l3.1-1.5l3.1-1.5l5.2-3.2l1.1-0.7l5.2-3.9l1-0.9l4.2-3.8"/>
<path stroke="#5ec962" d="M129.1 494.5l-2.8-1.4l-6-3.3l-0.3-0.1l-6.2-3.9l-1-0.6l-5.3-3.8l-1.2-0.9l-5.1-4.1l-0.6-0.6l-5.1-4.6l-0.5-0.6l-4-4.1l-2.3-2.6l-1.8-2.1l-3.7-4.6l-0.8-1.1l-2.5-3.6l-3-4.7l-0.7-1.2l-2-3.4l-2.5-4.7l-1.8-3.7l-0.5-1l-2-4.6l-1.9-4.7l-1.8-4.7l-0.1-0.2M426.3 32.5l0.6 0.3l6.2 2.6l4.3 1.8l2 0.7l6.3 2.3l4.8 1.6l1.4 0.5l6.3 1.9l6.3 1.7l2.6 0.6l3.6 0.8l6.3 1.1l6.2 0.8l6.3 0.3l6.3-0.2l6.2-0.8l6.3-1.5l1.4-0.5l4.9-1.8l5.8-2.9l0.4-0.2l6.3-4l0.6-0.4l5.6-4.5l0.2-0.2"/>
<path stroke="#67cc5c" d="M124.9 494.5l-4.9-2.6l-3.4-2.1l-2.8-1.7l-4.4-2.9l-1.9-1.4l-4.3-3.3l-2-1.6l-3.6-3.1l-2.6-2.4l-2.3-2.2l-4-4.2l-0.4-0.5l-4-4.7l-1.9-2.3l-1.7-2.3l-3.3-4.7l-1.2-2l-1.7-2.7l-2.7-4.6l-1.9-3.6l-0.6-1.1l-2.2-4.7l-2.1-4.6l-1.4-3.4M432.1 32.5l1 0.5l6.3 2.4l4.7 1.8l1.6 0.5l6.2 2.1l6.3 1.9l0.6 0.1l5.7 1.5l6.2 1.4l6.3 1l6.2 0.7l3.1 0.1l3.2 0.1l2.4-0.1l3.9-0.2l6.2-0.9l6.3-1.6l5.1-2l1.2-0.4l6.2-3.2l1.6-1l4.7-3.2l1.9-1.5"/>
<path stroke="#70cf57" d="M120.8 494.5l-0.8-0.4l-6.2-3.7l-0.9-0.6l-5.4-3.6l-1.4-1l-4.9-3.7l-1.2-1l-5-4.4l-0.3-0.3l-4.8-4.6l-1.2-1.3l-3.2-3.4l-3.1-3.7l-0.7-1l-3.6-4.6l-1.9-2.9l-1.3-1.8l-2.9-4.7l-2.1-3.6l-0.6-1l-2.4-4.7l-2.2-4.7l-1.1-2.3M438.4 32.5l1 0.4l6.3 2.3l6 2l0.2 0.1l6.3 1.8l6.3 1.6l5.5 1.1l0.7 0.2l6.3 0.9l6.2 0.6l6.3 0.2l6.3-0.4l6.2-1.1l1.6-0.4l4.7-1.3l6.3-2.5l1.6-0.8l4.6-2.6l3.2-2.1"/>
<path stroke="#7ad151" d="M116.9 494.5l-3.1-1.8l-4.5-2.9l-1.8-1.2l-4.8-3.4l-1.5-1.2l-4.3-3.5l-1.9-1.7l-3.3-3l-3-2.9l-1.7-1.7l-4.2-4.7l-0.4-0.5l-3.4-4.2l-2.8-3.7l-0.7-0.9l-3.2-4.7l-2.4-4l-0.4-0.7l-2.7-4.6l-2.4-4.7l-0.8-1.7M445.4 32.5l0.3 0.1l6.2 2l6.3 1.8l3 0.8l3.3 0.8l6.2 1.2l6.3 0.9l6.2 0.5l6.3 0.1l6.3-0.5l6.2-1.2l6.3-1.8l6.3-2.7l3.7-2"/>
<path stroke="#81d34d" d="M113 494.5l-5.5-3.5l-1.7-1.2l-4.6-3.2l-1.8-1.4l-4.4-3.7l-1.2-1l-5.1-4.7l-4.6-4.6l-1.7-1.9l-2.4-2.8l-3.7-4.7l-0.1-0.1l-3.3-4.5l-3-4.5l-0.1-0.2l-2.9-4.7l-2.6-4.6l-0.7-1.4M454 32.5l4.2 1.2l6.3 1.5l6.2 1.2l5.8 0.8l0.5 0l6.2 0.5l6.3-0.1l4.6-0.4l1.7-0.2l6.2-1.3l6.3-1.9l2.9-1.3"/>
<path stroke="#8bd646" d="M109.1 494.5l-1.6-1l-5.3-3.7l-1-0.7l-5.1-3.9l-1.1-0.9l-4.4-3.8l-1.9-1.8l-3-2.9l-3.3-3.3l-1.2-1.3l-4-4.7l-1-1.3l-2.7-3.4l-3.3-4.6l-0.3-0.5l-2.8-4.2l-2.8-4.7l-0.7-1.2M465.2 32.5l5.5 1l6.3 0.8l6.2 0.3l6.3-0.2l6.3-0.7l5.7-1.2"/>
<path stroke="#95d840" d="M105.2 494.5l-4-2.7l-2.6-2l-3.6-2.8l-2.3-1.8l-4-3.5l-1.3-1.2l-4.8-4.7l-0.2-0.2l-4.1-4.4l-2.1-2.5l-1.9-2.2l-3.6-4.7l-0.8-1.1l-2.5-3.5l-3-4.7l-0.8-1.3"/>
<path stroke="#9dd93b" d="M101.4 494.5l-0.2-0.1l-6.2-4.6l-5.7-4.6l-0.6-0.6l-4.5-4.1l-1.8-1.7l-2.9-3l-3.3-3.6l-0.9-1l-3.9-4.7l-1.5-2l-2-2.7l-3.2-4.6l-1.1-1.6"/>
<path stroke="#a8db34" d="M97.6 494.5l-2.6-1.9l-3.6-2.8l-2.7-2.2l-2.8-2.4l-3.5-3.2l-1.5-1.5l-4.5-4.7l-0.2-0.2l-4-4.4l-2.3-2.9l-1.5-1.8l-3.4-4.7l-1.4-1.9"/>
<path stroke="#b2dd2d" d="M93.7 494.5l-5-3.9l-0.9-0.8l-5.3-4.6l-0.1 0l-4.8-4.7l-1.4-1.5l-3-3.2l-3.3-3.7l-0.8-0.9l-3.7-4.7l-1.8-2.4"/>
<path stroke="#bddf26" d="M89.8 494.5l-1.1-0.9l-4.6-3.8l-1.7-1.4l-3.5-3.2l-2.7-2.7l-2-2l-4.3-4.7l-4-4.6l-2.3-3"/>
<path stroke="#c5e021" d="M85.9 494.5l-3.5-2.9l-2-1.8l-4.2-3.9l-0.8-0.7l-4.6-4.7l-0.9-0.9l-3.3-3.8l-3-3.5"/>
<path stroke="#d0e11c" d="M82 494.5l-5.4-4.7l-0.4-0.4l-4.5-4.2l-1.8-1.9l-2.6-2.8l-3.7-4.1"/>
<path stroke="#dae319" d="M78 494.5l-1.8-1.6l-3.4-3.1l-2.9-2.8l-1.9-1.8l-4.3-4.7l-0.1-0.1"/>
<path stroke="#e2e418" d="M73.9 494.5l-4-3.7l-1-1l-4.6-4.6l-0.7-0.7"/>
<path stroke="#ece51b" d="M69.7 494.5l-4.8-4.7l-1.3-1.2"/>
<path stroke="#f6e620" d="M65.5 494.5l-1.9-1.8"/>
</g>
<g clip-path="url(#ax)">
<g fill="#2ca02c">
<circle cx="70.5" cy="134.5" r="4.86"/>
<circle cx="80.5" cy="241.5" r="4.86"/>
<circle cx="401.5" cy="147.5" r="4.86"/>
<circle cx="678.5" cy="37.5" r="4.86"/>
<circle cx="336.5" cy="315.5" r="4.86"/>
<circle cx="384.5" cy="460.5" r="4.86"/>
<circle cx="623.5" cy="430.5" r="4.86"/>
<circle cx="678.5" cy="305.5" r="4.86"/>
<circle cx="678.5" cy="368.5" r="4.86"/>
</g><g stroke="#2ca02c" stroke-width="2.083" fill="none">
<path d="M261.33 50.33L269.67 58.67M261.33 58.67L269.67 50.33"/>
<path d="M489.33 201.33L497.67 209.67M489.33 209.67L497.67 201.33"/>
<path d="M641.33 100.33L649.67 108.67M641.33 108.67L649.67 100.33"/>
<path d="M185.33 402.33L193.67 410.67M185.33 410.67L193.67 402.33"/>
</g></g>
<g stroke="#000" stroke-width="1.111" fill="none">
<rect x="64.5" y="32.5" width="620.0" height="462.0" stroke-linejoin="miter"/>
<path d="M70.50 494.50v4.861"/>
<path d="M64.50 490.50h-4.861"/>
<path d="M191.50 494.50v4.861"/>
<path d="M64.50 399.50h-4.861"/>
<path d="M313.50 494.50v4.861"/>
<path d="M64.50 309.50h-4.861"/>
<path d="M434.50 494.50v4.861"/>
<path d="M64.50 218.50h-4.861"/>
<path d="M556.50 494.50v4.861"/>
<path d="M64.50 128.50h-4.861"/>
<path d="M678.50 494.50v4.861"/>
<path d="M64.50 37.50h-4.861"/>
</g>
<g fill="none" stroke-width="2.083">
<path stroke="#440154" d="M722.5 494.00H746.5"/>
<path stroke="#450559" d="M722.5 488.00H746.5"/>
<path stroke="#460b5e" d="M722.5 481.00H746.5"/>
<path stroke="#471164" d="M722.5 474.00H746.5"/>
<path stroke="#481668" d="M722.5 468.00H746.5"/>
<path stroke="#481b6d" d="M722.5 461.00H746.5"/>
<path stroke="#482071" d="M722.5 454.00H746.5"/>
<path stroke="#482475" d="M722.5 448.00H746.5"/>
<path stroke="#482979" d="M722.5 441.00H746.5"/>
<path stroke="#472e7c" d="M722.5 434.00H746.5"/>
<path stroke="#46337f" d="M722.5 428.00H746.5"/>
<path stroke="#453781" d="M722.5 421.00H746.5"/>
<path stroke="#443b84" d="M722.5 414.00H746.5"/>
<path stroke="#424086" d="M722.5 407.00H746.5"/>
<path stroke="#414487" d="M722.5 401.00H746.5"/>
<path stroke="#3f4889" d="M722.5 394.00H746.5"/>
<path stroke="#3d4d8a" d="M722.5 387.00H746.5"/>
<path stroke="#3b518b" d="M722.5 381.00H746.5"/>
<path stroke="#3a548c" d="M722.5 374.00H746.5"/>
<path stroke="#38598c" d="M722.5 367.00H746.5"/>
<path stroke="#365d8d" d="M722.5 361.00H746.5"/>
<path stroke="#34608d" d="M722.5 354.00H746.5"/>
<path stroke="#32648e" d="M722.5 347.00H746.5"/>
<path stroke="#31688e" d="M722.5 340.00H746.5"/>
<path stroke="#2f6c8e" d="M722.5 334.00H746.5"/>
<path stroke="#2e6f8e" d="M722.5 327.00H746.5"/>
<path stroke="#2c728e" d="M722.5 320.00H746.5"/>
<path stroke="#2a768e" d="M722.5 314.00H746.5"/>
<path stroke="#29798e" d="M722.5 307.00H746.5"/>
<path stroke="#287d8e" d="M722.5 300.00H746.5"/>
<path stroke="#26818e" d="M722.5 294.00H746.5"/>
<path stroke="#25848e" d="M722.5 287.00H746.5"/>
<path stroke="#24878e" d="M722.5 280.00H746.5"/>
<path stroke="#228b8d" d="M722.5 274.00H746.5"/>
<path stroke="#218f8d" d="M722.5 267.00H746.5"/>
<path stroke="#20928c" d="M722.5 260.00H746.5"/>
<path stroke="#1f958b" d="M722.5 253.00H746.5"/>
<path stroke="#1f998a" d="M722.5 247.00H746.5"/>
<path stroke="#1e9c89" d="M722.5 240.00H746.5"/>
<path stroke="#1fa088" d="M722.5 233.00H746.5"/>
<path stroke="#20a386" d="M722.5 227.00H746.5"/>
<path stroke="#22a785" d="M722.5 220.00H746.5"/>
<path stroke="#24aa83" d="M722.5 213.00H746.5"/>
<path stroke="#27ad81" d="M722.5 207.00H746.5"/>
<path stroke="#2cb17e" d="M722.5 200.00H746.5"/>
<path stroke="#2fb47c" d="M722.5 193.00H746.5"/>
<path stroke="#35b779" d="M722.5 186.00H746.5"/>
<path stroke="#3bbb75" d="M722.5 180.00H746.5"/>
<path stroke="#42be71" d="M722.5 173.00H746.5"/>
<path stroke="#48c16e" d="M722.5 166.00H746.5"/>
<path stroke="#50c46a" d="M722.5 160.00H746.5"/>
<path stroke="#58c765" d="M722.5 153.00H746.5"/>
<path stroke="#5ec962" d="M722.5 146.00H746.5"/>
<path stroke="#67cc5c" d="M722.5 140.00H746.5"/>
<path stroke="#70cf57" d="M722.5 133.00H746.5"/>
<path stroke="#7ad151" d="M722.5 126.00H746.5"/>
<path stroke="#81d34d" d="M722.5 120.00H746.5"/>
<path stroke="#8bd646" d="M722.5 113.00H746.5"/>
<path stroke="#95d840" d="M722.5 106.00H746.5"/>
<path stroke="#9dd93b" d="M722.5 99.00H746.5"/>
<path stroke="#a8db34" d="M722.5 93.00H746.5"/>
<path stroke="#b2dd2d" d="M722.5 86.00H746.5"/>
<path stroke="#bddf26" d="M722.5 79.00H746.5"/>
<path stroke="#c5e021" d="M722.5 73.00H746.5"/>
<path stroke="#d0e11c" d="M722.5 66.00H746.5"/>
<path stroke="#dae319" d="M722.5 59.00H746.5"/>
<path stroke="#e2e418" d="M722.5 53.00H746.5"/>
<path stroke="#ece51b" d="M722.5 46.00H746.5"/>
<path stroke="#f6e620" d="M722.5 39.00H746.5"/>
<path stroke="#fde725" d="M722.5 32.00H746.5"/>
</g>
<g stroke="#000" stroke-width="1.111" fill="none">
<rect x="722.5" y="32.5" width="24.0" height="462.0"/>
<path d="M746.5 494.50h4.861"/>
<path d="M746.5 448.50h4.861"/>
<path d="M746.5 401.50h4.861"/>
<path d="M746.5 354.50h4.861"/>
<path d="M746.5 307.50h4.861"/>
<path d="M746.5 260.50h4.861"/>
<path d="M746.5 213.50h4.861"/>
<path d="M746.5 166.50h4.861"/>
<path d="M746.5 120.50h4.861"/>
<path d="M746.5 73.50h4.861"/>
</g>
<g font-family="'DejaVu Sans','Liberation Sans',sans-serif" font-size="13.889" fill="#000" stroke="#000" stroke-width="0.2" letter-spacing="-0.8">
<text x="69.83" y="514.60" text-anchor="middle">0.0</text>
<text x="52.70" y="495.27" text-anchor="end">0.0</text>
<text x="191.40" y="514.60" text-anchor="middle">0.2</text>
<text x="52.70" y="404.68" text-anchor="end">0.2</text>
<text x="312.97" y="514.60" text-anchor="middle">0.4</text>
<text x="52.70" y="314.09" text-anchor="end">0.4</text>
<text x="434.53" y="514.60" text-anchor="middle">0.6</text>
<text x="52.70" y="223.51" text-anchor="end">0.6</text>
<text x="556.10" y="514.60" text-anchor="middle">0.8</text>
<text x="52.70" y="132.92" text-anchor="end">0.8</text>
<text x="677.67" y="514.60" text-anchor="middle">1.0</text>
<text x="52.70" y="42.33" text-anchor="end">1.0</text>
<text x="755.90" y="499.80" letter-spacing="-0.35">0.000</text>
<text x="755.90" y="452.93" letter-spacing="-0.35">0.035</text>
<text x="755.90" y="406.06" letter-spacing="-0.35">0.070</text>
<text x="755.90" y="359.19" letter-spacing="-0.35">0.105</text>
<text x="755.90" y="312.32" letter-spacing="-0.35">0.140</text>
<text x="755.90" y="265.45" letter-spacing="-0.35">0.175</text>
<text x="755.90" y="218.58" letter-spacing="-0.35">0.210</text>
<text x="755.90" y="171.71" letter-spacing="-0.35">0.245</text>
<text x="755.90" y="124.84" letter-spacing="-0.35">0.280</text>
<text x="755.90" y="77.97" letter-spacing="-0.35">0.315</text>
</g>
<g font-family="'DejaVu Sans','Liberation Sans',sans-serif" font-size="13.889" fill="#000" stroke="#000" stroke-width="0.12">
<text x="366.2" y="534.8" font-style="italic">X</text><text x="376" y="536.6" font-size="9.722">1</text>
<text transform="translate(20 271.7) rotate(-90)" font-style="italic">X</text><text transform="translate(22 262.2) rotate(-90)" font-size="9.722">2</text>
</g>
<text font-family="'DejaVu Sans','Liberation Sans',sans-serif" font-size="16.667" stroke="#000" stroke-width="0.2" transform="translate(374.80 23.90) scale(1 1.07)" text-anchor="middle">Variance contour with queried points at iter:4</text>
</svg>
</body></html>
